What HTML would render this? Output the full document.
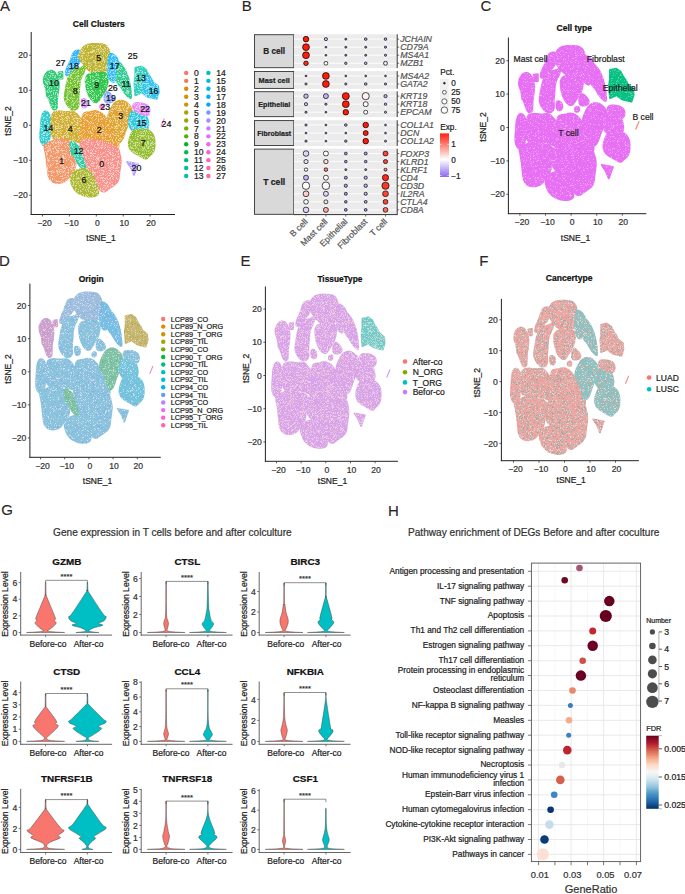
<!DOCTYPE html>
<html><head><meta charset="utf-8"><style>
html,body{margin:0;padding:0;background:#fff;width:685px;height:894px;overflow:hidden}
svg{display:block;font-family:"Liberation Sans", sans-serif}
</style></head><body>
<svg width="685" height="894" viewBox="0 0 685 894">
<rect width="685" height="894" fill="#fff"/>
<defs><filter id="speck" x="0" y="0" width="685" height="894" filterUnits="userSpaceOnUse" color-interpolation-filters="sRGB"><feTurbulence type="fractalNoise" baseFrequency="2.6" numOctaves="1" seed="3" result="n"/><feColorMatrix in="n" type="matrix" values="0 0 0 0 0  0 0 0 0 0  0 0 0 0 0  0 0 0 -12 7.2" result="m"/><feGaussianBlur in="m" stdDeviation="0.3" result="mb"/><feComposite in="SourceGraphic" in2="mb" operator="in"/></filter><filter id="speckC" x="0" y="0" width="685" height="894" filterUnits="userSpaceOnUse" color-interpolation-filters="sRGB"><feTurbulence type="fractalNoise" baseFrequency="2.6" numOctaves="1" seed="3" result="n"/><feColorMatrix in="n" type="matrix" values="0 0 0 0 0  0 0 0 0 0  0 0 0 0 0  0 0 0 -12 8.2" result="m"/><feGaussianBlur in="m" stdDeviation="0.3" result="mb"/><feComposite in="SourceGraphic" in2="mb" operator="in"/></filter><filter id="speckD" x="0" y="0" width="685" height="894" filterUnits="userSpaceOnUse" color-interpolation-filters="sRGB"><feTurbulence type="fractalNoise" baseFrequency="2.6" numOctaves="1" seed="5" result="n"/><feColorMatrix in="n" type="matrix" values="0 0 0 0 0  0 0 0 0 0  0 0 0 0 0  0 0 0 -12 6.6" result="m"/><feGaussianBlur in="m" stdDeviation="0.3" result="mb"/><feComposite in="SourceGraphic" in2="mb" operator="in"/></filter><filter id="sp1" x="0" y="0" width="685" height="894" filterUnits="userSpaceOnUse" color-interpolation-filters="sRGB"><feTurbulence type="fractalNoise" baseFrequency="2.6" numOctaves="1" seed="7" result="n"/><feColorMatrix in="n" type="matrix" values="0 0 0 0 0  0 0 0 0 0  0 0 0 0 0  0 0 0 12 -5.6" result="m"/><feGaussianBlur in="m" stdDeviation="0.3" result="mb"/><feComposite in="SourceGraphic" in2="mb" operator="in"/></filter><filter id="sp2" x="0" y="0" width="685" height="894" filterUnits="userSpaceOnUse" color-interpolation-filters="sRGB"><feTurbulence type="fractalNoise" baseFrequency="2.6" numOctaves="1" seed="11" result="n"/><feColorMatrix in="n" type="matrix" values="0 0 0 0 0  0 0 0 0 0  0 0 0 0 0  0 0 0 12 -6.2" result="m"/><feGaussianBlur in="m" stdDeviation="0.3" result="mb"/><feComposite in="SourceGraphic" in2="mb" operator="in"/></filter><filter id="sp3" x="0" y="0" width="685" height="894" filterUnits="userSpaceOnUse" color-interpolation-filters="sRGB"><feTurbulence type="fractalNoise" baseFrequency="2.6" numOctaves="1" seed="11" result="n"/><feColorMatrix in="n" type="matrix" values="0 0 0 0 0  0 0 0 0 0  0 0 0 0 0  0 0 0 12 -7.0" result="m"/><feGaussianBlur in="m" stdDeviation="0.3" result="mb"/><feComposite in="SourceGraphic" in2="mb" operator="in"/></filter><filter id="soft" x="0" y="0" width="685" height="894" filterUnits="userSpaceOnUse"><feGaussianBlur stdDeviation="0.7"/></filter></defs>
<text x="-0.1" y="10.6" font-size="15" text-anchor="start" fill="#2A2426" stroke="#2A2426" stroke-width="0.12">A</text>
<text x="98.8" y="27.1" font-size="8.5" text-anchor="middle" fill="#111" font-weight="bold"  stroke="#111" stroke-width="0.22">Cell Clusters</text>
<g filter="url(#soft)" opacity="0.8">
<polygon points="45.2,75.0 45.9,73.8 46.7,72.8 47.6,72.0 48.5,71.3 49.6,70.9 50.6,70.7 51.7,70.7 52.8,71.0 53.8,71.6 54.9,72.5 55.9,73.9 56.8,75.7 57.7,77.9 58.3,80.0 58.7,82.1 58.8,84.1 58.8,86.1 58.6,88.0 58.4,90.0 58.1,92.0 57.8,93.9 57.5,95.9 57.3,97.7 57.2,99.6 57.1,101.3 57.1,102.9 57.0,104.4 57.0,105.7 57.0,106.8 56.8,107.8 56.3,108.6 55.7,109.2 54.8,109.6 54.0,109.6 53.2,109.2 52.5,108.3 51.9,107.0 51.3,105.6 50.7,104.2 50.2,102.8 49.7,101.2 49.2,99.9 48.7,98.8 48.2,97.9 47.6,97.1 47.2,96.1 46.8,94.9 46.6,93.4 46.5,91.6 46.2,89.9 45.8,88.1 45.2,86.4 44.6,84.6 44.1,83.0 43.8,81.5 43.7,80.1 43.9,78.8 44.2,77.5 44.6,76.2" fill="#00BC56" stroke="#00BC56" stroke-width="1.8" stroke-linejoin="round"/>
<polygon points="58.6,72.5 62.5,72.0 62.5,78.5 59.0,78.5" fill="#00BC56" stroke="#00BC56" stroke-width="1.8" stroke-linejoin="round"/>
<polygon points="76.4,50.6 77.9,50.4 79.1,50.5 80.0,51.0 80.8,51.9 81.2,53.1 81.5,54.5 81.5,56.0 81.2,57.6 80.8,59.4 80.1,61.1 79.2,62.7 78.1,64.2 76.9,65.8 75.6,67.3 74.2,68.9 72.8,70.6 71.2,72.4 69.9,73.7 68.7,74.7 67.7,75.2 66.8,75.3 66.2,75.1 65.8,74.4 65.7,73.4 65.8,72.1 66.2,70.5 66.7,68.8 67.5,67.0 68.5,65.0 69.4,63.1 70.1,61.4 70.8,59.8 71.2,58.2 71.8,56.8 72.3,55.4 72.9,54.1 73.4,52.9 74.2,51.9 75.2,51.1" fill="#06A4FF" stroke="#06A4FF" stroke-width="1.8" stroke-linejoin="round"/>
<polygon points="81.5,49.8 82.5,48.2 83.6,47.0 84.9,46.0 86.2,45.2 87.8,44.7 89.6,44.3 91.7,44.0 94.1,43.9 96.9,43.9 99.3,44.0 101.3,44.2 103.1,44.5 104.4,44.9 105.7,45.5 106.7,46.4 107.6,47.6 108.4,48.9 109.0,50.4 109.4,52.0 109.7,53.6 109.8,55.4 109.8,57.1 109.8,58.7 109.6,60.2 109.4,61.8 109.0,63.4 108.6,65.1 108.0,67.0 107.4,69.0 106.5,70.6 105.4,71.9 104.0,72.8 102.4,73.2 100.8,73.6 99.1,73.7 97.4,73.6 95.6,73.4 93.9,72.9 92.3,72.3 90.8,71.5 89.2,70.5 87.8,69.3 86.4,67.9 85.1,66.4 83.9,64.6 82.7,63.0 81.6,61.5 80.5,60.1 79.5,58.9 78.9,57.6 78.6,56.4 78.8,55.1 79.2,53.9 79.9,52.6 80.6,51.2" fill="#B0A100" stroke="#B0A100" stroke-width="1.8" stroke-linejoin="round"/>
<polygon points="85.2,67.1 85.1,68.3 84.7,69.7 84.1,71.5 83.1,73.5 81.9,75.9 80.9,78.2 80.2,80.6 79.7,83.0 79.5,85.4 79.3,87.9 79.1,90.5 78.9,93.1 78.6,95.9 78.5,98.3 78.5,100.4 78.6,102.2 78.7,103.8 78.7,105.1 78.4,106.4 77.9,107.5 77.1,108.5 76.2,109.2 75.1,109.6 73.8,109.6 72.2,109.4 70.8,108.6 69.3,107.4 67.9,105.6 66.4,103.4 65.4,101.2 64.8,99.2 64.6,97.2 64.8,95.3 65.1,93.0 65.6,90.2 66.1,86.9 66.8,83.2 67.6,80.0 68.6,77.1 69.8,74.7 71.1,72.8 72.5,71.2 74.2,70.0 76.0,69.1 77.9,68.7 79.7,68.2 81.2,67.6 82.5,67.0 83.6,66.4 84.5,66.2 85.0,66.4" fill="#53B400" stroke="#53B400" stroke-width="1.8" stroke-linejoin="round"/>
<polygon points="85.9,77.9 86.4,77.0 86.9,76.1 87.5,75.3 88.3,74.7 89.2,74.1 90.3,73.7 91.7,73.3 93.3,73.0 95.2,72.7 97.1,72.6 99.1,72.6 101.1,72.6 103.2,72.8 104.9,73.3 106.2,74.3 107.0,75.6 107.5,77.4 107.7,79.1 107.8,80.7 107.7,82.2 107.4,83.8 107.1,85.2 106.8,86.5 106.4,87.7 106.1,88.8 105.5,90.1 104.6,91.6 103.6,93.3 102.2,95.2 101.1,96.9 100.0,98.5 99.1,99.9 98.2,101.1 97.3,101.9 96.3,102.3 95.1,102.2 93.9,101.8 92.6,100.8 91.4,99.4 90.1,97.6 88.9,95.4 87.8,92.9 87.0,90.2 86.4,87.3 85.9,84.1 85.7,81.5 85.7,79.5" fill="#00B823" stroke="#00B823" stroke-width="1.8" stroke-linejoin="round"/>
<polygon points="111.9,53.9 113.2,54.6 114.3,55.3 115.3,56.2 116.2,57.2 116.9,58.3 117.6,59.6 118.4,61.0 119.1,62.6 119.9,64.3 120.2,66.1 120.2,67.8 119.7,69.6 118.8,71.3 118.1,73.0 117.4,74.5 116.9,75.9 116.6,77.2 116.1,78.4 115.7,79.5 115.2,80.5 114.6,81.4 113.9,81.8 113.0,81.8 112.0,81.4 110.8,80.5 109.8,79.2 109.1,77.6 108.5,75.6 108.2,73.1 108.0,70.6 107.9,68.0 108.0,65.2 108.2,62.3 108.4,59.8 108.7,57.8 109.1,56.1 109.4,54.9 110.0,54.1 110.9,53.8" fill="#00AEF9" stroke="#00AEF9" stroke-width="1.8" stroke-linejoin="round"/>
<polygon points="119.5,62.8 120.1,63.2 120.8,63.9 121.6,64.8 122.4,65.9 123.4,67.1 124.3,68.7 125.3,70.6 126.3,72.8 127.2,75.2 128.1,77.7 128.8,80.1 129.4,82.4 129.8,84.6 130.2,86.8 130.5,89.0 130.8,91.2 131.0,93.3 131.1,95.1 131.1,96.4 131.1,97.4 130.9,98.1 130.5,98.2 129.7,97.9 128.6,97.1 127.3,95.9 126.0,94.5 124.8,93.0 123.7,91.4 122.8,89.6 121.8,88.1 120.9,86.8 120.0,85.7 119.1,84.8 118.3,83.9 117.7,82.9 117.1,81.9 116.7,80.8 116.4,79.4 116.4,77.7 116.6,75.8 116.9,73.4 117.3,71.2 117.6,69.1 117.9,67.0 118.2,65.0 118.5,63.6 119.0,62.9" fill="#00BF77" stroke="#00BF77" stroke-width="1.8" stroke-linejoin="round"/>
<polygon points="135.3,67.8 141.4,66.5 145.8,69.5 148.4,74.8 145.8,80.0 144.0,87.0 142.3,92.3 135.3,95.4 134.4,83.5 135.3,76.5" fill="#00C1AD" stroke="#00C1AD" stroke-width="1.8" stroke-linejoin="round"/>
<polygon points="143.9,78.0 148.4,74.8 151.0,78.0 153.1,82.1 158.2,86.2 158.8,92.3 156.7,98.9 148.0,96.9 143.9,94.4 142.3,92.3 144.0,87.0" fill="#00B6EB" stroke="#00B6EB" stroke-width="1.8" stroke-linejoin="round"/>
<polygon points="107.3,91.7 108.0,91.9 108.9,92.5 110.0,93.4 111.1,94.6 112.4,96.1 113.2,97.5 113.6,98.8 113.6,99.9 113.1,101.0 112.2,101.8 111.1,102.3 109.6,102.7 107.8,102.8 106.4,102.6 105.4,101.9 104.7,100.9 104.5,99.5 104.4,98.1 104.5,96.6 104.8,95.1 105.3,93.6 105.9,92.5 106.6,91.9" fill="#7698FF" stroke="#7698FF" stroke-width="1.8" stroke-linejoin="round"/>
<polygon points="83.2,98.8 84.8,99.2 85.9,100.1 86.6,101.2 87.0,102.6 87.0,104.4 86.7,105.8 86.1,106.8 85.1,107.4 83.9,107.6 82.9,107.2 82.1,106.1 81.6,104.2 81.4,101.8 81.6,100.0 82.2,99.0" fill="#C77CFF" stroke="#C77CFF" stroke-width="1.8" stroke-linejoin="round"/>
<polygon points="101.5,104.6 102.5,104.4 103.2,104.5 103.8,105.0 104.0,105.9 104.0,107.1 103.8,108.1 103.2,108.7 102.5,109.0 101.5,109.0 100.8,108.8 100.2,108.2 100.0,107.5 100.0,106.5 100.2,105.7 100.8,105.1" fill="#F166E9" stroke="#F166E9" stroke-width="1.8" stroke-linejoin="round"/>
<polygon points="45.5,111.4 46.6,111.7 47.7,112.3 48.6,113.3 49.4,114.6 50.2,116.4 50.8,118.1 51.2,119.9 51.5,121.6 51.6,123.4 51.6,125.2 51.4,127.2 51.1,129.3 50.7,131.5 50.3,133.6 49.9,135.6 49.7,137.4 49.4,139.2 49.1,140.8 48.5,142.3 47.8,143.8 46.9,145.1 46.0,145.8 45.0,146.0 44.0,145.7 42.9,144.8 42.0,143.7 41.3,142.4 40.8,140.9 40.4,139.1 40.2,137.2 40.2,135.1 40.2,132.9 40.5,130.5 40.7,128.1 40.8,125.7 41.0,123.3 41.1,120.9 41.4,118.7 41.8,116.7 42.3,115.0 42.9,113.4 43.7,112.3 44.6,111.7" fill="#00BFC4" stroke="#00BFC4" stroke-width="1.8" stroke-linejoin="round"/>
<polygon points="54.1,112.2 55.6,111.8 57.3,111.5 59.1,111.4 61.2,111.4 63.3,111.7 65.4,111.8 67.4,111.8 69.3,111.7 71.0,111.4 72.6,111.5 74.1,112.0 75.3,112.8 76.4,113.9 77.5,115.0 78.6,116.2 79.7,117.5 80.8,118.8 81.7,120.5 82.6,122.4 83.4,124.7 84.0,127.4 84.6,129.8 85.2,132.1 85.7,134.3 86.1,136.2 86.1,138.0 85.7,139.5 84.8,140.8 83.5,141.9 82.0,142.5 80.2,142.6 78.2,142.2 76.1,141.3 73.8,140.6 71.4,139.9 68.9,139.4 66.2,138.9 63.6,138.7 61.0,138.6 58.4,138.6 55.7,138.9 53.7,138.3 52.3,136.8 51.5,134.6 51.2,131.5 51.1,128.3 51.1,125.0 51.2,121.7 51.5,118.2 52.0,115.4 52.9,113.4" fill="#C49A00" stroke="#C49A00" stroke-width="1.8" stroke-linejoin="round"/>
<polygon points="85.4,112.7 86.7,112.5 88.2,112.3 89.8,112.0 91.4,111.6 93.2,111.2 94.9,111.0 96.5,111.1 98.1,111.5 99.6,112.1 101.1,113.0 102.5,114.1 103.8,115.4 105.2,117.0 106.5,118.7 107.9,120.5 109.4,122.6 111.0,124.7 112.4,126.9 113.6,129.1 114.6,131.3 115.5,133.5 116.2,135.5 116.9,137.4 117.4,139.1 117.9,140.6 118.2,142.1 118.4,143.7 118.5,145.2 118.5,146.7 118.2,147.6 117.5,148.0 116.6,147.7 115.2,146.8 113.6,145.9 111.5,144.9 109.0,143.9 106.2,142.8 103.3,141.9 100.5,141.1 97.6,140.5 94.8,140.1 92.0,139.8 89.2,139.7 86.6,139.7 83.9,140.0 82.0,139.4 80.7,138.1 80.0,136.0 80.0,133.2 80.1,130.5 80.3,128.0 80.7,125.6 81.1,123.4 81.6,121.3 82.0,119.3 82.4,117.4 82.7,115.6 83.4,114.2 84.2,113.2" fill="#E38900" stroke="#E38900" stroke-width="1.8" stroke-linejoin="round"/>
<polygon points="111.8,107.2 113.1,105.1 114.5,103.3 116.2,102.0 118.0,101.1 119.9,100.7 121.9,100.7 123.7,101.1 125.5,102.0 127.3,103.3 128.8,104.7 130.0,106.1 130.9,107.6 131.5,109.1 131.8,111.0 131.7,113.2 131.2,115.7 130.3,118.5 129.4,121.2 128.6,123.6 127.7,125.7 126.8,127.7 125.9,129.8 125.1,132.1 124.2,134.6 123.3,137.2 122.3,139.4 121.2,141.0 120.1,142.2 118.8,142.8 117.6,142.3 116.5,140.7 115.5,137.9 114.6,133.9 113.6,130.4 112.4,127.4 111.0,124.7 109.4,122.6 108.4,120.4 108.0,118.2 108.1,116.0 108.8,113.8 109.6,111.6 110.6,109.4" fill="#D59100" stroke="#D59100" stroke-width="1.8" stroke-linejoin="round"/>
<polygon points="134.7,111.8 137.2,112.2 139.4,112.8 141.4,113.4 143.2,114.1 144.7,114.9 146.0,116.1 147.0,117.9 147.8,120.1 148.2,122.9 148.4,125.2 148.1,127.2 147.5,128.9 146.5,130.1 145.0,131.1 143.0,131.7 140.5,132.0 137.5,132.0 134.9,131.5 132.8,130.5 131.1,129.0 129.9,127.0 129.1,124.9 128.7,122.8 128.8,120.6 129.2,118.4 129.7,116.4 130.1,114.8 130.4,113.5 130.6,112.5 131.4,111.9 132.8,111.6" fill="#00BCD9" stroke="#00BCD9" stroke-width="1.8" stroke-linejoin="round"/>
<polygon points="136.8,103.0 139.2,103.0 141.6,103.2 143.7,103.8 145.6,104.5 147.4,105.5 148.6,106.8 149.4,108.4 149.6,110.4 149.4,112.6 148.7,114.2 147.6,115.1 146.0,115.2 144.0,114.8 142.0,114.1 140.0,113.4 138.0,112.5 136.0,111.5 134.5,110.3 133.5,108.9 133.0,107.4 133.0,105.6 133.6,104.3 134.9,103.4" fill="#DF70F8" stroke="#DF70F8" stroke-width="1.8" stroke-linejoin="round"/>
<polygon points="137.4,129.8 139.3,129.7 141.1,129.6 142.9,129.6 144.6,129.7 146.4,129.8 148.0,130.2 149.4,130.9 150.7,131.9 151.8,133.1 152.8,134.5 153.5,136.0 154.1,137.6 154.4,139.4 154.7,141.3 154.7,143.4 154.6,145.8 154.4,148.2 153.8,150.4 152.9,152.3 151.8,153.9 150.2,155.1 149.0,156.2 148.1,157.1 147.4,157.9 146.9,158.5 146.2,158.7 145.2,158.6 143.9,158.1 142.4,157.3 140.6,156.3 138.7,155.3 136.6,154.1 134.4,152.9 132.5,151.5 131.0,150.0 129.9,148.3 129.1,146.5 128.8,144.4 128.8,142.1 129.3,139.5 130.2,136.7 131.0,134.4 131.9,132.7 132.7,131.5 133.5,130.9 134.6,130.4 135.9,130.1" fill="#7CAE00" stroke="#7CAE00" stroke-width="1.8" stroke-linejoin="round"/>
<polygon points="45.1,144.4 46.0,144.1 47.4,143.5 49.1,142.6 51.3,141.6 54.0,140.2 56.4,139.3 58.6,138.8 60.5,138.6 62.3,138.9 63.9,139.2 65.4,139.6 66.9,140.2 68.1,140.8 69.2,142.0 69.9,143.6 70.4,145.8 70.7,148.4 71.2,151.2 72.1,154.1 73.3,157.1 74.9,160.2 75.6,163.2 75.4,166.2 74.4,169.1 72.6,171.8 70.9,174.3 69.3,176.5 67.9,178.3 66.7,179.9 65.1,181.1 63.3,182.1 61.1,182.7 58.6,183.0 56.4,182.9 54.4,182.5 52.6,181.6 51.0,180.4 49.8,178.7 48.8,176.7 48.2,174.3 47.9,171.5 47.6,168.7 47.3,165.9 46.9,163.1 46.7,160.4 46.3,157.6 45.8,154.8 45.3,152.0 44.6,149.2 44.4,147.0 44.6,145.4" fill="#EF7F46" stroke="#EF7F46" stroke-width="1.8" stroke-linejoin="round"/>
<polygon points="71.8,141.6 72.8,142.0 74.1,142.7 75.4,143.6 76.8,144.7 78.4,146.0 79.9,147.8 81.3,150.1 82.7,152.9 84.0,156.2 85.0,159.1 85.8,161.7 86.3,163.9 86.7,165.8 86.5,167.2 85.9,168.1 84.8,168.6 83.2,168.6 81.6,167.7 79.9,166.0 78.1,163.5 76.3,160.0 74.7,157.3 73.5,155.3 72.6,154.0 71.9,153.3 71.4,152.2 71.0,150.4 70.7,148.1 70.4,145.2 70.5,143.2 71.0,142.0" fill="#00C094" stroke="#00C094" stroke-width="1.8" stroke-linejoin="round"/>
<polygon points="83.9,140.0 86.6,139.7 89.2,139.7 92.0,139.8 94.8,140.1 97.6,140.5 100.5,141.1 103.3,141.9 106.2,142.8 109.0,143.9 111.5,144.9 113.6,145.9 115.2,146.8 116.6,147.7 117.6,148.6 118.3,149.4 118.8,150.3 119.1,151.2 119.3,152.3 119.7,153.7 120.1,155.3 120.5,157.2 120.8,159.4 120.8,161.8 120.5,164.6 120.1,167.7 119.7,170.6 119.3,173.4 119.0,176.0 118.7,178.5 117.9,180.7 116.6,182.7 114.9,184.5 112.8,186.1 110.7,187.6 108.6,189.0 106.7,190.3 104.8,191.5 102.9,191.7 101.1,190.8 99.2,188.8 97.4,185.6 95.8,182.9 94.6,180.4 93.7,178.2 93.0,176.3 92.3,174.6 91.3,173.1 90.2,171.7 89.0,170.4 88.0,169.0 87.2,167.5 86.7,165.8 86.3,163.9 85.8,161.7 85.0,159.1 84.0,156.2 82.7,152.9 81.6,150.0 80.9,147.4 80.4,145.1 80.3,143.2 80.8,141.7 82.0,140.6" fill="#F8766D" stroke="#F8766D" stroke-width="1.8" stroke-linejoin="round"/>
<polygon points="75.5,170.9 77.7,170.0 79.8,169.4 81.8,169.1 83.7,169.0 85.6,169.3 87.2,169.8 88.6,170.4 89.8,171.2 90.7,172.1 91.6,173.3 92.3,174.7 93.0,176.3 93.7,178.2 94.4,180.4 95.4,182.9 96.5,185.6 97.7,188.8 98.3,191.3 98.1,193.3 97.2,194.8 95.7,195.7 93.9,196.3 91.8,196.6 89.6,196.7 87.1,196.3 84.7,195.8 82.4,195.0 80.1,194.0 78.0,192.8 76.0,191.1 74.3,189.1 72.9,186.7 71.6,183.9 70.9,181.3 70.6,179.0 70.7,176.9 71.4,175.1 72.4,173.5 73.8,172.1" fill="#99A800" stroke="#99A800" stroke-width="1.8" stroke-linejoin="round"/>
<polygon points="127.0,162.0 138.0,164.0 134.0,175.0 131.0,168.0" fill="#A58AFF" stroke="#A58AFF" stroke-width="1.8" stroke-linejoin="round"/>
</g>
<g filter="url(#sp2)" opacity="0.55">
<polygon points="45.2,75.0 45.9,73.8 46.7,72.8 47.6,72.0 48.5,71.3 49.6,70.9 50.6,70.7 51.7,70.7 52.8,71.0 53.8,71.6 54.9,72.5 55.9,73.9 56.8,75.7 57.7,77.9 58.3,80.0 58.7,82.1 58.8,84.1 58.8,86.1 58.6,88.0 58.4,90.0 58.1,92.0 57.8,93.9 57.5,95.9 57.3,97.7 57.2,99.6 57.1,101.3 57.1,102.9 57.0,104.4 57.0,105.7 57.0,106.8 56.8,107.8 56.3,108.6 55.7,109.2 54.8,109.6 54.0,109.6 53.2,109.2 52.5,108.3 51.9,107.0 51.3,105.6 50.7,104.2 50.2,102.8 49.7,101.2 49.2,99.9 48.7,98.8 48.2,97.9 47.6,97.1 47.2,96.1 46.8,94.9 46.6,93.4 46.5,91.6 46.2,89.9 45.8,88.1 45.2,86.4 44.6,84.6 44.1,83.0 43.8,81.5 43.7,80.1 43.9,78.8 44.2,77.5 44.6,76.2" fill="#FFFFFF" stroke="#FFFFFF" stroke-width="1.8" stroke-linejoin="round"/>
<polygon points="58.6,72.5 62.5,72.0 62.5,78.5 59.0,78.5" fill="#FFFFFF" stroke="#FFFFFF" stroke-width="1.8" stroke-linejoin="round"/>
<polygon points="76.4,50.6 77.9,50.4 79.1,50.5 80.0,51.0 80.8,51.9 81.2,53.1 81.5,54.5 81.5,56.0 81.2,57.6 80.8,59.4 80.1,61.1 79.2,62.7 78.1,64.2 76.9,65.8 75.6,67.3 74.2,68.9 72.8,70.6 71.2,72.4 69.9,73.7 68.7,74.7 67.7,75.2 66.8,75.3 66.2,75.1 65.8,74.4 65.7,73.4 65.8,72.1 66.2,70.5 66.7,68.8 67.5,67.0 68.5,65.0 69.4,63.1 70.1,61.4 70.8,59.8 71.2,58.2 71.8,56.8 72.3,55.4 72.9,54.1 73.4,52.9 74.2,51.9 75.2,51.1" fill="#FFFFFF" stroke="#FFFFFF" stroke-width="1.8" stroke-linejoin="round"/>
<polygon points="81.5,49.8 82.5,48.2 83.6,47.0 84.9,46.0 86.2,45.2 87.8,44.7 89.6,44.3 91.7,44.0 94.1,43.9 96.9,43.9 99.3,44.0 101.3,44.2 103.1,44.5 104.4,44.9 105.7,45.5 106.7,46.4 107.6,47.6 108.4,48.9 109.0,50.4 109.4,52.0 109.7,53.6 109.8,55.4 109.8,57.1 109.8,58.7 109.6,60.2 109.4,61.8 109.0,63.4 108.6,65.1 108.0,67.0 107.4,69.0 106.5,70.6 105.4,71.9 104.0,72.8 102.4,73.2 100.8,73.6 99.1,73.7 97.4,73.6 95.6,73.4 93.9,72.9 92.3,72.3 90.8,71.5 89.2,70.5 87.8,69.3 86.4,67.9 85.1,66.4 83.9,64.6 82.7,63.0 81.6,61.5 80.5,60.1 79.5,58.9 78.9,57.6 78.6,56.4 78.8,55.1 79.2,53.9 79.9,52.6 80.6,51.2" fill="#FFFFFF" stroke="#FFFFFF" stroke-width="1.8" stroke-linejoin="round"/>
<polygon points="85.2,67.1 85.1,68.3 84.7,69.7 84.1,71.5 83.1,73.5 81.9,75.9 80.9,78.2 80.2,80.6 79.7,83.0 79.5,85.4 79.3,87.9 79.1,90.5 78.9,93.1 78.6,95.9 78.5,98.3 78.5,100.4 78.6,102.2 78.7,103.8 78.7,105.1 78.4,106.4 77.9,107.5 77.1,108.5 76.2,109.2 75.1,109.6 73.8,109.6 72.2,109.4 70.8,108.6 69.3,107.4 67.9,105.6 66.4,103.4 65.4,101.2 64.8,99.2 64.6,97.2 64.8,95.3 65.1,93.0 65.6,90.2 66.1,86.9 66.8,83.2 67.6,80.0 68.6,77.1 69.8,74.7 71.1,72.8 72.5,71.2 74.2,70.0 76.0,69.1 77.9,68.7 79.7,68.2 81.2,67.6 82.5,67.0 83.6,66.4 84.5,66.2 85.0,66.4" fill="#FFFFFF" stroke="#FFFFFF" stroke-width="1.8" stroke-linejoin="round"/>
<polygon points="85.9,77.9 86.4,77.0 86.9,76.1 87.5,75.3 88.3,74.7 89.2,74.1 90.3,73.7 91.7,73.3 93.3,73.0 95.2,72.7 97.1,72.6 99.1,72.6 101.1,72.6 103.2,72.8 104.9,73.3 106.2,74.3 107.0,75.6 107.5,77.4 107.7,79.1 107.8,80.7 107.7,82.2 107.4,83.8 107.1,85.2 106.8,86.5 106.4,87.7 106.1,88.8 105.5,90.1 104.6,91.6 103.6,93.3 102.2,95.2 101.1,96.9 100.0,98.5 99.1,99.9 98.2,101.1 97.3,101.9 96.3,102.3 95.1,102.2 93.9,101.8 92.6,100.8 91.4,99.4 90.1,97.6 88.9,95.4 87.8,92.9 87.0,90.2 86.4,87.3 85.9,84.1 85.7,81.5 85.7,79.5" fill="#FFFFFF" stroke="#FFFFFF" stroke-width="1.8" stroke-linejoin="round"/>
<polygon points="111.9,53.9 113.2,54.6 114.3,55.3 115.3,56.2 116.2,57.2 116.9,58.3 117.6,59.6 118.4,61.0 119.1,62.6 119.9,64.3 120.2,66.1 120.2,67.8 119.7,69.6 118.8,71.3 118.1,73.0 117.4,74.5 116.9,75.9 116.6,77.2 116.1,78.4 115.7,79.5 115.2,80.5 114.6,81.4 113.9,81.8 113.0,81.8 112.0,81.4 110.8,80.5 109.8,79.2 109.1,77.6 108.5,75.6 108.2,73.1 108.0,70.6 107.9,68.0 108.0,65.2 108.2,62.3 108.4,59.8 108.7,57.8 109.1,56.1 109.4,54.9 110.0,54.1 110.9,53.8" fill="#FFFFFF" stroke="#FFFFFF" stroke-width="1.8" stroke-linejoin="round"/>
<polygon points="119.5,62.8 120.1,63.2 120.8,63.9 121.6,64.8 122.4,65.9 123.4,67.1 124.3,68.7 125.3,70.6 126.3,72.8 127.2,75.2 128.1,77.7 128.8,80.1 129.4,82.4 129.8,84.6 130.2,86.8 130.5,89.0 130.8,91.2 131.0,93.3 131.1,95.1 131.1,96.4 131.1,97.4 130.9,98.1 130.5,98.2 129.7,97.9 128.6,97.1 127.3,95.9 126.0,94.5 124.8,93.0 123.7,91.4 122.8,89.6 121.8,88.1 120.9,86.8 120.0,85.7 119.1,84.8 118.3,83.9 117.7,82.9 117.1,81.9 116.7,80.8 116.4,79.4 116.4,77.7 116.6,75.8 116.9,73.4 117.3,71.2 117.6,69.1 117.9,67.0 118.2,65.0 118.5,63.6 119.0,62.9" fill="#FFFFFF" stroke="#FFFFFF" stroke-width="1.8" stroke-linejoin="round"/>
<polygon points="135.3,67.8 141.4,66.5 145.8,69.5 148.4,74.8 145.8,80.0 144.0,87.0 142.3,92.3 135.3,95.4 134.4,83.5 135.3,76.5" fill="#FFFFFF" stroke="#FFFFFF" stroke-width="1.8" stroke-linejoin="round"/>
<polygon points="143.9,78.0 148.4,74.8 151.0,78.0 153.1,82.1 158.2,86.2 158.8,92.3 156.7,98.9 148.0,96.9 143.9,94.4 142.3,92.3 144.0,87.0" fill="#FFFFFF" stroke="#FFFFFF" stroke-width="1.8" stroke-linejoin="round"/>
<polygon points="107.3,91.7 108.0,91.9 108.9,92.5 110.0,93.4 111.1,94.6 112.4,96.1 113.2,97.5 113.6,98.8 113.6,99.9 113.1,101.0 112.2,101.8 111.1,102.3 109.6,102.7 107.8,102.8 106.4,102.6 105.4,101.9 104.7,100.9 104.5,99.5 104.4,98.1 104.5,96.6 104.8,95.1 105.3,93.6 105.9,92.5 106.6,91.9" fill="#FFFFFF" stroke="#FFFFFF" stroke-width="1.8" stroke-linejoin="round"/>
<polygon points="83.2,98.8 84.8,99.2 85.9,100.1 86.6,101.2 87.0,102.6 87.0,104.4 86.7,105.8 86.1,106.8 85.1,107.4 83.9,107.6 82.9,107.2 82.1,106.1 81.6,104.2 81.4,101.8 81.6,100.0 82.2,99.0" fill="#FFFFFF" stroke="#FFFFFF" stroke-width="1.8" stroke-linejoin="round"/>
<polygon points="101.5,104.6 102.5,104.4 103.2,104.5 103.8,105.0 104.0,105.9 104.0,107.1 103.8,108.1 103.2,108.7 102.5,109.0 101.5,109.0 100.8,108.8 100.2,108.2 100.0,107.5 100.0,106.5 100.2,105.7 100.8,105.1" fill="#FFFFFF" stroke="#FFFFFF" stroke-width="1.8" stroke-linejoin="round"/>
<polygon points="45.5,111.4 46.6,111.7 47.7,112.3 48.6,113.3 49.4,114.6 50.2,116.4 50.8,118.1 51.2,119.9 51.5,121.6 51.6,123.4 51.6,125.2 51.4,127.2 51.1,129.3 50.7,131.5 50.3,133.6 49.9,135.6 49.7,137.4 49.4,139.2 49.1,140.8 48.5,142.3 47.8,143.8 46.9,145.1 46.0,145.8 45.0,146.0 44.0,145.7 42.9,144.8 42.0,143.7 41.3,142.4 40.8,140.9 40.4,139.1 40.2,137.2 40.2,135.1 40.2,132.9 40.5,130.5 40.7,128.1 40.8,125.7 41.0,123.3 41.1,120.9 41.4,118.7 41.8,116.7 42.3,115.0 42.9,113.4 43.7,112.3 44.6,111.7" fill="#FFFFFF" stroke="#FFFFFF" stroke-width="1.8" stroke-linejoin="round"/>
<polygon points="54.1,112.2 55.6,111.8 57.3,111.5 59.1,111.4 61.2,111.4 63.3,111.7 65.4,111.8 67.4,111.8 69.3,111.7 71.0,111.4 72.6,111.5 74.1,112.0 75.3,112.8 76.4,113.9 77.5,115.0 78.6,116.2 79.7,117.5 80.8,118.8 81.7,120.5 82.6,122.4 83.4,124.7 84.0,127.4 84.6,129.8 85.2,132.1 85.7,134.3 86.1,136.2 86.1,138.0 85.7,139.5 84.8,140.8 83.5,141.9 82.0,142.5 80.2,142.6 78.2,142.2 76.1,141.3 73.8,140.6 71.4,139.9 68.9,139.4 66.2,138.9 63.6,138.7 61.0,138.6 58.4,138.6 55.7,138.9 53.7,138.3 52.3,136.8 51.5,134.6 51.2,131.5 51.1,128.3 51.1,125.0 51.2,121.7 51.5,118.2 52.0,115.4 52.9,113.4" fill="#FFFFFF" stroke="#FFFFFF" stroke-width="1.8" stroke-linejoin="round"/>
<polygon points="85.4,112.7 86.7,112.5 88.2,112.3 89.8,112.0 91.4,111.6 93.2,111.2 94.9,111.0 96.5,111.1 98.1,111.5 99.6,112.1 101.1,113.0 102.5,114.1 103.8,115.4 105.2,117.0 106.5,118.7 107.9,120.5 109.4,122.6 111.0,124.7 112.4,126.9 113.6,129.1 114.6,131.3 115.5,133.5 116.2,135.5 116.9,137.4 117.4,139.1 117.9,140.6 118.2,142.1 118.4,143.7 118.5,145.2 118.5,146.7 118.2,147.6 117.5,148.0 116.6,147.7 115.2,146.8 113.6,145.9 111.5,144.9 109.0,143.9 106.2,142.8 103.3,141.9 100.5,141.1 97.6,140.5 94.8,140.1 92.0,139.8 89.2,139.7 86.6,139.7 83.9,140.0 82.0,139.4 80.7,138.1 80.0,136.0 80.0,133.2 80.1,130.5 80.3,128.0 80.7,125.6 81.1,123.4 81.6,121.3 82.0,119.3 82.4,117.4 82.7,115.6 83.4,114.2 84.2,113.2" fill="#FFFFFF" stroke="#FFFFFF" stroke-width="1.8" stroke-linejoin="round"/>
<polygon points="111.8,107.2 113.1,105.1 114.5,103.3 116.2,102.0 118.0,101.1 119.9,100.7 121.9,100.7 123.7,101.1 125.5,102.0 127.3,103.3 128.8,104.7 130.0,106.1 130.9,107.6 131.5,109.1 131.8,111.0 131.7,113.2 131.2,115.7 130.3,118.5 129.4,121.2 128.6,123.6 127.7,125.7 126.8,127.7 125.9,129.8 125.1,132.1 124.2,134.6 123.3,137.2 122.3,139.4 121.2,141.0 120.1,142.2 118.8,142.8 117.6,142.3 116.5,140.7 115.5,137.9 114.6,133.9 113.6,130.4 112.4,127.4 111.0,124.7 109.4,122.6 108.4,120.4 108.0,118.2 108.1,116.0 108.8,113.8 109.6,111.6 110.6,109.4" fill="#FFFFFF" stroke="#FFFFFF" stroke-width="1.8" stroke-linejoin="round"/>
<polygon points="134.7,111.8 137.2,112.2 139.4,112.8 141.4,113.4 143.2,114.1 144.7,114.9 146.0,116.1 147.0,117.9 147.8,120.1 148.2,122.9 148.4,125.2 148.1,127.2 147.5,128.9 146.5,130.1 145.0,131.1 143.0,131.7 140.5,132.0 137.5,132.0 134.9,131.5 132.8,130.5 131.1,129.0 129.9,127.0 129.1,124.9 128.7,122.8 128.8,120.6 129.2,118.4 129.7,116.4 130.1,114.8 130.4,113.5 130.6,112.5 131.4,111.9 132.8,111.6" fill="#FFFFFF" stroke="#FFFFFF" stroke-width="1.8" stroke-linejoin="round"/>
<polygon points="136.8,103.0 139.2,103.0 141.6,103.2 143.7,103.8 145.6,104.5 147.4,105.5 148.6,106.8 149.4,108.4 149.6,110.4 149.4,112.6 148.7,114.2 147.6,115.1 146.0,115.2 144.0,114.8 142.0,114.1 140.0,113.4 138.0,112.5 136.0,111.5 134.5,110.3 133.5,108.9 133.0,107.4 133.0,105.6 133.6,104.3 134.9,103.4" fill="#FFFFFF" stroke="#FFFFFF" stroke-width="1.8" stroke-linejoin="round"/>
<polygon points="137.4,129.8 139.3,129.7 141.1,129.6 142.9,129.6 144.6,129.7 146.4,129.8 148.0,130.2 149.4,130.9 150.7,131.9 151.8,133.1 152.8,134.5 153.5,136.0 154.1,137.6 154.4,139.4 154.7,141.3 154.7,143.4 154.6,145.8 154.4,148.2 153.8,150.4 152.9,152.3 151.8,153.9 150.2,155.1 149.0,156.2 148.1,157.1 147.4,157.9 146.9,158.5 146.2,158.7 145.2,158.6 143.9,158.1 142.4,157.3 140.6,156.3 138.7,155.3 136.6,154.1 134.4,152.9 132.5,151.5 131.0,150.0 129.9,148.3 129.1,146.5 128.8,144.4 128.8,142.1 129.3,139.5 130.2,136.7 131.0,134.4 131.9,132.7 132.7,131.5 133.5,130.9 134.6,130.4 135.9,130.1" fill="#FFFFFF" stroke="#FFFFFF" stroke-width="1.8" stroke-linejoin="round"/>
<polygon points="45.1,144.4 46.0,144.1 47.4,143.5 49.1,142.6 51.3,141.6 54.0,140.2 56.4,139.3 58.6,138.8 60.5,138.6 62.3,138.9 63.9,139.2 65.4,139.6 66.9,140.2 68.1,140.8 69.2,142.0 69.9,143.6 70.4,145.8 70.7,148.4 71.2,151.2 72.1,154.1 73.3,157.1 74.9,160.2 75.6,163.2 75.4,166.2 74.4,169.1 72.6,171.8 70.9,174.3 69.3,176.5 67.9,178.3 66.7,179.9 65.1,181.1 63.3,182.1 61.1,182.7 58.6,183.0 56.4,182.9 54.4,182.5 52.6,181.6 51.0,180.4 49.8,178.7 48.8,176.7 48.2,174.3 47.9,171.5 47.6,168.7 47.3,165.9 46.9,163.1 46.7,160.4 46.3,157.6 45.8,154.8 45.3,152.0 44.6,149.2 44.4,147.0 44.6,145.4" fill="#FFFFFF" stroke="#FFFFFF" stroke-width="1.8" stroke-linejoin="round"/>
<polygon points="71.8,141.6 72.8,142.0 74.1,142.7 75.4,143.6 76.8,144.7 78.4,146.0 79.9,147.8 81.3,150.1 82.7,152.9 84.0,156.2 85.0,159.1 85.8,161.7 86.3,163.9 86.7,165.8 86.5,167.2 85.9,168.1 84.8,168.6 83.2,168.6 81.6,167.7 79.9,166.0 78.1,163.5 76.3,160.0 74.7,157.3 73.5,155.3 72.6,154.0 71.9,153.3 71.4,152.2 71.0,150.4 70.7,148.1 70.4,145.2 70.5,143.2 71.0,142.0" fill="#FFFFFF" stroke="#FFFFFF" stroke-width="1.8" stroke-linejoin="round"/>
<polygon points="83.9,140.0 86.6,139.7 89.2,139.7 92.0,139.8 94.8,140.1 97.6,140.5 100.5,141.1 103.3,141.9 106.2,142.8 109.0,143.9 111.5,144.9 113.6,145.9 115.2,146.8 116.6,147.7 117.6,148.6 118.3,149.4 118.8,150.3 119.1,151.2 119.3,152.3 119.7,153.7 120.1,155.3 120.5,157.2 120.8,159.4 120.8,161.8 120.5,164.6 120.1,167.7 119.7,170.6 119.3,173.4 119.0,176.0 118.7,178.5 117.9,180.7 116.6,182.7 114.9,184.5 112.8,186.1 110.7,187.6 108.6,189.0 106.7,190.3 104.8,191.5 102.9,191.7 101.1,190.8 99.2,188.8 97.4,185.6 95.8,182.9 94.6,180.4 93.7,178.2 93.0,176.3 92.3,174.6 91.3,173.1 90.2,171.7 89.0,170.4 88.0,169.0 87.2,167.5 86.7,165.8 86.3,163.9 85.8,161.7 85.0,159.1 84.0,156.2 82.7,152.9 81.6,150.0 80.9,147.4 80.4,145.1 80.3,143.2 80.8,141.7 82.0,140.6" fill="#FFFFFF" stroke="#FFFFFF" stroke-width="1.8" stroke-linejoin="round"/>
<polygon points="75.5,170.9 77.7,170.0 79.8,169.4 81.8,169.1 83.7,169.0 85.6,169.3 87.2,169.8 88.6,170.4 89.8,171.2 90.7,172.1 91.6,173.3 92.3,174.7 93.0,176.3 93.7,178.2 94.4,180.4 95.4,182.9 96.5,185.6 97.7,188.8 98.3,191.3 98.1,193.3 97.2,194.8 95.7,195.7 93.9,196.3 91.8,196.6 89.6,196.7 87.1,196.3 84.7,195.8 82.4,195.0 80.1,194.0 78.0,192.8 76.0,191.1 74.3,189.1 72.9,186.7 71.6,183.9 70.9,181.3 70.6,179.0 70.7,176.9 71.4,175.1 72.4,173.5 73.8,172.1" fill="#FFFFFF" stroke="#FFFFFF" stroke-width="1.8" stroke-linejoin="round"/>
<polygon points="127.0,162.0 138.0,164.0 134.0,175.0 131.0,168.0" fill="#FFFFFF" stroke="#FFFFFF" stroke-width="1.8" stroke-linejoin="round"/>
</g>
<path d="M164.2,119.0 L161.1,126.1" fill="none" stroke="#FB61D7" stroke-width="1.2" stroke-linecap="round" opacity="0.85"/>
<line x1="31.2" y1="32" x2="31.2" y2="215" stroke="#222" stroke-width="1" />
<line x1="30.7" y1="214.5" x2="175" y2="214.5" stroke="#222" stroke-width="1" />
<line x1="29.2" y1="55.3" x2="31.2" y2="55.3" stroke="#333" stroke-width="0.8" />
<text x="27.7" y="58.4" font-size="8.6" text-anchor="end" fill="#333"  stroke="#333" stroke-width="0.22">20</text>
<line x1="29.2" y1="90.3" x2="31.2" y2="90.3" stroke="#333" stroke-width="0.8" />
<text x="27.7" y="93.4" font-size="8.6" text-anchor="end" fill="#333"  stroke="#333" stroke-width="0.22">10</text>
<line x1="29.2" y1="125.3" x2="31.2" y2="125.3" stroke="#333" stroke-width="0.8" />
<text x="27.7" y="128.4" font-size="8.6" text-anchor="end" fill="#333"  stroke="#333" stroke-width="0.22">0</text>
<line x1="29.2" y1="160.3" x2="31.2" y2="160.3" stroke="#333" stroke-width="0.8" />
<text x="27.7" y="163.4" font-size="8.6" text-anchor="end" fill="#333"  stroke="#333" stroke-width="0.22">−10</text>
<line x1="29.2" y1="195.3" x2="31.2" y2="195.3" stroke="#333" stroke-width="0.8" />
<text x="27.7" y="198.4" font-size="8.6" text-anchor="end" fill="#333"  stroke="#333" stroke-width="0.22">−20</text>
<line x1="42.5" y1="214.5" x2="42.5" y2="216.5" stroke="#333" stroke-width="0.8" />
<text x="44.5" y="225.7" font-size="8.6" text-anchor="middle" fill="#333"  stroke="#333" stroke-width="0.22">−20</text>
<line x1="69.4" y1="214.5" x2="69.4" y2="216.5" stroke="#333" stroke-width="0.8" />
<text x="71.4" y="225.7" font-size="8.6" text-anchor="middle" fill="#333"  stroke="#333" stroke-width="0.22">−10</text>
<line x1="96.3" y1="214.5" x2="96.3" y2="216.5" stroke="#333" stroke-width="0.8" />
<text x="97.3" y="225.7" font-size="8.6" text-anchor="middle" fill="#333"  stroke="#333" stroke-width="0.22">0</text>
<line x1="123.2" y1="214.5" x2="123.2" y2="216.5" stroke="#333" stroke-width="0.8" />
<text x="124.2" y="225.7" font-size="8.6" text-anchor="middle" fill="#333"  stroke="#333" stroke-width="0.22">10</text>
<line x1="150.1" y1="214.5" x2="150.1" y2="216.5" stroke="#333" stroke-width="0.8" />
<text x="151.1" y="225.7" font-size="8.6" text-anchor="middle" fill="#333"  stroke="#333" stroke-width="0.22">20</text>
<text x="11" y="121" font-size="8.5" text-anchor="middle" fill="#222" stroke="#222" stroke-width="0.22" transform="rotate(-90 11 121)">tSNE_2</text>
<text x="101" y="241" font-size="8.5" text-anchor="middle" fill="#222"  stroke="#222" stroke-width="0.22">tSNE_1</text>
<text x="60.6" y="66.2" font-size="8.8" text-anchor="middle" fill="#111"  stroke="#111" stroke-width="0.22">27</text>
<text x="73.9" y="68.8" font-size="8.8" text-anchor="middle" fill="#111"  stroke="#111" stroke-width="0.22">18</text>
<text x="98.6" y="60.9" font-size="8.8" text-anchor="middle" fill="#111"  stroke="#111" stroke-width="0.22">5</text>
<text x="114.7" y="68.8" font-size="8.8" text-anchor="middle" fill="#111"  stroke="#111" stroke-width="0.22">17</text>
<text x="132.7" y="59.4" font-size="8.8" text-anchor="middle" fill="#111"  stroke="#111" stroke-width="0.22">25</text>
<text x="54" y="85.9" font-size="8.8" text-anchor="middle" fill="#111"  stroke="#111" stroke-width="0.22">10</text>
<text x="96.7" y="87.8" font-size="8.8" text-anchor="middle" fill="#111"  stroke="#111" stroke-width="0.22">9</text>
<text x="75.2" y="94.1" font-size="8.8" text-anchor="middle" fill="#111"  stroke="#111" stroke-width="0.22">8</text>
<text x="112.8" y="90.9" font-size="8.8" text-anchor="middle" fill="#111"  stroke="#111" stroke-width="0.22">26</text>
<text x="126.1" y="86.5" font-size="8.8" text-anchor="middle" fill="#111"  stroke="#111" stroke-width="0.22">11</text>
<text x="140.9" y="81.4" font-size="8.8" text-anchor="middle" fill="#111"  stroke="#111" stroke-width="0.22">13</text>
<text x="153.6" y="93.5" font-size="8.8" text-anchor="middle" fill="#111"  stroke="#111" stroke-width="0.22">16</text>
<text x="110.9" y="101.1" font-size="8.8" text-anchor="middle" fill="#111"  stroke="#111" stroke-width="0.22">19</text>
<text x="85.9" y="106" font-size="8.8" text-anchor="middle" fill="#111"  stroke="#111" stroke-width="0.22">21</text>
<text x="105.2" y="109.8" font-size="8.8" text-anchor="middle" fill="#111"  stroke="#111" stroke-width="0.22">23</text>
<text x="145.1" y="111.7" font-size="8.8" text-anchor="middle" fill="#111"  stroke="#111" stroke-width="0.22">22</text>
<text x="120.8" y="118.7" font-size="8.8" text-anchor="middle" fill="#111"  stroke="#111" stroke-width="0.22">3</text>
<text x="48.3" y="130.7" font-size="8.8" text-anchor="middle" fill="#111"  stroke="#111" stroke-width="0.22">14</text>
<text x="70.1" y="131.5" font-size="8.8" text-anchor="middle" fill="#111"  stroke="#111" stroke-width="0.22">4</text>
<text x="99.1" y="133.4" font-size="8.8" text-anchor="middle" fill="#111"  stroke="#111" stroke-width="0.22">2</text>
<text x="141.6" y="125.8" font-size="8.8" text-anchor="middle" fill="#111"  stroke="#111" stroke-width="0.22">15</text>
<text x="166.5" y="127.3" font-size="8.8" text-anchor="middle" fill="#111"  stroke="#111" stroke-width="0.22">24</text>
<text x="143.2" y="145.9" font-size="8.8" text-anchor="middle" fill="#111"  stroke="#111" stroke-width="0.22">7</text>
<text x="78.6" y="153.8" font-size="8.8" text-anchor="middle" fill="#111"  stroke="#111" stroke-width="0.22">12</text>
<text x="61.6" y="163.7" font-size="8.8" text-anchor="middle" fill="#111"  stroke="#111" stroke-width="0.22">1</text>
<text x="101.8" y="167.1" font-size="8.8" text-anchor="middle" fill="#111"  stroke="#111" stroke-width="0.22">0</text>
<text x="136.5" y="170.9" font-size="8.8" text-anchor="middle" fill="#111"  stroke="#111" stroke-width="0.22">20</text>
<text x="84" y="183.3" font-size="8.8" text-anchor="middle" fill="#111"  stroke="#111" stroke-width="0.22">6</text>
<circle cx="186.2" cy="72.9" r="2.2" fill="#F8766D" stroke="none" stroke-width="0.6" />
<text x="194" y="76" font-size="8.6" text-anchor="start" fill="#222"  stroke="#222" stroke-width="0.22">0</text>
<circle cx="186.2" cy="80.83" r="2.2" fill="#EF7F46" stroke="none" stroke-width="0.6" />
<text x="194" y="83.93" font-size="8.6" text-anchor="start" fill="#222"  stroke="#222" stroke-width="0.22">1</text>
<circle cx="186.2" cy="88.76" r="2.2" fill="#E38900" stroke="none" stroke-width="0.6" />
<text x="194" y="91.86" font-size="8.6" text-anchor="start" fill="#222"  stroke="#222" stroke-width="0.22">2</text>
<circle cx="186.2" cy="96.69" r="2.2" fill="#D59100" stroke="none" stroke-width="0.6" />
<text x="194" y="99.79" font-size="8.6" text-anchor="start" fill="#222"  stroke="#222" stroke-width="0.22">3</text>
<circle cx="186.2" cy="104.62" r="2.2" fill="#C49A00" stroke="none" stroke-width="0.6" />
<text x="194" y="107.72" font-size="8.6" text-anchor="start" fill="#222"  stroke="#222" stroke-width="0.22">4</text>
<circle cx="186.2" cy="112.55" r="2.2" fill="#B0A100" stroke="none" stroke-width="0.6" />
<text x="194" y="115.65" font-size="8.6" text-anchor="start" fill="#222"  stroke="#222" stroke-width="0.22">5</text>
<circle cx="186.2" cy="120.48" r="2.2" fill="#99A800" stroke="none" stroke-width="0.6" />
<text x="194" y="123.58" font-size="8.6" text-anchor="start" fill="#222"  stroke="#222" stroke-width="0.22">6</text>
<circle cx="186.2" cy="128.41" r="2.2" fill="#7CAE00" stroke="none" stroke-width="0.6" />
<text x="194" y="131.51" font-size="8.6" text-anchor="start" fill="#222"  stroke="#222" stroke-width="0.22">7</text>
<circle cx="186.2" cy="136.34" r="2.2" fill="#53B400" stroke="none" stroke-width="0.6" />
<text x="194" y="139.44" font-size="8.6" text-anchor="start" fill="#222"  stroke="#222" stroke-width="0.22">8</text>
<circle cx="186.2" cy="144.27" r="2.2" fill="#00B823" stroke="none" stroke-width="0.6" />
<text x="194" y="147.37" font-size="8.6" text-anchor="start" fill="#222"  stroke="#222" stroke-width="0.22">9</text>
<circle cx="186.2" cy="152.2" r="2.2" fill="#00BC56" stroke="none" stroke-width="0.6" />
<text x="194" y="155.3" font-size="8.6" text-anchor="start" fill="#222"  stroke="#222" stroke-width="0.22">10</text>
<circle cx="186.2" cy="160.13" r="2.2" fill="#00BF77" stroke="none" stroke-width="0.6" />
<text x="194" y="163.23" font-size="8.6" text-anchor="start" fill="#222"  stroke="#222" stroke-width="0.22">11</text>
<circle cx="186.2" cy="168.06" r="2.2" fill="#00C094" stroke="none" stroke-width="0.6" />
<text x="194" y="171.16" font-size="8.6" text-anchor="start" fill="#222"  stroke="#222" stroke-width="0.22">12</text>
<circle cx="186.2" cy="175.99" r="2.2" fill="#00C1AD" stroke="none" stroke-width="0.6" />
<text x="194" y="179.09" font-size="8.6" text-anchor="start" fill="#222"  stroke="#222" stroke-width="0.22">13</text>
<circle cx="208.4" cy="72.9" r="2.2" fill="#00BFC4" stroke="none" stroke-width="0.6" />
<text x="216.2" y="76" font-size="8.6" text-anchor="start" fill="#222"  stroke="#222" stroke-width="0.22">14</text>
<circle cx="208.4" cy="80.83" r="2.2" fill="#00BCD9" stroke="none" stroke-width="0.6" />
<text x="216.2" y="83.93" font-size="8.6" text-anchor="start" fill="#222"  stroke="#222" stroke-width="0.22">15</text>
<circle cx="208.4" cy="88.76" r="2.2" fill="#00B6EB" stroke="none" stroke-width="0.6" />
<text x="216.2" y="91.86" font-size="8.6" text-anchor="start" fill="#222"  stroke="#222" stroke-width="0.22">16</text>
<circle cx="208.4" cy="96.69" r="2.2" fill="#00AEF9" stroke="none" stroke-width="0.6" />
<text x="216.2" y="99.79" font-size="8.6" text-anchor="start" fill="#222"  stroke="#222" stroke-width="0.22">17</text>
<circle cx="208.4" cy="104.62" r="2.2" fill="#06A4FF" stroke="none" stroke-width="0.6" />
<text x="216.2" y="107.72" font-size="8.6" text-anchor="start" fill="#222"  stroke="#222" stroke-width="0.22">18</text>
<circle cx="208.4" cy="112.55" r="2.2" fill="#7698FF" stroke="none" stroke-width="0.6" />
<text x="216.2" y="115.65" font-size="8.6" text-anchor="start" fill="#222"  stroke="#222" stroke-width="0.22">19</text>
<circle cx="208.4" cy="120.48" r="2.2" fill="#A58AFF" stroke="none" stroke-width="0.6" />
<text x="216.2" y="123.58" font-size="8.6" text-anchor="start" fill="#222"  stroke="#222" stroke-width="0.22">20</text>
<circle cx="208.4" cy="128.41" r="2.2" fill="#C77CFF" stroke="none" stroke-width="0.6" />
<text x="216.2" y="131.51" font-size="8.6" text-anchor="start" fill="#222"  stroke="#222" stroke-width="0.22">21</text>
<circle cx="208.4" cy="136.34" r="2.2" fill="#DF70F8" stroke="none" stroke-width="0.6" />
<text x="216.2" y="139.44" font-size="8.6" text-anchor="start" fill="#222"  stroke="#222" stroke-width="0.22">22</text>
<circle cx="208.4" cy="144.27" r="2.2" fill="#F166E9" stroke="none" stroke-width="0.6" />
<text x="216.2" y="147.37" font-size="8.6" text-anchor="start" fill="#222"  stroke="#222" stroke-width="0.22">23</text>
<circle cx="208.4" cy="152.2" r="2.2" fill="#FB61D7" stroke="none" stroke-width="0.6" />
<text x="216.2" y="155.3" font-size="8.6" text-anchor="start" fill="#222"  stroke="#222" stroke-width="0.22">24</text>
<circle cx="208.4" cy="160.13" r="2.2" fill="#FF62C1" stroke="none" stroke-width="0.6" />
<text x="216.2" y="163.23" font-size="8.6" text-anchor="start" fill="#222"  stroke="#222" stroke-width="0.22">25</text>
<circle cx="208.4" cy="168.06" r="2.2" fill="#FF66A8" stroke="none" stroke-width="0.6" />
<text x="216.2" y="171.16" font-size="8.6" text-anchor="start" fill="#222"  stroke="#222" stroke-width="0.22">26</text>
<circle cx="208.4" cy="175.99" r="2.2" fill="#FE6D8C" stroke="none" stroke-width="0.6" />
<text x="216.2" y="179.09" font-size="8.6" text-anchor="start" fill="#222"  stroke="#222" stroke-width="0.22">27</text>
<text x="241.7" y="10.6" font-size="15" text-anchor="start" fill="#2A2426" stroke="#2A2426" stroke-width="0.12">B</text>
<rect x="254.5" y="34.7" width="39.3" height="33.01" fill="#D9D9D9" stroke="#333" stroke-width="0.9" />
<text x="274.2" y="54.16" font-size="8.2" text-anchor="middle" fill="#222" font-weight="bold"  stroke="#222" stroke-width="0.22">B cell</text>
<rect x="294" y="34.3" width="102.6" height="33.81" fill="#EBEBEB" stroke="none" stroke-width="1" />
<line x1="294" y1="39.13" x2="396.6" y2="39.13" stroke="#FFFFFF" stroke-width="0.9" />
<line x1="294" y1="47.18" x2="396.6" y2="47.18" stroke="#FFFFFF" stroke-width="0.9" />
<line x1="294" y1="55.23" x2="396.6" y2="55.23" stroke="#FFFFFF" stroke-width="0.9" />
<line x1="294" y1="63.28" x2="396.6" y2="63.28" stroke="#FFFFFF" stroke-width="0.9" />
<line x1="306" y1="34.3" x2="306" y2="68.11" stroke="#FFFFFF" stroke-width="0.9" />
<line x1="325.9" y1="34.3" x2="325.9" y2="68.11" stroke="#FFFFFF" stroke-width="0.9" />
<line x1="345.8" y1="34.3" x2="345.8" y2="68.11" stroke="#FFFFFF" stroke-width="0.9" />
<line x1="365.7" y1="34.3" x2="365.7" y2="68.11" stroke="#FFFFFF" stroke-width="0.9" />
<line x1="385.5" y1="34.3" x2="385.5" y2="68.11" stroke="#FFFFFF" stroke-width="0.9" />
<line x1="397.2" y1="34.3" x2="397.2" y2="68.11" stroke="#333" stroke-width="1" />
<line x1="397.2" y1="39.13" x2="399.2" y2="39.13" stroke="#333" stroke-width="0.7" />
<text x="400.2" y="42.23" font-size="8.8" text-anchor="start" fill="#555" font-style="italic"  stroke="#555" stroke-width="0.22">JCHAIN</text>
<circle cx="306" cy="39.13" r="2.8" fill="#FF1A0A" stroke="#000" stroke-width="0.7" />
<circle cx="325.9" cy="39.13" r="1.6" fill="#CABAF8" stroke="#000" stroke-width="0.7" />
<circle cx="345.8" cy="39.13" r="1" fill="#9F84F2" stroke="#000" stroke-width="0.7" />
<circle cx="365.7" cy="39.13" r="1.3" fill="#B49FF5" stroke="#000" stroke-width="0.7" />
<circle cx="385.5" cy="39.13" r="1.3" fill="#B49FF5" stroke="#000" stroke-width="0.7" />
<line x1="397.2" y1="47.18" x2="399.2" y2="47.18" stroke="#333" stroke-width="0.7" />
<text x="400.2" y="50.28" font-size="8.8" text-anchor="start" fill="#555" font-style="italic"  stroke="#555" stroke-width="0.22">CD79A</text>
<circle cx="306" cy="47.18" r="3.4" fill="#FF1A0A" stroke="#000" stroke-width="0.7" />
<circle cx="325.9" cy="47.18" r="0.9" fill="#9F84F2" stroke="#000" stroke-width="0.7" />
<circle cx="345.8" cy="47.18" r="1" fill="#9F84F2" stroke="#000" stroke-width="0.7" />
<circle cx="365.7" cy="47.18" r="1" fill="#9F84F2" stroke="#000" stroke-width="0.7" />
<circle cx="385.5" cy="47.18" r="1.1" fill="#AA91F4" stroke="#000" stroke-width="0.7" />
<line x1="397.2" y1="55.23" x2="399.2" y2="55.23" stroke="#333" stroke-width="0.7" />
<text x="400.2" y="58.33" font-size="8.8" text-anchor="start" fill="#555" font-style="italic"  stroke="#555" stroke-width="0.22">MS4A1</text>
<circle cx="306" cy="55.23" r="3.4" fill="#FF1A0A" stroke="#000" stroke-width="0.7" />
<circle cx="325.9" cy="55.23" r="0.9" fill="#9F84F2" stroke="#000" stroke-width="0.7" />
<circle cx="345.8" cy="55.23" r="1" fill="#9F84F2" stroke="#000" stroke-width="0.7" />
<circle cx="365.7" cy="55.23" r="1" fill="#9F84F2" stroke="#000" stroke-width="0.7" />
<circle cx="385.5" cy="55.23" r="1.1" fill="#AA91F4" stroke="#000" stroke-width="0.7" />
<line x1="397.2" y1="63.28" x2="399.2" y2="63.28" stroke="#333" stroke-width="0.7" />
<text x="400.2" y="66.38" font-size="8.8" text-anchor="start" fill="#555" font-style="italic"  stroke="#555" stroke-width="0.22">MZB1</text>
<circle cx="306" cy="63.28" r="2.3" fill="#FF2819" stroke="#000" stroke-width="0.7" />
<circle cx="325.9" cy="63.28" r="1.9" fill="#FFFFFF" stroke="#000" stroke-width="0.7" />
<circle cx="345.8" cy="63.28" r="1.2" fill="#BFADF6" stroke="#000" stroke-width="0.7" />
<circle cx="365.7" cy="63.28" r="1.3" fill="#BFADF6" stroke="#000" stroke-width="0.7" />
<circle cx="385.5" cy="63.28" r="2" fill="#EAE4FC" stroke="#000" stroke-width="0.7" />
<rect x="254.5" y="71.5" width="39.3" height="16.91" fill="#D9D9D9" stroke="#333" stroke-width="0.9" />
<text x="274.2" y="82.62" font-size="7.4" text-anchor="middle" fill="#222" font-weight="bold"  stroke="#222" stroke-width="0.22">Mast cell</text>
<rect x="294" y="71.1" width="102.6" height="17.71" fill="#EBEBEB" stroke="none" stroke-width="1" />
<line x1="294" y1="75.93" x2="396.6" y2="75.93" stroke="#FFFFFF" stroke-width="0.9" />
<line x1="294" y1="83.98" x2="396.6" y2="83.98" stroke="#FFFFFF" stroke-width="0.9" />
<line x1="306" y1="71.1" x2="306" y2="88.81" stroke="#FFFFFF" stroke-width="0.9" />
<line x1="325.9" y1="71.1" x2="325.9" y2="88.81" stroke="#FFFFFF" stroke-width="0.9" />
<line x1="345.8" y1="71.1" x2="345.8" y2="88.81" stroke="#FFFFFF" stroke-width="0.9" />
<line x1="365.7" y1="71.1" x2="365.7" y2="88.81" stroke="#FFFFFF" stroke-width="0.9" />
<line x1="385.5" y1="71.1" x2="385.5" y2="88.81" stroke="#FFFFFF" stroke-width="0.9" />
<line x1="397.2" y1="71.1" x2="397.2" y2="88.81" stroke="#333" stroke-width="1" />
<line x1="397.2" y1="75.93" x2="399.2" y2="75.93" stroke="#333" stroke-width="0.7" />
<text x="400.2" y="79.03" font-size="8.8" text-anchor="start" fill="#555" font-style="italic"  stroke="#555" stroke-width="0.22">MS4A2</text>
<circle cx="306" cy="75.93" r="0.9" fill="#9F84F2" stroke="#000" stroke-width="0.7" />
<circle cx="325.9" cy="75.93" r="3.4" fill="#FF1A0A" stroke="#000" stroke-width="0.7" />
<circle cx="345.8" cy="75.93" r="0.9" fill="#9F84F2" stroke="#000" stroke-width="0.7" />
<circle cx="365.7" cy="75.93" r="0.9" fill="#9F84F2" stroke="#000" stroke-width="0.7" />
<circle cx="385.5" cy="75.93" r="0.9" fill="#9F84F2" stroke="#000" stroke-width="0.7" />
<line x1="397.2" y1="83.98" x2="399.2" y2="83.98" stroke="#333" stroke-width="0.7" />
<text x="400.2" y="87.08" font-size="8.8" text-anchor="start" fill="#555" font-style="italic"  stroke="#555" stroke-width="0.22">GATA2</text>
<circle cx="306" cy="83.98" r="1.1" fill="#AA91F4" stroke="#000" stroke-width="0.7" />
<circle cx="325.9" cy="83.98" r="3.4" fill="#FF1A0A" stroke="#000" stroke-width="0.7" />
<circle cx="345.8" cy="83.98" r="1.1" fill="#B49FF5" stroke="#000" stroke-width="0.7" />
<circle cx="365.7" cy="83.98" r="1.3" fill="#BFADF6" stroke="#000" stroke-width="0.7" />
<circle cx="385.5" cy="83.98" r="1.1" fill="#AA91F4" stroke="#000" stroke-width="0.7" />
<rect x="254.5" y="91.7" width="39.3" height="24.96" fill="#D9D9D9" stroke="#333" stroke-width="0.9" />
<text x="274.2" y="106.77" font-size="7.2" text-anchor="middle" fill="#222" font-weight="bold"  stroke="#222" stroke-width="0.22">Epithelial</text>
<rect x="294" y="91.3" width="102.6" height="25.76" fill="#EBEBEB" stroke="none" stroke-width="1" />
<line x1="294" y1="96.13" x2="396.6" y2="96.13" stroke="#FFFFFF" stroke-width="0.9" />
<line x1="294" y1="104.18" x2="396.6" y2="104.18" stroke="#FFFFFF" stroke-width="0.9" />
<line x1="294" y1="112.23" x2="396.6" y2="112.23" stroke="#FFFFFF" stroke-width="0.9" />
<line x1="306" y1="91.3" x2="306" y2="117.06" stroke="#FFFFFF" stroke-width="0.9" />
<line x1="325.9" y1="91.3" x2="325.9" y2="117.06" stroke="#FFFFFF" stroke-width="0.9" />
<line x1="345.8" y1="91.3" x2="345.8" y2="117.06" stroke="#FFFFFF" stroke-width="0.9" />
<line x1="365.7" y1="91.3" x2="365.7" y2="117.06" stroke="#FFFFFF" stroke-width="0.9" />
<line x1="385.5" y1="91.3" x2="385.5" y2="117.06" stroke="#FFFFFF" stroke-width="0.9" />
<line x1="397.2" y1="91.3" x2="397.2" y2="117.06" stroke="#333" stroke-width="1" />
<line x1="397.2" y1="96.13" x2="399.2" y2="96.13" stroke="#333" stroke-width="0.7" />
<text x="400.2" y="99.23" font-size="8.8" text-anchor="start" fill="#555" font-style="italic"  stroke="#555" stroke-width="0.22">KRT19</text>
<circle cx="306" cy="96.13" r="2.2" fill="#CABAF8" stroke="#000" stroke-width="0.7" />
<circle cx="325.9" cy="96.13" r="2.5" fill="#C4B4F7" stroke="#000" stroke-width="0.7" />
<circle cx="345.8" cy="96.13" r="3.5" fill="#FF1A0A" stroke="#000" stroke-width="0.7" />
<circle cx="365.7" cy="96.13" r="3.6" fill="#FFF1F0" stroke="#000" stroke-width="0.7" />
<circle cx="385.5" cy="96.13" r="1.6" fill="#BFADF6" stroke="#000" stroke-width="0.7" />
<line x1="397.2" y1="104.18" x2="399.2" y2="104.18" stroke="#333" stroke-width="0.7" />
<text x="400.2" y="107.28" font-size="8.8" text-anchor="start" fill="#555" font-style="italic"  stroke="#555" stroke-width="0.22">KRT18</text>
<circle cx="306" cy="104.18" r="1.6" fill="#D4C8F9" stroke="#000" stroke-width="0.7" />
<circle cx="325.9" cy="104.18" r="1.1" fill="#B49FF5" stroke="#000" stroke-width="0.7" />
<circle cx="345.8" cy="104.18" r="3.4" fill="#FF1A0A" stroke="#000" stroke-width="0.7" />
<circle cx="365.7" cy="104.18" r="2.5" fill="#FFFFFF" stroke="#000" stroke-width="0.7" />
<circle cx="385.5" cy="104.18" r="1.2" fill="#BFADF6" stroke="#000" stroke-width="0.7" />
<line x1="397.2" y1="112.23" x2="399.2" y2="112.23" stroke="#333" stroke-width="0.7" />
<text x="400.2" y="115.33" font-size="8.8" text-anchor="start" fill="#555" font-style="italic"  stroke="#555" stroke-width="0.22">EPCAM</text>
<circle cx="306" cy="112.23" r="1.1" fill="#B49FF5" stroke="#000" stroke-width="0.7" />
<circle cx="325.9" cy="112.23" r="0.9" fill="#9F84F2" stroke="#000" stroke-width="0.7" />
<circle cx="345.8" cy="112.23" r="2.8" fill="#FF1A0A" stroke="#000" stroke-width="0.7" />
<circle cx="365.7" cy="112.23" r="2" fill="#FFFFFF" stroke="#000" stroke-width="0.7" />
<circle cx="385.5" cy="112.23" r="1.1" fill="#B49FF5" stroke="#000" stroke-width="0.7" />
<rect x="254.5" y="120.6" width="39.3" height="24.96" fill="#D9D9D9" stroke="#333" stroke-width="0.9" />
<text x="274.2" y="135.6" font-size="7.0" text-anchor="middle" fill="#222" font-weight="bold"  stroke="#222" stroke-width="0.22">Fibroblast</text>
<rect x="294" y="120.2" width="102.6" height="25.76" fill="#EBEBEB" stroke="none" stroke-width="1" />
<line x1="294" y1="125.03" x2="396.6" y2="125.03" stroke="#FFFFFF" stroke-width="0.9" />
<line x1="294" y1="133.08" x2="396.6" y2="133.08" stroke="#FFFFFF" stroke-width="0.9" />
<line x1="294" y1="141.13" x2="396.6" y2="141.13" stroke="#FFFFFF" stroke-width="0.9" />
<line x1="306" y1="120.2" x2="306" y2="145.96" stroke="#FFFFFF" stroke-width="0.9" />
<line x1="325.9" y1="120.2" x2="325.9" y2="145.96" stroke="#FFFFFF" stroke-width="0.9" />
<line x1="345.8" y1="120.2" x2="345.8" y2="145.96" stroke="#FFFFFF" stroke-width="0.9" />
<line x1="365.7" y1="120.2" x2="365.7" y2="145.96" stroke="#FFFFFF" stroke-width="0.9" />
<line x1="385.5" y1="120.2" x2="385.5" y2="145.96" stroke="#FFFFFF" stroke-width="0.9" />
<line x1="397.2" y1="120.2" x2="397.2" y2="145.96" stroke="#333" stroke-width="1" />
<line x1="397.2" y1="125.03" x2="399.2" y2="125.03" stroke="#333" stroke-width="0.7" />
<text x="400.2" y="128.13" font-size="8.8" text-anchor="start" fill="#555" font-style="italic"  stroke="#555" stroke-width="0.22">COL1A1</text>
<circle cx="306" cy="125.03" r="1.1" fill="#B49FF5" stroke="#000" stroke-width="0.7" />
<circle cx="325.9" cy="125.03" r="0.9" fill="#9F84F2" stroke="#000" stroke-width="0.7" />
<circle cx="345.8" cy="125.03" r="1.3" fill="#BFADF6" stroke="#000" stroke-width="0.7" />
<circle cx="365.7" cy="125.03" r="2.8" fill="#FF1A0A" stroke="#000" stroke-width="0.7" />
<circle cx="385.5" cy="125.03" r="0.9" fill="#9F84F2" stroke="#000" stroke-width="0.7" />
<line x1="397.2" y1="133.08" x2="399.2" y2="133.08" stroke="#333" stroke-width="0.7" />
<text x="400.2" y="136.18" font-size="8.8" text-anchor="start" fill="#555" font-style="italic"  stroke="#555" stroke-width="0.22">DCN</text>
<circle cx="306" cy="133.08" r="0.9" fill="#9F84F2" stroke="#000" stroke-width="0.7" />
<circle cx="325.9" cy="133.08" r="0.9" fill="#9F84F2" stroke="#000" stroke-width="0.7" />
<circle cx="345.8" cy="133.08" r="0.9" fill="#9F84F2" stroke="#000" stroke-width="0.7" />
<circle cx="365.7" cy="133.08" r="2.5" fill="#FF1A0A" stroke="#000" stroke-width="0.7" />
<circle cx="385.5" cy="133.08" r="0.9" fill="#9F84F2" stroke="#000" stroke-width="0.7" />
<line x1="397.2" y1="141.13" x2="399.2" y2="141.13" stroke="#333" stroke-width="0.7" />
<text x="400.2" y="144.23" font-size="8.8" text-anchor="start" fill="#555" font-style="italic"  stroke="#555" stroke-width="0.22">COL1A2</text>
<circle cx="306" cy="141.13" r="1.1" fill="#B49FF5" stroke="#000" stroke-width="0.7" />
<circle cx="325.9" cy="141.13" r="0.9" fill="#9F84F2" stroke="#000" stroke-width="0.7" />
<circle cx="345.8" cy="141.13" r="1.2" fill="#B49FF5" stroke="#000" stroke-width="0.7" />
<circle cx="365.7" cy="141.13" r="2.8" fill="#FF1A0A" stroke="#000" stroke-width="0.7" />
<circle cx="385.5" cy="141.13" r="1" fill="#AA91F4" stroke="#000" stroke-width="0.7" />
<rect x="254.5" y="149.1" width="39.3" height="65.21" fill="#D9D9D9" stroke="#333" stroke-width="0.9" />
<text x="274.2" y="184.8" font-size="8.6" text-anchor="middle" fill="#222" font-weight="bold"  stroke="#222" stroke-width="0.22">T cell</text>
<rect x="294" y="148.7" width="102.6" height="66.01" fill="#EBEBEB" stroke="none" stroke-width="1" />
<line x1="294" y1="153.53" x2="396.6" y2="153.53" stroke="#FFFFFF" stroke-width="0.9" />
<line x1="294" y1="161.58" x2="396.6" y2="161.58" stroke="#FFFFFF" stroke-width="0.9" />
<line x1="294" y1="169.63" x2="396.6" y2="169.63" stroke="#FFFFFF" stroke-width="0.9" />
<line x1="294" y1="177.68" x2="396.6" y2="177.68" stroke="#FFFFFF" stroke-width="0.9" />
<line x1="294" y1="185.73" x2="396.6" y2="185.73" stroke="#FFFFFF" stroke-width="0.9" />
<line x1="294" y1="193.78" x2="396.6" y2="193.78" stroke="#FFFFFF" stroke-width="0.9" />
<line x1="294" y1="201.83" x2="396.6" y2="201.83" stroke="#FFFFFF" stroke-width="0.9" />
<line x1="294" y1="209.88" x2="396.6" y2="209.88" stroke="#FFFFFF" stroke-width="0.9" />
<line x1="306" y1="148.7" x2="306" y2="214.71" stroke="#FFFFFF" stroke-width="0.9" />
<line x1="325.9" y1="148.7" x2="325.9" y2="214.71" stroke="#FFFFFF" stroke-width="0.9" />
<line x1="345.8" y1="148.7" x2="345.8" y2="214.71" stroke="#FFFFFF" stroke-width="0.9" />
<line x1="365.7" y1="148.7" x2="365.7" y2="214.71" stroke="#FFFFFF" stroke-width="0.9" />
<line x1="385.5" y1="148.7" x2="385.5" y2="214.71" stroke="#FFFFFF" stroke-width="0.9" />
<line x1="397.2" y1="148.7" x2="397.2" y2="214.71" stroke="#333" stroke-width="1" />
<line x1="397.2" y1="153.53" x2="399.2" y2="153.53" stroke="#333" stroke-width="0.7" />
<text x="400.2" y="156.63" font-size="8.8" text-anchor="start" fill="#555" font-style="italic"  stroke="#555" stroke-width="0.22">FOXP3</text>
<circle cx="306" cy="153.53" r="2.8" fill="#DFD6FB" stroke="#000" stroke-width="0.7" />
<circle cx="325.9" cy="153.53" r="2.5" fill="#FFFFFF" stroke="#000" stroke-width="0.7" />
<circle cx="345.8" cy="153.53" r="1.4" fill="#AF98F4" stroke="#000" stroke-width="0.7" />
<circle cx="365.7" cy="153.53" r="1.5" fill="#AF98F4" stroke="#000" stroke-width="0.7" />
<circle cx="385.5" cy="153.53" r="2.5" fill="#FF4538" stroke="#000" stroke-width="0.7" />
<line x1="397.2" y1="161.58" x2="399.2" y2="161.58" stroke="#333" stroke-width="0.7" />
<text x="400.2" y="164.68" font-size="8.8" text-anchor="start" fill="#555" font-style="italic"  stroke="#555" stroke-width="0.22">KLRD1</text>
<circle cx="306" cy="161.58" r="2.1" fill="#EAE4FC" stroke="#000" stroke-width="0.7" />
<circle cx="325.9" cy="161.58" r="2.2" fill="#FFDBD9" stroke="#000" stroke-width="0.7" />
<circle cx="345.8" cy="161.58" r="1.3" fill="#AF98F4" stroke="#000" stroke-width="0.7" />
<circle cx="365.7" cy="161.58" r="1.3" fill="#AF98F4" stroke="#000" stroke-width="0.7" />
<circle cx="385.5" cy="161.58" r="2.1" fill="#FF4538" stroke="#000" stroke-width="0.7" />
<line x1="397.2" y1="169.63" x2="399.2" y2="169.63" stroke="#333" stroke-width="0.7" />
<text x="400.2" y="172.73" font-size="8.8" text-anchor="start" fill="#555" font-style="italic"  stroke="#555" stroke-width="0.22">KLRF1</text>
<circle cx="306" cy="169.63" r="1.7" fill="#FAF8FE" stroke="#000" stroke-width="0.7" />
<circle cx="325.9" cy="169.63" r="1.8" fill="#FF7E75" stroke="#000" stroke-width="0.7" />
<circle cx="345.8" cy="169.63" r="1" fill="#9F84F2" stroke="#000" stroke-width="0.7" />
<circle cx="365.7" cy="169.63" r="1" fill="#9F84F2" stroke="#000" stroke-width="0.7" />
<circle cx="385.5" cy="169.63" r="1.5" fill="#FF7E75" stroke="#000" stroke-width="0.7" />
<line x1="397.2" y1="177.68" x2="399.2" y2="177.68" stroke="#333" stroke-width="0.7" />
<text x="400.2" y="180.78" font-size="8.8" text-anchor="start" fill="#555" font-style="italic"  stroke="#555" stroke-width="0.22">CD4</text>
<circle cx="306" cy="177.68" r="2.5" fill="#C4B4F7" stroke="#000" stroke-width="0.7" />
<circle cx="325.9" cy="177.68" r="2.5" fill="#FFFFFF" stroke="#000" stroke-width="0.7" />
<circle cx="345.8" cy="177.68" r="1.5" fill="#AF98F4" stroke="#000" stroke-width="0.7" />
<circle cx="365.7" cy="177.68" r="1.6" fill="#BFADF6" stroke="#000" stroke-width="0.7" />
<circle cx="385.5" cy="177.68" r="3.1" fill="#FF2819" stroke="#000" stroke-width="0.7" />
<line x1="397.2" y1="185.73" x2="399.2" y2="185.73" stroke="#333" stroke-width="0.7" />
<text x="400.2" y="188.83" font-size="8.8" text-anchor="start" fill="#555" font-style="italic"  stroke="#555" stroke-width="0.22">CD3D</text>
<circle cx="306" cy="185.73" r="3.7" fill="#FFFFFF" stroke="#000" stroke-width="0.7" />
<circle cx="325.9" cy="185.73" r="3.8" fill="#FFF8F7" stroke="#000" stroke-width="0.7" />
<circle cx="345.8" cy="185.73" r="1.6" fill="#B49FF5" stroke="#000" stroke-width="0.7" />
<circle cx="365.7" cy="185.73" r="1.7" fill="#BFADF6" stroke="#000" stroke-width="0.7" />
<circle cx="385.5" cy="185.73" r="3.6" fill="#FF3729" stroke="#000" stroke-width="0.7" />
<line x1="397.2" y1="193.78" x2="399.2" y2="193.78" stroke="#333" stroke-width="0.7" />
<text x="400.2" y="196.88" font-size="8.8" text-anchor="start" fill="#555" font-style="italic"  stroke="#555" stroke-width="0.22">IL2RA</text>
<circle cx="306" cy="193.78" r="2.9" fill="#FFCDC9" stroke="#000" stroke-width="0.7" />
<circle cx="325.9" cy="193.78" r="2.5" fill="#DFD6FB" stroke="#000" stroke-width="0.7" />
<circle cx="345.8" cy="193.78" r="1.5" fill="#AF98F4" stroke="#000" stroke-width="0.7" />
<circle cx="365.7" cy="193.78" r="1.6" fill="#BAA6F6" stroke="#000" stroke-width="0.7" />
<circle cx="385.5" cy="193.78" r="2.9" fill="#FF4538" stroke="#000" stroke-width="0.7" />
<line x1="397.2" y1="201.83" x2="399.2" y2="201.83" stroke="#333" stroke-width="0.7" />
<text x="400.2" y="204.93" font-size="8.8" text-anchor="start" fill="#555" font-style="italic"  stroke="#555" stroke-width="0.22">CTLA4</text>
<circle cx="306" cy="201.83" r="2.3" fill="#FFFFFF" stroke="#000" stroke-width="0.7" />
<circle cx="325.9" cy="201.83" r="2" fill="#FFE2E0" stroke="#000" stroke-width="0.7" />
<circle cx="345.8" cy="201.83" r="1.3" fill="#AF98F4" stroke="#000" stroke-width="0.7" />
<circle cx="365.7" cy="201.83" r="1.4" fill="#B49FF5" stroke="#000" stroke-width="0.7" />
<circle cx="385.5" cy="201.83" r="2.4" fill="#FF4538" stroke="#000" stroke-width="0.7" />
<line x1="397.2" y1="209.88" x2="399.2" y2="209.88" stroke="#333" stroke-width="0.7" />
<text x="400.2" y="212.98" font-size="8.8" text-anchor="start" fill="#555" font-style="italic"  stroke="#555" stroke-width="0.22">CD8A</text>
<circle cx="306" cy="209.88" r="2.8" fill="#DFD6FB" stroke="#000" stroke-width="0.7" />
<circle cx="325.9" cy="209.88" r="2.5" fill="#FFA9A3" stroke="#000" stroke-width="0.7" />
<circle cx="345.8" cy="209.88" r="1.4" fill="#AF98F4" stroke="#000" stroke-width="0.7" />
<circle cx="365.7" cy="209.88" r="1.4" fill="#AF98F4" stroke="#000" stroke-width="0.7" />
<circle cx="385.5" cy="209.88" r="2.4" fill="#FF7066" stroke="#000" stroke-width="0.7" />
<line x1="294" y1="214.6" x2="397.7" y2="214.6" stroke="#333" stroke-width="1" />
<line x1="306" y1="214.6" x2="306" y2="216.6" stroke="#333" stroke-width="0.7" />
<line x1="325.9" y1="214.6" x2="325.9" y2="216.6" stroke="#333" stroke-width="0.7" />
<line x1="345.8" y1="214.6" x2="345.8" y2="216.6" stroke="#333" stroke-width="0.7" />
<line x1="365.7" y1="214.6" x2="365.7" y2="216.6" stroke="#333" stroke-width="0.7" />
<line x1="385.5" y1="214.6" x2="385.5" y2="216.6" stroke="#333" stroke-width="0.7" />
<text x="308.3" y="222.3" font-size="8.7" text-anchor="end" fill="#555" stroke="#555" stroke-width="0.2" transform="rotate(-45 308.3 222.3)">B cell</text>
<text x="328.2" y="222.3" font-size="8.7" text-anchor="end" fill="#555" stroke="#555" stroke-width="0.2" transform="rotate(-45 328.2 222.3)">Mast cell</text>
<text x="348.1" y="222.3" font-size="8.7" text-anchor="end" fill="#555" stroke="#555" stroke-width="0.2" transform="rotate(-45 348.1 222.3)">Epithelial</text>
<text x="368" y="222.3" font-size="8.7" text-anchor="end" fill="#555" stroke="#555" stroke-width="0.2" transform="rotate(-45 368 222.3)">Fibroblast</text>
<text x="387.8" y="222.3" font-size="8.7" text-anchor="end" fill="#555" stroke="#555" stroke-width="0.2" transform="rotate(-45 387.8 222.3)">T cell</text>
<text x="440.3" y="75.3" font-size="8.2" text-anchor="start" fill="#222"  stroke="#222" stroke-width="0.22">Pct.</text>
<rect x="440" y="78.9" width="8.8" height="34.9" fill="#F0F0F0" stroke="none" stroke-width="1" />
<circle cx="444.4" cy="83.2" r="0.9" fill="#222" stroke="#222" stroke-width="0.7" />
<text x="451.2" y="86.2" font-size="8.2" text-anchor="start" fill="#222"  stroke="#222" stroke-width="0.22">0</text>
<circle cx="444.4" cy="92.3" r="1.9" fill="#FFFFFF" stroke="#222" stroke-width="0.7" />
<text x="451.2" y="95.3" font-size="8.2" text-anchor="start" fill="#222"  stroke="#222" stroke-width="0.22">25</text>
<circle cx="444.4" cy="101.4" r="2.6" fill="#FFFFFF" stroke="#222" stroke-width="0.7" />
<text x="451.2" y="104.4" font-size="8.2" text-anchor="start" fill="#222"  stroke="#222" stroke-width="0.22">50</text>
<circle cx="444.4" cy="110.1" r="3.2" fill="#FFFFFF" stroke="#222" stroke-width="0.7" />
<text x="451.2" y="113.1" font-size="8.2" text-anchor="start" fill="#222"  stroke="#222" stroke-width="0.22">75</text>
<text x="440.3" y="130" font-size="8.2" text-anchor="start" fill="#222"  stroke="#222" stroke-width="0.22">Exp.</text>
<defs><linearGradient id="gexp" x1="0" y1="0" x2="0" y2="1"><stop offset="0" stop-color="#FF2010"/><stop offset="0.6" stop-color="#FFFFFF"/><stop offset="1" stop-color="#8A6AF0"/></linearGradient></defs>
<rect x="440" y="133.4" width="9" height="43.6" fill="url(#gexp)" stroke="none" stroke-width="1" />
<line x1="440" y1="144.3" x2="441.6" y2="144.3" stroke="#fff" stroke-width="0.6" />
<line x1="447.4" y1="144.3" x2="449" y2="144.3" stroke="#fff" stroke-width="0.6" />
<text x="451.2" y="147.3" font-size="8.2" text-anchor="start" fill="#222"  stroke="#222" stroke-width="0.22">1</text>
<line x1="440" y1="160" x2="441.6" y2="160" stroke="#fff" stroke-width="0.6" />
<line x1="447.4" y1="160" x2="449" y2="160" stroke="#fff" stroke-width="0.6" />
<text x="451.2" y="163" font-size="8.2" text-anchor="start" fill="#222"  stroke="#222" stroke-width="0.22">0</text>
<line x1="440" y1="175.5" x2="441.6" y2="175.5" stroke="#fff" stroke-width="0.6" />
<line x1="447.4" y1="175.5" x2="449" y2="175.5" stroke="#fff" stroke-width="0.6" />
<text x="451.2" y="178.5" font-size="8.2" text-anchor="start" fill="#222"  stroke="#222" stroke-width="0.22">−1</text>
<text x="480.4" y="10.6" font-size="15" text-anchor="start" fill="#2A2426" stroke="#2A2426" stroke-width="0.12">C</text>
<text x="574.3" y="30.5" font-size="8.5" text-anchor="middle" fill="#111" font-weight="bold"  stroke="#111" stroke-width="0.22">Cell type</text>
<g filter="url(#soft)" opacity="0.96">
<polygon points="520.5,77.4 521.2,76.2 522.0,75.2 522.8,74.4 523.8,73.7 524.8,73.3 525.9,73.1 526.9,73.1 528.0,73.4 529.1,74.0 530.1,74.9 531.1,76.3 532.0,78.1 532.9,80.3 533.5,82.5 533.9,84.6 534.1,86.6 534.0,88.6 533.8,90.5 533.6,92.5 533.3,94.5 533.0,96.5 532.7,98.4 532.5,100.3 532.4,102.2 532.3,103.9 532.3,105.6 532.2,107.0 532.2,108.3 532.2,109.5 532.0,110.4 531.6,111.2 530.9,111.8 530.0,112.3 529.2,112.3 528.5,111.9 527.8,111.0 527.1,109.6 526.5,108.3 526.0,106.8 525.4,105.4 525.0,103.9 524.5,102.5 524.0,101.4 523.4,100.5 522.9,99.7 522.4,98.7 522.1,97.4 521.9,95.9 521.8,94.2 521.5,92.4 521.1,90.6 520.5,88.9 519.8,87.1 519.3,85.5 519.1,83.9 519.0,82.5 519.2,81.2 519.4,79.9 519.9,78.7" fill="#E76BF3" stroke="#E76BF3" stroke-width="2.2" stroke-linejoin="round"/>
<polygon points="533.8,74.9 537.7,74.4 537.7,80.9 534.2,80.9" fill="#E76BF3" stroke="#E76BF3" stroke-width="2.2" stroke-linejoin="round"/>
<polygon points="551.6,52.9 553.0,52.6 554.2,52.7 555.1,53.2 555.8,54.1 556.3,55.4 556.6,56.8 556.6,58.3 556.3,59.9 555.8,61.7 555.2,63.4 554.3,65.0 553.2,66.6 552.0,68.1 550.7,69.7 549.3,71.3 547.9,73.0 546.4,74.8 545.1,76.1 543.9,77.1 542.8,77.6 542.0,77.7 541.4,77.5 541.0,76.9 540.9,75.8 541.0,74.5 541.3,72.9 541.9,71.2 542.7,69.4 543.7,67.3 544.5,65.5 545.3,63.7 545.9,62.1 546.4,60.6 546.9,59.1 547.4,57.7 548.0,56.4 548.6,55.1 549.4,54.1 550.3,53.4" fill="#E76BF3" stroke="#E76BF3" stroke-width="2.2" stroke-linejoin="round"/>
<polygon points="556.6,52.0 557.6,50.5 558.7,49.2 560.0,48.2 561.3,47.4 562.8,46.9 564.6,46.5 566.7,46.2 569.2,46.1 571.9,46.1 574.3,46.2 576.3,46.4 578.0,46.7 579.4,47.1 580.6,47.8 581.7,48.6 582.6,49.8 583.3,51.2 583.9,52.7 584.4,54.2 584.6,55.9 584.8,57.7 584.8,59.4 584.7,61.0 584.6,62.6 584.3,64.1 584.0,65.7 583.5,67.5 583.0,69.4 582.3,71.4 581.5,73.0 580.3,74.3 579.0,75.2 577.4,75.7 575.8,76.0 574.1,76.1 572.4,76.0 570.6,75.8 569.0,75.3 567.4,74.7 565.8,73.9 564.3,72.9 562.9,71.7 561.5,70.3 560.2,68.7 559.0,67.0 557.8,65.3 556.7,63.8 555.6,62.4 554.6,61.2 554.0,59.9 553.7,58.7 553.9,57.4 554.4,56.1 555.0,54.8 555.7,53.4" fill="#E76BF3" stroke="#E76BF3" stroke-width="2.2" stroke-linejoin="round"/>
<polygon points="560.3,69.5 560.2,70.6 559.8,72.1 559.2,73.9 558.2,75.9 557.0,78.3 556.0,80.7 555.3,83.1 554.8,85.5 554.6,87.9 554.4,90.4 554.2,93.0 554.0,95.7 553.7,98.4 553.6,100.9 553.6,103.0 553.7,104.9 553.8,106.4 553.8,107.8 553.5,109.0 553.0,110.1 552.2,111.2 551.3,111.8 550.2,112.2 548.9,112.3 547.4,112.0 545.9,111.3 544.5,110.0 543.0,108.3 541.6,106.0 540.6,103.8 540.0,101.7 539.8,99.8 540.0,97.9 540.3,95.5 540.7,92.7 541.3,89.5 542.0,85.7 542.8,82.4 543.8,79.6 544.9,77.2 546.2,75.2 547.7,73.6 549.3,72.3 551.1,71.5 553.0,71.0 554.8,70.5 556.3,70.0 557.6,69.4 558.7,68.7 559.5,68.5 560.0,68.8" fill="#E76BF3" stroke="#E76BF3" stroke-width="2.2" stroke-linejoin="round"/>
<polygon points="561.0,80.4 561.4,79.4 562.0,78.5 562.6,77.8 563.4,77.1 564.2,76.5 565.4,76.1 566.7,75.7 568.3,75.4 570.2,75.1 572.1,75.0 574.1,75.0 576.1,75.0 578.2,75.2 579.9,75.7 581.2,76.7 582.0,78.0 582.4,79.8 582.7,81.5 582.7,83.1 582.6,84.7 582.4,86.2 582.1,87.6 581.8,89.0 581.4,90.2 581.0,91.3 580.4,92.6 579.6,94.2 578.5,95.9 577.2,97.7 576.1,99.5 575.0,101.1 574.1,102.5 573.2,103.7 572.3,104.5 571.3,104.9 570.1,104.9 568.9,104.4 567.7,103.4 566.4,102.0 565.2,100.2 563.9,97.9 562.9,95.4 562.1,92.7 561.4,89.8 561.0,86.6 560.8,84.0 560.8,81.9" fill="#E76BF3" stroke="#E76BF3" stroke-width="2.2" stroke-linejoin="round"/>
<polygon points="586.9,56.2 588.1,56.8 589.3,57.6 590.2,58.5 591.1,59.5 591.8,60.6 592.6,61.9 593.3,63.3 594.0,64.9 594.8,66.7 595.1,68.4 595.1,70.2 594.6,71.9 593.7,73.7 593.0,75.4 592.3,76.9 591.9,78.4 591.5,79.7 591.1,80.9 590.6,82.0 590.1,83.0 589.6,83.8 588.8,84.3 588.0,84.3 586.9,83.8 585.7,83.0 584.8,81.7 584.0,80.0 583.5,78.0 583.1,75.5 583.0,73.0 582.9,70.3 583.0,67.5 583.2,64.6 583.4,62.2 583.7,60.1 584.0,58.4 584.4,57.2 585.0,56.4 585.8,56.1" fill="#E76BF3" stroke="#E76BF3" stroke-width="2.2" stroke-linejoin="round"/>
<polygon points="594.4,65.1 595.0,65.6 595.7,66.3 596.5,67.2 597.3,68.2 598.3,69.5 599.2,71.1 600.2,72.9 601.1,75.2 602.1,77.7 602.9,80.1 603.6,82.5 604.2,84.8 604.7,87.1 605.1,89.3 605.4,91.5 605.6,93.7 605.8,95.9 606.0,97.6 606.0,99.0 605.9,100.0 605.8,100.6 605.3,100.8 604.6,100.5 603.5,99.7 602.1,98.4 600.9,97.1 599.7,95.5 598.6,93.9 597.6,92.1 596.7,90.6 595.8,89.3 594.9,88.2 594.0,87.3 593.3,86.4 592.6,85.4 592.0,84.4 591.6,83.3 591.3,81.9 591.3,80.2 591.5,78.2 591.9,75.9 592.2,73.6 592.5,71.5 592.8,69.4 593.1,67.3 593.5,66.0 593.9,65.2" fill="#E76BF3" stroke="#E76BF3" stroke-width="2.2" stroke-linejoin="round"/>
<polygon points="610.1,70.2 616.2,68.9 620.6,71.9 623.2,77.2 620.6,82.5 618.8,89.5 617.1,94.8 610.1,98.0 609.2,86.0 610.1,78.9" fill="#00BF7D" stroke="#00BF7D" stroke-width="2.2" stroke-linejoin="round"/>
<polygon points="618.7,80.4 623.2,77.2 625.7,80.4 627.8,84.6 632.9,88.7 633.5,94.8 631.4,101.5 622.8,99.5 618.7,97.0 617.1,94.8 618.8,89.5" fill="#00BF7D" stroke="#00BF7D" stroke-width="2.2" stroke-linejoin="round"/>
<polygon points="582.2,94.2 583.0,94.5 583.9,95.0 584.9,95.9 586.1,97.1 587.3,98.7 588.2,100.1 588.5,101.4 588.5,102.5 588.0,103.6 587.2,104.4 586.0,104.9 584.6,105.3 582.8,105.4 581.4,105.2 580.3,104.5 579.7,103.5 579.5,102.1 579.4,100.6 579.5,99.2 579.8,97.7 580.3,96.1 580.9,95.0 581.5,94.4" fill="#E76BF3" stroke="#E76BF3" stroke-width="2.2" stroke-linejoin="round"/>
<polygon points="558.3,101.3 559.8,101.8 560.9,102.7 561.7,103.8 562.1,105.2 562.1,107.0 561.8,108.4 561.1,109.4 560.2,110.0 559.0,110.3 558.0,109.8 557.2,108.7 556.7,106.9 556.5,104.4 556.7,102.6 557.3,101.6" fill="#E76BF3" stroke="#E76BF3" stroke-width="2.2" stroke-linejoin="round"/>
<polygon points="576.5,107.3 577.5,107.0 578.2,107.1 578.7,107.6 579.0,108.5 579.0,109.8 578.7,110.7 578.2,111.3 577.5,111.7 576.5,111.7 575.7,111.4 575.2,110.9 575.0,110.1 575.0,109.1 575.2,108.3 575.7,107.7" fill="#E76BF3" stroke="#E76BF3" stroke-width="2.2" stroke-linejoin="round"/>
<polygon points="520.8,114.1 521.9,114.3 522.9,114.9 523.8,115.9 524.7,117.3 525.4,119.1 526.0,120.8 526.4,122.6 526.7,124.4 526.9,126.1 526.8,128.0 526.7,130.0 526.4,132.1 525.9,134.3 525.5,136.4 525.2,138.4 524.9,140.3 524.7,142.0 524.3,143.7 523.8,145.2 523.0,146.6 522.2,148.0 521.3,148.7 520.3,148.9 519.3,148.6 518.2,147.7 517.3,146.6 516.6,145.3 516.1,143.8 515.7,142.0 515.5,140.1 515.5,138.0 515.5,135.7 515.8,133.3 516.0,130.9 516.1,128.5 516.3,126.1 516.4,123.6 516.7,121.4 517.0,119.4 517.6,117.7 518.2,116.1 519.0,115.0 519.8,114.3" fill="#E76BF3" stroke="#E76BF3" stroke-width="2.2" stroke-linejoin="round"/>
<polygon points="529.3,114.9 530.8,114.5 532.5,114.2 534.4,114.1 536.4,114.1 538.5,114.3 540.6,114.5 542.6,114.5 544.4,114.3 546.2,114.1 547.8,114.2 549.2,114.7 550.4,115.4 551.5,116.5 552.6,117.7 553.7,118.9 554.8,120.2 555.8,121.5 556.8,123.2 557.7,125.2 558.5,127.5 559.1,130.1 559.7,132.6 560.2,134.9 560.7,137.1 561.2,139.1 561.2,140.8 560.8,142.4 559.9,143.7 558.6,144.8 557.0,145.4 555.3,145.5 553.3,145.1 551.2,144.2 548.9,143.4 546.5,142.8 544.0,142.2 541.4,141.8 538.8,141.5 536.2,141.4 533.6,141.5 531.0,141.7 528.9,141.1 527.5,139.7 526.7,137.4 526.5,134.3 526.4,131.1 526.4,127.8 526.5,124.4 526.7,120.9 527.3,118.1 528.1,116.1" fill="#E76BF3" stroke="#E76BF3" stroke-width="2.2" stroke-linejoin="round"/>
<polygon points="560.4,115.4 561.8,115.2 563.3,115.0 564.8,114.7 566.5,114.3 568.2,113.8 569.9,113.7 571.5,113.8 573.1,114.1 574.6,114.8 576.1,115.7 577.5,116.8 578.8,118.1 580.1,119.7 581.5,121.4 582.9,123.3 584.4,125.3 585.9,127.5 587.3,129.7 588.5,131.9 589.5,134.1 590.4,136.3 591.2,138.4 591.8,140.2 592.3,142.0 592.8,143.5 593.1,145.0 593.3,146.6 593.4,148.1 593.4,149.6 593.1,150.6 592.4,150.9 591.5,150.6 590.2,149.7 588.5,148.8 586.4,147.8 584.0,146.8 581.1,145.7 578.3,144.8 575.5,144.0 572.6,143.4 569.8,142.9 567.0,142.7 564.3,142.6 561.6,142.6 559.0,142.8 557.1,142.3 555.8,141.0 555.1,138.9 555.1,136.0 555.2,133.3 555.4,130.8 555.8,128.4 556.2,126.2 556.6,124.0 557.1,122.0 557.5,120.1 557.8,118.3 558.4,116.9 559.3,115.9" fill="#E76BF3" stroke="#E76BF3" stroke-width="2.2" stroke-linejoin="round"/>
<polygon points="586.7,109.9 588.0,107.7 589.4,105.9 591.1,104.6 592.9,103.7 594.8,103.3 596.7,103.3 598.6,103.7 600.4,104.6 602.1,105.9 603.6,107.3 604.8,108.7 605.7,110.2 606.4,111.8 606.6,113.6 606.5,115.8 606.0,118.4 605.2,121.2 604.3,123.9 603.4,126.3 602.5,128.5 601.7,130.5 600.8,132.6 599.9,134.9 599.1,137.4 598.2,140.1 597.2,142.2 596.1,143.9 594.9,145.1 593.7,145.7 592.5,145.2 591.4,143.6 590.4,140.7 589.5,136.8 588.5,133.2 587.3,130.1 585.9,127.5 584.4,125.3 583.4,123.1 583.0,120.9 583.1,118.7 583.7,116.5 584.6,114.3 585.6,112.1" fill="#E76BF3" stroke="#E76BF3" stroke-width="2.2" stroke-linejoin="round"/>
<polygon points="609.5,114.4 612.0,114.9 614.2,115.5 616.2,116.1 618.0,116.8 619.5,117.6 620.8,118.8 621.8,120.6 622.5,122.9 623.0,125.6 623.1,128.0 622.9,130.0 622.3,131.7 621.3,132.9 619.8,133.9 617.8,134.5 615.3,134.8 612.3,134.8 609.8,134.3 607.6,133.3 606.0,131.8 604.7,129.8 603.9,127.7 603.5,125.6 603.6,123.4 604.1,121.1 604.5,119.1 604.9,117.5 605.2,116.2 605.5,115.2 606.3,114.6 607.6,114.3" fill="#E76BF3" stroke="#E76BF3" stroke-width="2.2" stroke-linejoin="round"/>
<polygon points="611.6,105.6 614.1,105.6 616.4,105.9 618.5,106.4 620.4,107.1 622.1,108.1 623.4,109.5 624.1,111.1 624.4,113.0 624.1,115.3 623.4,116.9 622.3,117.8 620.8,117.9 618.8,117.4 616.8,116.8 614.8,116.1 612.8,115.2 610.8,114.2 609.3,113.0 608.3,111.6 607.8,110.0 607.8,108.3 608.5,106.9 609.7,106.1" fill="#E76BF3" stroke="#E76BF3" stroke-width="2.2" stroke-linejoin="round"/>
<polygon points="612.2,132.6 614.1,132.5 615.9,132.4 617.6,132.4 619.4,132.5 621.1,132.6 622.7,133.0 624.2,133.7 625.4,134.7 626.6,135.9 627.5,137.3 628.2,138.8 628.8,140.5 629.2,142.2 629.4,144.2 629.4,146.3 629.4,148.7 629.1,151.2 628.5,153.4 627.7,155.3 626.5,156.8 625.0,158.1 623.8,159.2 622.8,160.1 622.1,160.9 621.7,161.5 621.0,161.7 620.0,161.6 618.7,161.1 617.2,160.3 615.4,159.3 613.5,158.3 611.4,157.1 609.2,155.8 607.3,154.4 605.8,152.9 604.7,151.2 604.0,149.4 603.6,147.3 603.7,145.0 604.2,142.4 605.0,139.5 605.9,137.2 606.7,135.5 607.5,134.3 608.3,133.7 609.4,133.2 610.7,132.9" fill="#E76BF3" stroke="#E76BF3" stroke-width="2.2" stroke-linejoin="round"/>
<polygon points="520.4,147.3 521.3,147.0 522.6,146.4 524.4,145.5 526.6,144.4 529.2,143.1 531.6,142.2 533.8,141.7 535.7,141.5 537.5,141.7 539.1,142.1 540.6,142.5 542.0,143.0 543.3,143.7 544.3,144.9 545.1,146.5 545.6,148.7 545.8,151.4 546.4,154.1 547.2,157.1 548.5,160.1 550.0,163.2 550.7,166.3 550.5,169.3 549.6,172.1 547.7,174.9 546.0,177.4 544.5,179.6 543.1,181.5 541.8,183.0 540.3,184.3 538.4,185.2 536.3,185.9 533.8,186.2 531.6,186.1 529.6,185.7 527.8,184.8 526.3,183.5 525.0,181.9 524.1,179.8 523.5,177.4 523.1,174.6 522.8,171.8 522.5,169.0 522.2,166.2 521.9,163.4 521.5,160.6 521.1,157.8 520.5,155.0 519.9,152.1 519.7,149.9 519.8,148.3" fill="#E76BF3" stroke="#E76BF3" stroke-width="2.2" stroke-linejoin="round"/>
<polygon points="546.9,144.5 548.0,144.9 549.2,145.6 550.5,146.5 551.9,147.6 553.5,148.9 555.0,150.8 556.4,153.1 557.7,155.9 559.0,159.2 560.1,162.1 560.9,164.7 561.4,167.0 561.7,168.8 561.6,170.3 560.9,171.2 559.9,171.7 558.3,171.7 556.7,170.8 555.0,169.1 553.2,166.5 551.4,163.1 549.9,160.3 548.6,158.3 547.7,156.9 547.1,156.3 546.6,155.1 546.1,153.3 545.8,151.0 545.6,148.1 545.7,146.1 546.1,144.8" fill="#E76BF3" stroke="#E76BF3" stroke-width="2.2" stroke-linejoin="round"/>
<polygon points="559.0,142.8 561.6,142.6 564.3,142.6 567.0,142.7 569.8,142.9 572.6,143.4 575.5,144.0 578.3,144.8 581.1,145.7 584.0,146.8 586.4,147.8 588.5,148.8 590.2,149.7 591.5,150.6 592.5,151.5 593.3,152.4 593.7,153.3 594.0,154.1 594.2,155.3 594.6,156.7 595.0,158.3 595.4,160.2 595.6,162.4 595.6,164.9 595.4,167.7 595.0,170.8 594.6,173.7 594.2,176.5 593.9,179.1 593.6,181.6 592.8,183.9 591.6,185.9 589.9,187.7 587.7,189.3 585.6,190.8 583.6,192.2 581.7,193.5 579.8,194.8 577.9,194.9 576.1,194.0 574.2,192.0 572.4,188.8 570.9,186.0 569.6,183.5 568.7,181.3 568.1,179.4 567.3,177.7 566.4,176.2 565.3,174.8 564.0,173.5 563.0,172.1 562.3,170.6 561.7,168.8 561.4,167.0 560.9,164.7 560.1,162.1 559.0,159.2 557.7,155.9 556.7,152.9 556.0,150.3 555.5,148.0 555.4,146.1 555.9,144.6 557.1,143.5" fill="#E76BF3" stroke="#E76BF3" stroke-width="2.2" stroke-linejoin="round"/>
<polygon points="550.6,174.0 552.8,173.1 554.9,172.4 556.9,172.1 558.8,172.1 560.7,172.4 562.3,172.9 563.7,173.5 564.8,174.3 565.8,175.2 566.6,176.4 567.4,177.8 568.1,179.4 568.7,181.3 569.5,183.5 570.4,186.0 571.5,188.8 572.7,192.0 573.3,194.5 573.1,196.6 572.3,198.0 570.7,199.0 568.9,199.6 566.9,199.9 564.6,199.9 562.2,199.6 559.8,199.1 557.5,198.3 555.2,197.3 553.1,196.0 551.1,194.4 549.5,192.3 548.0,189.9 546.8,187.1 546.0,184.5 545.7,182.2 545.9,180.1 546.5,178.2 547.5,176.6 548.9,175.2" fill="#E76BF3" stroke="#E76BF3" stroke-width="2.2" stroke-linejoin="round"/>
<polygon points="601.9,165.0 612.8,167.0 608.8,178.1 605.8,171.1" fill="#E76BF3" stroke="#E76BF3" stroke-width="2.2" stroke-linejoin="round"/>
</g>
<g filter="url(#sp3)" opacity="0.35">
<polygon points="520.5,77.4 521.2,76.2 522.0,75.2 522.8,74.4 523.8,73.7 524.8,73.3 525.9,73.1 526.9,73.1 528.0,73.4 529.1,74.0 530.1,74.9 531.1,76.3 532.0,78.1 532.9,80.3 533.5,82.5 533.9,84.6 534.1,86.6 534.0,88.6 533.8,90.5 533.6,92.5 533.3,94.5 533.0,96.5 532.7,98.4 532.5,100.3 532.4,102.2 532.3,103.9 532.3,105.6 532.2,107.0 532.2,108.3 532.2,109.5 532.0,110.4 531.6,111.2 530.9,111.8 530.0,112.3 529.2,112.3 528.5,111.9 527.8,111.0 527.1,109.6 526.5,108.3 526.0,106.8 525.4,105.4 525.0,103.9 524.5,102.5 524.0,101.4 523.4,100.5 522.9,99.7 522.4,98.7 522.1,97.4 521.9,95.9 521.8,94.2 521.5,92.4 521.1,90.6 520.5,88.9 519.8,87.1 519.3,85.5 519.1,83.9 519.0,82.5 519.2,81.2 519.4,79.9 519.9,78.7" fill="#FFFFFF" stroke="#FFFFFF" stroke-width="2.2" stroke-linejoin="round"/>
<polygon points="533.8,74.9 537.7,74.4 537.7,80.9 534.2,80.9" fill="#FFFFFF" stroke="#FFFFFF" stroke-width="2.2" stroke-linejoin="round"/>
<polygon points="551.6,52.9 553.0,52.6 554.2,52.7 555.1,53.2 555.8,54.1 556.3,55.4 556.6,56.8 556.6,58.3 556.3,59.9 555.8,61.7 555.2,63.4 554.3,65.0 553.2,66.6 552.0,68.1 550.7,69.7 549.3,71.3 547.9,73.0 546.4,74.8 545.1,76.1 543.9,77.1 542.8,77.6 542.0,77.7 541.4,77.5 541.0,76.9 540.9,75.8 541.0,74.5 541.3,72.9 541.9,71.2 542.7,69.4 543.7,67.3 544.5,65.5 545.3,63.7 545.9,62.1 546.4,60.6 546.9,59.1 547.4,57.7 548.0,56.4 548.6,55.1 549.4,54.1 550.3,53.4" fill="#FFFFFF" stroke="#FFFFFF" stroke-width="2.2" stroke-linejoin="round"/>
<polygon points="556.6,52.0 557.6,50.5 558.7,49.2 560.0,48.2 561.3,47.4 562.8,46.9 564.6,46.5 566.7,46.2 569.2,46.1 571.9,46.1 574.3,46.2 576.3,46.4 578.0,46.7 579.4,47.1 580.6,47.8 581.7,48.6 582.6,49.8 583.3,51.2 583.9,52.7 584.4,54.2 584.6,55.9 584.8,57.7 584.8,59.4 584.7,61.0 584.6,62.6 584.3,64.1 584.0,65.7 583.5,67.5 583.0,69.4 582.3,71.4 581.5,73.0 580.3,74.3 579.0,75.2 577.4,75.7 575.8,76.0 574.1,76.1 572.4,76.0 570.6,75.8 569.0,75.3 567.4,74.7 565.8,73.9 564.3,72.9 562.9,71.7 561.5,70.3 560.2,68.7 559.0,67.0 557.8,65.3 556.7,63.8 555.6,62.4 554.6,61.2 554.0,59.9 553.7,58.7 553.9,57.4 554.4,56.1 555.0,54.8 555.7,53.4" fill="#FFFFFF" stroke="#FFFFFF" stroke-width="2.2" stroke-linejoin="round"/>
<polygon points="560.3,69.5 560.2,70.6 559.8,72.1 559.2,73.9 558.2,75.9 557.0,78.3 556.0,80.7 555.3,83.1 554.8,85.5 554.6,87.9 554.4,90.4 554.2,93.0 554.0,95.7 553.7,98.4 553.6,100.9 553.6,103.0 553.7,104.9 553.8,106.4 553.8,107.8 553.5,109.0 553.0,110.1 552.2,111.2 551.3,111.8 550.2,112.2 548.9,112.3 547.4,112.0 545.9,111.3 544.5,110.0 543.0,108.3 541.6,106.0 540.6,103.8 540.0,101.7 539.8,99.8 540.0,97.9 540.3,95.5 540.7,92.7 541.3,89.5 542.0,85.7 542.8,82.4 543.8,79.6 544.9,77.2 546.2,75.2 547.7,73.6 549.3,72.3 551.1,71.5 553.0,71.0 554.8,70.5 556.3,70.0 557.6,69.4 558.7,68.7 559.5,68.5 560.0,68.8" fill="#FFFFFF" stroke="#FFFFFF" stroke-width="2.2" stroke-linejoin="round"/>
<polygon points="561.0,80.4 561.4,79.4 562.0,78.5 562.6,77.8 563.4,77.1 564.2,76.5 565.4,76.1 566.7,75.7 568.3,75.4 570.2,75.1 572.1,75.0 574.1,75.0 576.1,75.0 578.2,75.2 579.9,75.7 581.2,76.7 582.0,78.0 582.4,79.8 582.7,81.5 582.7,83.1 582.6,84.7 582.4,86.2 582.1,87.6 581.8,89.0 581.4,90.2 581.0,91.3 580.4,92.6 579.6,94.2 578.5,95.9 577.2,97.7 576.1,99.5 575.0,101.1 574.1,102.5 573.2,103.7 572.3,104.5 571.3,104.9 570.1,104.9 568.9,104.4 567.7,103.4 566.4,102.0 565.2,100.2 563.9,97.9 562.9,95.4 562.1,92.7 561.4,89.8 561.0,86.6 560.8,84.0 560.8,81.9" fill="#FFFFFF" stroke="#FFFFFF" stroke-width="2.2" stroke-linejoin="round"/>
<polygon points="586.9,56.2 588.1,56.8 589.3,57.6 590.2,58.5 591.1,59.5 591.8,60.6 592.6,61.9 593.3,63.3 594.0,64.9 594.8,66.7 595.1,68.4 595.1,70.2 594.6,71.9 593.7,73.7 593.0,75.4 592.3,76.9 591.9,78.4 591.5,79.7 591.1,80.9 590.6,82.0 590.1,83.0 589.6,83.8 588.8,84.3 588.0,84.3 586.9,83.8 585.7,83.0 584.8,81.7 584.0,80.0 583.5,78.0 583.1,75.5 583.0,73.0 582.9,70.3 583.0,67.5 583.2,64.6 583.4,62.2 583.7,60.1 584.0,58.4 584.4,57.2 585.0,56.4 585.8,56.1" fill="#FFFFFF" stroke="#FFFFFF" stroke-width="2.2" stroke-linejoin="round"/>
<polygon points="594.4,65.1 595.0,65.6 595.7,66.3 596.5,67.2 597.3,68.2 598.3,69.5 599.2,71.1 600.2,72.9 601.1,75.2 602.1,77.7 602.9,80.1 603.6,82.5 604.2,84.8 604.7,87.1 605.1,89.3 605.4,91.5 605.6,93.7 605.8,95.9 606.0,97.6 606.0,99.0 605.9,100.0 605.8,100.6 605.3,100.8 604.6,100.5 603.5,99.7 602.1,98.4 600.9,97.1 599.7,95.5 598.6,93.9 597.6,92.1 596.7,90.6 595.8,89.3 594.9,88.2 594.0,87.3 593.3,86.4 592.6,85.4 592.0,84.4 591.6,83.3 591.3,81.9 591.3,80.2 591.5,78.2 591.9,75.9 592.2,73.6 592.5,71.5 592.8,69.4 593.1,67.3 593.5,66.0 593.9,65.2" fill="#FFFFFF" stroke="#FFFFFF" stroke-width="2.2" stroke-linejoin="round"/>
<polygon points="610.1,70.2 616.2,68.9 620.6,71.9 623.2,77.2 620.6,82.5 618.8,89.5 617.1,94.8 610.1,98.0 609.2,86.0 610.1,78.9" fill="#FFFFFF" stroke="#FFFFFF" stroke-width="2.2" stroke-linejoin="round"/>
<polygon points="618.7,80.4 623.2,77.2 625.7,80.4 627.8,84.6 632.9,88.7 633.5,94.8 631.4,101.5 622.8,99.5 618.7,97.0 617.1,94.8 618.8,89.5" fill="#FFFFFF" stroke="#FFFFFF" stroke-width="2.2" stroke-linejoin="round"/>
<polygon points="582.2,94.2 583.0,94.5 583.9,95.0 584.9,95.9 586.1,97.1 587.3,98.7 588.2,100.1 588.5,101.4 588.5,102.5 588.0,103.6 587.2,104.4 586.0,104.9 584.6,105.3 582.8,105.4 581.4,105.2 580.3,104.5 579.7,103.5 579.5,102.1 579.4,100.6 579.5,99.2 579.8,97.7 580.3,96.1 580.9,95.0 581.5,94.4" fill="#FFFFFF" stroke="#FFFFFF" stroke-width="2.2" stroke-linejoin="round"/>
<polygon points="558.3,101.3 559.8,101.8 560.9,102.7 561.7,103.8 562.1,105.2 562.1,107.0 561.8,108.4 561.1,109.4 560.2,110.0 559.0,110.3 558.0,109.8 557.2,108.7 556.7,106.9 556.5,104.4 556.7,102.6 557.3,101.6" fill="#FFFFFF" stroke="#FFFFFF" stroke-width="2.2" stroke-linejoin="round"/>
<polygon points="576.5,107.3 577.5,107.0 578.2,107.1 578.7,107.6 579.0,108.5 579.0,109.8 578.7,110.7 578.2,111.3 577.5,111.7 576.5,111.7 575.7,111.4 575.2,110.9 575.0,110.1 575.0,109.1 575.2,108.3 575.7,107.7" fill="#FFFFFF" stroke="#FFFFFF" stroke-width="2.2" stroke-linejoin="round"/>
<polygon points="520.8,114.1 521.9,114.3 522.9,114.9 523.8,115.9 524.7,117.3 525.4,119.1 526.0,120.8 526.4,122.6 526.7,124.4 526.9,126.1 526.8,128.0 526.7,130.0 526.4,132.1 525.9,134.3 525.5,136.4 525.2,138.4 524.9,140.3 524.7,142.0 524.3,143.7 523.8,145.2 523.0,146.6 522.2,148.0 521.3,148.7 520.3,148.9 519.3,148.6 518.2,147.7 517.3,146.6 516.6,145.3 516.1,143.8 515.7,142.0 515.5,140.1 515.5,138.0 515.5,135.7 515.8,133.3 516.0,130.9 516.1,128.5 516.3,126.1 516.4,123.6 516.7,121.4 517.0,119.4 517.6,117.7 518.2,116.1 519.0,115.0 519.8,114.3" fill="#FFFFFF" stroke="#FFFFFF" stroke-width="2.2" stroke-linejoin="round"/>
<polygon points="529.3,114.9 530.8,114.5 532.5,114.2 534.4,114.1 536.4,114.1 538.5,114.3 540.6,114.5 542.6,114.5 544.4,114.3 546.2,114.1 547.8,114.2 549.2,114.7 550.4,115.4 551.5,116.5 552.6,117.7 553.7,118.9 554.8,120.2 555.8,121.5 556.8,123.2 557.7,125.2 558.5,127.5 559.1,130.1 559.7,132.6 560.2,134.9 560.7,137.1 561.2,139.1 561.2,140.8 560.8,142.4 559.9,143.7 558.6,144.8 557.0,145.4 555.3,145.5 553.3,145.1 551.2,144.2 548.9,143.4 546.5,142.8 544.0,142.2 541.4,141.8 538.8,141.5 536.2,141.4 533.6,141.5 531.0,141.7 528.9,141.1 527.5,139.7 526.7,137.4 526.5,134.3 526.4,131.1 526.4,127.8 526.5,124.4 526.7,120.9 527.3,118.1 528.1,116.1" fill="#FFFFFF" stroke="#FFFFFF" stroke-width="2.2" stroke-linejoin="round"/>
<polygon points="560.4,115.4 561.8,115.2 563.3,115.0 564.8,114.7 566.5,114.3 568.2,113.8 569.9,113.7 571.5,113.8 573.1,114.1 574.6,114.8 576.1,115.7 577.5,116.8 578.8,118.1 580.1,119.7 581.5,121.4 582.9,123.3 584.4,125.3 585.9,127.5 587.3,129.7 588.5,131.9 589.5,134.1 590.4,136.3 591.2,138.4 591.8,140.2 592.3,142.0 592.8,143.5 593.1,145.0 593.3,146.6 593.4,148.1 593.4,149.6 593.1,150.6 592.4,150.9 591.5,150.6 590.2,149.7 588.5,148.8 586.4,147.8 584.0,146.8 581.1,145.7 578.3,144.8 575.5,144.0 572.6,143.4 569.8,142.9 567.0,142.7 564.3,142.6 561.6,142.6 559.0,142.8 557.1,142.3 555.8,141.0 555.1,138.9 555.1,136.0 555.2,133.3 555.4,130.8 555.8,128.4 556.2,126.2 556.6,124.0 557.1,122.0 557.5,120.1 557.8,118.3 558.4,116.9 559.3,115.9" fill="#FFFFFF" stroke="#FFFFFF" stroke-width="2.2" stroke-linejoin="round"/>
<polygon points="586.7,109.9 588.0,107.7 589.4,105.9 591.1,104.6 592.9,103.7 594.8,103.3 596.7,103.3 598.6,103.7 600.4,104.6 602.1,105.9 603.6,107.3 604.8,108.7 605.7,110.2 606.4,111.8 606.6,113.6 606.5,115.8 606.0,118.4 605.2,121.2 604.3,123.9 603.4,126.3 602.5,128.5 601.7,130.5 600.8,132.6 599.9,134.9 599.1,137.4 598.2,140.1 597.2,142.2 596.1,143.9 594.9,145.1 593.7,145.7 592.5,145.2 591.4,143.6 590.4,140.7 589.5,136.8 588.5,133.2 587.3,130.1 585.9,127.5 584.4,125.3 583.4,123.1 583.0,120.9 583.1,118.7 583.7,116.5 584.6,114.3 585.6,112.1" fill="#FFFFFF" stroke="#FFFFFF" stroke-width="2.2" stroke-linejoin="round"/>
<polygon points="609.5,114.4 612.0,114.9 614.2,115.5 616.2,116.1 618.0,116.8 619.5,117.6 620.8,118.8 621.8,120.6 622.5,122.9 623.0,125.6 623.1,128.0 622.9,130.0 622.3,131.7 621.3,132.9 619.8,133.9 617.8,134.5 615.3,134.8 612.3,134.8 609.8,134.3 607.6,133.3 606.0,131.8 604.7,129.8 603.9,127.7 603.5,125.6 603.6,123.4 604.1,121.1 604.5,119.1 604.9,117.5 605.2,116.2 605.5,115.2 606.3,114.6 607.6,114.3" fill="#FFFFFF" stroke="#FFFFFF" stroke-width="2.2" stroke-linejoin="round"/>
<polygon points="611.6,105.6 614.1,105.6 616.4,105.9 618.5,106.4 620.4,107.1 622.1,108.1 623.4,109.5 624.1,111.1 624.4,113.0 624.1,115.3 623.4,116.9 622.3,117.8 620.8,117.9 618.8,117.4 616.8,116.8 614.8,116.1 612.8,115.2 610.8,114.2 609.3,113.0 608.3,111.6 607.8,110.0 607.8,108.3 608.5,106.9 609.7,106.1" fill="#FFFFFF" stroke="#FFFFFF" stroke-width="2.2" stroke-linejoin="round"/>
<polygon points="612.2,132.6 614.1,132.5 615.9,132.4 617.6,132.4 619.4,132.5 621.1,132.6 622.7,133.0 624.2,133.7 625.4,134.7 626.6,135.9 627.5,137.3 628.2,138.8 628.8,140.5 629.2,142.2 629.4,144.2 629.4,146.3 629.4,148.7 629.1,151.2 628.5,153.4 627.7,155.3 626.5,156.8 625.0,158.1 623.8,159.2 622.8,160.1 622.1,160.9 621.7,161.5 621.0,161.7 620.0,161.6 618.7,161.1 617.2,160.3 615.4,159.3 613.5,158.3 611.4,157.1 609.2,155.8 607.3,154.4 605.8,152.9 604.7,151.2 604.0,149.4 603.6,147.3 603.7,145.0 604.2,142.4 605.0,139.5 605.9,137.2 606.7,135.5 607.5,134.3 608.3,133.7 609.4,133.2 610.7,132.9" fill="#FFFFFF" stroke="#FFFFFF" stroke-width="2.2" stroke-linejoin="round"/>
<polygon points="520.4,147.3 521.3,147.0 522.6,146.4 524.4,145.5 526.6,144.4 529.2,143.1 531.6,142.2 533.8,141.7 535.7,141.5 537.5,141.7 539.1,142.1 540.6,142.5 542.0,143.0 543.3,143.7 544.3,144.9 545.1,146.5 545.6,148.7 545.8,151.4 546.4,154.1 547.2,157.1 548.5,160.1 550.0,163.2 550.7,166.3 550.5,169.3 549.6,172.1 547.7,174.9 546.0,177.4 544.5,179.6 543.1,181.5 541.8,183.0 540.3,184.3 538.4,185.2 536.3,185.9 533.8,186.2 531.6,186.1 529.6,185.7 527.8,184.8 526.3,183.5 525.0,181.9 524.1,179.8 523.5,177.4 523.1,174.6 522.8,171.8 522.5,169.0 522.2,166.2 521.9,163.4 521.5,160.6 521.1,157.8 520.5,155.0 519.9,152.1 519.7,149.9 519.8,148.3" fill="#FFFFFF" stroke="#FFFFFF" stroke-width="2.2" stroke-linejoin="round"/>
<polygon points="546.9,144.5 548.0,144.9 549.2,145.6 550.5,146.5 551.9,147.6 553.5,148.9 555.0,150.8 556.4,153.1 557.7,155.9 559.0,159.2 560.1,162.1 560.9,164.7 561.4,167.0 561.7,168.8 561.6,170.3 560.9,171.2 559.9,171.7 558.3,171.7 556.7,170.8 555.0,169.1 553.2,166.5 551.4,163.1 549.9,160.3 548.6,158.3 547.7,156.9 547.1,156.3 546.6,155.1 546.1,153.3 545.8,151.0 545.6,148.1 545.7,146.1 546.1,144.8" fill="#FFFFFF" stroke="#FFFFFF" stroke-width="2.2" stroke-linejoin="round"/>
<polygon points="559.0,142.8 561.6,142.6 564.3,142.6 567.0,142.7 569.8,142.9 572.6,143.4 575.5,144.0 578.3,144.8 581.1,145.7 584.0,146.8 586.4,147.8 588.5,148.8 590.2,149.7 591.5,150.6 592.5,151.5 593.3,152.4 593.7,153.3 594.0,154.1 594.2,155.3 594.6,156.7 595.0,158.3 595.4,160.2 595.6,162.4 595.6,164.9 595.4,167.7 595.0,170.8 594.6,173.7 594.2,176.5 593.9,179.1 593.6,181.6 592.8,183.9 591.6,185.9 589.9,187.7 587.7,189.3 585.6,190.8 583.6,192.2 581.7,193.5 579.8,194.8 577.9,194.9 576.1,194.0 574.2,192.0 572.4,188.8 570.9,186.0 569.6,183.5 568.7,181.3 568.1,179.4 567.3,177.7 566.4,176.2 565.3,174.8 564.0,173.5 563.0,172.1 562.3,170.6 561.7,168.8 561.4,167.0 560.9,164.7 560.1,162.1 559.0,159.2 557.7,155.9 556.7,152.9 556.0,150.3 555.5,148.0 555.4,146.1 555.9,144.6 557.1,143.5" fill="#FFFFFF" stroke="#FFFFFF" stroke-width="2.2" stroke-linejoin="round"/>
<polygon points="550.6,174.0 552.8,173.1 554.9,172.4 556.9,172.1 558.8,172.1 560.7,172.4 562.3,172.9 563.7,173.5 564.8,174.3 565.8,175.2 566.6,176.4 567.4,177.8 568.1,179.4 568.7,181.3 569.5,183.5 570.4,186.0 571.5,188.8 572.7,192.0 573.3,194.5 573.1,196.6 572.3,198.0 570.7,199.0 568.9,199.6 566.9,199.9 564.6,199.9 562.2,199.6 559.8,199.1 557.5,198.3 555.2,197.3 553.1,196.0 551.1,194.4 549.5,192.3 548.0,189.9 546.8,187.1 546.0,184.5 545.7,182.2 545.9,180.1 546.5,178.2 547.5,176.6 548.9,175.2" fill="#FFFFFF" stroke="#FFFFFF" stroke-width="2.2" stroke-linejoin="round"/>
<polygon points="601.9,165.0 612.8,167.0 608.8,178.1 605.8,171.1" fill="#FFFFFF" stroke="#FFFFFF" stroke-width="2.2" stroke-linejoin="round"/>
</g>
<path d="M638.9,121.7 L635.8,128.9" fill="none" stroke="#F8766D" stroke-width="1.3" stroke-linecap="round" opacity="0.85"/>
<line x1="508.4" y1="37.5" x2="508.4" y2="214.2" stroke="#222" stroke-width="1" />
<line x1="507.9" y1="213.7" x2="646.3" y2="213.7" stroke="#222" stroke-width="1" />
<line x1="506.4" y1="60.7" x2="508.4" y2="60.7" stroke="#333" stroke-width="0.8" />
<text x="504.9" y="63.8" font-size="8.6" text-anchor="end" fill="#333"  stroke="#333" stroke-width="0.22">20</text>
<line x1="506.4" y1="94.1" x2="508.4" y2="94.1" stroke="#333" stroke-width="0.8" />
<text x="504.9" y="97.2" font-size="8.6" text-anchor="end" fill="#333"  stroke="#333" stroke-width="0.22">10</text>
<line x1="506.4" y1="127.5" x2="508.4" y2="127.5" stroke="#333" stroke-width="0.8" />
<text x="504.9" y="130.6" font-size="8.6" text-anchor="end" fill="#333"  stroke="#333" stroke-width="0.22">0</text>
<line x1="506.4" y1="160.9" x2="508.4" y2="160.9" stroke="#333" stroke-width="0.8" />
<text x="504.9" y="164" font-size="8.6" text-anchor="end" fill="#333"  stroke="#333" stroke-width="0.22">−10</text>
<line x1="506.4" y1="194.3" x2="508.4" y2="194.3" stroke="#333" stroke-width="0.8" />
<text x="504.9" y="197.4" font-size="8.6" text-anchor="end" fill="#333"  stroke="#333" stroke-width="0.22">−20</text>
<line x1="519.9" y1="213.7" x2="519.9" y2="215.7" stroke="#333" stroke-width="0.8" />
<text x="521.9" y="224.9" font-size="8.6" text-anchor="middle" fill="#333"  stroke="#333" stroke-width="0.22">−20</text>
<line x1="545.5" y1="213.7" x2="545.5" y2="215.7" stroke="#333" stroke-width="0.8" />
<text x="547.5" y="224.9" font-size="8.6" text-anchor="middle" fill="#333"  stroke="#333" stroke-width="0.22">−10</text>
<line x1="571.1" y1="213.7" x2="571.1" y2="215.7" stroke="#333" stroke-width="0.8" />
<text x="572.1" y="224.9" font-size="8.6" text-anchor="middle" fill="#333"  stroke="#333" stroke-width="0.22">0</text>
<line x1="596.7" y1="213.7" x2="596.7" y2="215.7" stroke="#333" stroke-width="0.8" />
<text x="597.7" y="224.9" font-size="8.6" text-anchor="middle" fill="#333"  stroke="#333" stroke-width="0.22">10</text>
<line x1="622.3" y1="213.7" x2="622.3" y2="215.7" stroke="#333" stroke-width="0.8" />
<text x="623.3" y="224.9" font-size="8.6" text-anchor="middle" fill="#333"  stroke="#333" stroke-width="0.22">20</text>
<text x="486" y="127" font-size="8.5" text-anchor="middle" fill="#222" stroke="#222" stroke-width="0.22" transform="rotate(-90 486 127)">tSNE_2</text>
<text x="575.5" y="240.5" font-size="8.5" text-anchor="middle" fill="#222"  stroke="#222" stroke-width="0.22">tSNE_1</text>
<text x="530.5" y="62" font-size="8.6" text-anchor="middle" fill="#222"  stroke="#222" stroke-width="0.22">Mast cell</text>
<text x="605.7" y="62" font-size="8.6" text-anchor="middle" fill="#222"  stroke="#222" stroke-width="0.22">Fibroblast</text>
<text x="620.3" y="90.6" font-size="8.6" text-anchor="middle" fill="#222"  stroke="#222" stroke-width="0.22">Epithelial</text>
<text x="643" y="120.1" font-size="8.6" text-anchor="middle" fill="#222"  stroke="#222" stroke-width="0.22">B cell</text>
<text x="568.5" y="135.9" font-size="8.6" text-anchor="middle" fill="#222"  stroke="#222" stroke-width="0.22">T cell</text>
<text x="-1.1" y="266.4" font-size="15" text-anchor="start" fill="#2A2426" stroke="#2A2426" stroke-width="0.12">D</text>
<text x="91.2" y="281.5" font-size="8.5" text-anchor="middle" fill="#111" font-weight="bold"  stroke="#111" stroke-width="0.22">Origin</text>
<g filter="url(#soft)" opacity="0.92">
<polygon points="40.7,323.1 41.4,321.9 42.1,320.9 42.9,320.1 43.8,319.4 44.8,319.0 45.8,318.8 46.8,318.8 47.8,319.1 48.8,319.7 49.8,320.6 50.8,322.0 51.6,323.8 52.5,325.9 53.1,328.0 53.4,330.1 53.6,332.1 53.5,334.0 53.3,335.9 53.1,337.8 52.9,339.8 52.6,341.7 52.3,343.6 52.1,345.5 52.0,347.3 51.9,349.0 51.9,350.6 51.8,352.1 51.8,353.3 51.8,354.4 51.6,355.4 51.2,356.2 50.6,356.8 49.7,357.2 49.0,357.2 48.3,356.8 47.6,355.9 47.0,354.6 46.4,353.3 45.9,351.9 45.4,350.4 44.9,348.9 44.5,347.7 44.0,346.5 43.5,345.6 43.0,344.9 42.6,343.9 42.2,342.7 42.0,341.2 41.9,339.5 41.7,337.7 41.3,336.0 40.7,334.3 40.1,332.6 39.6,330.9 39.4,329.4 39.3,328.0 39.4,326.8 39.7,325.5 40.1,324.3" fill="#C4A0CC" stroke="#C4A0CC" stroke-width="1.6" stroke-linejoin="round"/>
<polygon points="53.3,320.6 57.0,320.1 57.0,326.5 53.7,326.5" fill="#C4A0CC" stroke="#C4A0CC" stroke-width="1.6" stroke-linejoin="round"/>
<polygon points="70.1,299.0 71.5,298.8 72.6,298.9 73.5,299.4 74.2,300.3 74.7,301.5 74.9,302.9 74.9,304.3 74.7,305.9 74.2,307.7 73.5,309.3 72.7,310.9 71.7,312.5 70.5,313.9 69.3,315.5 68.0,317.1 66.6,318.8 65.2,320.5 64.0,321.8 62.8,322.7 61.9,323.2 61.1,323.4 60.5,323.1 60.1,322.5 60.0,321.5 60.1,320.2 60.4,318.7 61.0,317.0 61.7,315.2 62.6,313.2 63.5,311.4 64.2,309.6 64.8,308.0 65.2,306.5 65.7,305.1 66.2,303.8 66.8,302.5 67.3,301.2 68.0,300.3 69.0,299.5" fill="#98BCD8" stroke="#98BCD8" stroke-width="1.6" stroke-linejoin="round"/>
<polygon points="74.9,298.2 75.8,296.7 76.9,295.5 78.1,294.5 79.4,293.7 80.8,293.2 82.5,292.8 84.5,292.5 86.8,292.4 89.4,292.4 91.6,292.5 93.6,292.7 95.2,293.0 96.5,293.4 97.6,294.0 98.6,294.9 99.5,296.0 100.2,297.4 100.8,298.8 101.2,300.4 101.4,302.0 101.6,303.7 101.6,305.4 101.5,307.0 101.4,308.5 101.1,310.0 100.8,311.6 100.4,313.3 99.9,315.2 99.3,317.1 98.4,318.8 97.4,320.0 96.1,320.8 94.6,321.3 93.0,321.6 91.5,321.8 89.8,321.7 88.2,321.5 86.6,321.0 85.1,320.4 83.6,319.6 82.2,318.6 80.8,317.5 79.5,316.1 78.3,314.6 77.1,312.8 76.0,311.2 74.9,309.8 73.9,308.4 73.0,307.2 72.4,305.9 72.2,304.7 72.3,303.5 72.8,302.2 73.4,300.9 74.1,299.6" fill="#98BCD8" stroke="#98BCD8" stroke-width="1.6" stroke-linejoin="round"/>
<polygon points="78.4,315.3 78.3,316.4 77.9,317.9 77.3,319.6 76.4,321.6 75.2,323.9 74.3,326.3 73.6,328.6 73.2,331.0 73.0,333.3 72.8,335.8 72.6,338.3 72.4,340.9 72.2,343.6 72.1,346.1 72.0,348.1 72.1,349.9 72.3,351.4 72.2,352.8 72.0,354.0 71.5,355.1 70.8,356.1 69.9,356.8 68.8,357.1 67.6,357.2 66.2,357.0 64.8,356.2 63.4,355.0 62.0,353.3 60.7,351.0 59.7,348.9 59.2,346.9 59.0,344.9 59.2,343.1 59.5,340.8 59.9,338.0 60.4,334.8 61.0,331.2 61.8,328.0 62.7,325.2 63.8,322.8 65.0,320.9 66.4,319.3 68.0,318.1 69.7,317.3 71.5,316.8 73.2,316.3 74.6,315.8 75.9,315.2 76.9,314.6 77.7,314.4 78.2,314.6" fill="#82C2D8" stroke="#82C2D8" stroke-width="1.6" stroke-linejoin="round"/>
<polygon points="79.1,326.0 79.5,325.0 80.0,324.1 80.6,323.4 81.3,322.7 82.1,322.2 83.2,321.7 84.5,321.4 86.0,321.1 87.8,320.8 89.6,320.7 91.5,320.7 93.4,320.7 95.4,320.9 97.0,321.4 98.1,322.3 98.9,323.7 99.3,325.4 99.6,327.1 99.7,328.7 99.6,330.2 99.3,331.7 99.0,333.1 98.7,334.4 98.4,335.6 98.0,336.7 97.5,338.0 96.7,339.5 95.7,341.1 94.4,343.0 93.3,344.7 92.3,346.2 91.4,347.6 90.7,348.8 89.8,349.6 88.8,350.0 87.7,349.9 86.5,349.4 85.4,348.5 84.2,347.2 83.0,345.4 81.8,343.2 80.9,340.7 80.1,338.1 79.5,335.2 79.1,332.1 78.9,329.5 78.9,327.5" fill="#82C2D8" stroke="#82C2D8" stroke-width="1.6" stroke-linejoin="round"/>
<polygon points="103.5,302.3 104.7,302.9 105.8,303.7 106.8,304.5 107.6,305.5 108.2,306.6 108.9,307.9 109.6,309.3 110.3,310.8 111.0,312.5 111.4,314.2 111.3,316.0 110.9,317.7 110.0,319.5 109.3,321.1 108.7,322.6 108.3,324.0 107.9,325.3 107.5,326.5 107.1,327.5 106.6,328.5 106.1,329.4 105.4,329.8 104.6,329.8 103.6,329.4 102.5,328.5 101.6,327.3 100.8,325.6 100.3,323.6 100.0,321.2 99.8,318.7 99.8,316.1 99.9,313.4 100.0,310.6 100.3,308.1 100.5,306.1 100.9,304.5 101.2,303.2 101.8,302.5 102.5,302.1" fill="#6CBCE0" stroke="#6CBCE0" stroke-width="1.6" stroke-linejoin="round"/>
<polygon points="110.7,311.0 111.2,311.5 111.9,312.2 112.6,313.0 113.4,314.1 114.3,315.3 115.2,316.8 116.1,318.7 117.1,320.8 118.0,323.3 118.8,325.7 119.4,328.1 120.0,330.3 120.4,332.6 120.8,334.7 121.1,336.9 121.3,339.0 121.5,341.1 121.6,342.8 121.6,344.2 121.6,345.2 121.4,345.8 121.0,346.0 120.3,345.7 119.3,344.9 118.0,343.6 116.8,342.3 115.7,340.8 114.7,339.2 113.8,337.5 112.9,336.0 112.0,334.7 111.1,333.6 110.3,332.7 109.6,331.8 109.0,330.9 108.4,329.9 108.0,328.8 107.8,327.4 107.8,325.8 107.9,323.8 108.3,321.5 108.6,319.3 108.9,317.2 109.2,315.2 109.4,313.2 109.8,311.8 110.2,311.1" fill="#6CBCE0" stroke="#6CBCE0" stroke-width="1.6" stroke-linejoin="round"/>
<polygon points="125.6,316.0 131.3,314.7 135.5,317.6 137.9,322.9 135.5,328.0 133.8,334.9 132.2,340.1 125.6,343.2 124.7,331.4 125.6,324.5" fill="#C4B468" stroke="#C4B468" stroke-width="1.6" stroke-linejoin="round"/>
<polygon points="133.7,326.0 137.9,322.9 140.4,326.0 142.3,330.1 147.1,334.1 147.7,340.1 145.7,346.6 137.5,344.7 133.7,342.2 132.2,340.1 133.8,334.9" fill="#C4B468" stroke="#C4B468" stroke-width="1.6" stroke-linejoin="round"/>
<polygon points="99.2,339.5 99.9,339.8 100.7,340.3 101.7,341.2 102.8,342.4 104.0,343.9 104.8,345.3 105.1,346.5 105.1,347.7 104.6,348.7 103.8,349.5 102.7,350.0 101.4,350.4 99.7,350.5 98.3,350.2 97.4,349.6 96.8,348.6 96.5,347.2 96.5,345.8 96.6,344.4 96.9,342.9 97.4,341.4 97.9,340.3 98.5,339.7" fill="#82C2D8" stroke="#82C2D8" stroke-width="1.6" stroke-linejoin="round"/>
<polygon points="76.5,346.5 77.9,347.0 79.0,347.8 79.7,348.9 80.1,350.3 80.1,352.0 79.8,353.4 79.2,354.4 78.3,355.0 77.1,355.2 76.2,354.8 75.5,353.7 75.0,351.9 74.8,349.4 74.9,347.7 75.5,346.7" fill="#82C2D8" stroke="#82C2D8" stroke-width="1.6" stroke-linejoin="round"/>
<polygon points="93.7,352.3 94.7,352.0 95.4,352.2 95.8,352.6 96.1,353.5 96.1,354.7 95.8,355.7 95.4,356.3 94.7,356.6 93.7,356.6 93.0,356.3 92.5,355.8 92.3,355.1 92.3,354.1 92.5,353.3 93.0,352.7" fill="#82C2D8" stroke="#82C2D8" stroke-width="1.6" stroke-linejoin="round"/>
<polygon points="41.0,359.0 42.1,359.2 43.0,359.8 43.9,360.8 44.7,362.1 45.4,363.9 45.9,365.6 46.4,367.3 46.6,369.0 46.7,370.8 46.7,372.6 46.6,374.5 46.3,376.6 45.9,378.8 45.5,380.8 45.2,382.8 44.9,384.6 44.7,386.3 44.3,388.0 43.8,389.5 43.1,390.9 42.3,392.1 41.4,392.9 40.5,393.1 39.6,392.8 38.5,391.9 37.7,390.8 37.0,389.5 36.5,388.0 36.2,386.3 36.0,384.4 35.9,382.4 36.0,380.2 36.2,377.8 36.4,375.4 36.6,373.1 36.7,370.7 36.8,368.3 37.1,366.2 37.4,364.2 37.9,362.5 38.5,361.0 39.3,359.9 40.1,359.2" fill="#82C2D8" stroke="#82C2D8" stroke-width="1.6" stroke-linejoin="round"/>
<polygon points="49.1,359.8 50.5,359.3 52.1,359.0 53.8,358.9 55.7,359.0 57.8,359.2 59.7,359.3 61.6,359.3 63.4,359.2 65.0,359.0 66.5,359.1 67.9,359.5 69.1,360.3 70.1,361.4 71.1,362.5 72.1,363.7 73.1,365.0 74.2,366.3 75.1,367.9 75.9,369.8 76.7,372.1 77.3,374.7 77.8,377.1 78.3,379.4 78.8,381.5 79.2,383.4 79.2,385.2 78.8,386.7 78.0,388.0 76.8,389.0 75.3,389.6 73.7,389.7 71.8,389.3 69.8,388.4 67.6,387.7 65.3,387.1 63.0,386.5 60.5,386.1 58.0,385.8 55.6,385.7 53.1,385.8 50.6,386.0 48.7,385.4 47.4,384.0 46.6,381.8 46.4,378.8 46.3,375.6 46.3,372.4 46.4,369.1 46.6,365.6 47.1,362.9 47.9,361.0" fill="#82C2D8" stroke="#82C2D8" stroke-width="1.6" stroke-linejoin="round"/>
<polygon points="78.5,360.2 79.8,360.1 81.2,359.8 82.7,359.5 84.2,359.2 85.9,358.7 87.5,358.6 89.0,358.7 90.5,359.0 91.9,359.7 93.3,360.5 94.7,361.6 95.9,362.9 97.2,364.5 98.4,366.1 99.8,368.0 101.2,370.0 102.7,372.1 104.0,374.3 105.1,376.4 106.1,378.6 106.9,380.7 107.6,382.7 108.2,384.6 108.7,386.3 109.1,387.8 109.4,389.3 109.6,390.8 109.7,392.3 109.7,393.8 109.4,394.7 108.8,395.0 107.9,394.7 106.7,393.9 105.1,393.0 103.1,392.0 100.8,391.0 98.1,389.9 95.4,389.0 92.8,388.3 90.1,387.7 87.4,387.2 84.8,387.0 82.2,386.8 79.7,386.9 77.2,387.1 75.3,386.6 74.1,385.3 73.5,383.2 73.5,380.4 73.6,377.8 73.8,375.3 74.1,373.0 74.5,370.8 74.9,368.7 75.3,366.7 75.7,364.9 76.1,363.1 76.6,361.7 77.5,360.8" fill="#82C2D8" stroke="#82C2D8" stroke-width="1.6" stroke-linejoin="round"/>
<polygon points="103.4,354.9 104.6,352.7 106.0,351.0 107.5,349.7 109.2,348.8 111.1,348.4 112.9,348.4 114.7,348.8 116.4,349.7 118.0,351.0 119.4,352.3 120.5,353.7 121.4,355.2 122.0,356.7 122.3,358.5 122.2,360.7 121.7,363.2 120.9,366.0 120.0,368.6 119.2,370.9 118.4,373.1 117.6,375.0 116.7,377.1 115.9,379.4 115.1,381.8 114.3,384.4 113.4,386.5 112.3,388.2 111.2,389.3 110.0,389.9 108.9,389.4 107.8,387.8 106.9,385.1 106.1,381.2 105.1,377.7 104.0,374.7 102.7,372.1 101.2,370.0 100.3,367.8 99.8,365.7 100.0,363.5 100.6,361.3 101.4,359.2 102.3,357.0" fill="#7CBCA4" stroke="#7CBCA4" stroke-width="1.6" stroke-linejoin="round"/>
<polygon points="125.0,359.3 127.3,359.8 129.5,360.3 131.3,361.0 133.0,361.6 134.4,362.4 135.6,363.6 136.6,365.3 137.3,367.6 137.8,370.3 137.9,372.6 137.6,374.6 137.1,376.2 136.1,377.4 134.7,378.3 132.8,379.0 130.5,379.3 127.6,379.3 125.2,378.8 123.2,377.8 121.6,376.3 120.5,374.3 119.7,372.3 119.3,370.2 119.4,368.1 119.9,365.8 120.3,363.9 120.6,362.3 120.9,361.0 121.2,360.0 121.9,359.4 123.2,359.2" fill="#68C4D6" stroke="#68C4D6" stroke-width="1.6" stroke-linejoin="round"/>
<polygon points="126.9,350.7 129.3,350.7 131.5,350.9 133.5,351.4 135.3,352.2 136.9,353.1 138.1,354.4 138.8,356.0 139.1,357.9 138.8,360.2 138.2,361.7 137.1,362.6 135.6,362.8 133.8,362.3 131.9,361.6 130.0,360.9 128.1,360.0 126.2,359.1 124.8,357.9 123.9,356.5 123.4,355.0 123.4,353.3 124.0,352.0 125.2,351.1" fill="#82C2D8" stroke="#82C2D8" stroke-width="1.6" stroke-linejoin="round"/>
<polygon points="127.6,377.1 129.3,377.0 131.0,376.9 132.7,376.9 134.4,377.0 136.0,377.1 137.5,377.5 138.9,378.2 140.1,379.1 141.1,380.4 142.0,381.7 142.7,383.2 143.2,384.8 143.6,386.5 143.8,388.4 143.9,390.5 143.8,392.8 143.5,395.3 143.0,397.4 142.2,399.3 141.1,400.8 139.6,402.1 138.5,403.1 137.6,404.1 136.9,404.8 136.5,405.4 135.9,405.6 134.9,405.5 133.7,405.0 132.2,404.2 130.6,403.3 128.8,402.2 126.8,401.1 124.7,399.8 122.9,398.5 121.5,397.0 120.5,395.3 119.7,393.6 119.4,391.5 119.5,389.2 119.9,386.7 120.8,383.9 121.6,381.6 122.3,379.9 123.1,378.8 123.9,378.2 124.9,377.7 126.1,377.4" fill="#68C4D6" stroke="#68C4D6" stroke-width="1.6" stroke-linejoin="round"/>
<polygon points="40.6,391.5 41.5,391.2 42.7,390.6 44.4,389.7 46.5,388.7 48.9,387.4 51.2,386.5 53.3,386.0 55.1,385.8 56.8,386.0 58.3,386.4 59.8,386.8 61.1,387.3 62.3,388.0 63.3,389.1 64.0,390.7 64.5,392.8 64.7,395.5 65.2,398.2 66.0,401.0 67.2,404.0 68.6,407.1 69.3,410.1 69.2,413.0 68.2,415.8 66.5,418.5 64.9,421.0 63.4,423.1 62.1,424.9 60.9,426.5 59.5,427.7 57.7,428.6 55.7,429.2 53.3,429.6 51.2,429.5 49.3,429.0 47.6,428.2 46.2,427.0 45.0,425.3 44.1,423.4 43.5,421.0 43.2,418.2 42.9,415.5 42.6,412.7 42.3,410.0 42.1,407.2 41.7,404.5 41.3,401.7 40.8,399.0 40.2,396.2 39.9,394.1 40.1,392.5" fill="#82C2D8" stroke="#82C2D8" stroke-width="1.6" stroke-linejoin="round"/>
<polygon points="65.7,388.7 66.7,389.2 67.9,389.8 69.1,390.7 70.5,391.8 71.9,393.1 73.3,394.9 74.7,397.1 76.0,399.9 77.2,403.1 78.2,406.0 78.9,408.5 79.5,410.7 79.7,412.6 79.6,414.0 79.0,414.9 78.0,415.4 76.5,415.4 75.0,414.5 73.4,412.8 71.7,410.3 70.0,406.9 68.5,404.2 67.3,402.2 66.5,400.9 65.9,400.3 65.4,399.1 65.0,397.4 64.7,395.1 64.5,392.3 64.6,390.3 65.0,389.1" fill="#7CBCA4" stroke="#7CBCA4" stroke-width="1.6" stroke-linejoin="round"/>
<polygon points="77.2,387.1 79.7,386.9 82.2,386.8 84.8,387.0 87.4,387.2 90.1,387.7 92.8,388.3 95.4,389.0 98.1,389.9 100.8,391.0 103.1,392.0 105.1,393.0 106.7,393.9 107.9,394.7 108.9,395.6 109.6,396.5 110.1,397.3 110.3,398.2 110.5,399.3 110.9,400.7 111.2,402.3 111.6,404.1 111.9,406.2 111.9,408.7 111.6,411.4 111.2,414.5 110.8,417.3 110.5,420.1 110.2,422.7 109.9,425.1 109.2,427.3 108.0,429.3 106.4,431.1 104.3,432.6 102.4,434.0 100.5,435.4 98.6,436.7 96.8,438.0 95.1,438.1 93.3,437.2 91.6,435.2 89.8,432.2 88.4,429.4 87.2,427.0 86.3,424.8 85.8,423.0 85.0,421.3 84.1,419.7 83.1,418.4 81.9,417.2 81.0,415.8 80.2,414.3 79.7,412.6 79.5,410.7 78.9,408.5 78.2,406.0 77.2,403.1 76.0,399.9 75.0,397.0 74.3,394.4 73.9,392.2 73.7,390.3 74.2,388.8 75.4,387.8" fill="#82C2D8" stroke="#82C2D8" stroke-width="1.6" stroke-linejoin="round"/>
<polygon points="69.3,417.6 71.3,416.7 73.2,416.1 75.1,415.8 77.0,415.8 78.7,416.1 80.3,416.5 81.6,417.1 82.7,417.9 83.6,418.8 84.4,420.0 85.1,421.3 85.8,423.0 86.3,424.8 87.1,427.0 88.0,429.4 89.0,432.2 90.2,435.2 90.7,437.7 90.5,439.7 89.7,441.2 88.2,442.1 86.5,442.7 84.6,443.0 82.5,443.0 80.2,442.7 77.9,442.2 75.7,441.4 73.6,440.4 71.6,439.2 69.7,437.6 68.1,435.6 66.8,433.2 65.6,430.4 64.9,427.9 64.6,425.6 64.7,423.6 65.3,421.7 66.3,420.1 67.6,418.8" fill="#82C2D8" stroke="#82C2D8" stroke-width="1.6" stroke-linejoin="round"/>
<polygon points="117.7,408.8 128.1,410.8 124.3,421.7 121.5,414.8" fill="#82C2D8" stroke="#82C2D8" stroke-width="1.6" stroke-linejoin="round"/>
</g>
<g filter="url(#sp2)" opacity="0.45">
<polygon points="40.7,323.1 41.4,321.9 42.1,320.9 42.9,320.1 43.8,319.4 44.8,319.0 45.8,318.8 46.8,318.8 47.8,319.1 48.8,319.7 49.8,320.6 50.8,322.0 51.6,323.8 52.5,325.9 53.1,328.0 53.4,330.1 53.6,332.1 53.5,334.0 53.3,335.9 53.1,337.8 52.9,339.8 52.6,341.7 52.3,343.6 52.1,345.5 52.0,347.3 51.9,349.0 51.9,350.6 51.8,352.1 51.8,353.3 51.8,354.4 51.6,355.4 51.2,356.2 50.6,356.8 49.7,357.2 49.0,357.2 48.3,356.8 47.6,355.9 47.0,354.6 46.4,353.3 45.9,351.9 45.4,350.4 44.9,348.9 44.5,347.7 44.0,346.5 43.5,345.6 43.0,344.9 42.6,343.9 42.2,342.7 42.0,341.2 41.9,339.5 41.7,337.7 41.3,336.0 40.7,334.3 40.1,332.6 39.6,330.9 39.4,329.4 39.3,328.0 39.4,326.8 39.7,325.5 40.1,324.3" fill="#E060B0" stroke="#E060B0" stroke-width="1.6" stroke-linejoin="round"/>
<polygon points="53.3,320.6 57.0,320.1 57.0,326.5 53.7,326.5" fill="#E060B0" stroke="#E060B0" stroke-width="1.6" stroke-linejoin="round"/>
<polygon points="70.1,299.0 71.5,298.8 72.6,298.9 73.5,299.4 74.2,300.3 74.7,301.5 74.9,302.9 74.9,304.3 74.7,305.9 74.2,307.7 73.5,309.3 72.7,310.9 71.7,312.5 70.5,313.9 69.3,315.5 68.0,317.1 66.6,318.8 65.2,320.5 64.0,321.8 62.8,322.7 61.9,323.2 61.1,323.4 60.5,323.1 60.1,322.5 60.0,321.5 60.1,320.2 60.4,318.7 61.0,317.0 61.7,315.2 62.6,313.2 63.5,311.4 64.2,309.6 64.8,308.0 65.2,306.5 65.7,305.1 66.2,303.8 66.8,302.5 67.3,301.2 68.0,300.3 69.0,299.5" fill="#7A8CF0" stroke="#7A8CF0" stroke-width="1.6" stroke-linejoin="round"/>
<polygon points="74.9,298.2 75.8,296.7 76.9,295.5 78.1,294.5 79.4,293.7 80.8,293.2 82.5,292.8 84.5,292.5 86.8,292.4 89.4,292.4 91.6,292.5 93.6,292.7 95.2,293.0 96.5,293.4 97.6,294.0 98.6,294.9 99.5,296.0 100.2,297.4 100.8,298.8 101.2,300.4 101.4,302.0 101.6,303.7 101.6,305.4 101.5,307.0 101.4,308.5 101.1,310.0 100.8,311.6 100.4,313.3 99.9,315.2 99.3,317.1 98.4,318.8 97.4,320.0 96.1,320.8 94.6,321.3 93.0,321.6 91.5,321.8 89.8,321.7 88.2,321.5 86.6,321.0 85.1,320.4 83.6,319.6 82.2,318.6 80.8,317.5 79.5,316.1 78.3,314.6 77.1,312.8 76.0,311.2 74.9,309.8 73.9,308.4 73.0,307.2 72.4,305.9 72.2,304.7 72.3,303.5 72.8,302.2 73.4,300.9 74.1,299.6" fill="#7A8CF0" stroke="#7A8CF0" stroke-width="1.6" stroke-linejoin="round"/>
<polygon points="78.4,315.3 78.3,316.4 77.9,317.9 77.3,319.6 76.4,321.6 75.2,323.9 74.3,326.3 73.6,328.6 73.2,331.0 73.0,333.3 72.8,335.8 72.6,338.3 72.4,340.9 72.2,343.6 72.1,346.1 72.0,348.1 72.1,349.9 72.3,351.4 72.2,352.8 72.0,354.0 71.5,355.1 70.8,356.1 69.9,356.8 68.8,357.1 67.6,357.2 66.2,357.0 64.8,356.2 63.4,355.0 62.0,353.3 60.7,351.0 59.7,348.9 59.2,346.9 59.0,344.9 59.2,343.1 59.5,340.8 59.9,338.0 60.4,334.8 61.0,331.2 61.8,328.0 62.7,325.2 63.8,322.8 65.0,320.9 66.4,319.3 68.0,318.1 69.7,317.3 71.5,316.8 73.2,316.3 74.6,315.8 75.9,315.2 76.9,314.6 77.7,314.4 78.2,314.6" fill="#7A8CF0" stroke="#7A8CF0" stroke-width="1.6" stroke-linejoin="round"/>
<polygon points="79.1,326.0 79.5,325.0 80.0,324.1 80.6,323.4 81.3,322.7 82.1,322.2 83.2,321.7 84.5,321.4 86.0,321.1 87.8,320.8 89.6,320.7 91.5,320.7 93.4,320.7 95.4,320.9 97.0,321.4 98.1,322.3 98.9,323.7 99.3,325.4 99.6,327.1 99.7,328.7 99.6,330.2 99.3,331.7 99.0,333.1 98.7,334.4 98.4,335.6 98.0,336.7 97.5,338.0 96.7,339.5 95.7,341.1 94.4,343.0 93.3,344.7 92.3,346.2 91.4,347.6 90.7,348.8 89.8,349.6 88.8,350.0 87.7,349.9 86.5,349.4 85.4,348.5 84.2,347.2 83.0,345.4 81.8,343.2 80.9,340.7 80.1,338.1 79.5,335.2 79.1,332.1 78.9,329.5 78.9,327.5" fill="#7A8CF0" stroke="#7A8CF0" stroke-width="1.6" stroke-linejoin="round"/>
<polygon points="103.5,302.3 104.7,302.9 105.8,303.7 106.8,304.5 107.6,305.5 108.2,306.6 108.9,307.9 109.6,309.3 110.3,310.8 111.0,312.5 111.4,314.2 111.3,316.0 110.9,317.7 110.0,319.5 109.3,321.1 108.7,322.6 108.3,324.0 107.9,325.3 107.5,326.5 107.1,327.5 106.6,328.5 106.1,329.4 105.4,329.8 104.6,329.8 103.6,329.4 102.5,328.5 101.6,327.3 100.8,325.6 100.3,323.6 100.0,321.2 99.8,318.7 99.8,316.1 99.9,313.4 100.0,310.6 100.3,308.1 100.5,306.1 100.9,304.5 101.2,303.2 101.8,302.5 102.5,302.1" fill="#7A8CF0" stroke="#7A8CF0" stroke-width="1.6" stroke-linejoin="round"/>
<polygon points="110.7,311.0 111.2,311.5 111.9,312.2 112.6,313.0 113.4,314.1 114.3,315.3 115.2,316.8 116.1,318.7 117.1,320.8 118.0,323.3 118.8,325.7 119.4,328.1 120.0,330.3 120.4,332.6 120.8,334.7 121.1,336.9 121.3,339.0 121.5,341.1 121.6,342.8 121.6,344.2 121.6,345.2 121.4,345.8 121.0,346.0 120.3,345.7 119.3,344.9 118.0,343.6 116.8,342.3 115.7,340.8 114.7,339.2 113.8,337.5 112.9,336.0 112.0,334.7 111.1,333.6 110.3,332.7 109.6,331.8 109.0,330.9 108.4,329.9 108.0,328.8 107.8,327.4 107.8,325.8 107.9,323.8 108.3,321.5 108.6,319.3 108.9,317.2 109.2,315.2 109.4,313.2 109.8,311.8 110.2,311.1" fill="#7A8CF0" stroke="#7A8CF0" stroke-width="1.6" stroke-linejoin="round"/>
<polygon points="125.6,316.0 131.3,314.7 135.5,317.6 137.9,322.9 135.5,328.0 133.8,334.9 132.2,340.1 125.6,343.2 124.7,331.4 125.6,324.5" fill="#A08020" stroke="#A08020" stroke-width="1.6" stroke-linejoin="round"/>
<polygon points="133.7,326.0 137.9,322.9 140.4,326.0 142.3,330.1 147.1,334.1 147.7,340.1 145.7,346.6 137.5,344.7 133.7,342.2 132.2,340.1 133.8,334.9" fill="#A08020" stroke="#A08020" stroke-width="1.6" stroke-linejoin="round"/>
<polygon points="99.2,339.5 99.9,339.8 100.7,340.3 101.7,341.2 102.8,342.4 104.0,343.9 104.8,345.3 105.1,346.5 105.1,347.7 104.6,348.7 103.8,349.5 102.7,350.0 101.4,350.4 99.7,350.5 98.3,350.2 97.4,349.6 96.8,348.6 96.5,347.2 96.5,345.8 96.6,344.4 96.9,342.9 97.4,341.4 97.9,340.3 98.5,339.7" fill="#7A8CF0" stroke="#7A8CF0" stroke-width="1.6" stroke-linejoin="round"/>
<polygon points="76.5,346.5 77.9,347.0 79.0,347.8 79.7,348.9 80.1,350.3 80.1,352.0 79.8,353.4 79.2,354.4 78.3,355.0 77.1,355.2 76.2,354.8 75.5,353.7 75.0,351.9 74.8,349.4 74.9,347.7 75.5,346.7" fill="#7A8CF0" stroke="#7A8CF0" stroke-width="1.6" stroke-linejoin="round"/>
<polygon points="93.7,352.3 94.7,352.0 95.4,352.2 95.8,352.6 96.1,353.5 96.1,354.7 95.8,355.7 95.4,356.3 94.7,356.6 93.7,356.6 93.0,356.3 92.5,355.8 92.3,355.1 92.3,354.1 92.5,353.3 93.0,352.7" fill="#7A8CF0" stroke="#7A8CF0" stroke-width="1.6" stroke-linejoin="round"/>
<polygon points="41.0,359.0 42.1,359.2 43.0,359.8 43.9,360.8 44.7,362.1 45.4,363.9 45.9,365.6 46.4,367.3 46.6,369.0 46.7,370.8 46.7,372.6 46.6,374.5 46.3,376.6 45.9,378.8 45.5,380.8 45.2,382.8 44.9,384.6 44.7,386.3 44.3,388.0 43.8,389.5 43.1,390.9 42.3,392.1 41.4,392.9 40.5,393.1 39.6,392.8 38.5,391.9 37.7,390.8 37.0,389.5 36.5,388.0 36.2,386.3 36.0,384.4 35.9,382.4 36.0,380.2 36.2,377.8 36.4,375.4 36.6,373.1 36.7,370.7 36.8,368.3 37.1,366.2 37.4,364.2 37.9,362.5 38.5,361.0 39.3,359.9 40.1,359.2" fill="#7A8CF0" stroke="#7A8CF0" stroke-width="1.6" stroke-linejoin="round"/>
<polygon points="49.1,359.8 50.5,359.3 52.1,359.0 53.8,358.9 55.7,359.0 57.8,359.2 59.7,359.3 61.6,359.3 63.4,359.2 65.0,359.0 66.5,359.1 67.9,359.5 69.1,360.3 70.1,361.4 71.1,362.5 72.1,363.7 73.1,365.0 74.2,366.3 75.1,367.9 75.9,369.8 76.7,372.1 77.3,374.7 77.8,377.1 78.3,379.4 78.8,381.5 79.2,383.4 79.2,385.2 78.8,386.7 78.0,388.0 76.8,389.0 75.3,389.6 73.7,389.7 71.8,389.3 69.8,388.4 67.6,387.7 65.3,387.1 63.0,386.5 60.5,386.1 58.0,385.8 55.6,385.7 53.1,385.8 50.6,386.0 48.7,385.4 47.4,384.0 46.6,381.8 46.4,378.8 46.3,375.6 46.3,372.4 46.4,369.1 46.6,365.6 47.1,362.9 47.9,361.0" fill="#7A8CF0" stroke="#7A8CF0" stroke-width="1.6" stroke-linejoin="round"/>
<polygon points="78.5,360.2 79.8,360.1 81.2,359.8 82.7,359.5 84.2,359.2 85.9,358.7 87.5,358.6 89.0,358.7 90.5,359.0 91.9,359.7 93.3,360.5 94.7,361.6 95.9,362.9 97.2,364.5 98.4,366.1 99.8,368.0 101.2,370.0 102.7,372.1 104.0,374.3 105.1,376.4 106.1,378.6 106.9,380.7 107.6,382.7 108.2,384.6 108.7,386.3 109.1,387.8 109.4,389.3 109.6,390.8 109.7,392.3 109.7,393.8 109.4,394.7 108.8,395.0 107.9,394.7 106.7,393.9 105.1,393.0 103.1,392.0 100.8,391.0 98.1,389.9 95.4,389.0 92.8,388.3 90.1,387.7 87.4,387.2 84.8,387.0 82.2,386.8 79.7,386.9 77.2,387.1 75.3,386.6 74.1,385.3 73.5,383.2 73.5,380.4 73.6,377.8 73.8,375.3 74.1,373.0 74.5,370.8 74.9,368.7 75.3,366.7 75.7,364.9 76.1,363.1 76.6,361.7 77.5,360.8" fill="#7A8CF0" stroke="#7A8CF0" stroke-width="1.6" stroke-linejoin="round"/>
<polygon points="103.4,354.9 104.6,352.7 106.0,351.0 107.5,349.7 109.2,348.8 111.1,348.4 112.9,348.4 114.7,348.8 116.4,349.7 118.0,351.0 119.4,352.3 120.5,353.7 121.4,355.2 122.0,356.7 122.3,358.5 122.2,360.7 121.7,363.2 120.9,366.0 120.0,368.6 119.2,370.9 118.4,373.1 117.6,375.0 116.7,377.1 115.9,379.4 115.1,381.8 114.3,384.4 113.4,386.5 112.3,388.2 111.2,389.3 110.0,389.9 108.9,389.4 107.8,387.8 106.9,385.1 106.1,381.2 105.1,377.7 104.0,374.7 102.7,372.1 101.2,370.0 100.3,367.8 99.8,365.7 100.0,363.5 100.6,361.3 101.4,359.2 102.3,357.0" fill="#20B050" stroke="#20B050" stroke-width="1.6" stroke-linejoin="round"/>
<polygon points="125.0,359.3 127.3,359.8 129.5,360.3 131.3,361.0 133.0,361.6 134.4,362.4 135.6,363.6 136.6,365.3 137.3,367.6 137.8,370.3 137.9,372.6 137.6,374.6 137.1,376.2 136.1,377.4 134.7,378.3 132.8,379.0 130.5,379.3 127.6,379.3 125.2,378.8 123.2,377.8 121.6,376.3 120.5,374.3 119.7,372.3 119.3,370.2 119.4,368.1 119.9,365.8 120.3,363.9 120.6,362.3 120.9,361.0 121.2,360.0 121.9,359.4 123.2,359.2" fill="#7A8CF0" stroke="#7A8CF0" stroke-width="1.6" stroke-linejoin="round"/>
<polygon points="126.9,350.7 129.3,350.7 131.5,350.9 133.5,351.4 135.3,352.2 136.9,353.1 138.1,354.4 138.8,356.0 139.1,357.9 138.8,360.2 138.2,361.7 137.1,362.6 135.6,362.8 133.8,362.3 131.9,361.6 130.0,360.9 128.1,360.0 126.2,359.1 124.8,357.9 123.9,356.5 123.4,355.0 123.4,353.3 124.0,352.0 125.2,351.1" fill="#7A8CF0" stroke="#7A8CF0" stroke-width="1.6" stroke-linejoin="round"/>
<polygon points="127.6,377.1 129.3,377.0 131.0,376.9 132.7,376.9 134.4,377.0 136.0,377.1 137.5,377.5 138.9,378.2 140.1,379.1 141.1,380.4 142.0,381.7 142.7,383.2 143.2,384.8 143.6,386.5 143.8,388.4 143.9,390.5 143.8,392.8 143.5,395.3 143.0,397.4 142.2,399.3 141.1,400.8 139.6,402.1 138.5,403.1 137.6,404.1 136.9,404.8 136.5,405.4 135.9,405.6 134.9,405.5 133.7,405.0 132.2,404.2 130.6,403.3 128.8,402.2 126.8,401.1 124.7,399.8 122.9,398.5 121.5,397.0 120.5,395.3 119.7,393.6 119.4,391.5 119.5,389.2 119.9,386.7 120.8,383.9 121.6,381.6 122.3,379.9 123.1,378.8 123.9,378.2 124.9,377.7 126.1,377.4" fill="#7A8CF0" stroke="#7A8CF0" stroke-width="1.6" stroke-linejoin="round"/>
<polygon points="40.6,391.5 41.5,391.2 42.7,390.6 44.4,389.7 46.5,388.7 48.9,387.4 51.2,386.5 53.3,386.0 55.1,385.8 56.8,386.0 58.3,386.4 59.8,386.8 61.1,387.3 62.3,388.0 63.3,389.1 64.0,390.7 64.5,392.8 64.7,395.5 65.2,398.2 66.0,401.0 67.2,404.0 68.6,407.1 69.3,410.1 69.2,413.0 68.2,415.8 66.5,418.5 64.9,421.0 63.4,423.1 62.1,424.9 60.9,426.5 59.5,427.7 57.7,428.6 55.7,429.2 53.3,429.6 51.2,429.5 49.3,429.0 47.6,428.2 46.2,427.0 45.0,425.3 44.1,423.4 43.5,421.0 43.2,418.2 42.9,415.5 42.6,412.7 42.3,410.0 42.1,407.2 41.7,404.5 41.3,401.7 40.8,399.0 40.2,396.2 39.9,394.1 40.1,392.5" fill="#7A8CF0" stroke="#7A8CF0" stroke-width="1.6" stroke-linejoin="round"/>
<polygon points="65.7,388.7 66.7,389.2 67.9,389.8 69.1,390.7 70.5,391.8 71.9,393.1 73.3,394.9 74.7,397.1 76.0,399.9 77.2,403.1 78.2,406.0 78.9,408.5 79.5,410.7 79.7,412.6 79.6,414.0 79.0,414.9 78.0,415.4 76.5,415.4 75.0,414.5 73.4,412.8 71.7,410.3 70.0,406.9 68.5,404.2 67.3,402.2 66.5,400.9 65.9,400.3 65.4,399.1 65.0,397.4 64.7,395.1 64.5,392.3 64.6,390.3 65.0,389.1" fill="#20B050" stroke="#20B050" stroke-width="1.6" stroke-linejoin="round"/>
<polygon points="77.2,387.1 79.7,386.9 82.2,386.8 84.8,387.0 87.4,387.2 90.1,387.7 92.8,388.3 95.4,389.0 98.1,389.9 100.8,391.0 103.1,392.0 105.1,393.0 106.7,393.9 107.9,394.7 108.9,395.6 109.6,396.5 110.1,397.3 110.3,398.2 110.5,399.3 110.9,400.7 111.2,402.3 111.6,404.1 111.9,406.2 111.9,408.7 111.6,411.4 111.2,414.5 110.8,417.3 110.5,420.1 110.2,422.7 109.9,425.1 109.2,427.3 108.0,429.3 106.4,431.1 104.3,432.6 102.4,434.0 100.5,435.4 98.6,436.7 96.8,438.0 95.1,438.1 93.3,437.2 91.6,435.2 89.8,432.2 88.4,429.4 87.2,427.0 86.3,424.8 85.8,423.0 85.0,421.3 84.1,419.7 83.1,418.4 81.9,417.2 81.0,415.8 80.2,414.3 79.7,412.6 79.5,410.7 78.9,408.5 78.2,406.0 77.2,403.1 76.0,399.9 75.0,397.0 74.3,394.4 73.9,392.2 73.7,390.3 74.2,388.8 75.4,387.8" fill="#7A8CF0" stroke="#7A8CF0" stroke-width="1.6" stroke-linejoin="round"/>
<polygon points="69.3,417.6 71.3,416.7 73.2,416.1 75.1,415.8 77.0,415.8 78.7,416.1 80.3,416.5 81.6,417.1 82.7,417.9 83.6,418.8 84.4,420.0 85.1,421.3 85.8,423.0 86.3,424.8 87.1,427.0 88.0,429.4 89.0,432.2 90.2,435.2 90.7,437.7 90.5,439.7 89.7,441.2 88.2,442.1 86.5,442.7 84.6,443.0 82.5,443.0 80.2,442.7 77.9,442.2 75.7,441.4 73.6,440.4 71.6,439.2 69.7,437.6 68.1,435.6 66.8,433.2 65.6,430.4 64.9,427.9 64.6,425.6 64.7,423.6 65.3,421.7 66.3,420.1 67.6,418.8" fill="#7A8CF0" stroke="#7A8CF0" stroke-width="1.6" stroke-linejoin="round"/>
<polygon points="117.7,408.8 128.1,410.8 124.3,421.7 121.5,414.8" fill="#7A8CF0" stroke="#7A8CF0" stroke-width="1.6" stroke-linejoin="round"/>
</g>
<g filter="url(#sp3)" opacity="0.6">
<polygon points="40.7,323.1 41.4,321.9 42.1,320.9 42.9,320.1 43.8,319.4 44.8,319.0 45.8,318.8 46.8,318.8 47.8,319.1 48.8,319.7 49.8,320.6 50.8,322.0 51.6,323.8 52.5,325.9 53.1,328.0 53.4,330.1 53.6,332.1 53.5,334.0 53.3,335.9 53.1,337.8 52.9,339.8 52.6,341.7 52.3,343.6 52.1,345.5 52.0,347.3 51.9,349.0 51.9,350.6 51.8,352.1 51.8,353.3 51.8,354.4 51.6,355.4 51.2,356.2 50.6,356.8 49.7,357.2 49.0,357.2 48.3,356.8 47.6,355.9 47.0,354.6 46.4,353.3 45.9,351.9 45.4,350.4 44.9,348.9 44.5,347.7 44.0,346.5 43.5,345.6 43.0,344.9 42.6,343.9 42.2,342.7 42.0,341.2 41.9,339.5 41.7,337.7 41.3,336.0 40.7,334.3 40.1,332.6 39.6,330.9 39.4,329.4 39.3,328.0 39.4,326.8 39.7,325.5 40.1,324.3" fill="#FFFFFF" stroke="#FFFFFF" stroke-width="1.6" stroke-linejoin="round"/>
<polygon points="53.3,320.6 57.0,320.1 57.0,326.5 53.7,326.5" fill="#FFFFFF" stroke="#FFFFFF" stroke-width="1.6" stroke-linejoin="round"/>
<polygon points="70.1,299.0 71.5,298.8 72.6,298.9 73.5,299.4 74.2,300.3 74.7,301.5 74.9,302.9 74.9,304.3 74.7,305.9 74.2,307.7 73.5,309.3 72.7,310.9 71.7,312.5 70.5,313.9 69.3,315.5 68.0,317.1 66.6,318.8 65.2,320.5 64.0,321.8 62.8,322.7 61.9,323.2 61.1,323.4 60.5,323.1 60.1,322.5 60.0,321.5 60.1,320.2 60.4,318.7 61.0,317.0 61.7,315.2 62.6,313.2 63.5,311.4 64.2,309.6 64.8,308.0 65.2,306.5 65.7,305.1 66.2,303.8 66.8,302.5 67.3,301.2 68.0,300.3 69.0,299.5" fill="#FFFFFF" stroke="#FFFFFF" stroke-width="1.6" stroke-linejoin="round"/>
<polygon points="74.9,298.2 75.8,296.7 76.9,295.5 78.1,294.5 79.4,293.7 80.8,293.2 82.5,292.8 84.5,292.5 86.8,292.4 89.4,292.4 91.6,292.5 93.6,292.7 95.2,293.0 96.5,293.4 97.6,294.0 98.6,294.9 99.5,296.0 100.2,297.4 100.8,298.8 101.2,300.4 101.4,302.0 101.6,303.7 101.6,305.4 101.5,307.0 101.4,308.5 101.1,310.0 100.8,311.6 100.4,313.3 99.9,315.2 99.3,317.1 98.4,318.8 97.4,320.0 96.1,320.8 94.6,321.3 93.0,321.6 91.5,321.8 89.8,321.7 88.2,321.5 86.6,321.0 85.1,320.4 83.6,319.6 82.2,318.6 80.8,317.5 79.5,316.1 78.3,314.6 77.1,312.8 76.0,311.2 74.9,309.8 73.9,308.4 73.0,307.2 72.4,305.9 72.2,304.7 72.3,303.5 72.8,302.2 73.4,300.9 74.1,299.6" fill="#FFFFFF" stroke="#FFFFFF" stroke-width="1.6" stroke-linejoin="round"/>
<polygon points="78.4,315.3 78.3,316.4 77.9,317.9 77.3,319.6 76.4,321.6 75.2,323.9 74.3,326.3 73.6,328.6 73.2,331.0 73.0,333.3 72.8,335.8 72.6,338.3 72.4,340.9 72.2,343.6 72.1,346.1 72.0,348.1 72.1,349.9 72.3,351.4 72.2,352.8 72.0,354.0 71.5,355.1 70.8,356.1 69.9,356.8 68.8,357.1 67.6,357.2 66.2,357.0 64.8,356.2 63.4,355.0 62.0,353.3 60.7,351.0 59.7,348.9 59.2,346.9 59.0,344.9 59.2,343.1 59.5,340.8 59.9,338.0 60.4,334.8 61.0,331.2 61.8,328.0 62.7,325.2 63.8,322.8 65.0,320.9 66.4,319.3 68.0,318.1 69.7,317.3 71.5,316.8 73.2,316.3 74.6,315.8 75.9,315.2 76.9,314.6 77.7,314.4 78.2,314.6" fill="#FFFFFF" stroke="#FFFFFF" stroke-width="1.6" stroke-linejoin="round"/>
<polygon points="79.1,326.0 79.5,325.0 80.0,324.1 80.6,323.4 81.3,322.7 82.1,322.2 83.2,321.7 84.5,321.4 86.0,321.1 87.8,320.8 89.6,320.7 91.5,320.7 93.4,320.7 95.4,320.9 97.0,321.4 98.1,322.3 98.9,323.7 99.3,325.4 99.6,327.1 99.7,328.7 99.6,330.2 99.3,331.7 99.0,333.1 98.7,334.4 98.4,335.6 98.0,336.7 97.5,338.0 96.7,339.5 95.7,341.1 94.4,343.0 93.3,344.7 92.3,346.2 91.4,347.6 90.7,348.8 89.8,349.6 88.8,350.0 87.7,349.9 86.5,349.4 85.4,348.5 84.2,347.2 83.0,345.4 81.8,343.2 80.9,340.7 80.1,338.1 79.5,335.2 79.1,332.1 78.9,329.5 78.9,327.5" fill="#FFFFFF" stroke="#FFFFFF" stroke-width="1.6" stroke-linejoin="round"/>
<polygon points="103.5,302.3 104.7,302.9 105.8,303.7 106.8,304.5 107.6,305.5 108.2,306.6 108.9,307.9 109.6,309.3 110.3,310.8 111.0,312.5 111.4,314.2 111.3,316.0 110.9,317.7 110.0,319.5 109.3,321.1 108.7,322.6 108.3,324.0 107.9,325.3 107.5,326.5 107.1,327.5 106.6,328.5 106.1,329.4 105.4,329.8 104.6,329.8 103.6,329.4 102.5,328.5 101.6,327.3 100.8,325.6 100.3,323.6 100.0,321.2 99.8,318.7 99.8,316.1 99.9,313.4 100.0,310.6 100.3,308.1 100.5,306.1 100.9,304.5 101.2,303.2 101.8,302.5 102.5,302.1" fill="#FFFFFF" stroke="#FFFFFF" stroke-width="1.6" stroke-linejoin="round"/>
<polygon points="110.7,311.0 111.2,311.5 111.9,312.2 112.6,313.0 113.4,314.1 114.3,315.3 115.2,316.8 116.1,318.7 117.1,320.8 118.0,323.3 118.8,325.7 119.4,328.1 120.0,330.3 120.4,332.6 120.8,334.7 121.1,336.9 121.3,339.0 121.5,341.1 121.6,342.8 121.6,344.2 121.6,345.2 121.4,345.8 121.0,346.0 120.3,345.7 119.3,344.9 118.0,343.6 116.8,342.3 115.7,340.8 114.7,339.2 113.8,337.5 112.9,336.0 112.0,334.7 111.1,333.6 110.3,332.7 109.6,331.8 109.0,330.9 108.4,329.9 108.0,328.8 107.8,327.4 107.8,325.8 107.9,323.8 108.3,321.5 108.6,319.3 108.9,317.2 109.2,315.2 109.4,313.2 109.8,311.8 110.2,311.1" fill="#FFFFFF" stroke="#FFFFFF" stroke-width="1.6" stroke-linejoin="round"/>
<polygon points="125.6,316.0 131.3,314.7 135.5,317.6 137.9,322.9 135.5,328.0 133.8,334.9 132.2,340.1 125.6,343.2 124.7,331.4 125.6,324.5" fill="#FFFFFF" stroke="#FFFFFF" stroke-width="1.6" stroke-linejoin="round"/>
<polygon points="133.7,326.0 137.9,322.9 140.4,326.0 142.3,330.1 147.1,334.1 147.7,340.1 145.7,346.6 137.5,344.7 133.7,342.2 132.2,340.1 133.8,334.9" fill="#FFFFFF" stroke="#FFFFFF" stroke-width="1.6" stroke-linejoin="round"/>
<polygon points="99.2,339.5 99.9,339.8 100.7,340.3 101.7,341.2 102.8,342.4 104.0,343.9 104.8,345.3 105.1,346.5 105.1,347.7 104.6,348.7 103.8,349.5 102.7,350.0 101.4,350.4 99.7,350.5 98.3,350.2 97.4,349.6 96.8,348.6 96.5,347.2 96.5,345.8 96.6,344.4 96.9,342.9 97.4,341.4 97.9,340.3 98.5,339.7" fill="#FFFFFF" stroke="#FFFFFF" stroke-width="1.6" stroke-linejoin="round"/>
<polygon points="76.5,346.5 77.9,347.0 79.0,347.8 79.7,348.9 80.1,350.3 80.1,352.0 79.8,353.4 79.2,354.4 78.3,355.0 77.1,355.2 76.2,354.8 75.5,353.7 75.0,351.9 74.8,349.4 74.9,347.7 75.5,346.7" fill="#FFFFFF" stroke="#FFFFFF" stroke-width="1.6" stroke-linejoin="round"/>
<polygon points="93.7,352.3 94.7,352.0 95.4,352.2 95.8,352.6 96.1,353.5 96.1,354.7 95.8,355.7 95.4,356.3 94.7,356.6 93.7,356.6 93.0,356.3 92.5,355.8 92.3,355.1 92.3,354.1 92.5,353.3 93.0,352.7" fill="#FFFFFF" stroke="#FFFFFF" stroke-width="1.6" stroke-linejoin="round"/>
<polygon points="41.0,359.0 42.1,359.2 43.0,359.8 43.9,360.8 44.7,362.1 45.4,363.9 45.9,365.6 46.4,367.3 46.6,369.0 46.7,370.8 46.7,372.6 46.6,374.5 46.3,376.6 45.9,378.8 45.5,380.8 45.2,382.8 44.9,384.6 44.7,386.3 44.3,388.0 43.8,389.5 43.1,390.9 42.3,392.1 41.4,392.9 40.5,393.1 39.6,392.8 38.5,391.9 37.7,390.8 37.0,389.5 36.5,388.0 36.2,386.3 36.0,384.4 35.9,382.4 36.0,380.2 36.2,377.8 36.4,375.4 36.6,373.1 36.7,370.7 36.8,368.3 37.1,366.2 37.4,364.2 37.9,362.5 38.5,361.0 39.3,359.9 40.1,359.2" fill="#FFFFFF" stroke="#FFFFFF" stroke-width="1.6" stroke-linejoin="round"/>
<polygon points="49.1,359.8 50.5,359.3 52.1,359.0 53.8,358.9 55.7,359.0 57.8,359.2 59.7,359.3 61.6,359.3 63.4,359.2 65.0,359.0 66.5,359.1 67.9,359.5 69.1,360.3 70.1,361.4 71.1,362.5 72.1,363.7 73.1,365.0 74.2,366.3 75.1,367.9 75.9,369.8 76.7,372.1 77.3,374.7 77.8,377.1 78.3,379.4 78.8,381.5 79.2,383.4 79.2,385.2 78.8,386.7 78.0,388.0 76.8,389.0 75.3,389.6 73.7,389.7 71.8,389.3 69.8,388.4 67.6,387.7 65.3,387.1 63.0,386.5 60.5,386.1 58.0,385.8 55.6,385.7 53.1,385.8 50.6,386.0 48.7,385.4 47.4,384.0 46.6,381.8 46.4,378.8 46.3,375.6 46.3,372.4 46.4,369.1 46.6,365.6 47.1,362.9 47.9,361.0" fill="#FFFFFF" stroke="#FFFFFF" stroke-width="1.6" stroke-linejoin="round"/>
<polygon points="78.5,360.2 79.8,360.1 81.2,359.8 82.7,359.5 84.2,359.2 85.9,358.7 87.5,358.6 89.0,358.7 90.5,359.0 91.9,359.7 93.3,360.5 94.7,361.6 95.9,362.9 97.2,364.5 98.4,366.1 99.8,368.0 101.2,370.0 102.7,372.1 104.0,374.3 105.1,376.4 106.1,378.6 106.9,380.7 107.6,382.7 108.2,384.6 108.7,386.3 109.1,387.8 109.4,389.3 109.6,390.8 109.7,392.3 109.7,393.8 109.4,394.7 108.8,395.0 107.9,394.7 106.7,393.9 105.1,393.0 103.1,392.0 100.8,391.0 98.1,389.9 95.4,389.0 92.8,388.3 90.1,387.7 87.4,387.2 84.8,387.0 82.2,386.8 79.7,386.9 77.2,387.1 75.3,386.6 74.1,385.3 73.5,383.2 73.5,380.4 73.6,377.8 73.8,375.3 74.1,373.0 74.5,370.8 74.9,368.7 75.3,366.7 75.7,364.9 76.1,363.1 76.6,361.7 77.5,360.8" fill="#FFFFFF" stroke="#FFFFFF" stroke-width="1.6" stroke-linejoin="round"/>
<polygon points="103.4,354.9 104.6,352.7 106.0,351.0 107.5,349.7 109.2,348.8 111.1,348.4 112.9,348.4 114.7,348.8 116.4,349.7 118.0,351.0 119.4,352.3 120.5,353.7 121.4,355.2 122.0,356.7 122.3,358.5 122.2,360.7 121.7,363.2 120.9,366.0 120.0,368.6 119.2,370.9 118.4,373.1 117.6,375.0 116.7,377.1 115.9,379.4 115.1,381.8 114.3,384.4 113.4,386.5 112.3,388.2 111.2,389.3 110.0,389.9 108.9,389.4 107.8,387.8 106.9,385.1 106.1,381.2 105.1,377.7 104.0,374.7 102.7,372.1 101.2,370.0 100.3,367.8 99.8,365.7 100.0,363.5 100.6,361.3 101.4,359.2 102.3,357.0" fill="#FFFFFF" stroke="#FFFFFF" stroke-width="1.6" stroke-linejoin="round"/>
<polygon points="125.0,359.3 127.3,359.8 129.5,360.3 131.3,361.0 133.0,361.6 134.4,362.4 135.6,363.6 136.6,365.3 137.3,367.6 137.8,370.3 137.9,372.6 137.6,374.6 137.1,376.2 136.1,377.4 134.7,378.3 132.8,379.0 130.5,379.3 127.6,379.3 125.2,378.8 123.2,377.8 121.6,376.3 120.5,374.3 119.7,372.3 119.3,370.2 119.4,368.1 119.9,365.8 120.3,363.9 120.6,362.3 120.9,361.0 121.2,360.0 121.9,359.4 123.2,359.2" fill="#FFFFFF" stroke="#FFFFFF" stroke-width="1.6" stroke-linejoin="round"/>
<polygon points="126.9,350.7 129.3,350.7 131.5,350.9 133.5,351.4 135.3,352.2 136.9,353.1 138.1,354.4 138.8,356.0 139.1,357.9 138.8,360.2 138.2,361.7 137.1,362.6 135.6,362.8 133.8,362.3 131.9,361.6 130.0,360.9 128.1,360.0 126.2,359.1 124.8,357.9 123.9,356.5 123.4,355.0 123.4,353.3 124.0,352.0 125.2,351.1" fill="#FFFFFF" stroke="#FFFFFF" stroke-width="1.6" stroke-linejoin="round"/>
<polygon points="127.6,377.1 129.3,377.0 131.0,376.9 132.7,376.9 134.4,377.0 136.0,377.1 137.5,377.5 138.9,378.2 140.1,379.1 141.1,380.4 142.0,381.7 142.7,383.2 143.2,384.8 143.6,386.5 143.8,388.4 143.9,390.5 143.8,392.8 143.5,395.3 143.0,397.4 142.2,399.3 141.1,400.8 139.6,402.1 138.5,403.1 137.6,404.1 136.9,404.8 136.5,405.4 135.9,405.6 134.9,405.5 133.7,405.0 132.2,404.2 130.6,403.3 128.8,402.2 126.8,401.1 124.7,399.8 122.9,398.5 121.5,397.0 120.5,395.3 119.7,393.6 119.4,391.5 119.5,389.2 119.9,386.7 120.8,383.9 121.6,381.6 122.3,379.9 123.1,378.8 123.9,378.2 124.9,377.7 126.1,377.4" fill="#FFFFFF" stroke="#FFFFFF" stroke-width="1.6" stroke-linejoin="round"/>
<polygon points="40.6,391.5 41.5,391.2 42.7,390.6 44.4,389.7 46.5,388.7 48.9,387.4 51.2,386.5 53.3,386.0 55.1,385.8 56.8,386.0 58.3,386.4 59.8,386.8 61.1,387.3 62.3,388.0 63.3,389.1 64.0,390.7 64.5,392.8 64.7,395.5 65.2,398.2 66.0,401.0 67.2,404.0 68.6,407.1 69.3,410.1 69.2,413.0 68.2,415.8 66.5,418.5 64.9,421.0 63.4,423.1 62.1,424.9 60.9,426.5 59.5,427.7 57.7,428.6 55.7,429.2 53.3,429.6 51.2,429.5 49.3,429.0 47.6,428.2 46.2,427.0 45.0,425.3 44.1,423.4 43.5,421.0 43.2,418.2 42.9,415.5 42.6,412.7 42.3,410.0 42.1,407.2 41.7,404.5 41.3,401.7 40.8,399.0 40.2,396.2 39.9,394.1 40.1,392.5" fill="#FFFFFF" stroke="#FFFFFF" stroke-width="1.6" stroke-linejoin="round"/>
<polygon points="65.7,388.7 66.7,389.2 67.9,389.8 69.1,390.7 70.5,391.8 71.9,393.1 73.3,394.9 74.7,397.1 76.0,399.9 77.2,403.1 78.2,406.0 78.9,408.5 79.5,410.7 79.7,412.6 79.6,414.0 79.0,414.9 78.0,415.4 76.5,415.4 75.0,414.5 73.4,412.8 71.7,410.3 70.0,406.9 68.5,404.2 67.3,402.2 66.5,400.9 65.9,400.3 65.4,399.1 65.0,397.4 64.7,395.1 64.5,392.3 64.6,390.3 65.0,389.1" fill="#FFFFFF" stroke="#FFFFFF" stroke-width="1.6" stroke-linejoin="round"/>
<polygon points="77.2,387.1 79.7,386.9 82.2,386.8 84.8,387.0 87.4,387.2 90.1,387.7 92.8,388.3 95.4,389.0 98.1,389.9 100.8,391.0 103.1,392.0 105.1,393.0 106.7,393.9 107.9,394.7 108.9,395.6 109.6,396.5 110.1,397.3 110.3,398.2 110.5,399.3 110.9,400.7 111.2,402.3 111.6,404.1 111.9,406.2 111.9,408.7 111.6,411.4 111.2,414.5 110.8,417.3 110.5,420.1 110.2,422.7 109.9,425.1 109.2,427.3 108.0,429.3 106.4,431.1 104.3,432.6 102.4,434.0 100.5,435.4 98.6,436.7 96.8,438.0 95.1,438.1 93.3,437.2 91.6,435.2 89.8,432.2 88.4,429.4 87.2,427.0 86.3,424.8 85.8,423.0 85.0,421.3 84.1,419.7 83.1,418.4 81.9,417.2 81.0,415.8 80.2,414.3 79.7,412.6 79.5,410.7 78.9,408.5 78.2,406.0 77.2,403.1 76.0,399.9 75.0,397.0 74.3,394.4 73.9,392.2 73.7,390.3 74.2,388.8 75.4,387.8" fill="#FFFFFF" stroke="#FFFFFF" stroke-width="1.6" stroke-linejoin="round"/>
<polygon points="69.3,417.6 71.3,416.7 73.2,416.1 75.1,415.8 77.0,415.8 78.7,416.1 80.3,416.5 81.6,417.1 82.7,417.9 83.6,418.8 84.4,420.0 85.1,421.3 85.8,423.0 86.3,424.8 87.1,427.0 88.0,429.4 89.0,432.2 90.2,435.2 90.7,437.7 90.5,439.7 89.7,441.2 88.2,442.1 86.5,442.7 84.6,443.0 82.5,443.0 80.2,442.7 77.9,442.2 75.7,441.4 73.6,440.4 71.6,439.2 69.7,437.6 68.1,435.6 66.8,433.2 65.6,430.4 64.9,427.9 64.6,425.6 64.7,423.6 65.3,421.7 66.3,420.1 67.6,418.8" fill="#FFFFFF" stroke="#FFFFFF" stroke-width="1.6" stroke-linejoin="round"/>
<polygon points="117.7,408.8 128.1,410.8 124.3,421.7 121.5,414.8" fill="#FFFFFF" stroke="#FFFFFF" stroke-width="1.6" stroke-linejoin="round"/>
</g>
<path d="M152.8,366.4 L149.9,373.4" fill="none" stroke="#E070C0" stroke-width="1.1" stroke-linecap="round" opacity="0.85"/>
<line x1="29.9" y1="283.6" x2="29.9" y2="457.8" stroke="#222" stroke-width="1" />
<line x1="29.4" y1="457.3" x2="160.8" y2="457.3" stroke="#222" stroke-width="1" />
<line x1="27.9" y1="305.5" x2="29.9" y2="305.5" stroke="#333" stroke-width="0.8" />
<text x="26.4" y="308.6" font-size="8.6" text-anchor="end" fill="#333"  stroke="#333" stroke-width="0.22">20</text>
<line x1="27.9" y1="338.62" x2="29.9" y2="338.62" stroke="#333" stroke-width="0.8" />
<text x="26.4" y="341.73" font-size="8.6" text-anchor="end" fill="#333"  stroke="#333" stroke-width="0.22">10</text>
<line x1="27.9" y1="371.75" x2="29.9" y2="371.75" stroke="#333" stroke-width="0.8" />
<text x="26.4" y="374.85" font-size="8.6" text-anchor="end" fill="#333"  stroke="#333" stroke-width="0.22">0</text>
<line x1="27.9" y1="404.88" x2="29.9" y2="404.88" stroke="#333" stroke-width="0.8" />
<text x="26.4" y="407.98" font-size="8.6" text-anchor="end" fill="#333"  stroke="#333" stroke-width="0.22">−10</text>
<line x1="27.9" y1="438" x2="29.9" y2="438" stroke="#333" stroke-width="0.8" />
<text x="26.4" y="441.1" font-size="8.6" text-anchor="end" fill="#333"  stroke="#333" stroke-width="0.22">−20</text>
<line x1="40.5" y1="457.3" x2="40.5" y2="459.3" stroke="#333" stroke-width="0.8" />
<text x="42.5" y="468.5" font-size="8.6" text-anchor="middle" fill="#333"  stroke="#333" stroke-width="0.22">−20</text>
<line x1="64.7" y1="457.3" x2="64.7" y2="459.3" stroke="#333" stroke-width="0.8" />
<text x="66.7" y="468.5" font-size="8.6" text-anchor="middle" fill="#333"  stroke="#333" stroke-width="0.22">−10</text>
<line x1="88.9" y1="457.3" x2="88.9" y2="459.3" stroke="#333" stroke-width="0.8" />
<text x="89.9" y="468.5" font-size="8.6" text-anchor="middle" fill="#333"  stroke="#333" stroke-width="0.22">0</text>
<line x1="113.1" y1="457.3" x2="113.1" y2="459.3" stroke="#333" stroke-width="0.8" />
<text x="114.1" y="468.5" font-size="8.6" text-anchor="middle" fill="#333"  stroke="#333" stroke-width="0.22">10</text>
<line x1="137.3" y1="457.3" x2="137.3" y2="459.3" stroke="#333" stroke-width="0.8" />
<text x="138.3" y="468.5" font-size="8.6" text-anchor="middle" fill="#333"  stroke="#333" stroke-width="0.22">20</text>
<text x="11" y="369" font-size="8.5" text-anchor="middle" fill="#222" stroke="#222" stroke-width="0.22" transform="rotate(-90 11 369)">tSNE_2</text>
<text x="97.5" y="484.2" font-size="8.5" text-anchor="middle" fill="#222"  stroke="#222" stroke-width="0.22">tSNE_1</text>
<circle cx="163.2" cy="319" r="2.2" fill="#F8766D" stroke="none" stroke-width="0.6" />
<text x="170.8" y="321.7" font-size="7.3" text-anchor="start" fill="#222"  stroke="#222" stroke-width="0.22">LCP89_CO</text>
<circle cx="163.2" cy="326.59" r="2.2" fill="#E58700" stroke="none" stroke-width="0.6" />
<text x="170.8" y="329.29" font-size="7.3" text-anchor="start" fill="#222"  stroke="#222" stroke-width="0.22">LCP89_N_ORG</text>
<circle cx="163.2" cy="334.18" r="2.2" fill="#C99800" stroke="none" stroke-width="0.6" />
<text x="170.8" y="336.88" font-size="7.3" text-anchor="start" fill="#222"  stroke="#222" stroke-width="0.22">LCP89_T_ORG</text>
<circle cx="163.2" cy="341.77" r="2.2" fill="#A3A500" stroke="none" stroke-width="0.6" />
<text x="170.8" y="344.47" font-size="7.3" text-anchor="start" fill="#222"  stroke="#222" stroke-width="0.22">LCP89_TIL</text>
<circle cx="163.2" cy="349.36" r="2.2" fill="#6BB100" stroke="none" stroke-width="0.6" />
<text x="170.8" y="352.06" font-size="7.3" text-anchor="start" fill="#222"  stroke="#222" stroke-width="0.22">LCP90_CO</text>
<circle cx="163.2" cy="356.95" r="2.2" fill="#00BA38" stroke="none" stroke-width="0.6" />
<text x="170.8" y="359.65" font-size="7.3" text-anchor="start" fill="#222"  stroke="#222" stroke-width="0.22">LCP90_T_ORG</text>
<circle cx="163.2" cy="364.54" r="2.2" fill="#00BF7D" stroke="none" stroke-width="0.6" />
<text x="170.8" y="367.24" font-size="7.3" text-anchor="start" fill="#222"  stroke="#222" stroke-width="0.22">LCP90_TIL</text>
<circle cx="163.2" cy="372.13" r="2.2" fill="#00C0AF" stroke="none" stroke-width="0.6" />
<text x="170.8" y="374.83" font-size="7.3" text-anchor="start" fill="#222"  stroke="#222" stroke-width="0.22">LCP92_CO</text>
<circle cx="163.2" cy="379.72" r="2.2" fill="#00BCD8" stroke="none" stroke-width="0.6" />
<text x="170.8" y="382.42" font-size="7.3" text-anchor="start" fill="#222"  stroke="#222" stroke-width="0.22">LCP92_TIL</text>
<circle cx="163.2" cy="387.31" r="2.2" fill="#00B0F6" stroke="none" stroke-width="0.6" />
<text x="170.8" y="390.01" font-size="7.3" text-anchor="start" fill="#222"  stroke="#222" stroke-width="0.22">LCP94_CO</text>
<circle cx="163.2" cy="394.9" r="2.2" fill="#619CFF" stroke="none" stroke-width="0.6" />
<text x="170.8" y="397.6" font-size="7.3" text-anchor="start" fill="#222"  stroke="#222" stroke-width="0.22">LCP94_TIL</text>
<circle cx="163.2" cy="402.49" r="2.2" fill="#B983FF" stroke="none" stroke-width="0.6" />
<text x="170.8" y="405.19" font-size="7.3" text-anchor="start" fill="#222"  stroke="#222" stroke-width="0.22">LCP95_CO</text>
<circle cx="163.2" cy="410.08" r="2.2" fill="#E76BF3" stroke="none" stroke-width="0.6" />
<text x="170.8" y="412.78" font-size="7.3" text-anchor="start" fill="#222"  stroke="#222" stroke-width="0.22">LCP95_N_ORG</text>
<circle cx="163.2" cy="417.67" r="2.2" fill="#FD61D1" stroke="none" stroke-width="0.6" />
<text x="170.8" y="420.37" font-size="7.3" text-anchor="start" fill="#222"  stroke="#222" stroke-width="0.22">LCP95_T_ORG</text>
<circle cx="163.2" cy="425.26" r="2.2" fill="#FF67A4" stroke="none" stroke-width="0.6" />
<text x="170.8" y="427.96" font-size="7.3" text-anchor="start" fill="#222"  stroke="#222" stroke-width="0.22">LCP95_TIL</text>
<text x="240.6" y="266.4" font-size="15" text-anchor="start" fill="#2A2426" stroke="#2A2426" stroke-width="0.12">E</text>
<text x="339.9" y="281.6" font-size="8.3" text-anchor="middle" fill="#111" font-weight="bold"  stroke="#111" stroke-width="0.22">TissueType</text>
<g filter="url(#soft)" opacity="0.92">
<polygon points="276.7,325.8 277.4,324.5 278.2,323.5 279.0,322.7 279.9,322.1 280.9,321.6 281.9,321.4 282.9,321.5 283.9,321.8 285.0,322.3 285.9,323.3 286.9,324.7 287.8,326.5 288.6,328.7 289.2,330.8 289.6,332.9 289.7,334.9 289.6,336.9 289.5,338.9 289.3,340.8 289.0,342.8 288.7,344.8 288.4,346.7 288.3,348.6 288.1,350.4 288.1,352.2 288.0,353.8 288.0,355.3 287.9,356.6 287.9,357.7 287.7,358.7 287.3,359.5 286.7,360.1 285.9,360.6 285.1,360.6 284.4,360.1 283.7,359.2 283.1,357.9 282.5,356.5 282.0,355.1 281.5,353.6 281.0,352.1 280.6,350.8 280.1,349.7 279.6,348.7 279.0,348.0 278.6,347.0 278.3,345.7 278.1,344.2 278.0,342.5 277.7,340.7 277.3,338.9 276.8,337.2 276.1,335.4 275.7,333.8 275.4,332.3 275.3,330.8 275.5,329.5 275.8,328.2 276.2,327.0" fill="#D49CE8" stroke="#D49CE8" stroke-width="1.6" stroke-linejoin="round"/>
<polygon points="289.5,323.2 293.2,322.7 293.2,329.3 289.8,329.3" fill="#D49CE8" stroke="#D49CE8" stroke-width="1.6" stroke-linejoin="round"/>
<polygon points="306.4,301.3 307.8,301.0 308.9,301.1 309.8,301.6 310.5,302.5 311.0,303.8 311.2,305.2 311.2,306.7 311.0,308.3 310.5,310.1 309.9,311.7 309.0,313.4 308.0,315.0 306.8,316.5 305.6,318.0 304.3,319.7 302.9,321.4 301.5,323.1 300.2,324.5 299.1,325.4 298.1,325.9 297.3,326.1 296.7,325.8 296.3,325.2 296.2,324.2 296.3,322.8 296.6,321.3 297.2,319.6 297.9,317.7 298.9,315.7 299.7,313.8 300.4,312.1 301.0,310.4 301.5,308.9 302.0,307.5 302.5,306.1 303.0,304.8 303.6,303.5 304.3,302.5 305.3,301.8" fill="#D49CE8" stroke="#D49CE8" stroke-width="1.6" stroke-linejoin="round"/>
<polygon points="311.2,300.4 312.2,298.9 313.2,297.6 314.4,296.6 315.7,295.8 317.2,295.3 318.9,294.9 320.9,294.6 323.2,294.5 325.8,294.5 328.1,294.6 330.1,294.8 331.7,295.1 333.0,295.5 334.2,296.2 335.2,297.0 336.0,298.2 336.8,299.6 337.3,301.0 337.7,302.6 338.0,304.3 338.1,306.0 338.1,307.7 338.1,309.4 337.9,310.9 337.7,312.4 337.4,314.1 336.9,315.8 336.4,317.7 335.8,319.7 335.0,321.4 333.9,322.6 332.6,323.5 331.1,324.0 329.5,324.3 327.9,324.4 326.3,324.4 324.6,324.1 323.0,323.7 321.5,323.1 320.0,322.2 318.6,321.2 317.2,320.0 315.9,318.7 314.7,317.1 313.5,315.3 312.3,313.7 311.3,312.2 310.3,310.8 309.3,309.5 308.7,308.3 308.5,307.0 308.6,305.8 309.1,304.5 309.7,303.2 310.4,301.8" fill="#D49CE8" stroke="#D49CE8" stroke-width="1.6" stroke-linejoin="round"/>
<polygon points="314.7,317.8 314.7,319.0 314.3,320.5 313.7,322.2 312.8,324.3 311.6,326.6 310.6,329.0 309.9,331.4 309.5,333.8 309.3,336.2 309.1,338.7 308.9,341.3 308.7,344.0 308.5,346.7 308.4,349.2 308.4,351.3 308.4,353.1 308.6,354.6 308.5,356.0 308.3,357.3 307.8,358.4 307.1,359.4 306.2,360.1 305.1,360.5 303.9,360.6 302.4,360.3 301.0,359.5 299.6,358.3 298.3,356.5 296.9,354.3 295.9,352.1 295.4,350.0 295.2,348.1 295.4,346.2 295.7,343.8 296.1,341.0 296.6,337.8 297.2,334.0 298.0,330.8 299.0,327.9 300.1,325.5 301.3,323.5 302.7,321.9 304.2,320.7 306.0,319.9 307.8,319.4 309.5,318.9 311.0,318.3 312.2,317.7 313.3,317.1 314.0,316.9 314.5,317.1" fill="#D49CE8" stroke="#D49CE8" stroke-width="1.6" stroke-linejoin="round"/>
<polygon points="315.4,328.7 315.8,327.7 316.4,326.9 317.0,326.1 317.7,325.4 318.5,324.9 319.6,324.4 320.9,324.0 322.4,323.7 324.2,323.5 326.1,323.3 327.9,323.3 329.9,323.4 331.9,323.5 333.5,324.1 334.7,325.0 335.5,326.4 335.9,328.1 336.1,329.8 336.2,331.5 336.1,333.0 335.8,334.5 335.6,336.0 335.2,337.3 334.9,338.5 334.6,339.6 334.0,341.0 333.2,342.5 332.2,344.2 330.9,346.0 329.8,347.8 328.8,349.3 327.9,350.8 327.1,352.0 326.2,352.8 325.3,353.2 324.2,353.1 323.0,352.6 321.8,351.7 320.6,350.3 319.4,348.5 318.2,346.2 317.2,343.7 316.4,341.0 315.8,338.1 315.4,334.9 315.2,332.3 315.2,330.2" fill="#D49CE8" stroke="#D49CE8" stroke-width="1.6" stroke-linejoin="round"/>
<polygon points="340.1,304.6 341.3,305.2 342.4,306.0 343.4,306.8 344.2,307.9 344.9,309.0 345.6,310.3 346.3,311.7 347.0,313.3 347.7,315.0 348.0,316.8 347.9,318.5 347.5,320.3 346.7,322.1 346.0,323.7 345.4,325.3 344.9,326.7 344.5,328.0 344.1,329.2 343.7,330.3 343.2,331.3 342.7,332.2 342.0,332.6 341.2,332.6 340.2,332.2 339.1,331.3 338.1,330.0 337.4,328.4 336.9,326.3 336.6,323.9 336.4,321.3 336.3,318.7 336.4,315.9 336.6,313.0 336.8,310.5 337.1,308.5 337.4,306.8 337.8,305.5 338.3,304.7 339.1,304.4" fill="#D49CE8" stroke="#D49CE8" stroke-width="1.6" stroke-linejoin="round"/>
<polygon points="347.3,313.4 347.9,313.9 348.5,314.6 349.3,315.5 350.1,316.6 351.0,317.8 351.9,319.4 352.8,321.3 353.7,323.5 354.7,326.0 355.5,328.5 356.1,330.8 356.7,333.2 357.1,335.4 357.5,337.7 357.8,339.9 358.1,342.0 358.2,344.2 358.4,345.9 358.4,347.3 358.3,348.3 358.2,348.9 357.7,349.1 357.0,348.8 356.0,348.0 354.7,346.7 353.5,345.4 352.4,343.8 351.3,342.2 350.4,340.5 349.5,338.9 348.6,337.6 347.8,336.5 347.0,335.6 346.2,334.7 345.6,333.7 345.1,332.7 344.6,331.6 344.4,330.2 344.4,328.5 344.5,326.5 344.9,324.2 345.2,322.0 345.5,319.8 345.8,317.7 346.1,315.7 346.4,314.3 346.8,313.6" fill="#D49CE8" stroke="#D49CE8" stroke-width="1.6" stroke-linejoin="round"/>
<polygon points="362.3,318.5 368.1,317.2 372.3,320.2 374.8,325.6 372.3,330.8 370.6,337.8 369.0,343.1 362.3,346.3 361.5,334.3 362.3,327.3" fill="#64C8C4" stroke="#64C8C4" stroke-width="1.6" stroke-linejoin="round"/>
<polygon points="370.5,328.8 374.8,325.6 377.2,328.8 379.2,332.9 384.1,337.0 384.7,343.1 382.7,349.8 374.4,347.8 370.5,345.3 369.0,343.1 370.6,337.8" fill="#64C8C4" stroke="#64C8C4" stroke-width="1.6" stroke-linejoin="round"/>
<polygon points="335.7,342.5 336.4,342.8 337.3,343.3 338.3,344.2 339.4,345.4 340.6,347.0 341.4,348.4 341.7,349.7 341.7,350.8 341.2,351.8 340.4,352.7 339.3,353.2 337.9,353.6 336.2,353.7 334.9,353.4 333.9,352.8 333.3,351.8 333.0,350.4 333.0,348.9 333.1,347.5 333.4,346.0 333.9,344.4 334.4,343.3 335.0,342.7" fill="#D49CE8" stroke="#D49CE8" stroke-width="1.6" stroke-linejoin="round"/>
<polygon points="312.9,349.6 314.3,350.1 315.4,350.9 316.1,352.1 316.4,353.5 316.4,355.3 316.1,356.7 315.6,357.7 314.7,358.3 313.5,358.5 312.5,358.1 311.8,357.0 311.3,355.2 311.1,352.6 311.3,350.9 311.9,349.9" fill="#D49CE8" stroke="#D49CE8" stroke-width="1.6" stroke-linejoin="round"/>
<polygon points="330.2,355.5 331.2,355.3 331.9,355.4 332.4,355.9 332.6,356.8 332.6,358.0 332.4,359.0 331.9,359.6 331.2,359.9 330.2,359.9 329.5,359.7 329.0,359.2 328.8,358.4 328.8,357.4 329.0,356.6 329.5,356.0" fill="#D49CE8" stroke="#D49CE8" stroke-width="1.6" stroke-linejoin="round"/>
<polygon points="277.1,362.4 278.1,362.6 279.1,363.2 280.0,364.2 280.7,365.6 281.5,367.3 282.0,369.1 282.4,370.9 282.7,372.6 282.8,374.4 282.8,376.2 282.7,378.2 282.4,380.3 281.9,382.5 281.6,384.6 281.2,386.6 281.0,388.5 280.8,390.3 280.4,391.9 279.9,393.4 279.2,394.8 278.4,396.2 277.5,396.9 276.6,397.1 275.6,396.8 274.6,395.9 273.7,394.8 273.0,393.5 272.5,392.0 272.2,390.2 272.0,388.3 271.9,386.2 272.0,383.9 272.2,381.5 272.4,379.1 272.6,376.7 272.7,374.3 272.9,371.9 273.1,369.7 273.5,367.7 274.0,365.9 274.6,364.4 275.3,363.3 276.1,362.6" fill="#D49CE8" stroke="#D49CE8" stroke-width="1.6" stroke-linejoin="round"/>
<polygon points="285.2,363.2 286.6,362.7 288.2,362.4 290.0,362.3 291.9,362.4 294.0,362.6 295.9,362.7 297.8,362.7 299.6,362.6 301.3,362.4 302.8,362.5 304.2,362.9 305.3,363.7 306.4,364.8 307.4,366.0 308.4,367.2 309.5,368.5 310.5,369.8 311.4,371.4 312.3,373.4 313.0,375.7 313.6,378.4 314.2,380.9 314.7,383.2 315.2,385.3 315.6,387.3 315.6,389.1 315.2,390.6 314.4,391.9 313.1,393.0 311.6,393.6 310.0,393.7 308.1,393.3 306.1,392.4 303.9,391.6 301.6,391.0 299.2,390.4 296.7,390.0 294.2,389.7 291.7,389.6 289.2,389.7 286.7,389.9 284.8,389.3 283.5,387.9 282.7,385.6 282.5,382.6 282.4,379.4 282.4,376.0 282.5,372.6 282.7,369.1 283.2,366.4 284.0,364.4" fill="#D49CE8" stroke="#D49CE8" stroke-width="1.6" stroke-linejoin="round"/>
<polygon points="314.9,363.6 316.2,363.5 317.6,363.2 319.1,362.9 320.6,362.6 322.3,362.1 323.9,361.9 325.5,362.0 327.0,362.4 328.4,363.1 329.8,363.9 331.2,365.1 332.5,366.4 333.7,367.9 335.0,369.7 336.3,371.5 337.7,373.6 339.2,375.7 340.5,377.9 341.7,380.1 342.7,382.3 343.5,384.5 344.2,386.6 344.8,388.5 345.4,390.2 345.8,391.7 346.1,393.2 346.3,394.8 346.4,396.3 346.4,397.8 346.1,398.8 345.4,399.1 344.5,398.8 343.3,397.9 341.7,397.0 339.7,396.0 337.4,395.0 334.7,393.9 332.0,393.0 329.2,392.2 326.5,391.6 323.8,391.2 321.2,390.9 318.6,390.8 316.0,390.8 313.5,391.0 311.7,390.5 310.4,389.2 309.8,387.1 309.8,384.2 309.9,381.5 310.1,379.0 310.4,376.6 310.9,374.4 311.3,372.3 311.7,370.3 312.0,368.4 312.4,366.6 313.0,365.2 313.8,364.2" fill="#D49CE8" stroke="#D49CE8" stroke-width="1.6" stroke-linejoin="round"/>
<polygon points="340.0,358.2 341.2,356.0 342.6,354.2 344.1,352.9 345.9,352.0 347.7,351.6 349.6,351.6 351.3,352.0 353.0,352.9 354.7,354.2 356.1,355.6 357.2,357.0 358.1,358.5 358.7,360.0 359.0,361.9 358.9,364.1 358.4,366.6 357.6,369.5 356.8,372.1 355.9,374.5 355.1,376.7 354.3,378.7 353.4,380.8 352.6,383.1 351.8,385.6 350.9,388.3 350.0,390.5 349.0,392.1 347.8,393.3 346.6,393.9 345.5,393.4 344.4,391.8 343.5,388.9 342.7,385.0 341.7,381.5 340.5,378.4 339.2,375.7 337.7,373.6 336.8,371.4 336.4,369.2 336.5,367.0 337.1,364.7 337.9,362.5 338.9,360.3" fill="#D49CE8" stroke="#D49CE8" stroke-width="1.6" stroke-linejoin="round"/>
<polygon points="361.8,362.7 364.1,363.2 366.2,363.8 368.1,364.4 369.8,365.1 371.3,365.8 372.5,367.1 373.4,368.8 374.2,371.1 374.6,373.9 374.8,376.3 374.5,378.3 373.9,379.9 373.0,381.2 371.5,382.1 369.6,382.7 367.3,383.0 364.4,383.0 362.0,382.5 360.0,381.5 358.4,380.0 357.2,378.0 356.4,375.9 356.0,373.8 356.1,371.6 356.6,369.3 357.0,367.4 357.4,365.8 357.7,364.4 357.9,363.4 358.7,362.8 359.9,362.6" fill="#D49CE8" stroke="#D49CE8" stroke-width="1.6" stroke-linejoin="round"/>
<polygon points="363.7,353.9 366.1,353.9 368.3,354.1 370.3,354.6 372.1,355.4 373.8,356.4 375.0,357.7 375.7,359.4 375.9,361.3 375.7,363.6 375.0,365.1 374.0,366.0 372.5,366.2 370.6,365.7 368.7,365.1 366.8,364.3 364.9,363.4 363.0,362.4 361.6,361.2 360.6,359.9 360.1,358.3 360.1,356.5 360.7,355.2 361.9,354.3" fill="#D49CE8" stroke="#D49CE8" stroke-width="1.6" stroke-linejoin="round"/>
<polygon points="364.4,380.8 366.1,380.7 367.8,380.7 369.5,380.7 371.2,380.7 372.9,380.8 374.4,381.3 375.7,381.9 376.9,382.9 378.0,384.2 378.9,385.6 379.6,387.1 380.2,388.7 380.5,390.5 380.7,392.4 380.8,394.5 380.7,396.9 380.5,399.4 379.9,401.6 379.1,403.5 378.0,405.0 376.5,406.3 375.4,407.4 374.4,408.3 373.8,409.1 373.4,409.7 372.7,409.9 371.8,409.8 370.5,409.3 369.0,408.4 367.4,407.5 365.6,406.4 363.6,405.3 361.5,404.0 359.7,402.6 358.2,401.1 357.2,399.4 356.5,397.6 356.1,395.5 356.2,393.2 356.6,390.6 357.5,387.7 358.3,385.4 359.1,383.7 359.9,382.5 360.6,381.9 361.6,381.5 362.9,381.1" fill="#D49CE8" stroke="#D49CE8" stroke-width="1.6" stroke-linejoin="round"/>
<polygon points="276.6,395.5 277.5,395.2 278.8,394.6 280.5,393.7 282.6,392.6 285.1,391.3 287.3,390.4 289.4,389.9 291.3,389.7 293.0,389.9 294.5,390.3 296.0,390.7 297.3,391.3 298.5,391.9 299.5,393.1 300.2,394.7 300.7,396.9 300.9,399.5 301.5,402.3 302.3,405.2 303.5,408.3 304.9,411.4 305.6,414.4 305.4,417.4 304.5,420.3 302.7,423.1 301.1,425.6 299.7,427.7 298.3,429.6 297.1,431.2 295.7,432.4 293.9,433.3 291.8,434.0 289.5,434.3 287.3,434.2 285.4,433.8 283.7,432.9 282.3,431.7 281.1,430.0 280.2,428.0 279.6,425.6 279.3,422.7 279.0,419.9 278.7,417.1 278.4,414.3 278.1,411.5 277.8,408.7 277.3,405.9 276.8,403.1 276.2,400.3 276.0,398.1 276.1,396.5" fill="#D49CE8" stroke="#D49CE8" stroke-width="1.6" stroke-linejoin="round"/>
<polygon points="302.0,392.7 303.0,393.1 304.2,393.8 305.4,394.7 306.8,395.8 308.3,397.1 309.7,398.9 311.0,401.3 312.3,404.1 313.5,407.3 314.5,410.3 315.3,412.9 315.8,415.1 316.1,417.0 316.0,418.4 315.4,419.4 314.3,419.8 312.9,419.8 311.3,419.0 309.7,417.2 308.0,414.7 306.3,411.2 304.8,408.5 303.6,406.4 302.7,405.1 302.1,404.5 301.6,403.3 301.2,401.5 300.9,399.2 300.7,396.3 300.8,394.3 301.2,393.0" fill="#D49CE8" stroke="#D49CE8" stroke-width="1.6" stroke-linejoin="round"/>
<polygon points="313.5,391.0 316.0,390.8 318.6,390.8 321.2,390.9 323.8,391.2 326.5,391.6 329.2,392.2 332.0,393.0 334.7,393.9 337.4,395.0 339.7,396.0 341.7,397.0 343.3,397.9 344.5,398.8 345.5,399.7 346.2,400.6 346.7,401.4 346.9,402.3 347.2,403.5 347.5,404.8 347.9,406.5 348.3,408.4 348.5,410.5 348.5,413.0 348.3,415.8 347.9,418.9 347.5,421.8 347.1,424.6 346.8,427.3 346.5,429.8 345.8,432.0 344.6,434.0 343.0,435.8 340.9,437.4 338.9,438.9 337.0,440.3 335.1,441.6 333.4,442.9 331.6,443.0 329.8,442.1 328.1,440.1 326.3,437.0 324.8,434.2 323.7,431.7 322.8,429.5 322.2,427.6 321.4,425.9 320.5,424.3 319.5,422.9 318.3,421.7 317.4,420.3 316.6,418.7 316.1,417.0 315.8,415.1 315.3,412.9 314.5,410.3 313.5,407.3 312.3,404.1 311.3,401.1 310.6,398.5 310.2,396.2 310.0,394.3 310.5,392.8 311.7,391.7" fill="#D49CE8" stroke="#D49CE8" stroke-width="1.6" stroke-linejoin="round"/>
<polygon points="305.5,422.1 307.6,421.2 309.6,420.6 311.5,420.3 313.3,420.3 315.1,420.6 316.7,421.0 318.0,421.7 319.1,422.4 320.0,423.4 320.8,424.5 321.5,425.9 322.2,427.6 322.8,429.5 323.5,431.7 324.4,434.2 325.4,437.0 326.6,440.1 327.2,442.6 327.0,444.7 326.2,446.1 324.7,447.1 323.0,447.7 321.0,448.0 318.9,448.0 316.6,447.7 314.3,447.2 312.1,446.4 309.9,445.4 307.9,444.1 306.0,442.5 304.4,440.4 303.0,438.0 301.9,435.2 301.1,432.6 300.8,430.3 301.0,428.2 301.6,426.3 302.5,424.7 303.9,423.3" fill="#D49CE8" stroke="#D49CE8" stroke-width="1.6" stroke-linejoin="round"/>
<polygon points="354.4,413.2 364.9,415.2 361.1,426.3 358.2,419.2" fill="#D49CE8" stroke="#D49CE8" stroke-width="1.6" stroke-linejoin="round"/>
</g>
<g filter="url(#sp3)" opacity="0.6">
<polygon points="276.7,325.8 277.4,324.5 278.2,323.5 279.0,322.7 279.9,322.1 280.9,321.6 281.9,321.4 282.9,321.5 283.9,321.8 285.0,322.3 285.9,323.3 286.9,324.7 287.8,326.5 288.6,328.7 289.2,330.8 289.6,332.9 289.7,334.9 289.6,336.9 289.5,338.9 289.3,340.8 289.0,342.8 288.7,344.8 288.4,346.7 288.3,348.6 288.1,350.4 288.1,352.2 288.0,353.8 288.0,355.3 287.9,356.6 287.9,357.7 287.7,358.7 287.3,359.5 286.7,360.1 285.9,360.6 285.1,360.6 284.4,360.1 283.7,359.2 283.1,357.9 282.5,356.5 282.0,355.1 281.5,353.6 281.0,352.1 280.6,350.8 280.1,349.7 279.6,348.7 279.0,348.0 278.6,347.0 278.3,345.7 278.1,344.2 278.0,342.5 277.7,340.7 277.3,338.9 276.8,337.2 276.1,335.4 275.7,333.8 275.4,332.3 275.3,330.8 275.5,329.5 275.8,328.2 276.2,327.0" fill="#F8766D" stroke="#F8766D" stroke-width="1.6" stroke-linejoin="round"/>
<polygon points="289.5,323.2 293.2,322.7 293.2,329.3 289.8,329.3" fill="#F8766D" stroke="#F8766D" stroke-width="1.6" stroke-linejoin="round"/>
<polygon points="306.4,301.3 307.8,301.0 308.9,301.1 309.8,301.6 310.5,302.5 311.0,303.8 311.2,305.2 311.2,306.7 311.0,308.3 310.5,310.1 309.9,311.7 309.0,313.4 308.0,315.0 306.8,316.5 305.6,318.0 304.3,319.7 302.9,321.4 301.5,323.1 300.2,324.5 299.1,325.4 298.1,325.9 297.3,326.1 296.7,325.8 296.3,325.2 296.2,324.2 296.3,322.8 296.6,321.3 297.2,319.6 297.9,317.7 298.9,315.7 299.7,313.8 300.4,312.1 301.0,310.4 301.5,308.9 302.0,307.5 302.5,306.1 303.0,304.8 303.6,303.5 304.3,302.5 305.3,301.8" fill="#F8766D" stroke="#F8766D" stroke-width="1.6" stroke-linejoin="round"/>
<polygon points="311.2,300.4 312.2,298.9 313.2,297.6 314.4,296.6 315.7,295.8 317.2,295.3 318.9,294.9 320.9,294.6 323.2,294.5 325.8,294.5 328.1,294.6 330.1,294.8 331.7,295.1 333.0,295.5 334.2,296.2 335.2,297.0 336.0,298.2 336.8,299.6 337.3,301.0 337.7,302.6 338.0,304.3 338.1,306.0 338.1,307.7 338.1,309.4 337.9,310.9 337.7,312.4 337.4,314.1 336.9,315.8 336.4,317.7 335.8,319.7 335.0,321.4 333.9,322.6 332.6,323.5 331.1,324.0 329.5,324.3 327.9,324.4 326.3,324.4 324.6,324.1 323.0,323.7 321.5,323.1 320.0,322.2 318.6,321.2 317.2,320.0 315.9,318.7 314.7,317.1 313.5,315.3 312.3,313.7 311.3,312.2 310.3,310.8 309.3,309.5 308.7,308.3 308.5,307.0 308.6,305.8 309.1,304.5 309.7,303.2 310.4,301.8" fill="#F8766D" stroke="#F8766D" stroke-width="1.6" stroke-linejoin="round"/>
<polygon points="314.7,317.8 314.7,319.0 314.3,320.5 313.7,322.2 312.8,324.3 311.6,326.6 310.6,329.0 309.9,331.4 309.5,333.8 309.3,336.2 309.1,338.7 308.9,341.3 308.7,344.0 308.5,346.7 308.4,349.2 308.4,351.3 308.4,353.1 308.6,354.6 308.5,356.0 308.3,357.3 307.8,358.4 307.1,359.4 306.2,360.1 305.1,360.5 303.9,360.6 302.4,360.3 301.0,359.5 299.6,358.3 298.3,356.5 296.9,354.3 295.9,352.1 295.4,350.0 295.2,348.1 295.4,346.2 295.7,343.8 296.1,341.0 296.6,337.8 297.2,334.0 298.0,330.8 299.0,327.9 300.1,325.5 301.3,323.5 302.7,321.9 304.2,320.7 306.0,319.9 307.8,319.4 309.5,318.9 311.0,318.3 312.2,317.7 313.3,317.1 314.0,316.9 314.5,317.1" fill="#F8766D" stroke="#F8766D" stroke-width="1.6" stroke-linejoin="round"/>
<polygon points="315.4,328.7 315.8,327.7 316.4,326.9 317.0,326.1 317.7,325.4 318.5,324.9 319.6,324.4 320.9,324.0 322.4,323.7 324.2,323.5 326.1,323.3 327.9,323.3 329.9,323.4 331.9,323.5 333.5,324.1 334.7,325.0 335.5,326.4 335.9,328.1 336.1,329.8 336.2,331.5 336.1,333.0 335.8,334.5 335.6,336.0 335.2,337.3 334.9,338.5 334.6,339.6 334.0,341.0 333.2,342.5 332.2,344.2 330.9,346.0 329.8,347.8 328.8,349.3 327.9,350.8 327.1,352.0 326.2,352.8 325.3,353.2 324.2,353.1 323.0,352.6 321.8,351.7 320.6,350.3 319.4,348.5 318.2,346.2 317.2,343.7 316.4,341.0 315.8,338.1 315.4,334.9 315.2,332.3 315.2,330.2" fill="#F8766D" stroke="#F8766D" stroke-width="1.6" stroke-linejoin="round"/>
<polygon points="340.1,304.6 341.3,305.2 342.4,306.0 343.4,306.8 344.2,307.9 344.9,309.0 345.6,310.3 346.3,311.7 347.0,313.3 347.7,315.0 348.0,316.8 347.9,318.5 347.5,320.3 346.7,322.1 346.0,323.7 345.4,325.3 344.9,326.7 344.5,328.0 344.1,329.2 343.7,330.3 343.2,331.3 342.7,332.2 342.0,332.6 341.2,332.6 340.2,332.2 339.1,331.3 338.1,330.0 337.4,328.4 336.9,326.3 336.6,323.9 336.4,321.3 336.3,318.7 336.4,315.9 336.6,313.0 336.8,310.5 337.1,308.5 337.4,306.8 337.8,305.5 338.3,304.7 339.1,304.4" fill="#F8766D" stroke="#F8766D" stroke-width="1.6" stroke-linejoin="round"/>
<polygon points="347.3,313.4 347.9,313.9 348.5,314.6 349.3,315.5 350.1,316.6 351.0,317.8 351.9,319.4 352.8,321.3 353.7,323.5 354.7,326.0 355.5,328.5 356.1,330.8 356.7,333.2 357.1,335.4 357.5,337.7 357.8,339.9 358.1,342.0 358.2,344.2 358.4,345.9 358.4,347.3 358.3,348.3 358.2,348.9 357.7,349.1 357.0,348.8 356.0,348.0 354.7,346.7 353.5,345.4 352.4,343.8 351.3,342.2 350.4,340.5 349.5,338.9 348.6,337.6 347.8,336.5 347.0,335.6 346.2,334.7 345.6,333.7 345.1,332.7 344.6,331.6 344.4,330.2 344.4,328.5 344.5,326.5 344.9,324.2 345.2,322.0 345.5,319.8 345.8,317.7 346.1,315.7 346.4,314.3 346.8,313.6" fill="#F8766D" stroke="#F8766D" stroke-width="1.6" stroke-linejoin="round"/>
<polygon points="362.3,318.5 368.1,317.2 372.3,320.2 374.8,325.6 372.3,330.8 370.6,337.8 369.0,343.1 362.3,346.3 361.5,334.3 362.3,327.3" fill="#F08080" stroke="#F08080" stroke-width="1.6" stroke-linejoin="round"/>
<polygon points="370.5,328.8 374.8,325.6 377.2,328.8 379.2,332.9 384.1,337.0 384.7,343.1 382.7,349.8 374.4,347.8 370.5,345.3 369.0,343.1 370.6,337.8" fill="#F08080" stroke="#F08080" stroke-width="1.6" stroke-linejoin="round"/>
<polygon points="335.7,342.5 336.4,342.8 337.3,343.3 338.3,344.2 339.4,345.4 340.6,347.0 341.4,348.4 341.7,349.7 341.7,350.8 341.2,351.8 340.4,352.7 339.3,353.2 337.9,353.6 336.2,353.7 334.9,353.4 333.9,352.8 333.3,351.8 333.0,350.4 333.0,348.9 333.1,347.5 333.4,346.0 333.9,344.4 334.4,343.3 335.0,342.7" fill="#F8766D" stroke="#F8766D" stroke-width="1.6" stroke-linejoin="round"/>
<polygon points="312.9,349.6 314.3,350.1 315.4,350.9 316.1,352.1 316.4,353.5 316.4,355.3 316.1,356.7 315.6,357.7 314.7,358.3 313.5,358.5 312.5,358.1 311.8,357.0 311.3,355.2 311.1,352.6 311.3,350.9 311.9,349.9" fill="#F8766D" stroke="#F8766D" stroke-width="1.6" stroke-linejoin="round"/>
<polygon points="330.2,355.5 331.2,355.3 331.9,355.4 332.4,355.9 332.6,356.8 332.6,358.0 332.4,359.0 331.9,359.6 331.2,359.9 330.2,359.9 329.5,359.7 329.0,359.2 328.8,358.4 328.8,357.4 329.0,356.6 329.5,356.0" fill="#F8766D" stroke="#F8766D" stroke-width="1.6" stroke-linejoin="round"/>
<polygon points="277.1,362.4 278.1,362.6 279.1,363.2 280.0,364.2 280.7,365.6 281.5,367.3 282.0,369.1 282.4,370.9 282.7,372.6 282.8,374.4 282.8,376.2 282.7,378.2 282.4,380.3 281.9,382.5 281.6,384.6 281.2,386.6 281.0,388.5 280.8,390.3 280.4,391.9 279.9,393.4 279.2,394.8 278.4,396.2 277.5,396.9 276.6,397.1 275.6,396.8 274.6,395.9 273.7,394.8 273.0,393.5 272.5,392.0 272.2,390.2 272.0,388.3 271.9,386.2 272.0,383.9 272.2,381.5 272.4,379.1 272.6,376.7 272.7,374.3 272.9,371.9 273.1,369.7 273.5,367.7 274.0,365.9 274.6,364.4 275.3,363.3 276.1,362.6" fill="#F8766D" stroke="#F8766D" stroke-width="1.6" stroke-linejoin="round"/>
<polygon points="285.2,363.2 286.6,362.7 288.2,362.4 290.0,362.3 291.9,362.4 294.0,362.6 295.9,362.7 297.8,362.7 299.6,362.6 301.3,362.4 302.8,362.5 304.2,362.9 305.3,363.7 306.4,364.8 307.4,366.0 308.4,367.2 309.5,368.5 310.5,369.8 311.4,371.4 312.3,373.4 313.0,375.7 313.6,378.4 314.2,380.9 314.7,383.2 315.2,385.3 315.6,387.3 315.6,389.1 315.2,390.6 314.4,391.9 313.1,393.0 311.6,393.6 310.0,393.7 308.1,393.3 306.1,392.4 303.9,391.6 301.6,391.0 299.2,390.4 296.7,390.0 294.2,389.7 291.7,389.6 289.2,389.7 286.7,389.9 284.8,389.3 283.5,387.9 282.7,385.6 282.5,382.6 282.4,379.4 282.4,376.0 282.5,372.6 282.7,369.1 283.2,366.4 284.0,364.4" fill="#F8766D" stroke="#F8766D" stroke-width="1.6" stroke-linejoin="round"/>
<polygon points="314.9,363.6 316.2,363.5 317.6,363.2 319.1,362.9 320.6,362.6 322.3,362.1 323.9,361.9 325.5,362.0 327.0,362.4 328.4,363.1 329.8,363.9 331.2,365.1 332.5,366.4 333.7,367.9 335.0,369.7 336.3,371.5 337.7,373.6 339.2,375.7 340.5,377.9 341.7,380.1 342.7,382.3 343.5,384.5 344.2,386.6 344.8,388.5 345.4,390.2 345.8,391.7 346.1,393.2 346.3,394.8 346.4,396.3 346.4,397.8 346.1,398.8 345.4,399.1 344.5,398.8 343.3,397.9 341.7,397.0 339.7,396.0 337.4,395.0 334.7,393.9 332.0,393.0 329.2,392.2 326.5,391.6 323.8,391.2 321.2,390.9 318.6,390.8 316.0,390.8 313.5,391.0 311.7,390.5 310.4,389.2 309.8,387.1 309.8,384.2 309.9,381.5 310.1,379.0 310.4,376.6 310.9,374.4 311.3,372.3 311.7,370.3 312.0,368.4 312.4,366.6 313.0,365.2 313.8,364.2" fill="#F8766D" stroke="#F8766D" stroke-width="1.6" stroke-linejoin="round"/>
<polygon points="340.0,358.2 341.2,356.0 342.6,354.2 344.1,352.9 345.9,352.0 347.7,351.6 349.6,351.6 351.3,352.0 353.0,352.9 354.7,354.2 356.1,355.6 357.2,357.0 358.1,358.5 358.7,360.0 359.0,361.9 358.9,364.1 358.4,366.6 357.6,369.5 356.8,372.1 355.9,374.5 355.1,376.7 354.3,378.7 353.4,380.8 352.6,383.1 351.8,385.6 350.9,388.3 350.0,390.5 349.0,392.1 347.8,393.3 346.6,393.9 345.5,393.4 344.4,391.8 343.5,388.9 342.7,385.0 341.7,381.5 340.5,378.4 339.2,375.7 337.7,373.6 336.8,371.4 336.4,369.2 336.5,367.0 337.1,364.7 337.9,362.5 338.9,360.3" fill="#F8766D" stroke="#F8766D" stroke-width="1.6" stroke-linejoin="round"/>
<polygon points="361.8,362.7 364.1,363.2 366.2,363.8 368.1,364.4 369.8,365.1 371.3,365.8 372.5,367.1 373.4,368.8 374.2,371.1 374.6,373.9 374.8,376.3 374.5,378.3 373.9,379.9 373.0,381.2 371.5,382.1 369.6,382.7 367.3,383.0 364.4,383.0 362.0,382.5 360.0,381.5 358.4,380.0 357.2,378.0 356.4,375.9 356.0,373.8 356.1,371.6 356.6,369.3 357.0,367.4 357.4,365.8 357.7,364.4 357.9,363.4 358.7,362.8 359.9,362.6" fill="#F8766D" stroke="#F8766D" stroke-width="1.6" stroke-linejoin="round"/>
<polygon points="363.7,353.9 366.1,353.9 368.3,354.1 370.3,354.6 372.1,355.4 373.8,356.4 375.0,357.7 375.7,359.4 375.9,361.3 375.7,363.6 375.0,365.1 374.0,366.0 372.5,366.2 370.6,365.7 368.7,365.1 366.8,364.3 364.9,363.4 363.0,362.4 361.6,361.2 360.6,359.9 360.1,358.3 360.1,356.5 360.7,355.2 361.9,354.3" fill="#F8766D" stroke="#F8766D" stroke-width="1.6" stroke-linejoin="round"/>
<polygon points="364.4,380.8 366.1,380.7 367.8,380.7 369.5,380.7 371.2,380.7 372.9,380.8 374.4,381.3 375.7,381.9 376.9,382.9 378.0,384.2 378.9,385.6 379.6,387.1 380.2,388.7 380.5,390.5 380.7,392.4 380.8,394.5 380.7,396.9 380.5,399.4 379.9,401.6 379.1,403.5 378.0,405.0 376.5,406.3 375.4,407.4 374.4,408.3 373.8,409.1 373.4,409.7 372.7,409.9 371.8,409.8 370.5,409.3 369.0,408.4 367.4,407.5 365.6,406.4 363.6,405.3 361.5,404.0 359.7,402.6 358.2,401.1 357.2,399.4 356.5,397.6 356.1,395.5 356.2,393.2 356.6,390.6 357.5,387.7 358.3,385.4 359.1,383.7 359.9,382.5 360.6,381.9 361.6,381.5 362.9,381.1" fill="#F8766D" stroke="#F8766D" stroke-width="1.6" stroke-linejoin="round"/>
<polygon points="276.6,395.5 277.5,395.2 278.8,394.6 280.5,393.7 282.6,392.6 285.1,391.3 287.3,390.4 289.4,389.9 291.3,389.7 293.0,389.9 294.5,390.3 296.0,390.7 297.3,391.3 298.5,391.9 299.5,393.1 300.2,394.7 300.7,396.9 300.9,399.5 301.5,402.3 302.3,405.2 303.5,408.3 304.9,411.4 305.6,414.4 305.4,417.4 304.5,420.3 302.7,423.1 301.1,425.6 299.7,427.7 298.3,429.6 297.1,431.2 295.7,432.4 293.9,433.3 291.8,434.0 289.5,434.3 287.3,434.2 285.4,433.8 283.7,432.9 282.3,431.7 281.1,430.0 280.2,428.0 279.6,425.6 279.3,422.7 279.0,419.9 278.7,417.1 278.4,414.3 278.1,411.5 277.8,408.7 277.3,405.9 276.8,403.1 276.2,400.3 276.0,398.1 276.1,396.5" fill="#F8766D" stroke="#F8766D" stroke-width="1.6" stroke-linejoin="round"/>
<polygon points="302.0,392.7 303.0,393.1 304.2,393.8 305.4,394.7 306.8,395.8 308.3,397.1 309.7,398.9 311.0,401.3 312.3,404.1 313.5,407.3 314.5,410.3 315.3,412.9 315.8,415.1 316.1,417.0 316.0,418.4 315.4,419.4 314.3,419.8 312.9,419.8 311.3,419.0 309.7,417.2 308.0,414.7 306.3,411.2 304.8,408.5 303.6,406.4 302.7,405.1 302.1,404.5 301.6,403.3 301.2,401.5 300.9,399.2 300.7,396.3 300.8,394.3 301.2,393.0" fill="#F8766D" stroke="#F8766D" stroke-width="1.6" stroke-linejoin="round"/>
<polygon points="313.5,391.0 316.0,390.8 318.6,390.8 321.2,390.9 323.8,391.2 326.5,391.6 329.2,392.2 332.0,393.0 334.7,393.9 337.4,395.0 339.7,396.0 341.7,397.0 343.3,397.9 344.5,398.8 345.5,399.7 346.2,400.6 346.7,401.4 346.9,402.3 347.2,403.5 347.5,404.8 347.9,406.5 348.3,408.4 348.5,410.5 348.5,413.0 348.3,415.8 347.9,418.9 347.5,421.8 347.1,424.6 346.8,427.3 346.5,429.8 345.8,432.0 344.6,434.0 343.0,435.8 340.9,437.4 338.9,438.9 337.0,440.3 335.1,441.6 333.4,442.9 331.6,443.0 329.8,442.1 328.1,440.1 326.3,437.0 324.8,434.2 323.7,431.7 322.8,429.5 322.2,427.6 321.4,425.9 320.5,424.3 319.5,422.9 318.3,421.7 317.4,420.3 316.6,418.7 316.1,417.0 315.8,415.1 315.3,412.9 314.5,410.3 313.5,407.3 312.3,404.1 311.3,401.1 310.6,398.5 310.2,396.2 310.0,394.3 310.5,392.8 311.7,391.7" fill="#F8766D" stroke="#F8766D" stroke-width="1.6" stroke-linejoin="round"/>
<polygon points="305.5,422.1 307.6,421.2 309.6,420.6 311.5,420.3 313.3,420.3 315.1,420.6 316.7,421.0 318.0,421.7 319.1,422.4 320.0,423.4 320.8,424.5 321.5,425.9 322.2,427.6 322.8,429.5 323.5,431.7 324.4,434.2 325.4,437.0 326.6,440.1 327.2,442.6 327.0,444.7 326.2,446.1 324.7,447.1 323.0,447.7 321.0,448.0 318.9,448.0 316.6,447.7 314.3,447.2 312.1,446.4 309.9,445.4 307.9,444.1 306.0,442.5 304.4,440.4 303.0,438.0 301.9,435.2 301.1,432.6 300.8,430.3 301.0,428.2 301.6,426.3 302.5,424.7 303.9,423.3" fill="#F8766D" stroke="#F8766D" stroke-width="1.6" stroke-linejoin="round"/>
<polygon points="354.4,413.2 364.9,415.2 361.1,426.3 358.2,419.2" fill="#F8766D" stroke="#F8766D" stroke-width="1.6" stroke-linejoin="round"/>
</g>
<g filter="url(#sp2)" opacity="0.5">
<polygon points="276.7,325.8 277.4,324.5 278.2,323.5 279.0,322.7 279.9,322.1 280.9,321.6 281.9,321.4 282.9,321.5 283.9,321.8 285.0,322.3 285.9,323.3 286.9,324.7 287.8,326.5 288.6,328.7 289.2,330.8 289.6,332.9 289.7,334.9 289.6,336.9 289.5,338.9 289.3,340.8 289.0,342.8 288.7,344.8 288.4,346.7 288.3,348.6 288.1,350.4 288.1,352.2 288.0,353.8 288.0,355.3 287.9,356.6 287.9,357.7 287.7,358.7 287.3,359.5 286.7,360.1 285.9,360.6 285.1,360.6 284.4,360.1 283.7,359.2 283.1,357.9 282.5,356.5 282.0,355.1 281.5,353.6 281.0,352.1 280.6,350.8 280.1,349.7 279.6,348.7 279.0,348.0 278.6,347.0 278.3,345.7 278.1,344.2 278.0,342.5 277.7,340.7 277.3,338.9 276.8,337.2 276.1,335.4 275.7,333.8 275.4,332.3 275.3,330.8 275.5,329.5 275.8,328.2 276.2,327.0" fill="#FFFFFF" stroke="#FFFFFF" stroke-width="1.6" stroke-linejoin="round"/>
<polygon points="289.5,323.2 293.2,322.7 293.2,329.3 289.8,329.3" fill="#FFFFFF" stroke="#FFFFFF" stroke-width="1.6" stroke-linejoin="round"/>
<polygon points="306.4,301.3 307.8,301.0 308.9,301.1 309.8,301.6 310.5,302.5 311.0,303.8 311.2,305.2 311.2,306.7 311.0,308.3 310.5,310.1 309.9,311.7 309.0,313.4 308.0,315.0 306.8,316.5 305.6,318.0 304.3,319.7 302.9,321.4 301.5,323.1 300.2,324.5 299.1,325.4 298.1,325.9 297.3,326.1 296.7,325.8 296.3,325.2 296.2,324.2 296.3,322.8 296.6,321.3 297.2,319.6 297.9,317.7 298.9,315.7 299.7,313.8 300.4,312.1 301.0,310.4 301.5,308.9 302.0,307.5 302.5,306.1 303.0,304.8 303.6,303.5 304.3,302.5 305.3,301.8" fill="#FFFFFF" stroke="#FFFFFF" stroke-width="1.6" stroke-linejoin="round"/>
<polygon points="311.2,300.4 312.2,298.9 313.2,297.6 314.4,296.6 315.7,295.8 317.2,295.3 318.9,294.9 320.9,294.6 323.2,294.5 325.8,294.5 328.1,294.6 330.1,294.8 331.7,295.1 333.0,295.5 334.2,296.2 335.2,297.0 336.0,298.2 336.8,299.6 337.3,301.0 337.7,302.6 338.0,304.3 338.1,306.0 338.1,307.7 338.1,309.4 337.9,310.9 337.7,312.4 337.4,314.1 336.9,315.8 336.4,317.7 335.8,319.7 335.0,321.4 333.9,322.6 332.6,323.5 331.1,324.0 329.5,324.3 327.9,324.4 326.3,324.4 324.6,324.1 323.0,323.7 321.5,323.1 320.0,322.2 318.6,321.2 317.2,320.0 315.9,318.7 314.7,317.1 313.5,315.3 312.3,313.7 311.3,312.2 310.3,310.8 309.3,309.5 308.7,308.3 308.5,307.0 308.6,305.8 309.1,304.5 309.7,303.2 310.4,301.8" fill="#FFFFFF" stroke="#FFFFFF" stroke-width="1.6" stroke-linejoin="round"/>
<polygon points="314.7,317.8 314.7,319.0 314.3,320.5 313.7,322.2 312.8,324.3 311.6,326.6 310.6,329.0 309.9,331.4 309.5,333.8 309.3,336.2 309.1,338.7 308.9,341.3 308.7,344.0 308.5,346.7 308.4,349.2 308.4,351.3 308.4,353.1 308.6,354.6 308.5,356.0 308.3,357.3 307.8,358.4 307.1,359.4 306.2,360.1 305.1,360.5 303.9,360.6 302.4,360.3 301.0,359.5 299.6,358.3 298.3,356.5 296.9,354.3 295.9,352.1 295.4,350.0 295.2,348.1 295.4,346.2 295.7,343.8 296.1,341.0 296.6,337.8 297.2,334.0 298.0,330.8 299.0,327.9 300.1,325.5 301.3,323.5 302.7,321.9 304.2,320.7 306.0,319.9 307.8,319.4 309.5,318.9 311.0,318.3 312.2,317.7 313.3,317.1 314.0,316.9 314.5,317.1" fill="#FFFFFF" stroke="#FFFFFF" stroke-width="1.6" stroke-linejoin="round"/>
<polygon points="315.4,328.7 315.8,327.7 316.4,326.9 317.0,326.1 317.7,325.4 318.5,324.9 319.6,324.4 320.9,324.0 322.4,323.7 324.2,323.5 326.1,323.3 327.9,323.3 329.9,323.4 331.9,323.5 333.5,324.1 334.7,325.0 335.5,326.4 335.9,328.1 336.1,329.8 336.2,331.5 336.1,333.0 335.8,334.5 335.6,336.0 335.2,337.3 334.9,338.5 334.6,339.6 334.0,341.0 333.2,342.5 332.2,344.2 330.9,346.0 329.8,347.8 328.8,349.3 327.9,350.8 327.1,352.0 326.2,352.8 325.3,353.2 324.2,353.1 323.0,352.6 321.8,351.7 320.6,350.3 319.4,348.5 318.2,346.2 317.2,343.7 316.4,341.0 315.8,338.1 315.4,334.9 315.2,332.3 315.2,330.2" fill="#FFFFFF" stroke="#FFFFFF" stroke-width="1.6" stroke-linejoin="round"/>
<polygon points="340.1,304.6 341.3,305.2 342.4,306.0 343.4,306.8 344.2,307.9 344.9,309.0 345.6,310.3 346.3,311.7 347.0,313.3 347.7,315.0 348.0,316.8 347.9,318.5 347.5,320.3 346.7,322.1 346.0,323.7 345.4,325.3 344.9,326.7 344.5,328.0 344.1,329.2 343.7,330.3 343.2,331.3 342.7,332.2 342.0,332.6 341.2,332.6 340.2,332.2 339.1,331.3 338.1,330.0 337.4,328.4 336.9,326.3 336.6,323.9 336.4,321.3 336.3,318.7 336.4,315.9 336.6,313.0 336.8,310.5 337.1,308.5 337.4,306.8 337.8,305.5 338.3,304.7 339.1,304.4" fill="#FFFFFF" stroke="#FFFFFF" stroke-width="1.6" stroke-linejoin="round"/>
<polygon points="347.3,313.4 347.9,313.9 348.5,314.6 349.3,315.5 350.1,316.6 351.0,317.8 351.9,319.4 352.8,321.3 353.7,323.5 354.7,326.0 355.5,328.5 356.1,330.8 356.7,333.2 357.1,335.4 357.5,337.7 357.8,339.9 358.1,342.0 358.2,344.2 358.4,345.9 358.4,347.3 358.3,348.3 358.2,348.9 357.7,349.1 357.0,348.8 356.0,348.0 354.7,346.7 353.5,345.4 352.4,343.8 351.3,342.2 350.4,340.5 349.5,338.9 348.6,337.6 347.8,336.5 347.0,335.6 346.2,334.7 345.6,333.7 345.1,332.7 344.6,331.6 344.4,330.2 344.4,328.5 344.5,326.5 344.9,324.2 345.2,322.0 345.5,319.8 345.8,317.7 346.1,315.7 346.4,314.3 346.8,313.6" fill="#FFFFFF" stroke="#FFFFFF" stroke-width="1.6" stroke-linejoin="round"/>
<polygon points="362.3,318.5 368.1,317.2 372.3,320.2 374.8,325.6 372.3,330.8 370.6,337.8 369.0,343.1 362.3,346.3 361.5,334.3 362.3,327.3" fill="#FFFFFF" stroke="#FFFFFF" stroke-width="1.6" stroke-linejoin="round"/>
<polygon points="370.5,328.8 374.8,325.6 377.2,328.8 379.2,332.9 384.1,337.0 384.7,343.1 382.7,349.8 374.4,347.8 370.5,345.3 369.0,343.1 370.6,337.8" fill="#FFFFFF" stroke="#FFFFFF" stroke-width="1.6" stroke-linejoin="round"/>
<polygon points="335.7,342.5 336.4,342.8 337.3,343.3 338.3,344.2 339.4,345.4 340.6,347.0 341.4,348.4 341.7,349.7 341.7,350.8 341.2,351.8 340.4,352.7 339.3,353.2 337.9,353.6 336.2,353.7 334.9,353.4 333.9,352.8 333.3,351.8 333.0,350.4 333.0,348.9 333.1,347.5 333.4,346.0 333.9,344.4 334.4,343.3 335.0,342.7" fill="#FFFFFF" stroke="#FFFFFF" stroke-width="1.6" stroke-linejoin="round"/>
<polygon points="312.9,349.6 314.3,350.1 315.4,350.9 316.1,352.1 316.4,353.5 316.4,355.3 316.1,356.7 315.6,357.7 314.7,358.3 313.5,358.5 312.5,358.1 311.8,357.0 311.3,355.2 311.1,352.6 311.3,350.9 311.9,349.9" fill="#FFFFFF" stroke="#FFFFFF" stroke-width="1.6" stroke-linejoin="round"/>
<polygon points="330.2,355.5 331.2,355.3 331.9,355.4 332.4,355.9 332.6,356.8 332.6,358.0 332.4,359.0 331.9,359.6 331.2,359.9 330.2,359.9 329.5,359.7 329.0,359.2 328.8,358.4 328.8,357.4 329.0,356.6 329.5,356.0" fill="#FFFFFF" stroke="#FFFFFF" stroke-width="1.6" stroke-linejoin="round"/>
<polygon points="277.1,362.4 278.1,362.6 279.1,363.2 280.0,364.2 280.7,365.6 281.5,367.3 282.0,369.1 282.4,370.9 282.7,372.6 282.8,374.4 282.8,376.2 282.7,378.2 282.4,380.3 281.9,382.5 281.6,384.6 281.2,386.6 281.0,388.5 280.8,390.3 280.4,391.9 279.9,393.4 279.2,394.8 278.4,396.2 277.5,396.9 276.6,397.1 275.6,396.8 274.6,395.9 273.7,394.8 273.0,393.5 272.5,392.0 272.2,390.2 272.0,388.3 271.9,386.2 272.0,383.9 272.2,381.5 272.4,379.1 272.6,376.7 272.7,374.3 272.9,371.9 273.1,369.7 273.5,367.7 274.0,365.9 274.6,364.4 275.3,363.3 276.1,362.6" fill="#FFFFFF" stroke="#FFFFFF" stroke-width="1.6" stroke-linejoin="round"/>
<polygon points="285.2,363.2 286.6,362.7 288.2,362.4 290.0,362.3 291.9,362.4 294.0,362.6 295.9,362.7 297.8,362.7 299.6,362.6 301.3,362.4 302.8,362.5 304.2,362.9 305.3,363.7 306.4,364.8 307.4,366.0 308.4,367.2 309.5,368.5 310.5,369.8 311.4,371.4 312.3,373.4 313.0,375.7 313.6,378.4 314.2,380.9 314.7,383.2 315.2,385.3 315.6,387.3 315.6,389.1 315.2,390.6 314.4,391.9 313.1,393.0 311.6,393.6 310.0,393.7 308.1,393.3 306.1,392.4 303.9,391.6 301.6,391.0 299.2,390.4 296.7,390.0 294.2,389.7 291.7,389.6 289.2,389.7 286.7,389.9 284.8,389.3 283.5,387.9 282.7,385.6 282.5,382.6 282.4,379.4 282.4,376.0 282.5,372.6 282.7,369.1 283.2,366.4 284.0,364.4" fill="#FFFFFF" stroke="#FFFFFF" stroke-width="1.6" stroke-linejoin="round"/>
<polygon points="314.9,363.6 316.2,363.5 317.6,363.2 319.1,362.9 320.6,362.6 322.3,362.1 323.9,361.9 325.5,362.0 327.0,362.4 328.4,363.1 329.8,363.9 331.2,365.1 332.5,366.4 333.7,367.9 335.0,369.7 336.3,371.5 337.7,373.6 339.2,375.7 340.5,377.9 341.7,380.1 342.7,382.3 343.5,384.5 344.2,386.6 344.8,388.5 345.4,390.2 345.8,391.7 346.1,393.2 346.3,394.8 346.4,396.3 346.4,397.8 346.1,398.8 345.4,399.1 344.5,398.8 343.3,397.9 341.7,397.0 339.7,396.0 337.4,395.0 334.7,393.9 332.0,393.0 329.2,392.2 326.5,391.6 323.8,391.2 321.2,390.9 318.6,390.8 316.0,390.8 313.5,391.0 311.7,390.5 310.4,389.2 309.8,387.1 309.8,384.2 309.9,381.5 310.1,379.0 310.4,376.6 310.9,374.4 311.3,372.3 311.7,370.3 312.0,368.4 312.4,366.6 313.0,365.2 313.8,364.2" fill="#FFFFFF" stroke="#FFFFFF" stroke-width="1.6" stroke-linejoin="round"/>
<polygon points="340.0,358.2 341.2,356.0 342.6,354.2 344.1,352.9 345.9,352.0 347.7,351.6 349.6,351.6 351.3,352.0 353.0,352.9 354.7,354.2 356.1,355.6 357.2,357.0 358.1,358.5 358.7,360.0 359.0,361.9 358.9,364.1 358.4,366.6 357.6,369.5 356.8,372.1 355.9,374.5 355.1,376.7 354.3,378.7 353.4,380.8 352.6,383.1 351.8,385.6 350.9,388.3 350.0,390.5 349.0,392.1 347.8,393.3 346.6,393.9 345.5,393.4 344.4,391.8 343.5,388.9 342.7,385.0 341.7,381.5 340.5,378.4 339.2,375.7 337.7,373.6 336.8,371.4 336.4,369.2 336.5,367.0 337.1,364.7 337.9,362.5 338.9,360.3" fill="#FFFFFF" stroke="#FFFFFF" stroke-width="1.6" stroke-linejoin="round"/>
<polygon points="361.8,362.7 364.1,363.2 366.2,363.8 368.1,364.4 369.8,365.1 371.3,365.8 372.5,367.1 373.4,368.8 374.2,371.1 374.6,373.9 374.8,376.3 374.5,378.3 373.9,379.9 373.0,381.2 371.5,382.1 369.6,382.7 367.3,383.0 364.4,383.0 362.0,382.5 360.0,381.5 358.4,380.0 357.2,378.0 356.4,375.9 356.0,373.8 356.1,371.6 356.6,369.3 357.0,367.4 357.4,365.8 357.7,364.4 357.9,363.4 358.7,362.8 359.9,362.6" fill="#FFFFFF" stroke="#FFFFFF" stroke-width="1.6" stroke-linejoin="round"/>
<polygon points="363.7,353.9 366.1,353.9 368.3,354.1 370.3,354.6 372.1,355.4 373.8,356.4 375.0,357.7 375.7,359.4 375.9,361.3 375.7,363.6 375.0,365.1 374.0,366.0 372.5,366.2 370.6,365.7 368.7,365.1 366.8,364.3 364.9,363.4 363.0,362.4 361.6,361.2 360.6,359.9 360.1,358.3 360.1,356.5 360.7,355.2 361.9,354.3" fill="#FFFFFF" stroke="#FFFFFF" stroke-width="1.6" stroke-linejoin="round"/>
<polygon points="364.4,380.8 366.1,380.7 367.8,380.7 369.5,380.7 371.2,380.7 372.9,380.8 374.4,381.3 375.7,381.9 376.9,382.9 378.0,384.2 378.9,385.6 379.6,387.1 380.2,388.7 380.5,390.5 380.7,392.4 380.8,394.5 380.7,396.9 380.5,399.4 379.9,401.6 379.1,403.5 378.0,405.0 376.5,406.3 375.4,407.4 374.4,408.3 373.8,409.1 373.4,409.7 372.7,409.9 371.8,409.8 370.5,409.3 369.0,408.4 367.4,407.5 365.6,406.4 363.6,405.3 361.5,404.0 359.7,402.6 358.2,401.1 357.2,399.4 356.5,397.6 356.1,395.5 356.2,393.2 356.6,390.6 357.5,387.7 358.3,385.4 359.1,383.7 359.9,382.5 360.6,381.9 361.6,381.5 362.9,381.1" fill="#FFFFFF" stroke="#FFFFFF" stroke-width="1.6" stroke-linejoin="round"/>
<polygon points="276.6,395.5 277.5,395.2 278.8,394.6 280.5,393.7 282.6,392.6 285.1,391.3 287.3,390.4 289.4,389.9 291.3,389.7 293.0,389.9 294.5,390.3 296.0,390.7 297.3,391.3 298.5,391.9 299.5,393.1 300.2,394.7 300.7,396.9 300.9,399.5 301.5,402.3 302.3,405.2 303.5,408.3 304.9,411.4 305.6,414.4 305.4,417.4 304.5,420.3 302.7,423.1 301.1,425.6 299.7,427.7 298.3,429.6 297.1,431.2 295.7,432.4 293.9,433.3 291.8,434.0 289.5,434.3 287.3,434.2 285.4,433.8 283.7,432.9 282.3,431.7 281.1,430.0 280.2,428.0 279.6,425.6 279.3,422.7 279.0,419.9 278.7,417.1 278.4,414.3 278.1,411.5 277.8,408.7 277.3,405.9 276.8,403.1 276.2,400.3 276.0,398.1 276.1,396.5" fill="#FFFFFF" stroke="#FFFFFF" stroke-width="1.6" stroke-linejoin="round"/>
<polygon points="302.0,392.7 303.0,393.1 304.2,393.8 305.4,394.7 306.8,395.8 308.3,397.1 309.7,398.9 311.0,401.3 312.3,404.1 313.5,407.3 314.5,410.3 315.3,412.9 315.8,415.1 316.1,417.0 316.0,418.4 315.4,419.4 314.3,419.8 312.9,419.8 311.3,419.0 309.7,417.2 308.0,414.7 306.3,411.2 304.8,408.5 303.6,406.4 302.7,405.1 302.1,404.5 301.6,403.3 301.2,401.5 300.9,399.2 300.7,396.3 300.8,394.3 301.2,393.0" fill="#FFFFFF" stroke="#FFFFFF" stroke-width="1.6" stroke-linejoin="round"/>
<polygon points="313.5,391.0 316.0,390.8 318.6,390.8 321.2,390.9 323.8,391.2 326.5,391.6 329.2,392.2 332.0,393.0 334.7,393.9 337.4,395.0 339.7,396.0 341.7,397.0 343.3,397.9 344.5,398.8 345.5,399.7 346.2,400.6 346.7,401.4 346.9,402.3 347.2,403.5 347.5,404.8 347.9,406.5 348.3,408.4 348.5,410.5 348.5,413.0 348.3,415.8 347.9,418.9 347.5,421.8 347.1,424.6 346.8,427.3 346.5,429.8 345.8,432.0 344.6,434.0 343.0,435.8 340.9,437.4 338.9,438.9 337.0,440.3 335.1,441.6 333.4,442.9 331.6,443.0 329.8,442.1 328.1,440.1 326.3,437.0 324.8,434.2 323.7,431.7 322.8,429.5 322.2,427.6 321.4,425.9 320.5,424.3 319.5,422.9 318.3,421.7 317.4,420.3 316.6,418.7 316.1,417.0 315.8,415.1 315.3,412.9 314.5,410.3 313.5,407.3 312.3,404.1 311.3,401.1 310.6,398.5 310.2,396.2 310.0,394.3 310.5,392.8 311.7,391.7" fill="#FFFFFF" stroke="#FFFFFF" stroke-width="1.6" stroke-linejoin="round"/>
<polygon points="305.5,422.1 307.6,421.2 309.6,420.6 311.5,420.3 313.3,420.3 315.1,420.6 316.7,421.0 318.0,421.7 319.1,422.4 320.0,423.4 320.8,424.5 321.5,425.9 322.2,427.6 322.8,429.5 323.5,431.7 324.4,434.2 325.4,437.0 326.6,440.1 327.2,442.6 327.0,444.7 326.2,446.1 324.7,447.1 323.0,447.7 321.0,448.0 318.9,448.0 316.6,447.7 314.3,447.2 312.1,446.4 309.9,445.4 307.9,444.1 306.0,442.5 304.4,440.4 303.0,438.0 301.9,435.2 301.1,432.6 300.8,430.3 301.0,428.2 301.6,426.3 302.5,424.7 303.9,423.3" fill="#FFFFFF" stroke="#FFFFFF" stroke-width="1.6" stroke-linejoin="round"/>
<polygon points="354.4,413.2 364.9,415.2 361.1,426.3 358.2,419.2" fill="#FFFFFF" stroke="#FFFFFF" stroke-width="1.6" stroke-linejoin="round"/>
</g>
<path d="M389.8,370.0 L386.8,377.1" fill="none" stroke="#C77CFF" stroke-width="1.1" stroke-linecap="round" opacity="0.85"/>
<line x1="265.4" y1="286.5" x2="265.4" y2="461.8" stroke="#222" stroke-width="1" />
<line x1="264.9" y1="461.3" x2="397.9" y2="461.3" stroke="#222" stroke-width="1" />
<line x1="263.4" y1="309.05" x2="265.4" y2="309.05" stroke="#333" stroke-width="0.8" />
<text x="261.9" y="312.15" font-size="8.6" text-anchor="end" fill="#333"  stroke="#333" stroke-width="0.22">20</text>
<line x1="263.4" y1="342.27" x2="265.4" y2="342.27" stroke="#333" stroke-width="0.8" />
<text x="261.9" y="345.38" font-size="8.6" text-anchor="end" fill="#333"  stroke="#333" stroke-width="0.22">10</text>
<line x1="263.4" y1="375.5" x2="265.4" y2="375.5" stroke="#333" stroke-width="0.8" />
<text x="261.9" y="378.6" font-size="8.6" text-anchor="end" fill="#333"  stroke="#333" stroke-width="0.22">0</text>
<line x1="263.4" y1="408.73" x2="265.4" y2="408.73" stroke="#333" stroke-width="0.8" />
<text x="261.9" y="411.83" font-size="8.6" text-anchor="end" fill="#333"  stroke="#333" stroke-width="0.22">−10</text>
<line x1="263.4" y1="441.95" x2="265.4" y2="441.95" stroke="#333" stroke-width="0.8" />
<text x="261.9" y="445.05" font-size="8.6" text-anchor="end" fill="#333"  stroke="#333" stroke-width="0.22">−20</text>
<line x1="276.5" y1="461.3" x2="276.5" y2="463.3" stroke="#333" stroke-width="0.8" />
<text x="278.5" y="472.5" font-size="8.6" text-anchor="middle" fill="#333"  stroke="#333" stroke-width="0.22">−20</text>
<line x1="301.15" y1="461.3" x2="301.15" y2="463.3" stroke="#333" stroke-width="0.8" />
<text x="303.15" y="472.5" font-size="8.6" text-anchor="middle" fill="#333"  stroke="#333" stroke-width="0.22">−10</text>
<line x1="325.8" y1="461.3" x2="325.8" y2="463.3" stroke="#333" stroke-width="0.8" />
<text x="326.8" y="472.5" font-size="8.6" text-anchor="middle" fill="#333"  stroke="#333" stroke-width="0.22">0</text>
<line x1="350.45" y1="461.3" x2="350.45" y2="463.3" stroke="#333" stroke-width="0.8" />
<text x="351.45" y="472.5" font-size="8.6" text-anchor="middle" fill="#333"  stroke="#333" stroke-width="0.22">10</text>
<line x1="375.1" y1="461.3" x2="375.1" y2="463.3" stroke="#333" stroke-width="0.8" />
<text x="376.1" y="472.5" font-size="8.6" text-anchor="middle" fill="#333"  stroke="#333" stroke-width="0.22">20</text>
<text x="249" y="368.4" font-size="8.5" text-anchor="middle" fill="#222" stroke="#222" stroke-width="0.22" transform="rotate(-90 249 368.4)">tSNE_2</text>
<text x="332.5" y="484" font-size="8.5" text-anchor="middle" fill="#222"  stroke="#222" stroke-width="0.22">tSNE_1</text>
<circle cx="405" cy="361.5" r="2.3" fill="#F8766D" stroke="none" stroke-width="0.6" />
<text x="412.7" y="364.6" font-size="8.5" text-anchor="start" fill="#222"  stroke="#222" stroke-width="0.22">After-co</text>
<circle cx="405" cy="372.2" r="2.3" fill="#7CAE00" stroke="none" stroke-width="0.6" />
<text x="412.7" y="375.3" font-size="8.5" text-anchor="start" fill="#222"  stroke="#222" stroke-width="0.22">N_ORG</text>
<circle cx="405" cy="382.4" r="2.3" fill="#00BFC4" stroke="none" stroke-width="0.6" />
<text x="412.7" y="385.5" font-size="8.5" text-anchor="start" fill="#222"  stroke="#222" stroke-width="0.22">T_ORG</text>
<circle cx="405" cy="392.1" r="2.3" fill="#C77CFF" stroke="none" stroke-width="0.6" />
<text x="412.7" y="395.2" font-size="8.5" text-anchor="start" fill="#222"  stroke="#222" stroke-width="0.22">Befor-co</text>
<text x="479.3" y="266.2" font-size="15" text-anchor="start" fill="#2A2426" stroke="#2A2426" stroke-width="0.12">F</text>
<text x="569.1" y="281.4" font-size="8.6" text-anchor="middle" fill="#111" font-weight="bold"  stroke="#111" stroke-width="0.22">Cancertype</text>
<g filter="url(#soft)" opacity="0.92">
<polygon points="515.5,331.9 516.2,330.6 517.0,329.6 517.8,328.8 518.7,328.2 519.7,327.7 520.7,327.5 521.7,327.6 522.7,327.9 523.8,328.4 524.7,329.4 525.7,330.8 526.6,332.6 527.4,334.8 528.0,336.9 528.4,339.0 528.5,341.0 528.4,343.0 528.3,345.0 528.1,346.9 527.8,348.9 527.5,350.9 527.2,352.8 527.1,354.7 526.9,356.5 526.9,358.3 526.8,359.9 526.8,361.4 526.7,362.7 526.7,363.8 526.5,364.8 526.1,365.6 525.5,366.2 524.7,366.7 523.9,366.7 523.2,366.2 522.5,365.3 521.9,364.0 521.3,362.6 520.8,361.2 520.3,359.7 519.8,358.2 519.4,356.9 518.9,355.8 518.4,354.8 517.8,354.1 517.4,353.1 517.1,351.8 516.9,350.3 516.8,348.6 516.5,346.8 516.1,345.0 515.6,343.3 514.9,341.5 514.5,339.9 514.2,338.4 514.1,336.9 514.3,335.6 514.6,334.3 515.0,333.1" fill="#F0A09A" stroke="#F0A09A" stroke-width="1.6" stroke-linejoin="round"/>
<polygon points="528.3,329.3 532.0,328.8 532.0,335.4 528.6,335.4" fill="#F0A09A" stroke="#F0A09A" stroke-width="1.6" stroke-linejoin="round"/>
<polygon points="545.2,307.4 546.6,307.1 547.7,307.2 548.6,307.7 549.3,308.6 549.8,309.9 550.0,311.3 550.0,312.8 549.8,314.4 549.3,316.2 548.7,317.8 547.8,319.5 546.8,321.1 545.6,322.6 544.4,324.1 543.1,325.8 541.7,327.5 540.3,329.2 539.0,330.6 537.9,331.5 536.9,332.0 536.1,332.2 535.5,331.9 535.1,331.3 535.0,330.3 535.1,328.9 535.4,327.4 536.0,325.7 536.7,323.8 537.7,321.8 538.5,319.9 539.2,318.2 539.8,316.5 540.3,315.0 540.8,313.6 541.3,312.2 541.8,310.9 542.4,309.6 543.1,308.6 544.1,307.9" fill="#F0A09A" stroke="#F0A09A" stroke-width="1.6" stroke-linejoin="round"/>
<polygon points="550.0,306.5 551.0,305.0 552.0,303.7 553.2,302.7 554.5,301.9 556.0,301.4 557.7,301.0 559.7,300.7 562.0,300.6 564.6,300.6 566.9,300.7 568.9,300.9 570.5,301.2 571.8,301.6 573.0,302.3 574.0,303.1 574.8,304.3 575.6,305.7 576.1,307.1 576.5,308.7 576.8,310.4 576.9,312.1 576.9,313.8 576.9,315.5 576.7,317.0 576.5,318.5 576.2,320.2 575.7,321.9 575.2,323.8 574.6,325.8 573.8,327.5 572.7,328.7 571.4,329.6 569.9,330.1 568.3,330.4 566.7,330.5 565.1,330.5 563.4,330.2 561.8,329.8 560.3,329.2 558.8,328.3 557.4,327.3 556.0,326.1 554.7,324.8 553.5,323.2 552.3,321.4 551.1,319.8 550.1,318.3 549.1,316.9 548.1,315.6 547.5,314.4 547.3,313.1 547.4,311.9 547.9,310.6 548.5,309.3 549.2,307.9" fill="#F0A09A" stroke="#F0A09A" stroke-width="1.6" stroke-linejoin="round"/>
<polygon points="553.5,323.9 553.5,325.1 553.1,326.6 552.5,328.3 551.6,330.4 550.4,332.7 549.4,335.1 548.7,337.5 548.3,339.9 548.1,342.3 547.9,344.8 547.7,347.4 547.5,350.1 547.3,352.8 547.2,355.3 547.2,357.4 547.2,359.2 547.4,360.7 547.3,362.1 547.1,363.4 546.6,364.5 545.9,365.5 545.0,366.2 543.9,366.6 542.7,366.7 541.2,366.4 539.8,365.6 538.4,364.4 537.1,362.6 535.7,360.4 534.7,358.2 534.2,356.1 534.0,354.2 534.2,352.3 534.5,349.9 534.9,347.1 535.4,343.9 536.0,340.1 536.8,336.9 537.8,334.0 538.9,331.6 540.1,329.6 541.5,328.0 543.0,326.8 544.8,326.0 546.6,325.5 548.3,325.0 549.8,324.4 551.0,323.8 552.1,323.2 552.8,323.0 553.3,323.2" fill="#F0A09A" stroke="#F0A09A" stroke-width="1.6" stroke-linejoin="round"/>
<polygon points="554.2,334.8 554.6,333.8 555.1,333.0 555.8,332.2 556.5,331.5 557.3,331.0 558.4,330.5 559.7,330.1 561.2,329.8 563.0,329.6 564.9,329.4 566.7,329.4 568.7,329.5 570.7,329.6 572.3,330.2 573.5,331.1 574.3,332.5 574.7,334.2 574.9,335.9 575.0,337.6 574.9,339.1 574.6,340.6 574.4,342.1 574.0,343.4 573.7,344.6 573.4,345.7 572.8,347.1 572.0,348.6 571.0,350.3 569.7,352.1 568.6,353.9 567.6,355.4 566.7,356.9 565.9,358.1 565.0,358.9 564.1,359.3 563.0,359.2 561.8,358.7 560.6,357.8 559.4,356.4 558.2,354.6 557.0,352.3 556.0,349.8 555.2,347.1 554.6,344.2 554.2,341.0 554.0,338.4 554.0,336.3" fill="#F0A09A" stroke="#F0A09A" stroke-width="1.6" stroke-linejoin="round"/>
<polygon points="578.9,310.7 580.1,311.3 581.2,312.1 582.2,312.9 583.0,314.0 583.7,315.1 584.4,316.4 585.1,317.8 585.8,319.4 586.5,321.1 586.8,322.9 586.7,324.6 586.3,326.4 585.5,328.2 584.8,329.8 584.2,331.4 583.7,332.8 583.3,334.1 582.9,335.3 582.5,336.4 582.0,337.4 581.5,338.3 580.8,338.7 580.0,338.7 579.0,338.3 577.9,337.4 576.9,336.1 576.2,334.5 575.7,332.4 575.4,330.0 575.2,327.4 575.1,324.8 575.2,322.0 575.4,319.1 575.6,316.6 575.9,314.6 576.2,312.9 576.6,311.6 577.1,310.8 577.9,310.5" fill="#80C2C2" stroke="#80C2C2" stroke-width="1.6" stroke-linejoin="round"/>
<polygon points="586.1,319.5 586.7,320.0 587.3,320.7 588.1,321.6 588.9,322.7 589.8,323.9 590.7,325.5 591.6,327.4 592.5,329.6 593.5,332.1 594.3,334.6 594.9,336.9 595.5,339.3 595.9,341.5 596.3,343.8 596.6,346.0 596.9,348.1 597.0,350.3 597.2,352.0 597.2,353.4 597.1,354.4 597.0,355.0 596.5,355.2 595.8,354.9 594.8,354.1 593.5,352.8 592.3,351.5 591.2,349.9 590.1,348.3 589.2,346.6 588.3,345.0 587.4,343.7 586.6,342.6 585.8,341.7 585.0,340.8 584.4,339.8 583.9,338.8 583.4,337.7 583.2,336.3 583.2,334.6 583.3,332.6 583.7,330.3 584.0,328.1 584.3,325.9 584.6,323.8 584.9,321.8 585.2,320.4 585.6,319.7" fill="#80C2C2" stroke="#80C2C2" stroke-width="1.6" stroke-linejoin="round"/>
<polygon points="601.1,324.6 606.9,323.3 611.1,326.3 613.6,331.7 611.1,336.9 609.4,343.9 607.8,349.2 601.1,352.4 600.3,340.4 601.1,333.4" fill="#F0A09A" stroke="#F0A09A" stroke-width="1.6" stroke-linejoin="round"/>
<polygon points="609.3,334.9 613.6,331.7 616.0,334.9 618.0,339.0 622.9,343.1 623.5,349.2 621.5,355.9 613.2,353.9 609.3,351.4 607.8,349.2 609.4,343.9" fill="#F0A09A" stroke="#F0A09A" stroke-width="1.6" stroke-linejoin="round"/>
<polygon points="574.5,348.6 575.2,348.9 576.1,349.4 577.1,350.3 578.2,351.5 579.4,353.1 580.2,354.5 580.5,355.8 580.5,356.9 580.0,357.9 579.2,358.8 578.1,359.3 576.7,359.7 575.0,359.8 573.7,359.5 572.7,358.9 572.1,357.9 571.8,356.5 571.8,355.0 571.9,353.6 572.2,352.1 572.7,350.5 573.2,349.4 573.8,348.8" fill="#F0A09A" stroke="#F0A09A" stroke-width="1.6" stroke-linejoin="round"/>
<polygon points="551.7,355.7 553.1,356.2 554.2,357.0 554.9,358.2 555.2,359.6 555.2,361.4 554.9,362.8 554.4,363.8 553.5,364.4 552.3,364.6 551.3,364.2 550.6,363.1 550.1,361.3 549.9,358.7 550.1,357.0 550.7,356.0" fill="#F0A09A" stroke="#F0A09A" stroke-width="1.6" stroke-linejoin="round"/>
<polygon points="569.0,361.6 570.0,361.4 570.7,361.5 571.2,362.0 571.4,362.9 571.4,364.1 571.2,365.1 570.7,365.7 570.0,366.0 569.0,366.0 568.3,365.8 567.8,365.3 567.6,364.5 567.6,363.5 567.8,362.7 568.3,362.1" fill="#F0A09A" stroke="#F0A09A" stroke-width="1.6" stroke-linejoin="round"/>
<polygon points="515.9,368.5 516.9,368.7 517.9,369.3 518.8,370.3 519.5,371.7 520.3,373.4 520.8,375.2 521.2,377.0 521.5,378.7 521.6,380.5 521.6,382.3 521.5,384.3 521.2,386.4 520.7,388.6 520.4,390.7 520.0,392.7 519.8,394.6 519.6,396.4 519.2,398.0 518.7,399.5 518.0,400.9 517.2,402.3 516.3,403.0 515.4,403.2 514.4,402.9 513.4,402.0 512.5,400.9 511.8,399.6 511.3,398.1 511.0,396.3 510.8,394.4 510.7,392.3 510.8,390.0 511.0,387.6 511.2,385.2 511.4,382.8 511.5,380.4 511.7,378.0 511.9,375.8 512.3,373.8 512.8,372.0 513.4,370.5 514.1,369.4 514.9,368.7" fill="#F0A09A" stroke="#F0A09A" stroke-width="1.6" stroke-linejoin="round"/>
<polygon points="524.0,369.3 525.4,368.8 527.0,368.5 528.8,368.4 530.7,368.5 532.8,368.7 534.7,368.8 536.6,368.8 538.4,368.7 540.1,368.5 541.6,368.6 543.0,369.0 544.1,369.8 545.2,370.9 546.2,372.1 547.2,373.3 548.3,374.6 549.3,375.9 550.2,377.5 551.1,379.5 551.8,381.8 552.4,384.5 553.0,387.0 553.5,389.3 554.0,391.4 554.4,393.4 554.4,395.2 554.0,396.7 553.2,398.0 551.9,399.1 550.4,399.7 548.8,399.8 546.9,399.4 544.9,398.5 542.7,397.7 540.4,397.1 538.0,396.5 535.5,396.1 533.0,395.8 530.5,395.7 528.0,395.8 525.5,396.0 523.6,395.4 522.3,394.0 521.5,391.7 521.3,388.7 521.2,385.5 521.2,382.1 521.3,378.7 521.5,375.2 522.0,372.5 522.8,370.5" fill="#F0A09A" stroke="#F0A09A" stroke-width="1.6" stroke-linejoin="round"/>
<polygon points="553.7,369.7 555.0,369.6 556.4,369.3 557.9,369.0 559.4,368.7 561.1,368.2 562.7,368.0 564.3,368.1 565.8,368.5 567.2,369.2 568.6,370.0 570.0,371.2 571.3,372.5 572.5,374.0 573.8,375.8 575.1,377.6 576.5,379.7 578.0,381.8 579.3,384.0 580.5,386.2 581.5,388.4 582.3,390.6 583.0,392.7 583.6,394.6 584.2,396.3 584.6,397.8 584.9,399.3 585.1,400.9 585.2,402.4 585.2,403.9 584.9,404.9 584.2,405.2 583.3,404.9 582.1,404.0 580.5,403.1 578.5,402.1 576.2,401.1 573.5,400.0 570.8,399.1 568.0,398.3 565.3,397.7 562.6,397.3 560.0,397.0 557.4,396.9 554.8,396.9 552.3,397.1 550.5,396.6 549.2,395.3 548.6,393.2 548.6,390.3 548.7,387.6 548.9,385.1 549.2,382.7 549.7,380.5 550.1,378.4 550.5,376.4 550.8,374.5 551.2,372.7 551.8,371.3 552.6,370.3" fill="#F0A09A" stroke="#F0A09A" stroke-width="1.6" stroke-linejoin="round"/>
<polygon points="578.8,364.3 580.0,362.1 581.4,360.3 582.9,359.0 584.7,358.1 586.5,357.7 588.4,357.7 590.1,358.1 591.8,359.0 593.5,360.3 594.9,361.7 596.0,363.1 596.9,364.6 597.5,366.1 597.8,368.0 597.7,370.2 597.2,372.7 596.4,375.6 595.6,378.2 594.7,380.6 593.9,382.8 593.1,384.8 592.2,386.9 591.4,389.2 590.6,391.7 589.7,394.4 588.8,396.6 587.8,398.2 586.6,399.4 585.4,400.0 584.3,399.5 583.2,397.9 582.3,395.0 581.5,391.1 580.5,387.6 579.3,384.5 578.0,381.8 576.5,379.7 575.6,377.5 575.2,375.3 575.3,373.1 575.9,370.8 576.7,368.6 577.7,366.4" fill="#80C2C2" stroke="#80C2C2" stroke-width="1.6" stroke-linejoin="round"/>
<polygon points="600.6,368.8 602.9,369.3 605.0,369.9 606.9,370.5 608.6,371.2 610.1,371.9 611.3,373.2 612.2,374.9 613.0,377.2 613.4,380.0 613.6,382.4 613.3,384.4 612.7,386.0 611.8,387.3 610.3,388.2 608.4,388.8 606.1,389.1 603.2,389.1 600.8,388.6 598.8,387.6 597.2,386.1 596.0,384.1 595.2,382.0 594.8,379.9 594.9,377.7 595.4,375.4 595.8,373.5 596.2,371.9 596.5,370.5 596.7,369.5 597.5,368.9 598.7,368.7" fill="#80C2C2" stroke="#80C2C2" stroke-width="1.6" stroke-linejoin="round"/>
<polygon points="602.5,360.0 604.9,360.0 607.1,360.2 609.1,360.7 610.9,361.5 612.6,362.5 613.8,363.8 614.5,365.5 614.7,367.4 614.5,369.7 613.8,371.2 612.8,372.1 611.3,372.3 609.4,371.8 607.5,371.2 605.6,370.4 603.7,369.5 601.8,368.5 600.4,367.3 599.4,366.0 598.9,364.4 598.9,362.6 599.5,361.3 600.7,360.4" fill="#F0A09A" stroke="#F0A09A" stroke-width="1.6" stroke-linejoin="round"/>
<polygon points="603.2,386.9 604.9,386.8 606.6,386.8 608.3,386.8 610.0,386.8 611.7,386.9 613.2,387.4 614.5,388.0 615.7,389.0 616.8,390.3 617.7,391.7 618.4,393.2 619.0,394.8 619.3,396.6 619.5,398.5 619.6,400.6 619.5,403.0 619.3,405.5 618.7,407.7 617.9,409.6 616.8,411.1 615.3,412.4 614.2,413.5 613.2,414.4 612.6,415.2 612.2,415.8 611.5,416.0 610.6,415.9 609.3,415.4 607.8,414.5 606.2,413.6 604.4,412.5 602.4,411.4 600.3,410.1 598.5,408.7 597.0,407.2 596.0,405.5 595.3,403.7 594.9,401.6 595.0,399.3 595.4,396.7 596.3,393.8 597.1,391.5 597.9,389.8 598.7,388.6 599.4,388.0 600.4,387.6 601.7,387.2" fill="#80C2C2" stroke="#80C2C2" stroke-width="1.6" stroke-linejoin="round"/>
<polygon points="515.4,401.6 516.3,401.3 517.6,400.7 519.3,399.8 521.4,398.7 523.9,397.4 526.1,396.5 528.2,396.0 530.1,395.8 531.8,396.0 533.3,396.4 534.8,396.8 536.1,397.4 537.3,398.0 538.3,399.2 539.0,400.8 539.5,403.0 539.7,405.6 540.3,408.4 541.1,411.3 542.3,414.4 543.7,417.5 544.4,420.5 544.2,423.5 543.3,426.4 541.5,429.2 539.9,431.7 538.5,433.8 537.1,435.7 535.9,437.3 534.5,438.5 532.7,439.4 530.6,440.1 528.3,440.4 526.1,440.3 524.2,439.9 522.5,439.0 521.1,437.8 519.9,436.1 519.0,434.1 518.4,431.7 518.1,428.8 517.8,426.0 517.5,423.2 517.2,420.4 516.9,417.6 516.6,414.8 516.1,412.0 515.6,409.2 515.0,406.4 514.8,404.2 514.9,402.6" fill="#F0A09A" stroke="#F0A09A" stroke-width="1.6" stroke-linejoin="round"/>
<polygon points="540.8,398.8 541.8,399.2 543.0,399.9 544.2,400.8 545.6,401.9 547.1,403.2 548.5,405.0 549.8,407.4 551.1,410.2 552.3,413.4 553.3,416.4 554.1,419.0 554.6,421.2 554.9,423.1 554.8,424.5 554.2,425.5 553.1,425.9 551.7,425.9 550.1,425.1 548.5,423.3 546.8,420.8 545.1,417.3 543.6,414.6 542.4,412.5 541.5,411.2 540.9,410.6 540.4,409.4 540.0,407.6 539.7,405.3 539.5,402.4 539.6,400.4 540.0,399.1" fill="#F0A09A" stroke="#F0A09A" stroke-width="1.6" stroke-linejoin="round"/>
<polygon points="552.3,397.1 554.8,396.9 557.4,396.9 560.0,397.0 562.6,397.3 565.3,397.7 568.0,398.3 570.8,399.1 573.5,400.0 576.2,401.1 578.5,402.1 580.5,403.1 582.1,404.0 583.3,404.9 584.3,405.8 585.0,406.7 585.5,407.5 585.7,408.4 586.0,409.6 586.3,410.9 586.7,412.6 587.1,414.5 587.3,416.6 587.3,419.1 587.1,421.9 586.7,425.0 586.3,427.9 585.9,430.7 585.6,433.4 585.3,435.9 584.6,438.1 583.4,440.1 581.8,441.9 579.7,443.5 577.7,445.0 575.8,446.4 573.9,447.7 572.2,449.0 570.4,449.1 568.6,448.2 566.9,446.2 565.1,443.1 563.6,440.3 562.5,437.8 561.6,435.6 561.0,433.7 560.2,432.0 559.3,430.4 558.3,429.0 557.1,427.8 556.2,426.4 555.4,424.8 554.9,423.1 554.6,421.2 554.1,419.0 553.3,416.4 552.3,413.4 551.1,410.2 550.1,407.2 549.4,404.6 549.0,402.3 548.8,400.4 549.3,398.9 550.5,397.8" fill="#F0A09A" stroke="#F0A09A" stroke-width="1.6" stroke-linejoin="round"/>
<polygon points="544.3,428.2 546.4,427.3 548.4,426.7 550.3,426.4 552.1,426.4 553.9,426.7 555.5,427.1 556.8,427.8 557.9,428.5 558.8,429.5 559.6,430.6 560.3,432.0 561.0,433.7 561.6,435.6 562.3,437.8 563.2,440.3 564.2,443.1 565.4,446.2 566.0,448.7 565.8,450.8 565.0,452.2 563.5,453.2 561.8,453.8 559.8,454.1 557.7,454.1 555.4,453.8 553.1,453.3 550.9,452.5 548.7,451.5 546.7,450.2 544.8,448.6 543.2,446.5 541.8,444.1 540.7,441.3 539.9,438.7 539.6,436.4 539.8,434.3 540.4,432.4 541.3,430.8 542.7,429.4" fill="#F0A09A" stroke="#F0A09A" stroke-width="1.6" stroke-linejoin="round"/>
<polygon points="593.2,419.3 603.7,421.3 599.9,432.4 597.0,425.3" fill="#F0A09A" stroke="#F0A09A" stroke-width="1.6" stroke-linejoin="round"/>
</g>
<g filter="url(#sp2)" opacity="0.5">
<polygon points="515.5,331.9 516.2,330.6 517.0,329.6 517.8,328.8 518.7,328.2 519.7,327.7 520.7,327.5 521.7,327.6 522.7,327.9 523.8,328.4 524.7,329.4 525.7,330.8 526.6,332.6 527.4,334.8 528.0,336.9 528.4,339.0 528.5,341.0 528.4,343.0 528.3,345.0 528.1,346.9 527.8,348.9 527.5,350.9 527.2,352.8 527.1,354.7 526.9,356.5 526.9,358.3 526.8,359.9 526.8,361.4 526.7,362.7 526.7,363.8 526.5,364.8 526.1,365.6 525.5,366.2 524.7,366.7 523.9,366.7 523.2,366.2 522.5,365.3 521.9,364.0 521.3,362.6 520.8,361.2 520.3,359.7 519.8,358.2 519.4,356.9 518.9,355.8 518.4,354.8 517.8,354.1 517.4,353.1 517.1,351.8 516.9,350.3 516.8,348.6 516.5,346.8 516.1,345.0 515.6,343.3 514.9,341.5 514.5,339.9 514.2,338.4 514.1,336.9 514.3,335.6 514.6,334.3 515.0,333.1" fill="#3A9EA0" stroke="#3A9EA0" stroke-width="1.6" stroke-linejoin="round"/>
<polygon points="528.3,329.3 532.0,328.8 532.0,335.4 528.6,335.4" fill="#3A9EA0" stroke="#3A9EA0" stroke-width="1.6" stroke-linejoin="round"/>
<polygon points="545.2,307.4 546.6,307.1 547.7,307.2 548.6,307.7 549.3,308.6 549.8,309.9 550.0,311.3 550.0,312.8 549.8,314.4 549.3,316.2 548.7,317.8 547.8,319.5 546.8,321.1 545.6,322.6 544.4,324.1 543.1,325.8 541.7,327.5 540.3,329.2 539.0,330.6 537.9,331.5 536.9,332.0 536.1,332.2 535.5,331.9 535.1,331.3 535.0,330.3 535.1,328.9 535.4,327.4 536.0,325.7 536.7,323.8 537.7,321.8 538.5,319.9 539.2,318.2 539.8,316.5 540.3,315.0 540.8,313.6 541.3,312.2 541.8,310.9 542.4,309.6 543.1,308.6 544.1,307.9" fill="#3A9EA0" stroke="#3A9EA0" stroke-width="1.6" stroke-linejoin="round"/>
<polygon points="550.0,306.5 551.0,305.0 552.0,303.7 553.2,302.7 554.5,301.9 556.0,301.4 557.7,301.0 559.7,300.7 562.0,300.6 564.6,300.6 566.9,300.7 568.9,300.9 570.5,301.2 571.8,301.6 573.0,302.3 574.0,303.1 574.8,304.3 575.6,305.7 576.1,307.1 576.5,308.7 576.8,310.4 576.9,312.1 576.9,313.8 576.9,315.5 576.7,317.0 576.5,318.5 576.2,320.2 575.7,321.9 575.2,323.8 574.6,325.8 573.8,327.5 572.7,328.7 571.4,329.6 569.9,330.1 568.3,330.4 566.7,330.5 565.1,330.5 563.4,330.2 561.8,329.8 560.3,329.2 558.8,328.3 557.4,327.3 556.0,326.1 554.7,324.8 553.5,323.2 552.3,321.4 551.1,319.8 550.1,318.3 549.1,316.9 548.1,315.6 547.5,314.4 547.3,313.1 547.4,311.9 547.9,310.6 548.5,309.3 549.2,307.9" fill="#3A9EA0" stroke="#3A9EA0" stroke-width="1.6" stroke-linejoin="round"/>
<polygon points="553.5,323.9 553.5,325.1 553.1,326.6 552.5,328.3 551.6,330.4 550.4,332.7 549.4,335.1 548.7,337.5 548.3,339.9 548.1,342.3 547.9,344.8 547.7,347.4 547.5,350.1 547.3,352.8 547.2,355.3 547.2,357.4 547.2,359.2 547.4,360.7 547.3,362.1 547.1,363.4 546.6,364.5 545.9,365.5 545.0,366.2 543.9,366.6 542.7,366.7 541.2,366.4 539.8,365.6 538.4,364.4 537.1,362.6 535.7,360.4 534.7,358.2 534.2,356.1 534.0,354.2 534.2,352.3 534.5,349.9 534.9,347.1 535.4,343.9 536.0,340.1 536.8,336.9 537.8,334.0 538.9,331.6 540.1,329.6 541.5,328.0 543.0,326.8 544.8,326.0 546.6,325.5 548.3,325.0 549.8,324.4 551.0,323.8 552.1,323.2 552.8,323.0 553.3,323.2" fill="#3A9EA0" stroke="#3A9EA0" stroke-width="1.6" stroke-linejoin="round"/>
<polygon points="554.2,334.8 554.6,333.8 555.1,333.0 555.8,332.2 556.5,331.5 557.3,331.0 558.4,330.5 559.7,330.1 561.2,329.8 563.0,329.6 564.9,329.4 566.7,329.4 568.7,329.5 570.7,329.6 572.3,330.2 573.5,331.1 574.3,332.5 574.7,334.2 574.9,335.9 575.0,337.6 574.9,339.1 574.6,340.6 574.4,342.1 574.0,343.4 573.7,344.6 573.4,345.7 572.8,347.1 572.0,348.6 571.0,350.3 569.7,352.1 568.6,353.9 567.6,355.4 566.7,356.9 565.9,358.1 565.0,358.9 564.1,359.3 563.0,359.2 561.8,358.7 560.6,357.8 559.4,356.4 558.2,354.6 557.0,352.3 556.0,349.8 555.2,347.1 554.6,344.2 554.2,341.0 554.0,338.4 554.0,336.3" fill="#3A9EA0" stroke="#3A9EA0" stroke-width="1.6" stroke-linejoin="round"/>
<polygon points="578.9,310.7 580.1,311.3 581.2,312.1 582.2,312.9 583.0,314.0 583.7,315.1 584.4,316.4 585.1,317.8 585.8,319.4 586.5,321.1 586.8,322.9 586.7,324.6 586.3,326.4 585.5,328.2 584.8,329.8 584.2,331.4 583.7,332.8 583.3,334.1 582.9,335.3 582.5,336.4 582.0,337.4 581.5,338.3 580.8,338.7 580.0,338.7 579.0,338.3 577.9,337.4 576.9,336.1 576.2,334.5 575.7,332.4 575.4,330.0 575.2,327.4 575.1,324.8 575.2,322.0 575.4,319.1 575.6,316.6 575.9,314.6 576.2,312.9 576.6,311.6 577.1,310.8 577.9,310.5" fill="#F8766D" stroke="#F8766D" stroke-width="1.6" stroke-linejoin="round"/>
<polygon points="586.1,319.5 586.7,320.0 587.3,320.7 588.1,321.6 588.9,322.7 589.8,323.9 590.7,325.5 591.6,327.4 592.5,329.6 593.5,332.1 594.3,334.6 594.9,336.9 595.5,339.3 595.9,341.5 596.3,343.8 596.6,346.0 596.9,348.1 597.0,350.3 597.2,352.0 597.2,353.4 597.1,354.4 597.0,355.0 596.5,355.2 595.8,354.9 594.8,354.1 593.5,352.8 592.3,351.5 591.2,349.9 590.1,348.3 589.2,346.6 588.3,345.0 587.4,343.7 586.6,342.6 585.8,341.7 585.0,340.8 584.4,339.8 583.9,338.8 583.4,337.7 583.2,336.3 583.2,334.6 583.3,332.6 583.7,330.3 584.0,328.1 584.3,325.9 584.6,323.8 584.9,321.8 585.2,320.4 585.6,319.7" fill="#F8766D" stroke="#F8766D" stroke-width="1.6" stroke-linejoin="round"/>
<polygon points="601.1,324.6 606.9,323.3 611.1,326.3 613.6,331.7 611.1,336.9 609.4,343.9 607.8,349.2 601.1,352.4 600.3,340.4 601.1,333.4" fill="#3A9EA0" stroke="#3A9EA0" stroke-width="1.6" stroke-linejoin="round"/>
<polygon points="609.3,334.9 613.6,331.7 616.0,334.9 618.0,339.0 622.9,343.1 623.5,349.2 621.5,355.9 613.2,353.9 609.3,351.4 607.8,349.2 609.4,343.9" fill="#3A9EA0" stroke="#3A9EA0" stroke-width="1.6" stroke-linejoin="round"/>
<polygon points="574.5,348.6 575.2,348.9 576.1,349.4 577.1,350.3 578.2,351.5 579.4,353.1 580.2,354.5 580.5,355.8 580.5,356.9 580.0,357.9 579.2,358.8 578.1,359.3 576.7,359.7 575.0,359.8 573.7,359.5 572.7,358.9 572.1,357.9 571.8,356.5 571.8,355.0 571.9,353.6 572.2,352.1 572.7,350.5 573.2,349.4 573.8,348.8" fill="#3A9EA0" stroke="#3A9EA0" stroke-width="1.6" stroke-linejoin="round"/>
<polygon points="551.7,355.7 553.1,356.2 554.2,357.0 554.9,358.2 555.2,359.6 555.2,361.4 554.9,362.8 554.4,363.8 553.5,364.4 552.3,364.6 551.3,364.2 550.6,363.1 550.1,361.3 549.9,358.7 550.1,357.0 550.7,356.0" fill="#3A9EA0" stroke="#3A9EA0" stroke-width="1.6" stroke-linejoin="round"/>
<polygon points="569.0,361.6 570.0,361.4 570.7,361.5 571.2,362.0 571.4,362.9 571.4,364.1 571.2,365.1 570.7,365.7 570.0,366.0 569.0,366.0 568.3,365.8 567.8,365.3 567.6,364.5 567.6,363.5 567.8,362.7 568.3,362.1" fill="#3A9EA0" stroke="#3A9EA0" stroke-width="1.6" stroke-linejoin="round"/>
<polygon points="515.9,368.5 516.9,368.7 517.9,369.3 518.8,370.3 519.5,371.7 520.3,373.4 520.8,375.2 521.2,377.0 521.5,378.7 521.6,380.5 521.6,382.3 521.5,384.3 521.2,386.4 520.7,388.6 520.4,390.7 520.0,392.7 519.8,394.6 519.6,396.4 519.2,398.0 518.7,399.5 518.0,400.9 517.2,402.3 516.3,403.0 515.4,403.2 514.4,402.9 513.4,402.0 512.5,400.9 511.8,399.6 511.3,398.1 511.0,396.3 510.8,394.4 510.7,392.3 510.8,390.0 511.0,387.6 511.2,385.2 511.4,382.8 511.5,380.4 511.7,378.0 511.9,375.8 512.3,373.8 512.8,372.0 513.4,370.5 514.1,369.4 514.9,368.7" fill="#3A9EA0" stroke="#3A9EA0" stroke-width="1.6" stroke-linejoin="round"/>
<polygon points="524.0,369.3 525.4,368.8 527.0,368.5 528.8,368.4 530.7,368.5 532.8,368.7 534.7,368.8 536.6,368.8 538.4,368.7 540.1,368.5 541.6,368.6 543.0,369.0 544.1,369.8 545.2,370.9 546.2,372.1 547.2,373.3 548.3,374.6 549.3,375.9 550.2,377.5 551.1,379.5 551.8,381.8 552.4,384.5 553.0,387.0 553.5,389.3 554.0,391.4 554.4,393.4 554.4,395.2 554.0,396.7 553.2,398.0 551.9,399.1 550.4,399.7 548.8,399.8 546.9,399.4 544.9,398.5 542.7,397.7 540.4,397.1 538.0,396.5 535.5,396.1 533.0,395.8 530.5,395.7 528.0,395.8 525.5,396.0 523.6,395.4 522.3,394.0 521.5,391.7 521.3,388.7 521.2,385.5 521.2,382.1 521.3,378.7 521.5,375.2 522.0,372.5 522.8,370.5" fill="#3A9EA0" stroke="#3A9EA0" stroke-width="1.6" stroke-linejoin="round"/>
<polygon points="553.7,369.7 555.0,369.6 556.4,369.3 557.9,369.0 559.4,368.7 561.1,368.2 562.7,368.0 564.3,368.1 565.8,368.5 567.2,369.2 568.6,370.0 570.0,371.2 571.3,372.5 572.5,374.0 573.8,375.8 575.1,377.6 576.5,379.7 578.0,381.8 579.3,384.0 580.5,386.2 581.5,388.4 582.3,390.6 583.0,392.7 583.6,394.6 584.2,396.3 584.6,397.8 584.9,399.3 585.1,400.9 585.2,402.4 585.2,403.9 584.9,404.9 584.2,405.2 583.3,404.9 582.1,404.0 580.5,403.1 578.5,402.1 576.2,401.1 573.5,400.0 570.8,399.1 568.0,398.3 565.3,397.7 562.6,397.3 560.0,397.0 557.4,396.9 554.8,396.9 552.3,397.1 550.5,396.6 549.2,395.3 548.6,393.2 548.6,390.3 548.7,387.6 548.9,385.1 549.2,382.7 549.7,380.5 550.1,378.4 550.5,376.4 550.8,374.5 551.2,372.7 551.8,371.3 552.6,370.3" fill="#3A9EA0" stroke="#3A9EA0" stroke-width="1.6" stroke-linejoin="round"/>
<polygon points="578.8,364.3 580.0,362.1 581.4,360.3 582.9,359.0 584.7,358.1 586.5,357.7 588.4,357.7 590.1,358.1 591.8,359.0 593.5,360.3 594.9,361.7 596.0,363.1 596.9,364.6 597.5,366.1 597.8,368.0 597.7,370.2 597.2,372.7 596.4,375.6 595.6,378.2 594.7,380.6 593.9,382.8 593.1,384.8 592.2,386.9 591.4,389.2 590.6,391.7 589.7,394.4 588.8,396.6 587.8,398.2 586.6,399.4 585.4,400.0 584.3,399.5 583.2,397.9 582.3,395.0 581.5,391.1 580.5,387.6 579.3,384.5 578.0,381.8 576.5,379.7 575.6,377.5 575.2,375.3 575.3,373.1 575.9,370.8 576.7,368.6 577.7,366.4" fill="#F8766D" stroke="#F8766D" stroke-width="1.6" stroke-linejoin="round"/>
<polygon points="600.6,368.8 602.9,369.3 605.0,369.9 606.9,370.5 608.6,371.2 610.1,371.9 611.3,373.2 612.2,374.9 613.0,377.2 613.4,380.0 613.6,382.4 613.3,384.4 612.7,386.0 611.8,387.3 610.3,388.2 608.4,388.8 606.1,389.1 603.2,389.1 600.8,388.6 598.8,387.6 597.2,386.1 596.0,384.1 595.2,382.0 594.8,379.9 594.9,377.7 595.4,375.4 595.8,373.5 596.2,371.9 596.5,370.5 596.7,369.5 597.5,368.9 598.7,368.7" fill="#F8766D" stroke="#F8766D" stroke-width="1.6" stroke-linejoin="round"/>
<polygon points="602.5,360.0 604.9,360.0 607.1,360.2 609.1,360.7 610.9,361.5 612.6,362.5 613.8,363.8 614.5,365.5 614.7,367.4 614.5,369.7 613.8,371.2 612.8,372.1 611.3,372.3 609.4,371.8 607.5,371.2 605.6,370.4 603.7,369.5 601.8,368.5 600.4,367.3 599.4,366.0 598.9,364.4 598.9,362.6 599.5,361.3 600.7,360.4" fill="#3A9EA0" stroke="#3A9EA0" stroke-width="1.6" stroke-linejoin="round"/>
<polygon points="603.2,386.9 604.9,386.8 606.6,386.8 608.3,386.8 610.0,386.8 611.7,386.9 613.2,387.4 614.5,388.0 615.7,389.0 616.8,390.3 617.7,391.7 618.4,393.2 619.0,394.8 619.3,396.6 619.5,398.5 619.6,400.6 619.5,403.0 619.3,405.5 618.7,407.7 617.9,409.6 616.8,411.1 615.3,412.4 614.2,413.5 613.2,414.4 612.6,415.2 612.2,415.8 611.5,416.0 610.6,415.9 609.3,415.4 607.8,414.5 606.2,413.6 604.4,412.5 602.4,411.4 600.3,410.1 598.5,408.7 597.0,407.2 596.0,405.5 595.3,403.7 594.9,401.6 595.0,399.3 595.4,396.7 596.3,393.8 597.1,391.5 597.9,389.8 598.7,388.6 599.4,388.0 600.4,387.6 601.7,387.2" fill="#F8766D" stroke="#F8766D" stroke-width="1.6" stroke-linejoin="round"/>
<polygon points="515.4,401.6 516.3,401.3 517.6,400.7 519.3,399.8 521.4,398.7 523.9,397.4 526.1,396.5 528.2,396.0 530.1,395.8 531.8,396.0 533.3,396.4 534.8,396.8 536.1,397.4 537.3,398.0 538.3,399.2 539.0,400.8 539.5,403.0 539.7,405.6 540.3,408.4 541.1,411.3 542.3,414.4 543.7,417.5 544.4,420.5 544.2,423.5 543.3,426.4 541.5,429.2 539.9,431.7 538.5,433.8 537.1,435.7 535.9,437.3 534.5,438.5 532.7,439.4 530.6,440.1 528.3,440.4 526.1,440.3 524.2,439.9 522.5,439.0 521.1,437.8 519.9,436.1 519.0,434.1 518.4,431.7 518.1,428.8 517.8,426.0 517.5,423.2 517.2,420.4 516.9,417.6 516.6,414.8 516.1,412.0 515.6,409.2 515.0,406.4 514.8,404.2 514.9,402.6" fill="#3A9EA0" stroke="#3A9EA0" stroke-width="1.6" stroke-linejoin="round"/>
<polygon points="540.8,398.8 541.8,399.2 543.0,399.9 544.2,400.8 545.6,401.9 547.1,403.2 548.5,405.0 549.8,407.4 551.1,410.2 552.3,413.4 553.3,416.4 554.1,419.0 554.6,421.2 554.9,423.1 554.8,424.5 554.2,425.5 553.1,425.9 551.7,425.9 550.1,425.1 548.5,423.3 546.8,420.8 545.1,417.3 543.6,414.6 542.4,412.5 541.5,411.2 540.9,410.6 540.4,409.4 540.0,407.6 539.7,405.3 539.5,402.4 539.6,400.4 540.0,399.1" fill="#3A9EA0" stroke="#3A9EA0" stroke-width="1.6" stroke-linejoin="round"/>
<polygon points="552.3,397.1 554.8,396.9 557.4,396.9 560.0,397.0 562.6,397.3 565.3,397.7 568.0,398.3 570.8,399.1 573.5,400.0 576.2,401.1 578.5,402.1 580.5,403.1 582.1,404.0 583.3,404.9 584.3,405.8 585.0,406.7 585.5,407.5 585.7,408.4 586.0,409.6 586.3,410.9 586.7,412.6 587.1,414.5 587.3,416.6 587.3,419.1 587.1,421.9 586.7,425.0 586.3,427.9 585.9,430.7 585.6,433.4 585.3,435.9 584.6,438.1 583.4,440.1 581.8,441.9 579.7,443.5 577.7,445.0 575.8,446.4 573.9,447.7 572.2,449.0 570.4,449.1 568.6,448.2 566.9,446.2 565.1,443.1 563.6,440.3 562.5,437.8 561.6,435.6 561.0,433.7 560.2,432.0 559.3,430.4 558.3,429.0 557.1,427.8 556.2,426.4 555.4,424.8 554.9,423.1 554.6,421.2 554.1,419.0 553.3,416.4 552.3,413.4 551.1,410.2 550.1,407.2 549.4,404.6 549.0,402.3 548.8,400.4 549.3,398.9 550.5,397.8" fill="#3A9EA0" stroke="#3A9EA0" stroke-width="1.6" stroke-linejoin="round"/>
<polygon points="544.3,428.2 546.4,427.3 548.4,426.7 550.3,426.4 552.1,426.4 553.9,426.7 555.5,427.1 556.8,427.8 557.9,428.5 558.8,429.5 559.6,430.6 560.3,432.0 561.0,433.7 561.6,435.6 562.3,437.8 563.2,440.3 564.2,443.1 565.4,446.2 566.0,448.7 565.8,450.8 565.0,452.2 563.5,453.2 561.8,453.8 559.8,454.1 557.7,454.1 555.4,453.8 553.1,453.3 550.9,452.5 548.7,451.5 546.7,450.2 544.8,448.6 543.2,446.5 541.8,444.1 540.7,441.3 539.9,438.7 539.6,436.4 539.8,434.3 540.4,432.4 541.3,430.8 542.7,429.4" fill="#3A9EA0" stroke="#3A9EA0" stroke-width="1.6" stroke-linejoin="round"/>
<polygon points="593.2,419.3 603.7,421.3 599.9,432.4 597.0,425.3" fill="#3A9EA0" stroke="#3A9EA0" stroke-width="1.6" stroke-linejoin="round"/>
</g>
<g filter="url(#sp3)" opacity="0.6">
<polygon points="515.5,331.9 516.2,330.6 517.0,329.6 517.8,328.8 518.7,328.2 519.7,327.7 520.7,327.5 521.7,327.6 522.7,327.9 523.8,328.4 524.7,329.4 525.7,330.8 526.6,332.6 527.4,334.8 528.0,336.9 528.4,339.0 528.5,341.0 528.4,343.0 528.3,345.0 528.1,346.9 527.8,348.9 527.5,350.9 527.2,352.8 527.1,354.7 526.9,356.5 526.9,358.3 526.8,359.9 526.8,361.4 526.7,362.7 526.7,363.8 526.5,364.8 526.1,365.6 525.5,366.2 524.7,366.7 523.9,366.7 523.2,366.2 522.5,365.3 521.9,364.0 521.3,362.6 520.8,361.2 520.3,359.7 519.8,358.2 519.4,356.9 518.9,355.8 518.4,354.8 517.8,354.1 517.4,353.1 517.1,351.8 516.9,350.3 516.8,348.6 516.5,346.8 516.1,345.0 515.6,343.3 514.9,341.5 514.5,339.9 514.2,338.4 514.1,336.9 514.3,335.6 514.6,334.3 515.0,333.1" fill="#FFFFFF" stroke="#FFFFFF" stroke-width="1.6" stroke-linejoin="round"/>
<polygon points="528.3,329.3 532.0,328.8 532.0,335.4 528.6,335.4" fill="#FFFFFF" stroke="#FFFFFF" stroke-width="1.6" stroke-linejoin="round"/>
<polygon points="545.2,307.4 546.6,307.1 547.7,307.2 548.6,307.7 549.3,308.6 549.8,309.9 550.0,311.3 550.0,312.8 549.8,314.4 549.3,316.2 548.7,317.8 547.8,319.5 546.8,321.1 545.6,322.6 544.4,324.1 543.1,325.8 541.7,327.5 540.3,329.2 539.0,330.6 537.9,331.5 536.9,332.0 536.1,332.2 535.5,331.9 535.1,331.3 535.0,330.3 535.1,328.9 535.4,327.4 536.0,325.7 536.7,323.8 537.7,321.8 538.5,319.9 539.2,318.2 539.8,316.5 540.3,315.0 540.8,313.6 541.3,312.2 541.8,310.9 542.4,309.6 543.1,308.6 544.1,307.9" fill="#FFFFFF" stroke="#FFFFFF" stroke-width="1.6" stroke-linejoin="round"/>
<polygon points="550.0,306.5 551.0,305.0 552.0,303.7 553.2,302.7 554.5,301.9 556.0,301.4 557.7,301.0 559.7,300.7 562.0,300.6 564.6,300.6 566.9,300.7 568.9,300.9 570.5,301.2 571.8,301.6 573.0,302.3 574.0,303.1 574.8,304.3 575.6,305.7 576.1,307.1 576.5,308.7 576.8,310.4 576.9,312.1 576.9,313.8 576.9,315.5 576.7,317.0 576.5,318.5 576.2,320.2 575.7,321.9 575.2,323.8 574.6,325.8 573.8,327.5 572.7,328.7 571.4,329.6 569.9,330.1 568.3,330.4 566.7,330.5 565.1,330.5 563.4,330.2 561.8,329.8 560.3,329.2 558.8,328.3 557.4,327.3 556.0,326.1 554.7,324.8 553.5,323.2 552.3,321.4 551.1,319.8 550.1,318.3 549.1,316.9 548.1,315.6 547.5,314.4 547.3,313.1 547.4,311.9 547.9,310.6 548.5,309.3 549.2,307.9" fill="#FFFFFF" stroke="#FFFFFF" stroke-width="1.6" stroke-linejoin="round"/>
<polygon points="553.5,323.9 553.5,325.1 553.1,326.6 552.5,328.3 551.6,330.4 550.4,332.7 549.4,335.1 548.7,337.5 548.3,339.9 548.1,342.3 547.9,344.8 547.7,347.4 547.5,350.1 547.3,352.8 547.2,355.3 547.2,357.4 547.2,359.2 547.4,360.7 547.3,362.1 547.1,363.4 546.6,364.5 545.9,365.5 545.0,366.2 543.9,366.6 542.7,366.7 541.2,366.4 539.8,365.6 538.4,364.4 537.1,362.6 535.7,360.4 534.7,358.2 534.2,356.1 534.0,354.2 534.2,352.3 534.5,349.9 534.9,347.1 535.4,343.9 536.0,340.1 536.8,336.9 537.8,334.0 538.9,331.6 540.1,329.6 541.5,328.0 543.0,326.8 544.8,326.0 546.6,325.5 548.3,325.0 549.8,324.4 551.0,323.8 552.1,323.2 552.8,323.0 553.3,323.2" fill="#FFFFFF" stroke="#FFFFFF" stroke-width="1.6" stroke-linejoin="round"/>
<polygon points="554.2,334.8 554.6,333.8 555.1,333.0 555.8,332.2 556.5,331.5 557.3,331.0 558.4,330.5 559.7,330.1 561.2,329.8 563.0,329.6 564.9,329.4 566.7,329.4 568.7,329.5 570.7,329.6 572.3,330.2 573.5,331.1 574.3,332.5 574.7,334.2 574.9,335.9 575.0,337.6 574.9,339.1 574.6,340.6 574.4,342.1 574.0,343.4 573.7,344.6 573.4,345.7 572.8,347.1 572.0,348.6 571.0,350.3 569.7,352.1 568.6,353.9 567.6,355.4 566.7,356.9 565.9,358.1 565.0,358.9 564.1,359.3 563.0,359.2 561.8,358.7 560.6,357.8 559.4,356.4 558.2,354.6 557.0,352.3 556.0,349.8 555.2,347.1 554.6,344.2 554.2,341.0 554.0,338.4 554.0,336.3" fill="#FFFFFF" stroke="#FFFFFF" stroke-width="1.6" stroke-linejoin="round"/>
<polygon points="578.9,310.7 580.1,311.3 581.2,312.1 582.2,312.9 583.0,314.0 583.7,315.1 584.4,316.4 585.1,317.8 585.8,319.4 586.5,321.1 586.8,322.9 586.7,324.6 586.3,326.4 585.5,328.2 584.8,329.8 584.2,331.4 583.7,332.8 583.3,334.1 582.9,335.3 582.5,336.4 582.0,337.4 581.5,338.3 580.8,338.7 580.0,338.7 579.0,338.3 577.9,337.4 576.9,336.1 576.2,334.5 575.7,332.4 575.4,330.0 575.2,327.4 575.1,324.8 575.2,322.0 575.4,319.1 575.6,316.6 575.9,314.6 576.2,312.9 576.6,311.6 577.1,310.8 577.9,310.5" fill="#FFFFFF" stroke="#FFFFFF" stroke-width="1.6" stroke-linejoin="round"/>
<polygon points="586.1,319.5 586.7,320.0 587.3,320.7 588.1,321.6 588.9,322.7 589.8,323.9 590.7,325.5 591.6,327.4 592.5,329.6 593.5,332.1 594.3,334.6 594.9,336.9 595.5,339.3 595.9,341.5 596.3,343.8 596.6,346.0 596.9,348.1 597.0,350.3 597.2,352.0 597.2,353.4 597.1,354.4 597.0,355.0 596.5,355.2 595.8,354.9 594.8,354.1 593.5,352.8 592.3,351.5 591.2,349.9 590.1,348.3 589.2,346.6 588.3,345.0 587.4,343.7 586.6,342.6 585.8,341.7 585.0,340.8 584.4,339.8 583.9,338.8 583.4,337.7 583.2,336.3 583.2,334.6 583.3,332.6 583.7,330.3 584.0,328.1 584.3,325.9 584.6,323.8 584.9,321.8 585.2,320.4 585.6,319.7" fill="#FFFFFF" stroke="#FFFFFF" stroke-width="1.6" stroke-linejoin="round"/>
<polygon points="601.1,324.6 606.9,323.3 611.1,326.3 613.6,331.7 611.1,336.9 609.4,343.9 607.8,349.2 601.1,352.4 600.3,340.4 601.1,333.4" fill="#FFFFFF" stroke="#FFFFFF" stroke-width="1.6" stroke-linejoin="round"/>
<polygon points="609.3,334.9 613.6,331.7 616.0,334.9 618.0,339.0 622.9,343.1 623.5,349.2 621.5,355.9 613.2,353.9 609.3,351.4 607.8,349.2 609.4,343.9" fill="#FFFFFF" stroke="#FFFFFF" stroke-width="1.6" stroke-linejoin="round"/>
<polygon points="574.5,348.6 575.2,348.9 576.1,349.4 577.1,350.3 578.2,351.5 579.4,353.1 580.2,354.5 580.5,355.8 580.5,356.9 580.0,357.9 579.2,358.8 578.1,359.3 576.7,359.7 575.0,359.8 573.7,359.5 572.7,358.9 572.1,357.9 571.8,356.5 571.8,355.0 571.9,353.6 572.2,352.1 572.7,350.5 573.2,349.4 573.8,348.8" fill="#FFFFFF" stroke="#FFFFFF" stroke-width="1.6" stroke-linejoin="round"/>
<polygon points="551.7,355.7 553.1,356.2 554.2,357.0 554.9,358.2 555.2,359.6 555.2,361.4 554.9,362.8 554.4,363.8 553.5,364.4 552.3,364.6 551.3,364.2 550.6,363.1 550.1,361.3 549.9,358.7 550.1,357.0 550.7,356.0" fill="#FFFFFF" stroke="#FFFFFF" stroke-width="1.6" stroke-linejoin="round"/>
<polygon points="569.0,361.6 570.0,361.4 570.7,361.5 571.2,362.0 571.4,362.9 571.4,364.1 571.2,365.1 570.7,365.7 570.0,366.0 569.0,366.0 568.3,365.8 567.8,365.3 567.6,364.5 567.6,363.5 567.8,362.7 568.3,362.1" fill="#FFFFFF" stroke="#FFFFFF" stroke-width="1.6" stroke-linejoin="round"/>
<polygon points="515.9,368.5 516.9,368.7 517.9,369.3 518.8,370.3 519.5,371.7 520.3,373.4 520.8,375.2 521.2,377.0 521.5,378.7 521.6,380.5 521.6,382.3 521.5,384.3 521.2,386.4 520.7,388.6 520.4,390.7 520.0,392.7 519.8,394.6 519.6,396.4 519.2,398.0 518.7,399.5 518.0,400.9 517.2,402.3 516.3,403.0 515.4,403.2 514.4,402.9 513.4,402.0 512.5,400.9 511.8,399.6 511.3,398.1 511.0,396.3 510.8,394.4 510.7,392.3 510.8,390.0 511.0,387.6 511.2,385.2 511.4,382.8 511.5,380.4 511.7,378.0 511.9,375.8 512.3,373.8 512.8,372.0 513.4,370.5 514.1,369.4 514.9,368.7" fill="#FFFFFF" stroke="#FFFFFF" stroke-width="1.6" stroke-linejoin="round"/>
<polygon points="524.0,369.3 525.4,368.8 527.0,368.5 528.8,368.4 530.7,368.5 532.8,368.7 534.7,368.8 536.6,368.8 538.4,368.7 540.1,368.5 541.6,368.6 543.0,369.0 544.1,369.8 545.2,370.9 546.2,372.1 547.2,373.3 548.3,374.6 549.3,375.9 550.2,377.5 551.1,379.5 551.8,381.8 552.4,384.5 553.0,387.0 553.5,389.3 554.0,391.4 554.4,393.4 554.4,395.2 554.0,396.7 553.2,398.0 551.9,399.1 550.4,399.7 548.8,399.8 546.9,399.4 544.9,398.5 542.7,397.7 540.4,397.1 538.0,396.5 535.5,396.1 533.0,395.8 530.5,395.7 528.0,395.8 525.5,396.0 523.6,395.4 522.3,394.0 521.5,391.7 521.3,388.7 521.2,385.5 521.2,382.1 521.3,378.7 521.5,375.2 522.0,372.5 522.8,370.5" fill="#FFFFFF" stroke="#FFFFFF" stroke-width="1.6" stroke-linejoin="round"/>
<polygon points="553.7,369.7 555.0,369.6 556.4,369.3 557.9,369.0 559.4,368.7 561.1,368.2 562.7,368.0 564.3,368.1 565.8,368.5 567.2,369.2 568.6,370.0 570.0,371.2 571.3,372.5 572.5,374.0 573.8,375.8 575.1,377.6 576.5,379.7 578.0,381.8 579.3,384.0 580.5,386.2 581.5,388.4 582.3,390.6 583.0,392.7 583.6,394.6 584.2,396.3 584.6,397.8 584.9,399.3 585.1,400.9 585.2,402.4 585.2,403.9 584.9,404.9 584.2,405.2 583.3,404.9 582.1,404.0 580.5,403.1 578.5,402.1 576.2,401.1 573.5,400.0 570.8,399.1 568.0,398.3 565.3,397.7 562.6,397.3 560.0,397.0 557.4,396.9 554.8,396.9 552.3,397.1 550.5,396.6 549.2,395.3 548.6,393.2 548.6,390.3 548.7,387.6 548.9,385.1 549.2,382.7 549.7,380.5 550.1,378.4 550.5,376.4 550.8,374.5 551.2,372.7 551.8,371.3 552.6,370.3" fill="#FFFFFF" stroke="#FFFFFF" stroke-width="1.6" stroke-linejoin="round"/>
<polygon points="578.8,364.3 580.0,362.1 581.4,360.3 582.9,359.0 584.7,358.1 586.5,357.7 588.4,357.7 590.1,358.1 591.8,359.0 593.5,360.3 594.9,361.7 596.0,363.1 596.9,364.6 597.5,366.1 597.8,368.0 597.7,370.2 597.2,372.7 596.4,375.6 595.6,378.2 594.7,380.6 593.9,382.8 593.1,384.8 592.2,386.9 591.4,389.2 590.6,391.7 589.7,394.4 588.8,396.6 587.8,398.2 586.6,399.4 585.4,400.0 584.3,399.5 583.2,397.9 582.3,395.0 581.5,391.1 580.5,387.6 579.3,384.5 578.0,381.8 576.5,379.7 575.6,377.5 575.2,375.3 575.3,373.1 575.9,370.8 576.7,368.6 577.7,366.4" fill="#FFFFFF" stroke="#FFFFFF" stroke-width="1.6" stroke-linejoin="round"/>
<polygon points="600.6,368.8 602.9,369.3 605.0,369.9 606.9,370.5 608.6,371.2 610.1,371.9 611.3,373.2 612.2,374.9 613.0,377.2 613.4,380.0 613.6,382.4 613.3,384.4 612.7,386.0 611.8,387.3 610.3,388.2 608.4,388.8 606.1,389.1 603.2,389.1 600.8,388.6 598.8,387.6 597.2,386.1 596.0,384.1 595.2,382.0 594.8,379.9 594.9,377.7 595.4,375.4 595.8,373.5 596.2,371.9 596.5,370.5 596.7,369.5 597.5,368.9 598.7,368.7" fill="#FFFFFF" stroke="#FFFFFF" stroke-width="1.6" stroke-linejoin="round"/>
<polygon points="602.5,360.0 604.9,360.0 607.1,360.2 609.1,360.7 610.9,361.5 612.6,362.5 613.8,363.8 614.5,365.5 614.7,367.4 614.5,369.7 613.8,371.2 612.8,372.1 611.3,372.3 609.4,371.8 607.5,371.2 605.6,370.4 603.7,369.5 601.8,368.5 600.4,367.3 599.4,366.0 598.9,364.4 598.9,362.6 599.5,361.3 600.7,360.4" fill="#FFFFFF" stroke="#FFFFFF" stroke-width="1.6" stroke-linejoin="round"/>
<polygon points="603.2,386.9 604.9,386.8 606.6,386.8 608.3,386.8 610.0,386.8 611.7,386.9 613.2,387.4 614.5,388.0 615.7,389.0 616.8,390.3 617.7,391.7 618.4,393.2 619.0,394.8 619.3,396.6 619.5,398.5 619.6,400.6 619.5,403.0 619.3,405.5 618.7,407.7 617.9,409.6 616.8,411.1 615.3,412.4 614.2,413.5 613.2,414.4 612.6,415.2 612.2,415.8 611.5,416.0 610.6,415.9 609.3,415.4 607.8,414.5 606.2,413.6 604.4,412.5 602.4,411.4 600.3,410.1 598.5,408.7 597.0,407.2 596.0,405.5 595.3,403.7 594.9,401.6 595.0,399.3 595.4,396.7 596.3,393.8 597.1,391.5 597.9,389.8 598.7,388.6 599.4,388.0 600.4,387.6 601.7,387.2" fill="#FFFFFF" stroke="#FFFFFF" stroke-width="1.6" stroke-linejoin="round"/>
<polygon points="515.4,401.6 516.3,401.3 517.6,400.7 519.3,399.8 521.4,398.7 523.9,397.4 526.1,396.5 528.2,396.0 530.1,395.8 531.8,396.0 533.3,396.4 534.8,396.8 536.1,397.4 537.3,398.0 538.3,399.2 539.0,400.8 539.5,403.0 539.7,405.6 540.3,408.4 541.1,411.3 542.3,414.4 543.7,417.5 544.4,420.5 544.2,423.5 543.3,426.4 541.5,429.2 539.9,431.7 538.5,433.8 537.1,435.7 535.9,437.3 534.5,438.5 532.7,439.4 530.6,440.1 528.3,440.4 526.1,440.3 524.2,439.9 522.5,439.0 521.1,437.8 519.9,436.1 519.0,434.1 518.4,431.7 518.1,428.8 517.8,426.0 517.5,423.2 517.2,420.4 516.9,417.6 516.6,414.8 516.1,412.0 515.6,409.2 515.0,406.4 514.8,404.2 514.9,402.6" fill="#FFFFFF" stroke="#FFFFFF" stroke-width="1.6" stroke-linejoin="round"/>
<polygon points="540.8,398.8 541.8,399.2 543.0,399.9 544.2,400.8 545.6,401.9 547.1,403.2 548.5,405.0 549.8,407.4 551.1,410.2 552.3,413.4 553.3,416.4 554.1,419.0 554.6,421.2 554.9,423.1 554.8,424.5 554.2,425.5 553.1,425.9 551.7,425.9 550.1,425.1 548.5,423.3 546.8,420.8 545.1,417.3 543.6,414.6 542.4,412.5 541.5,411.2 540.9,410.6 540.4,409.4 540.0,407.6 539.7,405.3 539.5,402.4 539.6,400.4 540.0,399.1" fill="#FFFFFF" stroke="#FFFFFF" stroke-width="1.6" stroke-linejoin="round"/>
<polygon points="552.3,397.1 554.8,396.9 557.4,396.9 560.0,397.0 562.6,397.3 565.3,397.7 568.0,398.3 570.8,399.1 573.5,400.0 576.2,401.1 578.5,402.1 580.5,403.1 582.1,404.0 583.3,404.9 584.3,405.8 585.0,406.7 585.5,407.5 585.7,408.4 586.0,409.6 586.3,410.9 586.7,412.6 587.1,414.5 587.3,416.6 587.3,419.1 587.1,421.9 586.7,425.0 586.3,427.9 585.9,430.7 585.6,433.4 585.3,435.9 584.6,438.1 583.4,440.1 581.8,441.9 579.7,443.5 577.7,445.0 575.8,446.4 573.9,447.7 572.2,449.0 570.4,449.1 568.6,448.2 566.9,446.2 565.1,443.1 563.6,440.3 562.5,437.8 561.6,435.6 561.0,433.7 560.2,432.0 559.3,430.4 558.3,429.0 557.1,427.8 556.2,426.4 555.4,424.8 554.9,423.1 554.6,421.2 554.1,419.0 553.3,416.4 552.3,413.4 551.1,410.2 550.1,407.2 549.4,404.6 549.0,402.3 548.8,400.4 549.3,398.9 550.5,397.8" fill="#FFFFFF" stroke="#FFFFFF" stroke-width="1.6" stroke-linejoin="round"/>
<polygon points="544.3,428.2 546.4,427.3 548.4,426.7 550.3,426.4 552.1,426.4 553.9,426.7 555.5,427.1 556.8,427.8 557.9,428.5 558.8,429.5 559.6,430.6 560.3,432.0 561.0,433.7 561.6,435.6 562.3,437.8 563.2,440.3 564.2,443.1 565.4,446.2 566.0,448.7 565.8,450.8 565.0,452.2 563.5,453.2 561.8,453.8 559.8,454.1 557.7,454.1 555.4,453.8 553.1,453.3 550.9,452.5 548.7,451.5 546.7,450.2 544.8,448.6 543.2,446.5 541.8,444.1 540.7,441.3 539.9,438.7 539.6,436.4 539.8,434.3 540.4,432.4 541.3,430.8 542.7,429.4" fill="#FFFFFF" stroke="#FFFFFF" stroke-width="1.6" stroke-linejoin="round"/>
<polygon points="593.2,419.3 603.7,421.3 599.9,432.4 597.0,425.3" fill="#FFFFFF" stroke="#FFFFFF" stroke-width="1.6" stroke-linejoin="round"/>
</g>
<path d="M628.6,376.1 L625.6,383.2" fill="none" stroke="#F8766D" stroke-width="1.1" stroke-linecap="round" opacity="0.85"/>
<line x1="501.4" y1="298.9" x2="501.4" y2="461.2" stroke="#222" stroke-width="1" />
<line x1="500.9" y1="460.7" x2="638.9" y2="460.7" stroke="#222" stroke-width="1" />
<line x1="499.4" y1="319.8" x2="501.4" y2="319.8" stroke="#333" stroke-width="0.8" />
<text x="497.9" y="322.9" font-size="8.6" text-anchor="end" fill="#333"  stroke="#333" stroke-width="0.22">20</text>
<line x1="499.4" y1="350.7" x2="501.4" y2="350.7" stroke="#333" stroke-width="0.8" />
<text x="497.9" y="353.8" font-size="8.6" text-anchor="end" fill="#333"  stroke="#333" stroke-width="0.22">10</text>
<line x1="499.4" y1="381.6" x2="501.4" y2="381.6" stroke="#333" stroke-width="0.8" />
<text x="497.9" y="384.7" font-size="8.6" text-anchor="end" fill="#333"  stroke="#333" stroke-width="0.22">0</text>
<line x1="499.4" y1="412.5" x2="501.4" y2="412.5" stroke="#333" stroke-width="0.8" />
<text x="497.9" y="415.6" font-size="8.6" text-anchor="end" fill="#333"  stroke="#333" stroke-width="0.22">−10</text>
<line x1="499.4" y1="443.4" x2="501.4" y2="443.4" stroke="#333" stroke-width="0.8" />
<text x="497.9" y="446.5" font-size="8.6" text-anchor="end" fill="#333"  stroke="#333" stroke-width="0.22">−20</text>
<line x1="513.5" y1="460.7" x2="513.5" y2="462.7" stroke="#333" stroke-width="0.8" />
<text x="515.5" y="471.9" font-size="8.6" text-anchor="middle" fill="#333"  stroke="#333" stroke-width="0.22">−20</text>
<line x1="539" y1="460.7" x2="539" y2="462.7" stroke="#333" stroke-width="0.8" />
<text x="541" y="471.9" font-size="8.6" text-anchor="middle" fill="#333"  stroke="#333" stroke-width="0.22">−10</text>
<line x1="564.5" y1="460.7" x2="564.5" y2="462.7" stroke="#333" stroke-width="0.8" />
<text x="565.5" y="471.9" font-size="8.6" text-anchor="middle" fill="#333"  stroke="#333" stroke-width="0.22">0</text>
<line x1="590" y1="460.7" x2="590" y2="462.7" stroke="#333" stroke-width="0.8" />
<text x="591" y="471.9" font-size="8.6" text-anchor="middle" fill="#333"  stroke="#333" stroke-width="0.22">10</text>
<line x1="615.5" y1="460.7" x2="615.5" y2="462.7" stroke="#333" stroke-width="0.8" />
<text x="616.5" y="471.9" font-size="8.6" text-anchor="middle" fill="#333"  stroke="#333" stroke-width="0.22">20</text>
<text x="480" y="382.6" font-size="8.5" text-anchor="middle" fill="#222" stroke="#222" stroke-width="0.22" transform="rotate(-90 480 382.6)">tSNE_2</text>
<text x="571.2" y="483.2" font-size="8.5" text-anchor="middle" fill="#222"  stroke="#222" stroke-width="0.22">tSNE_1</text>
<circle cx="649.1" cy="377.6" r="2.3" fill="#F8766D" stroke="none" stroke-width="0.6" />
<text x="656.1" y="380.7" font-size="8.5" text-anchor="start" fill="#222"  stroke="#222" stroke-width="0.22">LUAD</text>
<circle cx="649.1" cy="389.2" r="2.3" fill="#00BFC4" stroke="none" stroke-width="0.6" />
<text x="656.1" y="392.3" font-size="8.5" text-anchor="start" fill="#222"  stroke="#222" stroke-width="0.22">LUSC</text>
<text x="1.3" y="515.4" font-size="15" text-anchor="start" fill="#2A2426" stroke="#2A2426" stroke-width="0.12">G</text>
<text x="172.4" y="536.2" font-size="10.1" text-anchor="middle" fill="#333"  stroke="#333" stroke-width="0.22">Gene expression in T cells before and after colculture</text>
<text x="66.8" y="565.4" font-size="9.9" text-anchor="middle" fill="#111" font-weight="bold"  stroke="#111" stroke-width="0.22">GZMB</text>
<path d="M64.6,632.5 C62.8,632.4 58.4,632.2 55.6,632 C52.8,631.8 52.16,631.72 50.6,631.5 C49.04,631.28 48.4,631.1 47.8,630.9 C47.2,630.7 46.86,631.1 47.6,630.5 C48.34,629.9 49.8,629.34 51.5,627.9 C53.2,626.46 55.52,624.74 56.1,623.3 C56.68,621.86 54.52,621.62 54.4,620.7 C54.28,619.78 55.5,619.76 55.5,618.7 C55.5,617.64 56.18,619.86 54.4,615.4 C52.62,610.94 48.26,600.58 46.6,596.4 C44.94,592.22 46.25,597.28 46.1,594.5 C45.95,591.72 45.9,584.9 45.85,582.5 L45.35,582.5 C45.3,584.9 45.25,591.72 45.1,594.5 C44.95,597.28 46.26,592.22 44.6,596.4 C42.94,600.58 38.58,610.94 36.8,615.4 C35.02,619.86 35.7,617.64 35.7,618.7 C35.7,619.76 36.92,619.78 36.8,620.7 C36.68,621.62 34.52,621.86 35.1,623.3 C35.68,624.74 38,626.46 39.7,627.9 C41.4,629.34 42.86,629.9 43.6,630.5 C44.34,631.1 44,630.7 43.4,630.9 C42.8,631.1 42.16,631.28 40.6,631.5 C39.04,631.72 38.4,631.8 35.6,632 C32.8,632.2 28.4,632.4 26.6,632.5 Z" fill="#F8766D" stroke="#3a3a3a" stroke-width="0.45" stroke-linejoin="round"/>
<path d="M98.9,632.5 C97.8,632.4 95.1,632.2 93.4,632 C91.7,631.8 91.28,631.72 90.4,631.5 C89.52,631.28 89.3,631.1 89,630.9 C88.7,630.7 87.98,631.1 88.9,630.5 C89.82,629.9 90.82,628.94 93.6,627.9 C96.38,626.86 101.8,626.22 102.8,625.3 C103.8,624.38 98.34,624.22 98.6,623.3 C98.86,622.38 102.6,622.02 104.1,620.7 C105.6,619.38 106.36,618.14 106.1,616.7 C105.84,615.26 106.24,618.36 102.8,613.5 C99.36,608.64 91.86,597 88.9,592.4 C85.94,587.8 88.25,592.48 88,590.5 C87.75,588.52 87.72,584.1 87.65,582.5 L87.15,582.5 C87.08,584.1 87.05,588.52 86.8,590.5 C86.55,592.48 88.86,587.8 85.9,592.4 C82.94,597 75.44,608.64 72,613.5 C68.56,618.36 68.96,615.26 68.7,616.7 C68.44,618.14 69.2,619.38 70.7,620.7 C72.2,622.02 75.94,622.38 76.2,623.3 C76.46,624.22 71,624.38 72,625.3 C73,626.22 78.42,626.86 81.2,627.9 C83.98,628.94 84.98,629.9 85.9,630.5 C86.82,631.1 86.1,630.7 85.8,630.9 C85.5,631.1 85.28,631.28 84.4,631.5 C83.52,631.72 83.1,631.8 81.4,632 C79.7,632.2 77,632.4 75.9,632.5 Z" fill="#00BFC4" stroke="#3a3a3a" stroke-width="0.45" stroke-linejoin="round"/>
<line x1="20.7" y1="572" x2="20.7" y2="635.6" stroke="#555" stroke-width="0.9" />
<line x1="20.25" y1="635.1" x2="112.1" y2="635.1" stroke="#555" stroke-width="0.9" />
<line x1="18.7" y1="632.5" x2="20.7" y2="632.5" stroke="#555" stroke-width="0.8" />
<text x="17.2" y="635.6" font-size="8.6" text-anchor="end" fill="#333"  stroke="#333" stroke-width="0.22">0</text>
<line x1="18.7" y1="615.86" x2="20.7" y2="615.86" stroke="#555" stroke-width="0.8" />
<text x="17.2" y="618.96" font-size="8.6" text-anchor="end" fill="#333"  stroke="#333" stroke-width="0.22">2</text>
<line x1="18.7" y1="599.22" x2="20.7" y2="599.22" stroke="#555" stroke-width="0.8" />
<text x="17.2" y="602.32" font-size="8.6" text-anchor="end" fill="#333"  stroke="#333" stroke-width="0.22">4</text>
<line x1="18.7" y1="582.58" x2="20.7" y2="582.58" stroke="#555" stroke-width="0.8" />
<text x="17.2" y="585.68" font-size="8.6" text-anchor="end" fill="#333"  stroke="#333" stroke-width="0.22">6</text>
<line x1="45.6" y1="635.1" x2="45.6" y2="637.1" stroke="#555" stroke-width="0.8" />
<line x1="87.4" y1="635.1" x2="87.4" y2="637.1" stroke="#555" stroke-width="0.8" />
<text x="48" y="646.5" font-size="8.5" text-anchor="middle" fill="#222"  stroke="#222" stroke-width="0.22">Before-co</text>
<text x="88.6" y="646.5" font-size="8.5" text-anchor="middle" fill="#222"  stroke="#222" stroke-width="0.22">After-co</text>
<text x="8.1" y="604.05" font-size="8.6" text-anchor="middle" fill="#222" stroke="#222" stroke-width="0.22" transform="rotate(-90 8.1 604.05)">Expression Level</text>
<path d="M45.6,583.3 L45.6,580.3 L87.4,580.3 L87.4,583.3" fill="none" stroke="#444" stroke-width="0.6" />
<text x="66.5" y="578.7" font-size="7.6" text-anchor="middle" fill="#333"  stroke="#333" stroke-width="0.22">****</text>
<text x="187.3" y="565.4" font-size="9.9" text-anchor="middle" fill="#111" font-weight="bold"  stroke="#111" stroke-width="0.22">CTSL</text>
<path d="M184.9,632.5 C182.94,632.4 178.06,632.2 175.1,632 C172.14,631.8 171.66,631.76 170.1,631.5 C168.54,631.24 167.94,630.94 167.3,630.7 C166.66,630.46 166.82,630.94 166.9,630.3 C166.98,629.66 167.38,628.82 167.7,627.5 C168.02,626.18 168.46,625.1 168.5,623.7 C168.54,622.3 168.28,622.6 167.9,620.5 C167.52,618.4 166.91,621 166.6,613.2 C166.29,605.4 166.4,587.84 166.35,581.5 L165.85,581.5 C165.8,587.84 165.91,605.4 165.6,613.2 C165.29,621 164.68,618.4 164.3,620.5 C163.92,622.6 163.66,622.3 163.7,623.7 C163.74,625.1 164.18,626.18 164.5,627.5 C164.82,628.82 165.22,629.66 165.3,630.3 C165.38,630.94 165.54,630.46 164.9,630.7 C164.26,630.94 163.66,631.24 162.1,631.5 C160.54,631.76 160.06,631.8 157.1,632 C154.14,632.2 149.26,632.4 147.3,632.5 Z" fill="#F8766D" stroke="#3a3a3a" stroke-width="0.45" stroke-linejoin="round"/>
<path d="M226.3,632.5 C224.42,632.4 219.78,632.2 216.9,632 C214.02,631.8 213.34,631.76 211.9,631.5 C210.46,631.24 210.2,630.94 209.7,630.7 C209.2,630.46 209.1,630.78 209.4,630.3 C209.7,629.82 210.36,629.62 211.2,628.3 C212.04,626.98 213.6,625.28 213.6,623.7 C213.6,622.12 212.02,622.64 211.2,620.4 C210.38,618.16 210,615.52 209.5,612.5 C209,609.48 208.97,611.5 208.7,605.3 C208.43,599.1 208.26,586.26 208.15,581.5 L207.65,581.5 C207.54,586.26 207.37,599.1 207.1,605.3 C206.83,611.5 206.8,609.48 206.3,612.5 C205.8,615.52 205.42,618.16 204.6,620.4 C203.78,622.64 202.2,622.12 202.2,623.7 C202.2,625.28 203.76,626.98 204.6,628.3 C205.44,629.62 206.1,629.82 206.4,630.3 C206.7,630.78 206.6,630.46 206.1,630.7 C205.6,630.94 205.34,631.24 203.9,631.5 C202.46,631.76 201.78,631.8 198.9,632 C196.02,632.2 191.38,632.4 189.5,632.5 Z" fill="#00BFC4" stroke="#3a3a3a" stroke-width="0.45" stroke-linejoin="round"/>
<line x1="141.2" y1="572" x2="141.2" y2="635.6" stroke="#555" stroke-width="0.9" />
<line x1="140.75" y1="635.1" x2="232.6" y2="635.1" stroke="#555" stroke-width="0.9" />
<line x1="139.2" y1="632.5" x2="141.2" y2="632.5" stroke="#555" stroke-width="0.8" />
<text x="137.7" y="635.6" font-size="8.6" text-anchor="end" fill="#333"  stroke="#333" stroke-width="0.22">0</text>
<line x1="139.2" y1="614.5" x2="141.2" y2="614.5" stroke="#555" stroke-width="0.8" />
<text x="137.7" y="617.6" font-size="8.6" text-anchor="end" fill="#333"  stroke="#333" stroke-width="0.22">2</text>
<line x1="139.2" y1="596.5" x2="141.2" y2="596.5" stroke="#555" stroke-width="0.8" />
<text x="137.7" y="599.6" font-size="8.6" text-anchor="end" fill="#333"  stroke="#333" stroke-width="0.22">4</text>
<line x1="139.2" y1="578.5" x2="141.2" y2="578.5" stroke="#555" stroke-width="0.8" />
<text x="137.7" y="581.6" font-size="8.6" text-anchor="end" fill="#333"  stroke="#333" stroke-width="0.22">6</text>
<line x1="166.1" y1="635.1" x2="166.1" y2="637.1" stroke="#555" stroke-width="0.8" />
<line x1="207.9" y1="635.1" x2="207.9" y2="637.1" stroke="#555" stroke-width="0.8" />
<text x="171" y="646.5" font-size="8.5" text-anchor="middle" fill="#222"  stroke="#222" stroke-width="0.22">Before-co</text>
<text x="211.5" y="646.5" font-size="8.5" text-anchor="middle" fill="#222"  stroke="#222" stroke-width="0.22">After-co</text>
<text x="128.6" y="604.05" font-size="8.6" text-anchor="middle" fill="#222" stroke="#222" stroke-width="0.22" transform="rotate(-90 128.6 604.05)">Expression Level</text>
<path d="M166.1,584.4 L166.1,581.4 L207.9,581.4 L207.9,584.4" fill="none" stroke="#444" stroke-width="0.6" />
<text x="187" y="579.8" font-size="7.6" text-anchor="middle" fill="#333"  stroke="#333" stroke-width="0.22">****</text>
<text x="305.3" y="565.4" font-size="9.9" text-anchor="middle" fill="#111" font-weight="bold"  stroke="#111" stroke-width="0.22">BIRC3</text>
<path d="M302.9,632.5 C300.94,632.4 296.06,632.2 293.1,632 C290.14,631.8 289.66,631.76 288.1,631.5 C286.54,631.24 285.9,630.94 285.3,630.7 C284.7,630.46 284.9,630.78 285.1,630.3 C285.3,629.82 285.66,630.16 286.3,628.3 C286.94,626.44 288.34,624.16 288.3,621 C288.26,617.84 286.78,615.78 286.1,612.5 C285.42,609.22 285.22,606.6 284.9,604.6 C284.58,602.6 284.61,606.82 284.5,602.5 C284.39,598.18 284.38,586.9 284.35,583 L283.85,583 C283.82,586.9 283.81,598.18 283.7,602.5 C283.59,606.82 283.62,602.6 283.3,604.6 C282.98,606.6 282.78,609.22 282.1,612.5 C281.42,615.78 279.94,617.84 279.9,621 C279.86,624.16 281.26,626.44 281.9,628.3 C282.54,630.16 282.9,629.82 283.1,630.3 C283.3,630.78 283.5,630.46 282.9,630.7 C282.3,630.94 281.66,631.24 280.1,631.5 C278.54,631.76 278.06,631.8 275.1,632 C272.14,632.2 267.26,632.4 265.3,632.5 Z" fill="#F8766D" stroke="#3a3a3a" stroke-width="0.45" stroke-linejoin="round"/>
<path d="M344.3,632.5 C342.42,632.4 337.78,632.2 334.9,632 C332.02,631.8 331.4,631.76 329.9,631.5 C328.4,631.24 327.96,630.94 327.4,630.7 C326.84,630.46 326.7,630.78 327.1,630.3 C327.5,629.82 328.06,629.88 329.4,628.3 C330.74,626.72 333.44,624.12 333.8,622.4 C334.16,620.68 331.6,620.76 331.2,619.7 C330.8,618.64 332.7,621.42 331.8,617.1 C330.9,612.78 327.8,602.22 326.7,598.1 C325.6,593.98 326.41,599.52 326.3,596.5 C326.19,593.48 326.18,585.7 326.15,583 L325.65,583 C325.62,585.7 325.61,593.48 325.5,596.5 C325.39,599.52 326.2,593.98 325.1,598.1 C324,602.22 320.9,612.78 320,617.1 C319.1,621.42 321,618.64 320.6,619.7 C320.2,620.76 317.64,620.68 318,622.4 C318.36,624.12 321.06,626.72 322.4,628.3 C323.74,629.88 324.3,629.82 324.7,630.3 C325.1,630.78 324.96,630.46 324.4,630.7 C323.84,630.94 323.4,631.24 321.9,631.5 C320.4,631.76 319.78,631.8 316.9,632 C314.02,632.2 309.38,632.4 307.5,632.5 Z" fill="#00BFC4" stroke="#3a3a3a" stroke-width="0.45" stroke-linejoin="round"/>
<line x1="259.2" y1="572" x2="259.2" y2="635.6" stroke="#555" stroke-width="0.9" />
<line x1="258.75" y1="635.1" x2="350.6" y2="635.1" stroke="#555" stroke-width="0.9" />
<line x1="257.2" y1="632.5" x2="259.2" y2="632.5" stroke="#555" stroke-width="0.8" />
<text x="255.7" y="635.6" font-size="8.6" text-anchor="end" fill="#333"  stroke="#333" stroke-width="0.22">0</text>
<line x1="257.2" y1="612" x2="259.2" y2="612" stroke="#555" stroke-width="0.8" />
<text x="255.7" y="615.1" font-size="8.6" text-anchor="end" fill="#333"  stroke="#333" stroke-width="0.22">2</text>
<line x1="257.2" y1="591.5" x2="259.2" y2="591.5" stroke="#555" stroke-width="0.8" />
<text x="255.7" y="594.6" font-size="8.6" text-anchor="end" fill="#333"  stroke="#333" stroke-width="0.22">4</text>
<line x1="284.1" y1="635.1" x2="284.1" y2="637.1" stroke="#555" stroke-width="0.8" />
<line x1="325.9" y1="635.1" x2="325.9" y2="637.1" stroke="#555" stroke-width="0.8" />
<text x="285.8" y="646.5" font-size="8.5" text-anchor="middle" fill="#222"  stroke="#222" stroke-width="0.22">Before-co</text>
<text x="326.6" y="646.5" font-size="8.5" text-anchor="middle" fill="#222"  stroke="#222" stroke-width="0.22">After-co</text>
<text x="246.6" y="604.05" font-size="8.6" text-anchor="middle" fill="#222" stroke="#222" stroke-width="0.22" transform="rotate(-90 246.6 604.05)">Expression Level</text>
<path d="M284.1,585.7 L284.1,582.7 L325.9,582.7 L325.9,585.7" fill="none" stroke="#444" stroke-width="0.6" />
<text x="305" y="581.1" font-size="7.6" text-anchor="middle" fill="#333"  stroke="#333" stroke-width="0.22">****</text>
<text x="66.8" y="674.9" font-size="9.9" text-anchor="middle" fill="#111" font-weight="bold"  stroke="#111" stroke-width="0.22">CTSD</text>
<path d="M64.6,741.4 C62.8,741.3 58.4,741.1 55.6,740.9 C52.8,740.7 52.16,740.62 50.6,740.4 C49.04,740.18 48.56,740.34 47.8,739.8 C47.04,739.26 46.46,738.64 46.8,737.7 C47.14,736.76 47.24,737.34 49.5,735.1 C51.76,732.86 56.9,728.74 58.1,726.5 C59.3,724.26 55.9,725.08 55.5,723.9 C55.1,722.72 57.88,723.88 56.1,720.6 C54.32,717.32 48.6,710.54 46.6,707.5 C44.6,704.46 46.25,708.12 46.1,705.4 C45.95,702.68 45.9,696.2 45.85,693.9 L45.35,693.9 C45.3,696.2 45.25,702.68 45.1,705.4 C44.95,708.12 46.6,704.46 44.6,707.5 C42.6,710.54 36.88,717.32 35.1,720.6 C33.32,723.88 36.1,722.72 35.7,723.9 C35.3,725.08 31.9,724.26 33.1,726.5 C34.3,728.74 39.44,732.86 41.7,735.1 C43.96,737.34 44.06,736.76 44.4,737.7 C44.74,738.64 44.16,739.26 43.4,739.8 C42.64,740.34 42.16,740.18 40.6,740.4 C39.04,740.62 38.4,740.7 35.6,740.9 C32.8,741.1 28.4,741.3 26.6,741.4 Z" fill="#F8766D" stroke="#3a3a3a" stroke-width="0.45" stroke-linejoin="round"/>
<path d="M98.9,741.4 C97.8,741.3 95.1,741.1 93.4,740.9 C91.7,740.7 91.28,740.62 90.4,740.4 C89.52,740.18 89.36,740.34 89,739.8 C88.64,739.26 87.82,738.64 88.6,737.7 C89.38,736.76 90.32,736.88 92.9,735.1 C95.48,733.32 100.36,730.58 101.5,728.8 C102.64,727.02 97.68,727.52 98.6,726.2 C99.52,724.88 105.4,723.84 106.1,722.2 C106.8,720.56 105.64,721.6 102.1,718 C98.56,714.4 91.24,707.32 88.4,704.2 C85.56,701.08 88.05,704.46 87.9,702.4 C87.75,700.34 87.7,695.6 87.65,693.9 L87.15,693.9 C87.1,695.6 87.05,700.34 86.9,702.4 C86.75,704.46 89.24,701.08 86.4,704.2 C83.56,707.32 76.24,714.4 72.7,718 C69.16,721.6 68,720.56 68.7,722.2 C69.4,723.84 75.28,724.88 76.2,726.2 C77.12,727.52 72.16,727.02 73.3,728.8 C74.44,730.58 79.32,733.32 81.9,735.1 C84.48,736.88 85.42,736.76 86.2,737.7 C86.98,738.64 86.16,739.26 85.8,739.8 C85.44,740.34 85.28,740.18 84.4,740.4 C83.52,740.62 83.1,740.7 81.4,740.9 C79.7,741.1 77,741.3 75.9,741.4 Z" fill="#00BFC4" stroke="#3a3a3a" stroke-width="0.45" stroke-linejoin="round"/>
<line x1="20.7" y1="681.5" x2="20.7" y2="744.8" stroke="#555" stroke-width="0.9" />
<line x1="20.25" y1="744.3" x2="112.1" y2="744.3" stroke="#555" stroke-width="0.9" />
<line x1="18.7" y1="741.4" x2="20.7" y2="741.4" stroke="#555" stroke-width="0.8" />
<text x="17.2" y="744.5" font-size="8.6" text-anchor="end" fill="#333"  stroke="#333" stroke-width="0.22">0</text>
<line x1="18.7" y1="729.2" x2="20.7" y2="729.2" stroke="#555" stroke-width="0.8" />
<text x="17.2" y="732.3" font-size="8.6" text-anchor="end" fill="#333"  stroke="#333" stroke-width="0.22">1</text>
<line x1="18.7" y1="717" x2="20.7" y2="717" stroke="#555" stroke-width="0.8" />
<text x="17.2" y="720.1" font-size="8.6" text-anchor="end" fill="#333"  stroke="#333" stroke-width="0.22">2</text>
<line x1="18.7" y1="704.8" x2="20.7" y2="704.8" stroke="#555" stroke-width="0.8" />
<text x="17.2" y="707.9" font-size="8.6" text-anchor="end" fill="#333"  stroke="#333" stroke-width="0.22">3</text>
<line x1="18.7" y1="692.6" x2="20.7" y2="692.6" stroke="#555" stroke-width="0.8" />
<text x="17.2" y="695.7" font-size="8.6" text-anchor="end" fill="#333"  stroke="#333" stroke-width="0.22">4</text>
<line x1="45.6" y1="744.3" x2="45.6" y2="746.3" stroke="#555" stroke-width="0.8" />
<line x1="87.4" y1="744.3" x2="87.4" y2="746.3" stroke="#555" stroke-width="0.8" />
<text x="48" y="755.7" font-size="8.5" text-anchor="middle" fill="#222"  stroke="#222" stroke-width="0.22">Before-co</text>
<text x="88.6" y="755.7" font-size="8.5" text-anchor="middle" fill="#222"  stroke="#222" stroke-width="0.22">After-co</text>
<text x="8.1" y="713.4" font-size="8.6" text-anchor="middle" fill="#222" stroke="#222" stroke-width="0.22" transform="rotate(-90 8.1 713.4)">Expression Level</text>
<path d="M45.6,696.5 L45.6,693.5 L87.4,693.5 L87.4,696.5" fill="none" stroke="#444" stroke-width="0.6" />
<text x="66.5" y="691.9" font-size="7.6" text-anchor="middle" fill="#333"  stroke="#333" stroke-width="0.22">****</text>
<text x="187.3" y="674.9" font-size="9.9" text-anchor="middle" fill="#111" font-weight="bold"  stroke="#111" stroke-width="0.22">CCL4</text>
<path d="M184.8,741.4 C182.86,741.3 178.04,741.1 175.1,740.9 C172.16,740.7 171.72,740.6 170.1,740.4 C168.48,740.2 167.56,740.3 167,739.9 C166.44,739.5 167,739.6 167.3,738.4 C167.6,737.2 168.42,735.5 168.5,733.9 C168.58,732.3 168.08,732.78 167.7,730.4 C167.32,728.02 166.87,730.2 166.6,722 C166.33,713.8 166.4,695.92 166.35,689.4 L165.85,689.4 C165.8,695.92 165.87,713.8 165.6,722 C165.33,730.2 164.88,728.02 164.5,730.4 C164.12,732.78 163.62,732.3 163.7,733.9 C163.78,735.5 164.6,737.2 164.9,738.4 C165.2,739.6 165.76,739.5 165.2,739.9 C164.64,740.3 163.72,740.2 162.1,740.4 C160.48,740.6 160.04,740.7 157.1,740.9 C154.16,741.1 149.34,741.3 147.4,741.4 Z" fill="#F8766D" stroke="#3a3a3a" stroke-width="0.45" stroke-linejoin="round"/>
<path d="M226.3,741.4 C224.42,741.3 219.78,741.1 216.9,740.9 C214.02,740.7 213.44,740.6 211.9,740.4 C210.36,740.2 209.56,740.3 209.2,739.9 C208.84,739.5 209.44,739.48 210.1,738.4 C210.76,737.32 212.24,735.8 212.5,734.5 C212.76,733.2 212.2,734.4 211.4,731.9 C210.6,729.4 209.15,730.5 208.5,722 C207.85,713.5 208.22,695.92 208.15,689.4 L207.65,689.4 C207.58,695.92 207.95,713.5 207.3,722 C206.65,730.5 205.2,729.4 204.4,731.9 C203.6,734.4 203.04,733.2 203.3,734.5 C203.56,735.8 205.04,737.32 205.7,738.4 C206.36,739.48 206.96,739.5 206.6,739.9 C206.24,740.3 205.44,740.2 203.9,740.4 C202.36,740.6 201.78,740.7 198.9,740.9 C196.02,741.1 191.38,741.3 189.5,741.4 Z" fill="#00BFC4" stroke="#3a3a3a" stroke-width="0.45" stroke-linejoin="round"/>
<line x1="141.2" y1="681.5" x2="141.2" y2="744.8" stroke="#555" stroke-width="0.9" />
<line x1="140.75" y1="744.3" x2="232.6" y2="744.3" stroke="#555" stroke-width="0.9" />
<line x1="139.2" y1="741.4" x2="141.2" y2="741.4" stroke="#555" stroke-width="0.8" />
<text x="137.7" y="744.5" font-size="8.6" text-anchor="end" fill="#333"  stroke="#333" stroke-width="0.22">0</text>
<line x1="139.2" y1="726.6" x2="141.2" y2="726.6" stroke="#555" stroke-width="0.8" />
<text x="137.7" y="729.7" font-size="8.6" text-anchor="end" fill="#333"  stroke="#333" stroke-width="0.22">2</text>
<line x1="139.2" y1="711.8" x2="141.2" y2="711.8" stroke="#555" stroke-width="0.8" />
<text x="137.7" y="714.9" font-size="8.6" text-anchor="end" fill="#333"  stroke="#333" stroke-width="0.22">4</text>
<line x1="139.2" y1="697" x2="141.2" y2="697" stroke="#555" stroke-width="0.8" />
<text x="137.7" y="700.1" font-size="8.6" text-anchor="end" fill="#333"  stroke="#333" stroke-width="0.22">6</text>
<line x1="139.2" y1="682.2" x2="141.2" y2="682.2" stroke="#555" stroke-width="0.8" />
<text x="137.7" y="685.3" font-size="8.6" text-anchor="end" fill="#333"  stroke="#333" stroke-width="0.22">8</text>
<line x1="166.1" y1="744.3" x2="166.1" y2="746.3" stroke="#555" stroke-width="0.8" />
<line x1="207.9" y1="744.3" x2="207.9" y2="746.3" stroke="#555" stroke-width="0.8" />
<text x="171" y="755.7" font-size="8.5" text-anchor="middle" fill="#222"  stroke="#222" stroke-width="0.22">Before-co</text>
<text x="211.5" y="755.7" font-size="8.5" text-anchor="middle" fill="#222"  stroke="#222" stroke-width="0.22">After-co</text>
<text x="128.6" y="713.4" font-size="8.6" text-anchor="middle" fill="#222" stroke="#222" stroke-width="0.22" transform="rotate(-90 128.6 713.4)">Expression Level</text>
<path d="M166.1,691.8 L166.1,688.8 L207.9,688.8 L207.9,691.8" fill="none" stroke="#444" stroke-width="0.6" />
<text x="187" y="687.2" font-size="7.6" text-anchor="middle" fill="#333"  stroke="#333" stroke-width="0.22">****</text>
<text x="305.3" y="674.9" font-size="9.9" text-anchor="middle" fill="#111" font-weight="bold"  stroke="#111" stroke-width="0.22">NFKBIA</text>
<path d="M302.9,741.4 C300.94,741.3 296.06,741.1 293.1,740.9 C290.14,740.7 289.74,740.66 288.1,740.4 C286.46,740.14 285.38,740.2 284.9,739.6 C284.42,739 285.22,739.2 285.7,737.4 C286.18,735.6 287.22,733 287.3,730.6 C287.38,728.2 286.62,728.42 286.1,725.4 C285.58,722.38 285.05,722 284.7,715.5 C284.35,709 284.42,697.42 284.35,692.9 L283.85,692.9 C283.78,697.42 283.85,709 283.5,715.5 C283.15,722 282.62,722.38 282.1,725.4 C281.58,728.42 280.82,728.2 280.9,730.6 C280.98,733 282.02,735.6 282.5,737.4 C282.98,739.2 283.78,739 283.3,739.6 C282.82,740.2 281.74,740.14 280.1,740.4 C278.46,740.66 278.06,740.7 275.1,740.9 C272.14,741.1 267.26,741.3 265.3,741.4 Z" fill="#F8766D" stroke="#3a3a3a" stroke-width="0.45" stroke-linejoin="round"/>
<path d="M344.3,741.4 C342.42,741.3 337.78,741.1 334.9,740.9 C332.02,740.7 331.5,740.7 329.9,740.4 C328.3,740.1 327.14,740 326.9,739.4 C326.66,738.8 327.46,739.04 328.7,737.4 C329.94,735.76 332.68,732.96 333.1,731.2 C333.52,729.44 331.38,729.78 330.8,728.6 C330.22,727.42 331.08,730.94 330.2,725.3 C329.32,719.66 327.21,706.88 326.4,700.4 C325.59,693.92 326.2,694.4 326.15,692.9 L325.65,692.9 C325.6,694.4 326.21,693.92 325.4,700.4 C324.59,706.88 322.48,719.66 321.6,725.3 C320.72,730.94 321.58,727.42 321,728.6 C320.42,729.78 318.28,729.44 318.7,731.2 C319.12,732.96 321.86,735.76 323.1,737.4 C324.34,739.04 325.14,738.8 324.9,739.4 C324.66,740 323.5,740.1 321.9,740.4 C320.3,740.7 319.78,740.7 316.9,740.9 C314.02,741.1 309.38,741.3 307.5,741.4 Z" fill="#00BFC4" stroke="#3a3a3a" stroke-width="0.45" stroke-linejoin="round"/>
<line x1="259.2" y1="681.5" x2="259.2" y2="744.8" stroke="#555" stroke-width="0.9" />
<line x1="258.75" y1="744.3" x2="350.6" y2="744.3" stroke="#555" stroke-width="0.9" />
<line x1="257.2" y1="741.4" x2="259.2" y2="741.4" stroke="#555" stroke-width="0.8" />
<text x="255.7" y="744.5" font-size="8.6" text-anchor="end" fill="#333"  stroke="#333" stroke-width="0.22">0</text>
<line x1="257.2" y1="720.4" x2="259.2" y2="720.4" stroke="#555" stroke-width="0.8" />
<text x="255.7" y="723.5" font-size="8.6" text-anchor="end" fill="#333"  stroke="#333" stroke-width="0.22">2</text>
<line x1="257.2" y1="699.4" x2="259.2" y2="699.4" stroke="#555" stroke-width="0.8" />
<text x="255.7" y="702.5" font-size="8.6" text-anchor="end" fill="#333"  stroke="#333" stroke-width="0.22">4</text>
<line x1="284.1" y1="744.3" x2="284.1" y2="746.3" stroke="#555" stroke-width="0.8" />
<line x1="325.9" y1="744.3" x2="325.9" y2="746.3" stroke="#555" stroke-width="0.8" />
<text x="285.8" y="755.7" font-size="8.5" text-anchor="middle" fill="#222"  stroke="#222" stroke-width="0.22">Before-co</text>
<text x="326.6" y="755.7" font-size="8.5" text-anchor="middle" fill="#222"  stroke="#222" stroke-width="0.22">After-co</text>
<text x="246.6" y="713.4" font-size="8.6" text-anchor="middle" fill="#222" stroke="#222" stroke-width="0.22" transform="rotate(-90 246.6 713.4)">Expression Level</text>
<path d="M284.1,695.5 L284.1,692.5 L325.9,692.5 L325.9,695.5" fill="none" stroke="#444" stroke-width="0.6" />
<text x="305" y="690.9" font-size="7.6" text-anchor="middle" fill="#333"  stroke="#333" stroke-width="0.22">****</text>
<text x="66.8" y="782.3" font-size="9.9" text-anchor="middle" fill="#111" font-weight="bold"  stroke="#111" stroke-width="0.22">TNFRSF1B</text>
<path d="M64.6,849.4 C62.8,849.3 58.4,849.1 55.6,848.9 C52.8,848.7 52.16,848.62 50.6,848.4 C49.04,848.18 48.56,848.32 47.8,847.8 C47.04,847.28 46.46,846.86 46.8,845.8 C47.14,844.74 46.84,844.08 49.5,842.5 C52.16,840.92 58.38,839.28 60.1,837.9 C61.82,836.52 57.32,837.04 58.1,835.6 C58.88,834.16 63.6,832.34 64,830.7 C64.4,829.06 63.48,831.48 60.1,827.4 C56.72,823.32 49.88,814.1 47.1,810.3 C44.32,806.5 46.45,810.54 46.2,808.4 C45.95,806.26 45.92,801.36 45.85,799.6 L45.35,799.6 C45.28,801.36 45.25,806.26 45,808.4 C44.75,810.54 46.88,806.5 44.1,810.3 C41.32,814.1 34.48,823.32 31.1,827.4 C27.72,831.48 26.8,829.06 27.2,830.7 C27.6,832.34 32.32,834.16 33.1,835.6 C33.88,837.04 29.38,836.52 31.1,837.9 C32.82,839.28 39.04,840.92 41.7,842.5 C44.36,844.08 44.06,844.74 44.4,845.8 C44.74,846.86 44.16,847.28 43.4,847.8 C42.64,848.32 42.16,848.18 40.6,848.4 C39.04,848.62 38.4,848.7 35.6,848.9 C32.8,849.1 28.4,849.3 26.6,849.4 Z" fill="#F8766D" stroke="#3a3a3a" stroke-width="0.45" stroke-linejoin="round"/>
<path d="M92.9,849.4 C92.4,849.28 91.14,849.04 90.4,848.8 C89.66,848.56 89.6,848.52 89.2,848.2 C88.8,847.88 88.56,847.68 88.4,847.2 C88.24,846.72 87.9,846.74 88.4,845.8 C88.9,844.86 89.48,843.94 90.9,842.5 C92.32,841.06 94.9,839.78 95.5,838.6 C96.1,837.42 93.24,837.66 93.9,836.6 C94.56,835.54 96.36,835 98.8,833.3 C101.24,831.6 105.58,830.06 106.1,828.1 C106.62,826.14 104.94,828.1 101.4,823.5 C97.86,818.9 91.1,809.12 88.4,805.1 C85.7,801.08 88.05,804.5 87.9,803.4 C87.75,802.3 87.7,800.36 87.65,799.6 L87.15,799.6 C87.1,800.36 87.05,802.3 86.9,803.4 C86.75,804.5 89.1,801.08 86.4,805.1 C83.7,809.12 76.94,818.9 73.4,823.5 C69.86,828.1 68.18,826.14 68.7,828.1 C69.22,830.06 73.56,831.6 76,833.3 C78.44,835 80.24,835.54 80.9,836.6 C81.56,837.66 78.7,837.42 79.3,838.6 C79.9,839.78 82.48,841.06 83.9,842.5 C85.32,843.94 85.9,844.86 86.4,845.8 C86.9,846.74 86.56,846.72 86.4,847.2 C86.24,847.68 86,847.88 85.6,848.2 C85.2,848.52 85.14,848.56 84.4,848.8 C83.66,849.04 82.4,849.28 81.9,849.4 Z" fill="#00BFC4" stroke="#3a3a3a" stroke-width="0.45" stroke-linejoin="round"/>
<line x1="20.7" y1="788.9" x2="20.7" y2="853" stroke="#555" stroke-width="0.9" />
<line x1="20.25" y1="852.5" x2="112.1" y2="852.5" stroke="#555" stroke-width="0.9" />
<line x1="18.7" y1="849.4" x2="20.7" y2="849.4" stroke="#555" stroke-width="0.8" />
<text x="17.2" y="852.5" font-size="8.6" text-anchor="end" fill="#333"  stroke="#333" stroke-width="0.22">0</text>
<line x1="18.7" y1="828.4" x2="20.7" y2="828.4" stroke="#555" stroke-width="0.8" />
<text x="17.2" y="831.5" font-size="8.6" text-anchor="end" fill="#333"  stroke="#333" stroke-width="0.22">2</text>
<line x1="18.7" y1="807.4" x2="20.7" y2="807.4" stroke="#555" stroke-width="0.8" />
<text x="17.2" y="810.5" font-size="8.6" text-anchor="end" fill="#333"  stroke="#333" stroke-width="0.22">4</text>
<line x1="45.6" y1="852.5" x2="45.6" y2="854.5" stroke="#555" stroke-width="0.8" />
<line x1="87.4" y1="852.5" x2="87.4" y2="854.5" stroke="#555" stroke-width="0.8" />
<text x="48" y="863.9" font-size="8.5" text-anchor="middle" fill="#222"  stroke="#222" stroke-width="0.22">Before-co</text>
<text x="88.6" y="863.9" font-size="8.5" text-anchor="middle" fill="#222"  stroke="#222" stroke-width="0.22">After-co</text>
<text x="8.1" y="821.2" font-size="8.6" text-anchor="middle" fill="#222" stroke="#222" stroke-width="0.22" transform="rotate(-90 8.1 821.2)">Expression Level</text>
<path d="M45.6,802.6 L45.6,799.6 L87.4,799.6 L87.4,802.6" fill="none" stroke="#444" stroke-width="0.6" />
<text x="66.5" y="798" font-size="7.6" text-anchor="middle" fill="#333"  stroke="#333" stroke-width="0.22">****</text>
<text x="187.3" y="782.3" font-size="9.9" text-anchor="middle" fill="#111" font-weight="bold"  stroke="#111" stroke-width="0.22">TNFRSF18</text>
<path d="M184.9,849.4 C182.94,849.3 178.06,849.1 175.1,848.9 C172.14,848.7 171.74,848.88 170.1,848.4 C168.46,847.92 167.34,847.5 166.9,846.5 C166.46,845.5 167.38,845.38 167.9,843.4 C168.42,841.42 169.42,839 169.5,836.6 C169.58,834.2 168.88,834.82 168.3,831.4 C167.72,827.98 166.99,825.56 166.6,819.5 C166.21,813.44 166.4,804.78 166.35,801.1 L165.85,801.1 C165.8,804.78 165.99,813.44 165.6,819.5 C165.21,825.56 164.48,827.98 163.9,831.4 C163.32,834.82 162.62,834.2 162.7,836.6 C162.78,839 163.78,841.42 164.3,843.4 C164.82,845.38 165.74,845.5 165.3,846.5 C164.86,847.5 163.74,847.92 162.1,848.4 C160.46,848.88 160.06,848.7 157.1,848.9 C154.14,849.1 149.26,849.3 147.3,849.4 Z" fill="#F8766D" stroke="#3a3a3a" stroke-width="0.45" stroke-linejoin="round"/>
<path d="M226.3,849.4 C224.42,849.3 219.78,849.1 216.9,848.9 C214.02,848.7 213.5,848.88 211.9,848.4 C210.3,847.92 209,847.54 208.9,846.5 C208.8,845.46 209.76,845.04 211.4,843.2 C213.04,841.36 216.66,839.02 217.1,837.3 C217.54,835.58 214.12,835.66 213.6,834.6 C213.08,833.54 215.48,835.8 214.5,832 C213.52,828.2 209.97,821.78 208.7,815.6 C207.43,809.42 208.26,804 208.15,801.1 L207.65,801.1 C207.54,804 208.37,809.42 207.1,815.6 C205.83,821.78 202.28,828.2 201.3,832 C200.32,835.8 202.72,833.54 202.2,834.6 C201.68,835.66 198.26,835.58 198.7,837.3 C199.14,839.02 202.76,841.36 204.4,843.2 C206.04,845.04 207,845.46 206.9,846.5 C206.8,847.54 205.5,847.92 203.9,848.4 C202.3,848.88 201.78,848.7 198.9,848.9 C196.02,849.1 191.38,849.3 189.5,849.4 Z" fill="#00BFC4" stroke="#3a3a3a" stroke-width="0.45" stroke-linejoin="round"/>
<line x1="141.2" y1="788.9" x2="141.2" y2="853" stroke="#555" stroke-width="0.9" />
<line x1="140.75" y1="852.5" x2="232.6" y2="852.5" stroke="#555" stroke-width="0.9" />
<line x1="139.2" y1="849.4" x2="141.2" y2="849.4" stroke="#555" stroke-width="0.8" />
<text x="137.7" y="852.5" font-size="8.6" text-anchor="end" fill="#333"  stroke="#333" stroke-width="0.22">0</text>
<line x1="139.2" y1="837.4" x2="141.2" y2="837.4" stroke="#555" stroke-width="0.8" />
<text x="137.7" y="840.5" font-size="8.6" text-anchor="end" fill="#333"  stroke="#333" stroke-width="0.22">1</text>
<line x1="139.2" y1="825.4" x2="141.2" y2="825.4" stroke="#555" stroke-width="0.8" />
<text x="137.7" y="828.5" font-size="8.6" text-anchor="end" fill="#333"  stroke="#333" stroke-width="0.22">2</text>
<line x1="139.2" y1="813.4" x2="141.2" y2="813.4" stroke="#555" stroke-width="0.8" />
<text x="137.7" y="816.5" font-size="8.6" text-anchor="end" fill="#333"  stroke="#333" stroke-width="0.22">3</text>
<line x1="139.2" y1="801.4" x2="141.2" y2="801.4" stroke="#555" stroke-width="0.8" />
<text x="137.7" y="804.5" font-size="8.6" text-anchor="end" fill="#333"  stroke="#333" stroke-width="0.22">4</text>
<line x1="139.2" y1="789.4" x2="141.2" y2="789.4" stroke="#555" stroke-width="0.8" />
<text x="137.7" y="792.5" font-size="8.6" text-anchor="end" fill="#333"  stroke="#333" stroke-width="0.22">5</text>
<line x1="166.1" y1="852.5" x2="166.1" y2="854.5" stroke="#555" stroke-width="0.8" />
<line x1="207.9" y1="852.5" x2="207.9" y2="854.5" stroke="#555" stroke-width="0.8" />
<text x="171" y="863.9" font-size="8.5" text-anchor="middle" fill="#222"  stroke="#222" stroke-width="0.22">Before-co</text>
<text x="211.5" y="863.9" font-size="8.5" text-anchor="middle" fill="#222"  stroke="#222" stroke-width="0.22">After-co</text>
<text x="128.6" y="821.2" font-size="8.6" text-anchor="middle" fill="#222" stroke="#222" stroke-width="0.22" transform="rotate(-90 128.6 821.2)">Expression Level</text>
<path d="M166.1,804.1 L166.1,801.1 L207.9,801.1 L207.9,804.1" fill="none" stroke="#444" stroke-width="0.6" />
<text x="187" y="799.5" font-size="7.6" text-anchor="middle" fill="#333"  stroke="#333" stroke-width="0.22">****</text>
<text x="305.3" y="782.3" font-size="9.9" text-anchor="middle" fill="#111" font-weight="bold"  stroke="#111" stroke-width="0.22">CSF1</text>
<path d="M302.9,849.4 C300.94,849.3 296.06,849.1 293.1,848.9 C290.14,848.7 289.8,848.7 288.1,848.4 C286.4,848.1 285.08,848.84 284.6,847.4 C284.12,845.96 285.6,843.2 285.7,841.2 C285.8,839.2 285.34,839.36 285.1,837.4 C284.86,835.44 284.66,839.04 284.5,831.4 C284.34,823.76 284.34,805.64 284.3,799.2 L283.9,799.2 C283.86,805.64 283.86,823.76 283.7,831.4 C283.54,839.04 283.34,835.44 283.1,837.4 C282.86,839.36 282.4,839.2 282.5,841.2 C282.6,843.2 284.08,845.96 283.6,847.4 C283.12,848.84 281.8,848.1 280.1,848.4 C278.4,848.7 278.06,848.7 275.1,848.9 C272.14,849.1 267.26,849.3 265.3,849.4 Z" fill="#F8766D" stroke="#3a3a3a" stroke-width="0.45" stroke-linejoin="round"/>
<path d="M344.3,849.4 C342.42,849.3 337.78,849.1 334.9,848.9 C332.02,848.7 331.44,848.78 329.9,848.4 C328.36,848.02 327.34,848.56 327.2,847 C327.06,845.44 328.9,842.54 329.2,840.6 C329.5,838.66 329.22,839.94 328.7,837.3 C328.18,834.66 327.1,833.18 326.6,827.4 C326.1,821.62 326.28,812.2 326.2,808.4 L325.6,808.4 C325.52,812.2 325.7,821.62 325.2,827.4 C324.7,833.18 323.62,834.66 323.1,837.3 C322.58,839.94 322.3,838.66 322.6,840.6 C322.9,842.54 324.74,845.44 324.6,847 C324.46,848.56 323.44,848.02 321.9,848.4 C320.36,848.78 319.78,848.7 316.9,848.9 C314.02,849.1 309.38,849.3 307.5,849.4 Z" fill="#00BFC4" stroke="#3a3a3a" stroke-width="0.45" stroke-linejoin="round"/>
<line x1="259.2" y1="788.9" x2="259.2" y2="853" stroke="#555" stroke-width="0.9" />
<line x1="258.75" y1="852.5" x2="350.6" y2="852.5" stroke="#555" stroke-width="0.9" />
<line x1="257.2" y1="849.4" x2="259.2" y2="849.4" stroke="#555" stroke-width="0.8" />
<text x="255.7" y="852.5" font-size="8.6" text-anchor="end" fill="#333"  stroke="#333" stroke-width="0.22">0</text>
<line x1="257.2" y1="829.8" x2="259.2" y2="829.8" stroke="#555" stroke-width="0.8" />
<text x="255.7" y="832.9" font-size="8.6" text-anchor="end" fill="#333"  stroke="#333" stroke-width="0.22">2</text>
<line x1="257.2" y1="810.2" x2="259.2" y2="810.2" stroke="#555" stroke-width="0.8" />
<text x="255.7" y="813.3" font-size="8.6" text-anchor="end" fill="#333"  stroke="#333" stroke-width="0.22">4</text>
<line x1="257.2" y1="790.6" x2="259.2" y2="790.6" stroke="#555" stroke-width="0.8" />
<text x="255.7" y="793.7" font-size="8.6" text-anchor="end" fill="#333"  stroke="#333" stroke-width="0.22">6</text>
<line x1="284.1" y1="852.5" x2="284.1" y2="854.5" stroke="#555" stroke-width="0.8" />
<line x1="325.9" y1="852.5" x2="325.9" y2="854.5" stroke="#555" stroke-width="0.8" />
<text x="285.8" y="863.9" font-size="8.5" text-anchor="middle" fill="#222"  stroke="#222" stroke-width="0.22">Before-co</text>
<text x="326.6" y="863.9" font-size="8.5" text-anchor="middle" fill="#222"  stroke="#222" stroke-width="0.22">After-co</text>
<text x="246.6" y="821.2" font-size="8.6" text-anchor="middle" fill="#222" stroke="#222" stroke-width="0.22" transform="rotate(-90 246.6 821.2)">Expression Level</text>
<path d="M284.1,802.2 L284.1,799.2 L325.9,799.2 L325.9,802.2" fill="none" stroke="#444" stroke-width="0.6" />
<text x="305" y="797.6" font-size="7.6" text-anchor="middle" fill="#333"  stroke="#333" stroke-width="0.22">****</text>
<text x="388" y="516" font-size="15" text-anchor="start" fill="#2A2426" stroke="#2A2426" stroke-width="0.12">H</text>
<text x="533.7" y="536.4" font-size="10.1" text-anchor="middle" fill="#333"  stroke="#333" stroke-width="0.22">Pathway enrichment of DEGs Before and after coculture</text>
<rect x="531.4" y="563.1" width="109.2" height="298.5" fill="#FFFFFF" stroke="none" stroke-width="1" />
<line x1="554.9" y1="563.1" x2="554.9" y2="861.6" stroke="#F2F2F2" stroke-width="0.6" />
<line x1="587.5" y1="563.1" x2="587.5" y2="861.6" stroke="#F2F2F2" stroke-width="0.6" />
<line x1="620" y1="563.1" x2="620" y2="861.6" stroke="#F2F2F2" stroke-width="0.6" />
<line x1="538.6" y1="563.1" x2="538.6" y2="861.6" stroke="#E6E6E6" stroke-width="0.9" />
<line x1="571.1" y1="563.1" x2="571.1" y2="861.6" stroke="#E6E6E6" stroke-width="0.9" />
<line x1="603.6" y1="563.1" x2="603.6" y2="861.6" stroke="#E6E6E6" stroke-width="0.9" />
<line x1="636.4" y1="563.1" x2="636.4" y2="861.6" stroke="#E6E6E6" stroke-width="0.9" />
<line x1="531.4" y1="571.3" x2="640.6" y2="571.3" stroke="#E6E6E6" stroke-width="0.9" />
<line x1="531.4" y1="586.2" x2="640.6" y2="586.2" stroke="#E6E6E6" stroke-width="0.9" />
<line x1="531.4" y1="601.1" x2="640.6" y2="601.1" stroke="#E6E6E6" stroke-width="0.9" />
<line x1="531.4" y1="616" x2="640.6" y2="616" stroke="#E6E6E6" stroke-width="0.9" />
<line x1="531.4" y1="630.9" x2="640.6" y2="630.9" stroke="#E6E6E6" stroke-width="0.9" />
<line x1="531.4" y1="645.8" x2="640.6" y2="645.8" stroke="#E6E6E6" stroke-width="0.9" />
<line x1="531.4" y1="660.7" x2="640.6" y2="660.7" stroke="#E6E6E6" stroke-width="0.9" />
<line x1="531.4" y1="675.6" x2="640.6" y2="675.6" stroke="#E6E6E6" stroke-width="0.9" />
<line x1="531.4" y1="690.5" x2="640.6" y2="690.5" stroke="#E6E6E6" stroke-width="0.9" />
<line x1="531.4" y1="705.4" x2="640.6" y2="705.4" stroke="#E6E6E6" stroke-width="0.9" />
<line x1="531.4" y1="720.3" x2="640.6" y2="720.3" stroke="#E6E6E6" stroke-width="0.9" />
<line x1="531.4" y1="735.2" x2="640.6" y2="735.2" stroke="#E6E6E6" stroke-width="0.9" />
<line x1="531.4" y1="750.1" x2="640.6" y2="750.1" stroke="#E6E6E6" stroke-width="0.9" />
<line x1="531.4" y1="765" x2="640.6" y2="765" stroke="#E6E6E6" stroke-width="0.9" />
<line x1="531.4" y1="779.9" x2="640.6" y2="779.9" stroke="#E6E6E6" stroke-width="0.9" />
<line x1="531.4" y1="794.8" x2="640.6" y2="794.8" stroke="#E6E6E6" stroke-width="0.9" />
<line x1="531.4" y1="809.7" x2="640.6" y2="809.7" stroke="#E6E6E6" stroke-width="0.9" />
<line x1="531.4" y1="824.6" x2="640.6" y2="824.6" stroke="#E6E6E6" stroke-width="0.9" />
<line x1="531.4" y1="839.5" x2="640.6" y2="839.5" stroke="#E6E6E6" stroke-width="0.9" />
<line x1="531.4" y1="854.4" x2="640.6" y2="854.4" stroke="#E6E6E6" stroke-width="0.9" />
<rect x="531.4" y="563.1" width="109.2" height="298.5" fill="none" stroke="#555" stroke-width="0.9" />
<line x1="527.9" y1="571.3" x2="531.4" y2="571.3" stroke="#555" stroke-width="0.8" />
<text x="524.2" y="573.7" font-size="8.3" text-anchor="end" fill="#222"  stroke="#222" stroke-width="0.22">Antigen processing and presentation</text>
<circle cx="579.5" cy="568" r="3.3" fill="#A3566F" stroke="none" stroke-width="0.6" />
<line x1="527.9" y1="586.2" x2="531.4" y2="586.2" stroke="#555" stroke-width="0.8" />
<text x="524.2" y="588.6" font-size="8.3" text-anchor="end" fill="#222"  stroke="#222" stroke-width="0.22">IL-17 signaling pathway</text>
<circle cx="564.7" cy="580.3" r="3.3" fill="#6A0A25" stroke="none" stroke-width="0.6" />
<line x1="527.9" y1="601.1" x2="531.4" y2="601.1" stroke="#555" stroke-width="0.8" />
<text x="524.2" y="603.5" font-size="8.3" text-anchor="end" fill="#222"  stroke="#222" stroke-width="0.22">TNF signaling pathway</text>
<circle cx="609.3" cy="601.1" r="5.25" fill="#67001F" stroke="none" stroke-width="0.6" />
<line x1="527.9" y1="616" x2="531.4" y2="616" stroke="#555" stroke-width="0.8" />
<text x="524.2" y="618.4" font-size="8.3" text-anchor="end" fill="#222"  stroke="#222" stroke-width="0.22">Apoptosis</text>
<circle cx="605.8" cy="616" r="6.1" fill="#67001F" stroke="none" stroke-width="0.6" />
<line x1="527.9" y1="630.9" x2="531.4" y2="630.9" stroke="#555" stroke-width="0.8" />
<text x="524.2" y="633.3" font-size="8.3" text-anchor="end" fill="#222"  stroke="#222" stroke-width="0.22">Th1 and Th2 cell differentiation</text>
<circle cx="592.7" cy="630.9" r="3.5" fill="#C3272F" stroke="none" stroke-width="0.6" />
<line x1="527.9" y1="645.8" x2="531.4" y2="645.8" stroke="#555" stroke-width="0.8" />
<text x="524.2" y="648.2" font-size="8.3" text-anchor="end" fill="#222"  stroke="#222" stroke-width="0.22">Estrogen signaling pathway</text>
<circle cx="592.7" cy="645.8" r="5.25" fill="#6C0326" stroke="none" stroke-width="0.6" />
<line x1="527.9" y1="660.7" x2="531.4" y2="660.7" stroke="#555" stroke-width="0.8" />
<text x="524.2" y="663.1" font-size="8.3" text-anchor="end" fill="#222"  stroke="#222" stroke-width="0.22">Th17 cell differentiation</text>
<circle cx="582.7" cy="660.7" r="3.3" fill="#D0504A" stroke="none" stroke-width="0.6" />
<line x1="527.9" y1="675.6" x2="531.4" y2="675.6" stroke="#555" stroke-width="0.8" />
<text x="524.2" y="673.2" font-size="8.3" text-anchor="end" fill="#222"  stroke="#222" stroke-width="0.22">Protein processing in endoplasmic</text>
<text x="524.2" y="681.2" font-size="8.3" text-anchor="end" fill="#222"  stroke="#222" stroke-width="0.22">reticulum</text>
<circle cx="580.9" cy="675.6" r="5.25" fill="#6A0026" stroke="none" stroke-width="0.6" />
<line x1="527.9" y1="690.5" x2="531.4" y2="690.5" stroke="#555" stroke-width="0.8" />
<text x="524.2" y="692.9" font-size="8.3" text-anchor="end" fill="#222"  stroke="#222" stroke-width="0.22">Osteoclast differentiation</text>
<circle cx="572.5" cy="690.5" r="3.3" fill="#E8876A" stroke="none" stroke-width="0.6" />
<line x1="527.9" y1="705.4" x2="531.4" y2="705.4" stroke="#555" stroke-width="0.8" />
<text x="524.2" y="707.8" font-size="8.3" text-anchor="end" fill="#222"  stroke="#222" stroke-width="0.22">NF-kappa B signaling pathway</text>
<circle cx="570.4" cy="705.4" r="2.5" fill="#3A7CC0" stroke="none" stroke-width="0.6" />
<line x1="527.9" y1="720.3" x2="531.4" y2="720.3" stroke="#555" stroke-width="0.8" />
<text x="524.2" y="722.7" font-size="8.3" text-anchor="end" fill="#222"  stroke="#222" stroke-width="0.22">Measles</text>
<circle cx="569" cy="720.3" r="3.3" fill="#F4AC8C" stroke="none" stroke-width="0.6" />
<line x1="527.9" y1="735.2" x2="531.4" y2="735.2" stroke="#555" stroke-width="0.8" />
<text x="524.2" y="737.6" font-size="8.3" text-anchor="end" fill="#222"  stroke="#222" stroke-width="0.22">Toll-like receptor signaling pathway</text>
<circle cx="568.7" cy="735.2" r="2.5" fill="#3F7EC2" stroke="none" stroke-width="0.6" />
<line x1="527.9" y1="750.1" x2="531.4" y2="750.1" stroke="#555" stroke-width="0.8" />
<text x="524.2" y="752.5" font-size="8.3" text-anchor="end" fill="#222"  stroke="#222" stroke-width="0.22">NOD-like receptor signaling pathway</text>
<circle cx="567.3" cy="750.1" r="4.3" fill="#BD2630" stroke="none" stroke-width="0.6" />
<line x1="527.9" y1="765" x2="531.4" y2="765" stroke="#555" stroke-width="0.8" />
<text x="524.2" y="767.4" font-size="8.3" text-anchor="end" fill="#222"  stroke="#222" stroke-width="0.22">Necroptosis</text>
<circle cx="562" cy="765" r="3.3" fill="#E6E9E8" stroke="none" stroke-width="0.6" />
<line x1="527.9" y1="779.9" x2="531.4" y2="779.9" stroke="#555" stroke-width="0.8" />
<text x="524.2" y="777.5" font-size="8.3" text-anchor="end" fill="#222"  stroke="#222" stroke-width="0.22">Human immunodeficiency virus 1</text>
<text x="524.2" y="785.5" font-size="8.3" text-anchor="end" fill="#222"  stroke="#222" stroke-width="0.22">infection</text>
<circle cx="560.3" cy="779.9" r="4.3" fill="#D6604D" stroke="none" stroke-width="0.6" />
<line x1="527.9" y1="794.8" x2="531.4" y2="794.8" stroke="#555" stroke-width="0.8" />
<text x="524.2" y="797.2" font-size="8.3" text-anchor="end" fill="#222"  stroke="#222" stroke-width="0.22">Epstein-Barr virus infection</text>
<circle cx="554.2" cy="794.8" r="3.3" fill="#3C85C6" stroke="none" stroke-width="0.6" />
<line x1="527.9" y1="809.7" x2="531.4" y2="809.7" stroke="#555" stroke-width="0.8" />
<text x="524.2" y="812.1" font-size="8.3" text-anchor="end" fill="#222"  stroke="#222" stroke-width="0.22">Human cytomegalovirus infection</text>
<circle cx="550.6" cy="809.7" r="3.3" fill="#0B3470" stroke="none" stroke-width="0.6" />
<line x1="527.9" y1="824.6" x2="531.4" y2="824.6" stroke="#555" stroke-width="0.8" />
<text x="524.2" y="827" font-size="8.3" text-anchor="end" fill="#222"  stroke="#222" stroke-width="0.22">Cytokine-cytokine receptor interaction</text>
<circle cx="549.4" cy="824.6" r="4.3" fill="#C6DDEE" stroke="none" stroke-width="0.6" />
<line x1="527.9" y1="839.5" x2="531.4" y2="839.5" stroke="#555" stroke-width="0.8" />
<text x="524.2" y="841.9" font-size="8.3" text-anchor="end" fill="#222"  stroke="#222" stroke-width="0.22">PI3K-Akt signaling pathway</text>
<circle cx="544.5" cy="839.5" r="4.3" fill="#0A3C7C" stroke="none" stroke-width="0.6" />
<line x1="527.9" y1="854.4" x2="531.4" y2="854.4" stroke="#555" stroke-width="0.8" />
<text x="524.2" y="856.8" font-size="8.3" text-anchor="end" fill="#222"  stroke="#222" stroke-width="0.22">Pathways in cancer</text>
<circle cx="542.8" cy="854.4" r="6.1" fill="#FBE0D3" stroke="none" stroke-width="0.6" />
<line x1="538.6" y1="861.6" x2="538.6" y2="865.2" stroke="#555" stroke-width="0.8" />
<line x1="571.1" y1="861.6" x2="571.1" y2="865.2" stroke="#555" stroke-width="0.8" />
<line x1="603.6" y1="861.6" x2="603.6" y2="865.2" stroke="#555" stroke-width="0.8" />
<line x1="636.4" y1="861.6" x2="636.4" y2="865.2" stroke="#555" stroke-width="0.8" />
<line x1="554.9" y1="861.6" x2="554.9" y2="865.2" stroke="#555" stroke-width="0.8" />
<line x1="587.5" y1="861.6" x2="587.5" y2="865.2" stroke="#555" stroke-width="0.8" />
<line x1="620" y1="861.6" x2="620" y2="865.2" stroke="#555" stroke-width="0.8" />
<text x="539.9" y="878.1" font-size="9.3" text-anchor="middle" fill="#333"  stroke="#333" stroke-width="0.22">0.01</text>
<text x="572.4" y="878.1" font-size="9.3" text-anchor="middle" fill="#333"  stroke="#333" stroke-width="0.22">0.03</text>
<text x="605.5" y="878.1" font-size="9.3" text-anchor="middle" fill="#333"  stroke="#333" stroke-width="0.22">0.05</text>
<text x="633" y="878.1" font-size="9.3" text-anchor="middle" fill="#333"  stroke="#333" stroke-width="0.22">0.07</text>
<text x="591.1" y="893" font-size="11.0" text-anchor="middle" fill="#333"  stroke="#333" stroke-width="0.22">GeneRatio</text>
<text x="646.2" y="622.5" font-size="7.0" text-anchor="start" fill="#222"  stroke="#222" stroke-width="0.22">Number</text>
<circle cx="652.4" cy="631.9" r="2.6" fill="#4D4D4D" stroke="none" stroke-width="0.6" />
<circle cx="652.4" cy="646" r="3.3" fill="#4D4D4D" stroke="none" stroke-width="0.6" />
<circle cx="652.4" cy="659.9" r="4.3" fill="#4D4D4D" stroke="none" stroke-width="0.6" />
<circle cx="652.4" cy="673.8" r="4.6" fill="#4D4D4D" stroke="none" stroke-width="0.6" />
<circle cx="652.4" cy="687.7" r="5.4" fill="#4D4D4D" stroke="none" stroke-width="0.6" />
<circle cx="652.4" cy="701.9" r="6.2" fill="#4D4D4D" stroke="none" stroke-width="0.6" />
<line x1="658.9" y1="631.9" x2="658.9" y2="701.9" stroke="#AAAAAA" stroke-width="0.9" />
<line x1="658.9" y1="631.9" x2="662" y2="631.9" stroke="#333" stroke-width="0.8" />
<text x="664.2" y="635.1" font-size="8.7" text-anchor="start" fill="#222"  stroke="#222" stroke-width="0.22">3</text>
<line x1="658.9" y1="649.2" x2="662" y2="649.2" stroke="#333" stroke-width="0.8" />
<text x="664.2" y="652.4" font-size="8.7" text-anchor="start" fill="#222"  stroke="#222" stroke-width="0.22">4</text>
<line x1="658.9" y1="666.5" x2="662" y2="666.5" stroke="#333" stroke-width="0.8" />
<text x="664.2" y="669.7" font-size="8.7" text-anchor="start" fill="#222"  stroke="#222" stroke-width="0.22">5</text>
<line x1="658.9" y1="683.8" x2="662" y2="683.8" stroke="#333" stroke-width="0.8" />
<text x="664.2" y="687" font-size="8.7" text-anchor="start" fill="#222"  stroke="#222" stroke-width="0.22">6</text>
<line x1="658.9" y1="701.1" x2="662" y2="701.1" stroke="#333" stroke-width="0.8" />
<text x="664.2" y="704.3" font-size="8.7" text-anchor="start" fill="#222"  stroke="#222" stroke-width="0.22">7</text>
<text x="646.2" y="730.5" font-size="7.4" text-anchor="start" fill="#222"  stroke="#222" stroke-width="0.22">FDR</text>
<defs><linearGradient id="gfdr" x1="0" y1="0" x2="0" y2="1"><stop offset="0.0" stop-color="#67001F"/><stop offset="0.1" stop-color="#B2182B"/><stop offset="0.2" stop-color="#D6604D"/><stop offset="0.3" stop-color="#F4A582"/><stop offset="0.4" stop-color="#FDDBC7"/><stop offset="0.5" stop-color="#F7F7F7"/><stop offset="0.6" stop-color="#D1E5F0"/><stop offset="0.7" stop-color="#92C5DE"/><stop offset="0.8" stop-color="#4393C3"/><stop offset="0.9" stop-color="#2166AC"/><stop offset="1.0" stop-color="#053061"/></linearGradient></defs>
<rect x="646.2" y="735.7" width="12.5" height="73.1" fill="url(#gfdr)" stroke="none" stroke-width="1" />
<line x1="658.7" y1="748.8" x2="662" y2="748.8" stroke="#333" stroke-width="0.8" />
<text x="664.2" y="752" font-size="8.7" text-anchor="start" fill="#222"  stroke="#222" stroke-width="0.22">0.005</text>
<line x1="658.7" y1="777" x2="662" y2="777" stroke="#333" stroke-width="0.8" />
<text x="664.2" y="780.2" font-size="8.7" text-anchor="start" fill="#222"  stroke="#222" stroke-width="0.22">0.015</text>
<line x1="658.7" y1="805" x2="662" y2="805" stroke="#333" stroke-width="0.8" />
<text x="664.2" y="808.2" font-size="8.7" text-anchor="start" fill="#222"  stroke="#222" stroke-width="0.22">0.025</text>
<line x1="658.7" y1="735.7" x2="662" y2="735.7" stroke="#888" stroke-width="0.6" />
<line x1="658.7" y1="808.8" x2="662" y2="808.8" stroke="#888" stroke-width="0.6" />
</svg></body></html>
